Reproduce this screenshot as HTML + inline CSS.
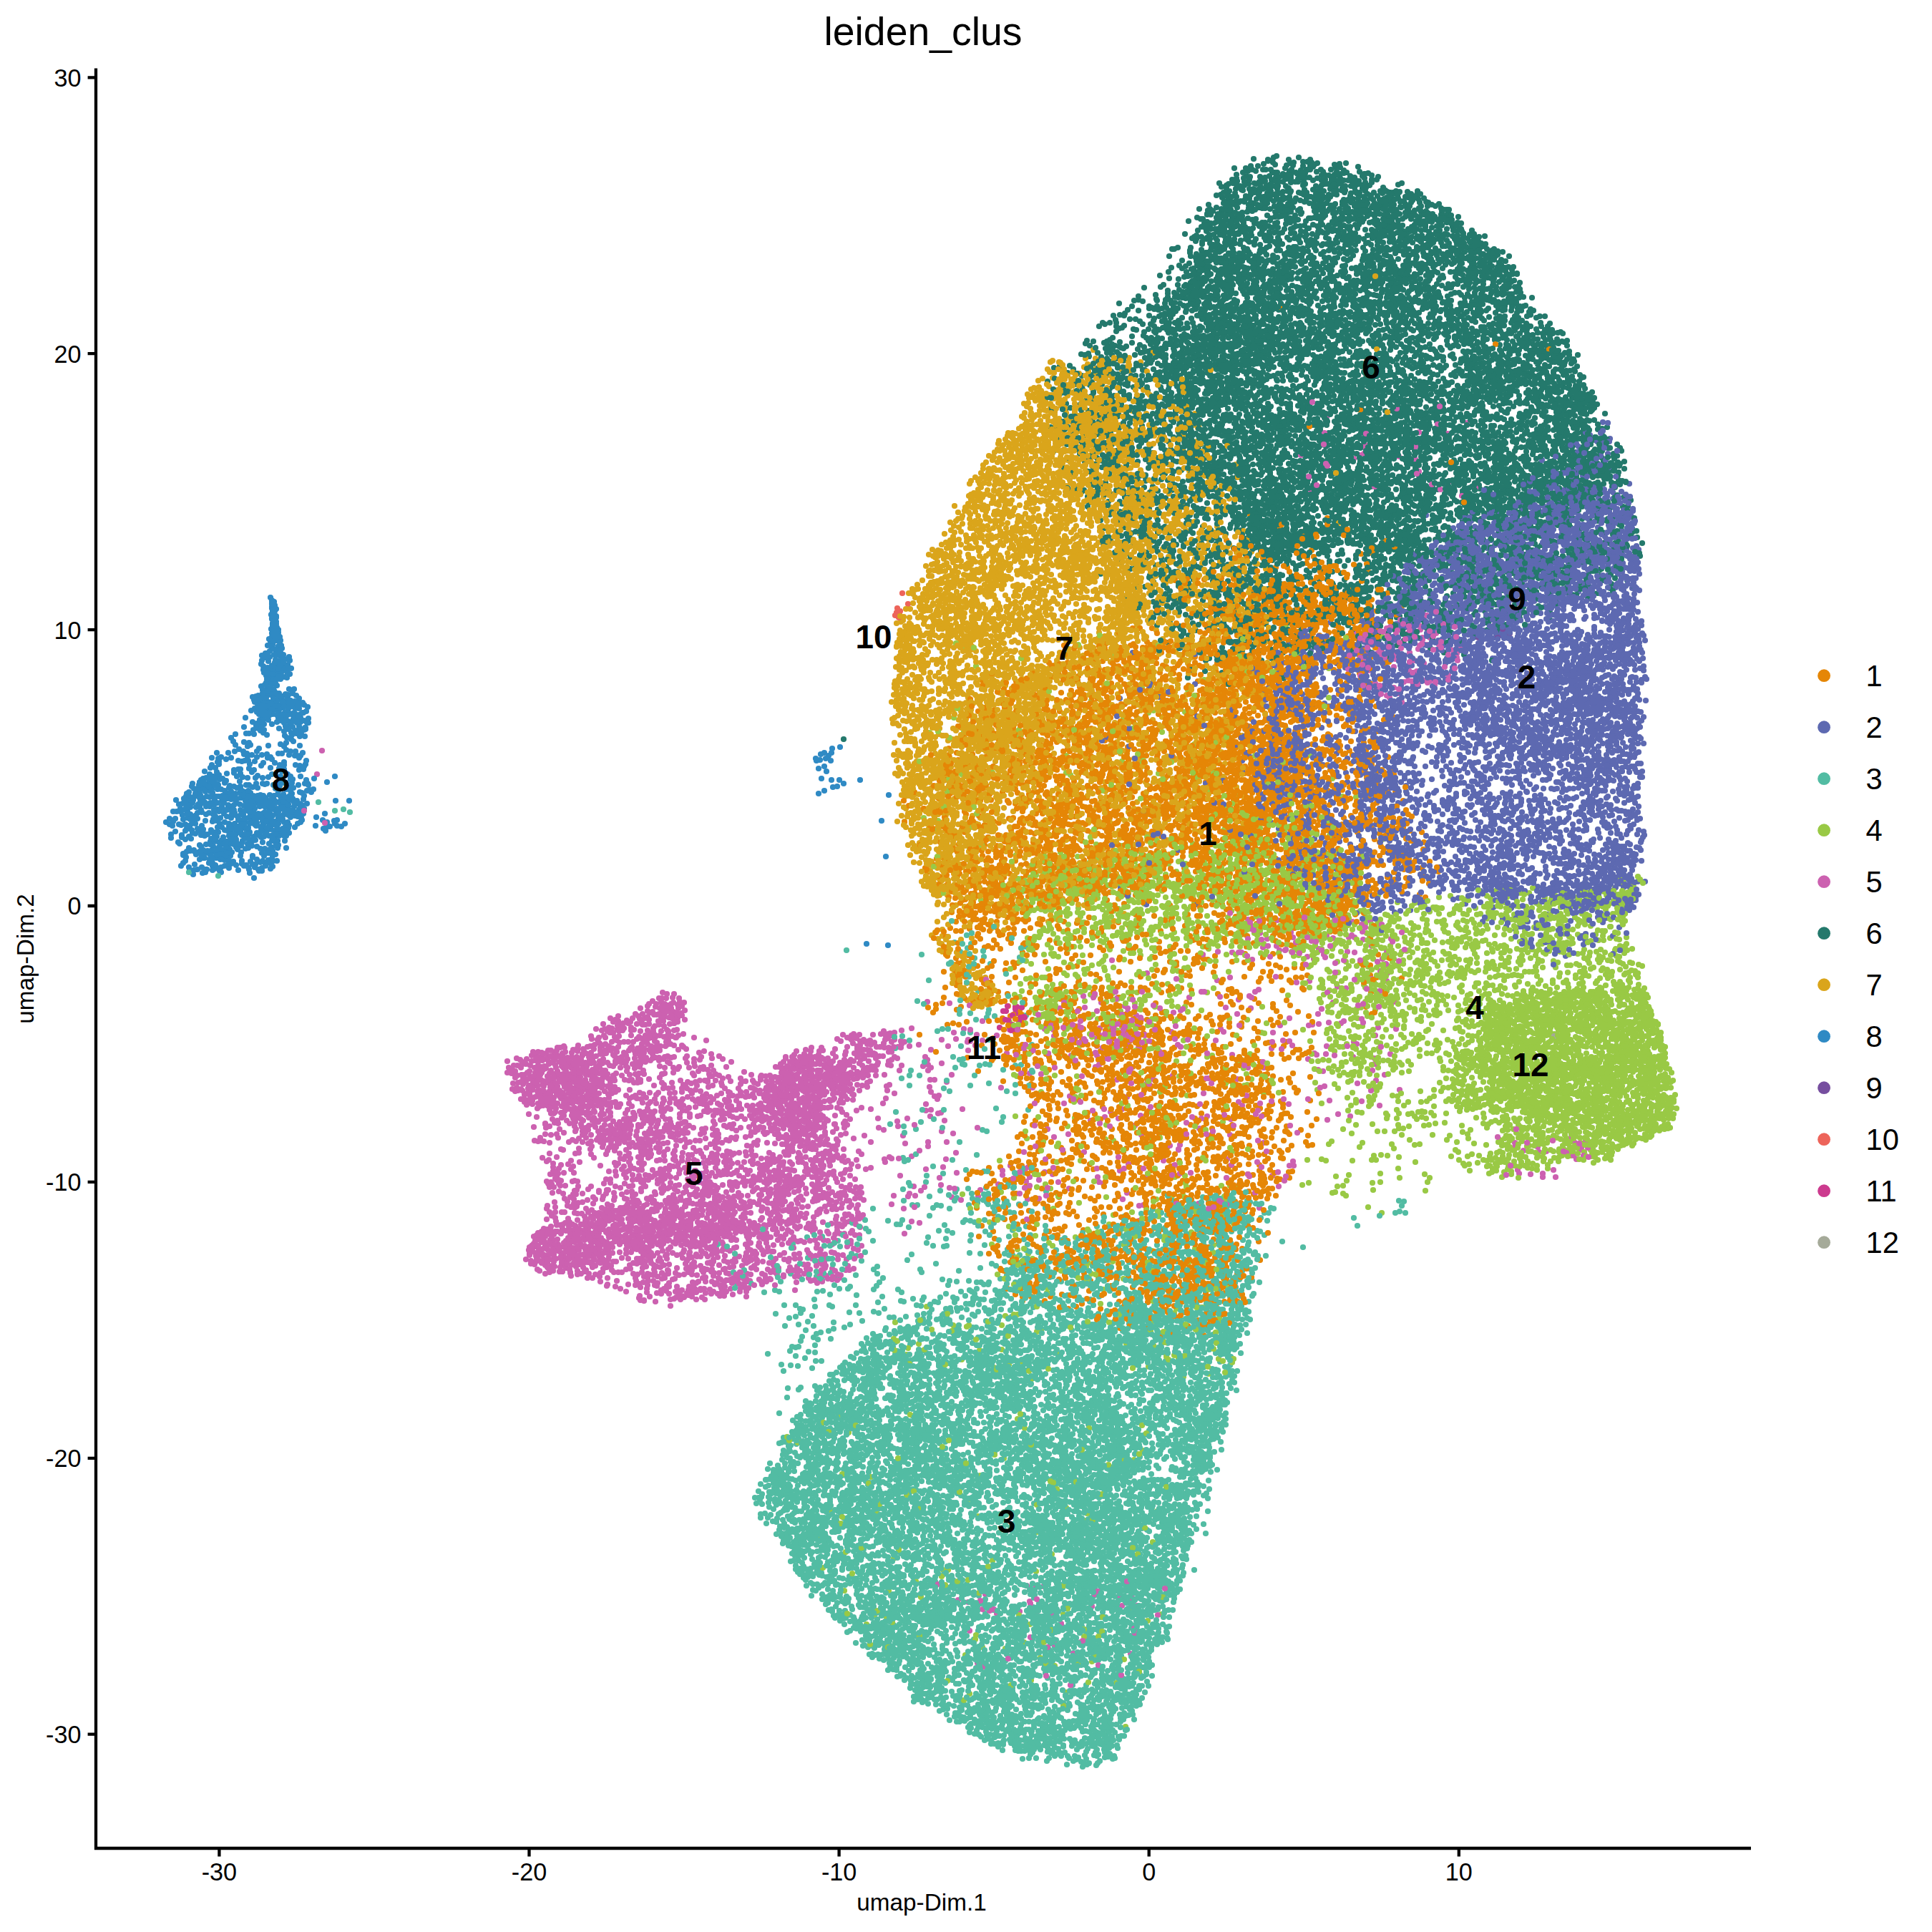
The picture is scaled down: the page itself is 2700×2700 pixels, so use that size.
<!DOCTYPE html>
<html><head><meta charset="utf-8"><title>leiden_clus</title>
<style>html,body{margin:0;padding:0;background:#fff}svg{display:block}text{font-family:"Liberation Sans",sans-serif;fill:#000}.t{font-size:34.2px}.a{font-size:33.3px}.l{font-size:45.8px;font-weight:bold;text-anchor:middle}.g{font-size:41.7px}</style></head><body>
<svg width="2700" height="2700" viewBox="0 0 2700 2700">
<rect width="2700" height="2700" fill="#fff"/>
<g fill="none" stroke-width="8.2" stroke-linecap="round">
<path stroke="#2F8AC4" d="m378 835zm2 9zm0 0zm0 6zm1 1zm0 4zm0-1zm0 1zm1-14zm0 5zm0 1zm0 0zm0 8zm1-14zm0 14zm3-4zm0 12zm-1 12zm-1-15zm-2 0zm0-2zm0 2zm0 7zm-1 6zm0 3zm-1-18zm0 7zm-1 14zm1 6zm0 5zm1 11zm1-17zm3 5zm4-1zm0-4zm3 28zm0 5zm-12-12zm-3 5zm-6 3zm-5 3zm-1 12zm3 3zm5 7zm3 1zm3 3zm2-6zm4 9zm0-16zm11 6zm5 4zm1-10zm3 13zm2-8zm4 29zm-3 2zm-4-2zm-7-17zm-14 19zm-5-17zm-4 14zm-5 4zm-2-2zm-2-5zm-10 19zm3-5zm3-1zm1 16zm3-10zm1 3zm5-3zm2 5zm1 5zm1-7zm5 6zm1-7zm1 4zm3-14zm4 16zm1-17zm3 8zm1 7zm1 5zm4-6zm0-11zm1 7zm1 7zm4 2zm1-9zm0 2zm5 7zm6-7zm1-5zm2 8zm9 26zm-5-14zm-4 7zm-3 7zm-2 0zm-2-9zm-10 7zm-4-7zm-2-4zm-4 10zm-2-4zm-1-11zm-3 17zm-4-17zm-8 1zm-8 10zm-5-9zm-6-4zm-3 19zm-24 17zm12-10zm28-4zm37 19zm7-10zm1 4zm3-1zm1-9zm1 14zm2-7zm6-3zm735 33zm-739 0zm-26-9zm-5-3zm-30 6zm-3 4zm-7 5zm-7-2zm-4-16zm-22 15zm-16 0zm-2 21zm15-12zm11 15zm6-13zm3 12zm2-11zm4-1zm4-6zm1 6zm21 3zm10-8zm12 16zm1-5zm2 4zm4-8zm16 4zm2-13zm3 3zm1 11zm1-14zm7 12zm1-5zm726-3zm25 35zm-9 4zm-15-21zm-698 15zm-31 2zm-6-10zm-11 4zm-3-4zm-39 2zm0 8zm-9 0zm-1-8zm-9 10zm-17-12zm-14-4zm-3 13zm-8-11zm-1 14zm-3-12zm-7 5zm-2-8zm-1 11zm-11-3zm-2 3zm-19 20zm4-6zm1 13zm1-6zm4 4zm2-5zm7 2zm0-14zm1 10zm4 4zm5-15zm1 3zm3 11zm1-8zm3 2zm3 10zm10 2zm1-8zm8 0zm1-11zm17 14zm12 1zm4-16zm1 18zm1 0zm2 0zm14-3zm4 4zm8-7zm5-2zm4 3zm16-4zm1 7zm15 1zm5-12zm4-1zm21 33zm-30 0zm-6-6zm-3-8zm-3 17zm-9-16zm0 3zm-3-1zm-5 14zm-1-18zm-1 5zm-2-5zm-4 8zm-1 7zm-6-13zm-2 14zm-1-7zm-6-3zm-3-2zm-9-4zm-5 20zm0-9zm-3-3zm-4 13zm-5 0zm-6-11zm-1-8zm-5-2zm-7 5zm-4 1zm-2 13zm-4-4zm0-15zm-2 8zm-1-3zm-2 16zm-4-12zm-5 1zm-1 6zm-16-3zm-6 1zm-2 3zm-8-11zm-4 15zm0-9zm-15 0zm-5 0zm-5 10zm8 18zm0-18zm16 14zm4-3zm3 5zm4-13zm1 4zm3-7zm19 16zm2-12zm4 15zm2-16zm1 9zm1 7zm19-10zm9 2zm6 2zm10-6zm0-1zm7 2zm2-7zm1 19zm4 0zm5-12zm0 6zm8-11zm8 14zm1-13zm0 15zm6 1zm13 0zm37-10zm10-8zm10 9zm10-9zm-71 22zm-11 13zm-1 4zm0-10zm-3-7zm0 9zm-5 7zm-4-16zm-6 18zm-6 0zm-3-19zm-2 16zm-9-4zm-21-12zm-2 5zm-2 4zm-1-8zm-2 5zm-1 14zm-1-19zm-3 8zm-11 1zm0 7zm-2 2zm-1-17zm-5 14zm-4-7zm0 4zm-13 3zm-17 2zm-25-19zm17 29zm4 3zm12 10zm7-7zm2-7zm7-2zm5 9zm8 8zm7-8zm5-10zm1 11zm5-4zm1 5zm2-7zm2-5zm2 13zm12 3zm21-6zm7-9zm1 11zm2-7zm6 6zm10-8zm-4 17zm-3 3zm-22-2zm-7 8zm-2-8zm-47 2zm-17 6zm-13 2zm-5-6zm-1-4zm-11-2z"/>
<path stroke="#CC61B0" d="m1855 581zm168 25zm-123 30zm5-11zm1 9zm2-12zm75 37zm-3-2zm-2-15zm-23-4zm-63 3zm132 33zm-192 11zm149 179zm-86 21zm13 1zm77-6zm9 21zm4-10zm9-6zm4 16zm25 0zm0 12zm-52-11zm-34 19zm-1-6zm-17 2zm-3-12zm-1 5zm-3 3zm-14 0zm-5 8zm4 4zm3 12zm35-5zm18 10zm3-5zm6 3zm5-2zm10-11zm34 17zm-19 13zm-7-5zm-3 2zm-5-3zm-22 0zm-20 10zm-24 2zm-180 322zm0 6zm171-4zm29 25zm-39 1zm-12-3zm-8 0zm-22 1zm-9-3zm-19 4zm-2 3zm-26-5zm-8-9zm-10 2zm-18 9zm-10-8zm-39 27zm28 10zm34-19zm12 6zm11-6zm20 15zm9 3zm14-6zm43-3zm24-9zm15 18zm7 20zm-336 0zm-49-18zm147 28zm58 13zm71-12zm51 10zm57-10zm11 29zm-86 1zm-109-15zm-23 11zm-52-11zm-117 8zm-23 7zm-243-1zm-358 3zm-12-16zm-1 8zm-1 5zm-8 7zm-4-8zm-7 7zm-45 19zm28-8zm10 0zm22 10zm4-4zm1-9zm1-2zm2 7zm1 2zm3-12zm2 4zm14-4zm9 3zm416 15zm108-18zm43 12zm9-8zm43 2zm3 12zm9-8zm52-4zm73-7zm35 1zm54 14zm40-6zm36 10zm44 20zm-48-17zm-31 1zm-54 2zm-83 5zm-69 4zm-46 9zm-3-17zm-12 8zm-19-8zm-9 4zm-2 12zm-9-13zm-1 9zm-3 5zm-26-17zm-2 14zm-32 0zm-1-9zm-61 0zm-64-1zm-100 9zm-6-2zm-40 1zm-11 1zm-2 4zm-10-5zm-208 4zm-15-5zm-9-6zm-18 10zm-6-2zm-1-15zm-6 2zm-3 16zm-3-6zm-2 7zm-5-19zm-12-1zm-8 5zm-15-5zm-4 7zm-4 11zm-2-6zm-6-7zm-7 11zm-1-16zm-2 9zm-96 30zm18 2zm3-4zm9 4zm11 0zm13-1zm2-4zm6 2zm14-6zm5 8zm12-13zm9 14zm2-4zm4-4zm2-8zm7 14zm10 1zm0-15zm13 0zm3 17zm2-21zm6 13zm4-11zm0 11zm4-11zm1 5zm7 14zm4-10zm2 6zm5-7zm7 0zm2-2zm2-6zm19 7zm6 5zm175-2zm16 4zm34-5zm6-10zm8 9zm14 5zm4-13zm0 14zm5 4zm1-15zm24 10zm9-4zm9-7zm37 11zm52-14zm3 2zm17-1zm34 18zm126-10zm22-1zm19-2zm16-5zm1 10zm30 6zm156-5zm60 7zm59-13zm47 14zm-22 6zm-30-2zm-49 18zm-2-21zm-12 6zm-62 12zm-22 0zm-10-8zm-12-10zm-176 5zm-13-4zm-2 16zm-34-16zm-2 3zm-179 8zm-15 6zm-4-4zm-1-7zm-55 7zm-15 0zm-9 6zm-5-2zm-9-11zm-16 7zm-5 1zm-10 4zm-3 1zm-1-17zm-7 11zm-5-2zm-4 2zm-1-8zm-3-2zm-3 5zm-9 4zm-7 4zm-1-8zm-6 9zm-1-12zm-6 14zm-3-6zm-2-7zm-2 10zm0-5zm-5 6zm-5-15zm-9 14zm-5 0zm-62-7zm-12-4zm-21 15zm-19-15zm-41-3zm0 15zm-2-12zm-6 2zm-9-3zm-3 3zm-10-4zm-4-1zm-1 14zm-17 1zm0-12zm-2 10zm-4-5zm-1-3zm-1-5zm-1 1zm-1 6zm0 8zm-5-13zm-5 11zm-5-1zm-10-3zm-4 6zm-14-7zm0-3zm-9 8zm-1 4zm0-19zm-3 20zm-5-18zm-7 16zm-1-4zm-1-5zm-4 3zm-2-5zm-3 11zm-1-16zm-9-3zm-3 7zm-4 4zm-4 2zm-1-11zm-5 4zm-3 2zm-1 9zm-1-14zm-4 7zm-2-8zm-2 6zm-5-7zm-8 12zm-12 2zm-12 3zm6 22zm3-8zm0-2zm3-1zm12 8zm3-3zm3-4zm6 4zm1-9zm3-2zm4 5zm2-3zm1 17zm7-3zm0-9zm4 6zm1-14zm1 20zm1-4zm0-12zm19 2zm1 11zm6-4zm7-6zm1 4zm5-2zm6-6zm2 3zm4 0zm3-3zm11 1zm5 7zm4-11zm7 16zm20-3zm6 1zm1-8zm6 11zm39-12zm30 15zm6-4zm9-9zm2 9zm2 5zm11-7zm4 0zm0 2zm2-11zm17 12zm1 4zm1-10zm40-5zm9 13zm5-12zm6 1zm1 7zm12-6zm8 9zm1-7zm3-6zm1 4zm7 12zm1-19zm0 6zm8 4zm5-10zm3 10zm0 4zm4-9zm0 11zm2-8zm2 10zm0-15zm1-3zm5 17zm1-11zm8-3zm1 14zm4 2zm5-5zm8 3zm0-15zm3-2zm1 19zm10 0zm0-6zm1-4zm2-7zm2 13zm2-7zm3 0zm0 3zm0-8zm3 14zm1-12zm4 5zm5-1zm0-9zm11 1zm7 12zm27 5zm57-7zm23 3zm7-10zm109-2zm122 9zm42 5zm8-6zm3 2zm75-3zm40 1zm120-11zm86 5zm21 21zm-105-5zm-276 15zm-80-1zm-257 3zm-26-16zm-19 11zm-17 1zm-11-9zm-1 7zm0 8zm-1-15zm-11 17zm-8-1zm-3-4zm-3 2zm-2-5zm-4-11zm-10 1zm-2 17zm-14-2zm0-6zm-7-12zm-1 19zm-5-5zm-2-3zm0-6zm-1 13zm-1-10zm-3 5zm-3-1zm-1-12zm-3 21zm0-19zm-7 16zm-2-13zm-2 11zm-6-10zm-8 10zm-23-2zm-2 6zm-9-11zm-2-1zm-36 12zm-6-2zm0 3zm-4-16zm-18 13zm-11-1zm-3-15zm-46 7zm-6 4zm-13 0zm-15-5zm-1-7zm-5-1zm-15 19zm-2-9zm-6 9zm-5-3zm-6-3zm0-8zm0 14zm-2-3zm-5-1zm-1 3zm-3 1zm-1-10zm-1-5zm-2 11zm-2-7zm0-5zm-4 6zm-8 8zm-7 0zm-2-7zm-7-7zm-7 4zm-5 8zm-3-15zm-9 0zm0 13zm0-6zm-3 8zm-3-15zm-1 5zm0-2zm-4 7zm-7 2zm-9-6zm-4 1zm18 15zm1 17zm12-8zm14-4zm11 9zm3-12zm15 0zm11 9zm3-11zm2 12zm6 3zm13-9zm1 6zm1 2zm19-12zm3 5zm0 8zm26-13zm6 13zm2 3zm7-5zm2 5zm2-17zm3 13zm5 7zm18-14zm2 13zm10-19zm23 11zm5 9zm23-18zm1 4zm21 11zm0-6zm5 4zm10 5zm9-19zm0 3zm3 5zm0 10zm21-8zm5-2zm1 4zm3-7zm5 14zm8-6zm0-7zm3 13zm6-14zm4 10zm0-9zm1 1zm7 3zm0-8zm4 11zm1-4zm11 3zm1 3zm0 1zm7-16zm1 5zm4-1zm1-5zm2 17zm1-8zm0 4zm1-7zm4-4zm1 8zm11 9zm2-12zm15 11zm50-9zm17-8zm60 10zm6 8zm1-9zm44-1zm199 11zm8-7zm16-4zm26 9zm93 1zm44-20zm5 5zm460 37zm-341-17zm-135-1zm-44 13zm-90-4zm-62-7zm-208 15zm-88-5zm-44-4zm-27-6zm-4 16zm-1-12zm-6 6zm-7-11zm-6 10zm-4-5zm-8 10zm0-3zm-2 6zm-1-9zm-2-3zm-4 6zm-2 1zm-1-8zm-10-6zm-14 0zm-8 12zm-9-11zm-9 14zm-3-3zm-6 6zm-20-19zm-7 14zm-16-12zm-7 16zm-1-10zm-2-4zm-16 11zm-18-5zm-2 10zm-9-13zm-4 6zm-11-8zm-2 14zm-5-18zm-1 12zm-2 5zm-8-10zm-9 11zm-5-16zm-13 6zm0 3zm-10-2zm-1 6zm-1-11zm-1-3zm-2-2zm-5 1zm-2 13zm-5 0zm-3-5zm-7 5zm-6 3zm-4-8zm-2 7zm-2-3zm-5 5zm-4-16zm0 10zm-2-13zm-16 19zm-6-19zm-4 6zm-1 6zm-7-4zm-4-4zm-24 8zm-5 2zm-1-6zm-7 20zm50 5zm4 10zm5-19zm5 4zm3 8zm4-3zm17 4zm1-5zm7 10zm1-13zm5 12zm4-2zm2-6zm1-8zm9 9zm6 3zm12 1zm1-8zm2 5zm9 3zm3-4zm1-3zm1 8zm4-6zm5-6zm3 8zm6-8zm7 8zm15-11zm12 11zm9 7zm9-10zm21 5zm1 5zm1-15zm8 8zm10-3zm9-2zm14-3zm27-4zm24 14zm18-4zm6 0zm0-7zm1 14zm4-1zm7 1zm0-14zm3 17zm0-5zm1-14zm3 11zm3-9zm3 4zm3 8zm7-1zm6 1zm6 2zm6-2zm5-14zm7-2zm11 7zm24 5zm45-9zm211 2zm122-3zm54 14zm70-14zm47 11zm351 6zm79-14zm5 8zm9 7zm6-10zm-8 13zm-5 13zm-42-11zm-32-1zm-322 15zm-92-3zm-68-13zm0-1zm-21 16zm-111-12zm-241 6zm-28 3zm-10 1zm-39 1zm-16 3zm-2-18zm-2 16zm-13-1zm-6 0zm-32-4zm-5 7zm-5-13zm-20-1zm-1 14zm-7-1zm-8-9zm-2 9zm0-4zm-5 4zm-1-4zm-16-4zm-5-1zm-2 9zm-18 2zm-5-13zm-6-2zm0 11zm-4-12zm-6 6zm-6-9zm-1 16zm-2-5zm-6-5zm-12 5zm-9 6zm-7-9zm-6 10zm-18-16zm-2 12zm-8-14zm-4 16zm-8-12zm-11 3zm-1-6zm0 9zm-9 10zm-4-16zm-3 15zm-1-8zm-26-5zm-2 14zm-5-18zm-12 5zm-17 5zm-26-6zm-10 15zm-10-21zm-16 6zm-1 9zm-3 2zm5 18zm4-4zm5 12zm6-21zm4 11zm51-10zm22 14zm11-13zm3 16zm4-10zm2-7zm9 19zm4-1zm7 2zm1-7zm9 3zm1-10zm3 7zm6-3zm2-5zm1 10zm3 1zm0-8zm2 10zm0-5zm5 0zm3 3zm8 1zm26-10zm7 9zm17-6zm12 3zm5-6zm3-7zm1 12zm4-10zm28 5zm9 13zm5-9zm10-9zm4 15zm0-2zm12-9zm1-5zm5-2zm3 16zm18 1zm14-4zm8-7zm2-3zm3 4zm6 4zm11 0zm6 3zm23-8zm0 9zm130-12zm94-2zm25 2zm2 14zm21-7zm11 3zm94-5zm6-3zm32 11zm37-15zm138 14zm343-8zm2 5zm16 1zm17-1zm15-5zm-384 23zm-212 9zm-33-13zm-48 7zm-60-10zm-39 4zm-14 16zm-66-15zm-28 8zm-84-5zm-2 6zm-13-9zm-6 4zm-14 11zm-10-11zm-7 7zm-5-5zm0-5zm-6 12zm0-5zm-14-3zm-7-11zm-7 3zm-5 2zm-5 7zm-13 3zm-12-3zm-5-7zm-4-3zm-4 18zm-6-10zm-6 5zm-2-14zm-5 20zm-1-20zm-3 6zm-11 1zm-27 2zm-2 4zm-2-7zm-9 14zm-8-6zm-5-13zm-3 10zm-2 4zm-3-11zm-25 2zm-28 12zm-20-4zm0-4zm0-9zm-17 6zm-6-4zm-6 6zm-9 7zm-14-13zm-7 12zm0-2zm-11-6zm-4 4zm-8 6zm-7-17zm-4 13zm-2 5zm-17-19zm-3 4zm-7 5zm-2 8zm-2-15zm-1 6zm-5-7zm0 38zm11-9zm1 7zm17-2zm5 2zm8-1zm2-5zm19 10zm5-15zm11-4zm10 17zm5-12zm15-2zm3 15zm2-3zm9-10zm13 8zm11 5zm7-7zm12 6zm5-15zm4 1zm3 7zm10-5zm6 4zm5 0zm0-4zm6 15zm4-1zm1-8zm5-4zm0 11zm1-3zm15 1zm4-11zm1 5zm11 2zm2-4zm13-8zm3 13zm4-12zm3 14zm4 2zm8-5zm14-7zm4 11zm6-13zm3-3zm7 15zm1 3zm2-9zm4-7zm4 10zm1 8zm4-1zm5-5zm3-3zm3 7zm4 0zm0-13zm2 5zm1-8zm5 13zm1-10zm14 2zm2-4zm15 11zm2 7zm11-8zm17-7zm14 11zm2-5zm64 5zm6-17zm61 1zm37-1zm69 4zm162 8zm77-2zm85 6zm-168 18zm-386-8zm-5 5zm-2-3zm-12 7zm-5-8zm0 9zm-20 2zm-20-16zm-9 19zm-8-11zm-14-2zm-3 8zm-5-3zm-10 2zm-3 3zm-1-5zm-2-8zm-6 15zm-6-1zm-2-16zm-5 17zm-21-5zm-8-10zm-1 17zm-8-2zm-6-8zm-4 7zm-2-3zm-3 2zm0 5zm-2-8zm-2 4zm-7-10zm-1 14zm-1-17zm-1 14zm-3-8zm-8-8zm-9 13zm0-11zm-4 15zm-1-15zm-3-3zm-5 8zm-3 10zm0 2zm-7-3zm-4 0zm-1-17zm-6 4zm-1 14zm-2-14zm-3 16zm-2-8zm-6-8zm-1 11zm-8 2zm-1-4zm-9 2zm-3 3zm-1-9zm-3-6zm-2 4zm-1 9zm-10-6zm-2 2zm-1-1zm-9 4zm0-8zm-6 13zm-2-21zm-8 11zm-9 8zm-2-18zm-4 6zm0 5zm-5-10zm-4 10zm-4 5zm-1-16zm-8 5zm0 4zm-3-4zm-4 11zm-4-5zm-5-10zm-1 15zm-5-15zm-3 17zm-4-2zm-5 3zm-1-11zm-9-9zm-2 18zm-12-13zm-25 29zm5 4zm3-4zm3 8zm1-10zm21-5zm0 11zm7-15zm5 17zm0-14zm3 10zm1-12zm4 11zm4 7zm6-2zm1-3zm6-2zm1-6zm11 1zm0 6zm4-9zm1 11zm0 3zm1-18zm1 20zm2-14zm1 12zm2-5zm8 6zm17-3zm2-5zm1-9zm4-1zm2-2zm0 10zm4-5zm2-2zm1 0zm3 6zm6-1zm5 10zm10-4zm6-3zm2 1zm2 7zm5-19zm2 3zm2 8zm2 8zm1-13zm4 5zm2-1zm12-1zm4 9zm11-7zm0 8zm5-16zm6 9zm3-4zm4 13zm7-9zm1 5zm1-2zm1-6zm2 9zm1-12zm2 4zm4-3zm6-2zm10 0zm6-3zm9 5zm4-7zm10 1zm0 4zm1 3zm3-5zm1 4zm11-5zm0 4zm3 15zm3-13zm7-1zm0 14zm15-15zm16-2zm8 13zm5 2zm4-1zm8-18zm12 1zm0 16zm12 0zm5-12zm9 9zm2-5zm13-1zm15 2zm69-2zm-60 17zm-33 13zm-8-15zm-10 14zm-6-7zm-7 9zm-5 4zm-5-8zm-2-4zm-10 12zm-8-6zm-3-12zm-14-2zm-3 15zm-12-5zm-6 0zm-7-2zm-5-6zm-5 8zm-3 3zm-3-5zm-6 4zm-10 5zm-22-11zm-1-7zm-13 13zm-2 2zm-2-7zm-5-2zm-7 5zm-2 7zm-12 1zm-3-16zm-2 18zm-6-12zm-4-7zm-6 14zm-9-11zm-3 3zm-4 9zm-11-16zm-6 16zm-2-14zm-11 7zm-11-10zm-5 8zm-3-4zm0-4zm-3 21zm-3-13zm-19-3zm-5 13zm-5-9zm-6 8zm-2 2zm-1-8zm-5-5zm0 4zm-2 4zm-6-10zm-4 9zm-3-10zm-1 13zm-5-16zm-6 16zm-1-6zm-3 8zm-3-2zm-1-4zm-2 6zm0-16zm-3 3zm-1 3zm-2 13zm0 0zm-5-16zm-2 6zm-8-1zm0-5zm-2-2zm-2-2zm-5 15zm0-8zm-5 11zm-6-6zm-1-4zm-4 8zm-1-13zm0 9zm-4-3zm0-5zm-4 9zm0-9zm-5 17zm12 7zm1-3zm11-1zm3 5zm6 10zm14-1zm3-9zm1 9zm5-5zm11-7zm1-5zm2 10zm2 6zm3-9zm2 13zm2-15zm3 12zm5-13zm5 3zm1-4zm0 8zm4-2zm11 4zm2-7zm3 5zm9-8zm4 0zm3 15zm16-10zm11 13zm6-3zm5-15zm1 7zm11 4zm1 4zm9-15zm9 12zm1 5zm1-13zm9 12zm16-17zm2 16zm19-3zm3-2zm4 1zm5-10zm1 13zm1-10zm2-7zm14 14zm12-11zm11 15zm10 2zm2-17zm4-2zm0 11zm8-7zm7 15zm16-12zm0 7zm0-7zm5 13zm2-9zm8-12zm8 11zm7 5zm3 4zm0-10zm9-3zm5 12zm1-12zm23-3zm11 9zm22-4zm-10 13zm-2 4zm-10 2zm-8-5zm-5 0zm-17 7zm-20 2zm-37-5zm-12 4zm-3-3zm-13 2zm-4 1zm-1-4zm-12 1zm-23 12zm-2-4zm-2-10zm-18-1zm-7 16zm-8 0zm-3-9zm-6 11zm-30-6zm-3-11zm0-4zm-4 5zm-19 3zm-2 11zm-4-17zm-5 15zm-6-9zm-11 5zm-18 3zm-11-3zm-11-11zm-10 2zm66 25zm6 7zm0-1zm4-11zm4 6zm8 7zm8-11zm11 0zm2 17zm5-10zm2-10zm1 8zm11 0zm4-6zm7 5zm6-6zm0 10zm8-3zm4 3zm30-11zm9 4zm10-4zm9 0zm405 412zm10 0zm164-14zm-58 28zm-125 7zm-62-10zm-24 11zm40 16zm32-3zm23 2zm22 3zm98-13zm21 0zm30 2zm-264 33zm164 9z"/>
<path stroke="#99C945" d="m1797 875zm-242 41zm-209-11zm18 26zm419 7zm-85 25zm-15-13zm-23 14zm-64-3zm-78-3zm256 31zm82 4zm-77 13zm-123-11zm-44-2zm-7 3zm-35 8zm-271 20zm48-1zm81 1zm196-1zm162 5zm11-10zm17 31zm-145-9zm-179 16zm78 8zm24 1zm72-5zm168-4zm30 32zm-25 10zm-218-17zm-123 2zm-6-3zm-75 13zm290 22zm64 3zm12 1zm95-6zm19 1zm3-3zm-142 32zm-42-17zm-25 8zm-398 9zm20 4zm16 8zm30 1zm354 3zm1-12zm7 17zm19-10zm23 3zm41-2zm16 4zm15 20zm-4-10zm-27 5zm-4 6zm-5-2zm-21 2zm-1 6zm-24-10zm-24-5zm-13 14zm-43-6zm-99 3zm-36-2zm-177 6zm-23-20zm88 29zm102 11zm16-17zm2 20zm13-9zm21 5zm12-1zm16-2zm17-3zm5-4zm9 12zm14-3zm10 3zm26-4zm15 1zm31-2zm7-11zm9 15zm2-11zm7-2zm2 6zm5 9zm2-10zm11 11zm6-15zm27 7zm1-4zm11-3zm6 13zm21-3zm2-3zm19-8zm6 9zm402 23zm-402-4zm-3 5zm-9-4zm-19 3zm-10 0zm-3-5zm-9 6zm-5-15zm-12 18zm0-11zm-6 1zm-4-8zm-7 14zm-5-2zm-10 7zm-21-5zm-18 0zm0-7zm-2-5zm-1-3zm-9 2zm-21 3zm-15 9zm-4 0zm0 6zm-14-2zm-2 2zm-1-4zm-8 0zm-11-8zm-15 4zm-16-6zm-4 4zm-7 0zm0-10zm-11 10zm-1 5zm0-14zm-6 2zm-2 16zm-6-10zm-14 6zm-13-6zm-1 5zm-1-1zm-7-3zm-12-4zm-6 15zm-25-2zm-17-15zm-17 5zm-3 4zm-2-4zm-61 4zm49 24zm44-13zm7 11zm1-8zm15 0zm7 11zm14 2zm13-13zm7-4zm0 6zm9-4zm20 8zm10 0zm13-3zm2-7zm7 5zm46 14zm2-3zm0-6zm6-1zm3-2zm4 10zm10 2zm7-14zm5 9zm3 1zm11-4zm4-6zm4 8zm13-8zm4 4zm8 0zm9 4zm16-5zm12 12zm13-9zm6-8zm9-4zm18 2zm1 6zm1 6zm11 0zm42-5zm18 0zm25 10zm101 1zm63-7zm12 5zm8-9zm11 5zm4 2zm12 0zm37 4zm14-3zm22-2zm17 6zm14-7zm4 5zm5 0zm15 2zm5-1zm9-15zm1 11zm3-9zm0 6zm-14 22zm-6-10zm-8 2zm-6 4zm-21-6zm-4 13zm-7-15zm-9 3zm0 8zm-2-6zm-2-6zm-5 12zm-1-5zm-16 1zm-1 6zm-4-13zm-9 1zm-1 8zm-2 6zm0-9zm-6-6zm-8 10zm-4-3zm-6 7zm-7 5zm-11-7zm-4-1zm-11 0zm-2-12zm-3 7zm-18 13zm-2-19zm-4 8zm-17 6zm-26-3zm-3 4zm-22-16zm-8 14zm-50-7zm-40 13zm-12-1zm-10-14zm-21 15zm-11-14zm-7 6zm-2 4zm-12-13zm-4 14zm-4-1zm-33 5zm-10-4zm-17 4zm-3-3zm-1-16zm-6 15zm-12-2zm-8-5zm-3 10zm0-18zm-1 11zm-4 8zm-11-2zm-10-18zm-32 6zm-1-6zm-9 7zm-23-7zm-15 10zm-28-8zm-4 6zm-2-8zm-3 16zm-9-10zm-7-2zm-1-4zm-19 10zm-2 8zm-9-7zm-13-11zm-10 14zm-5-10zm-12 10zm-8-15zm-1 8zm-9 13zm-9-11zm-7 4zm-4 5zm-3-9zm-3 5zm-7-13zm-1 15zm-2-13zm-2 11zm-32-2zm-48-9zm102 26zm1-1zm17-3zm4-3zm51 12zm1-6zm3 12zm1-6zm12-11zm5 19zm16 0zm12-20zm33 17zm1-18zm0 6zm2 8zm15-6zm9-2zm10 8zm15 0zm4 4zm8-4zm1 5zm5-2zm13-3zm4-8zm27-6zm21 5zm34 16zm9-19zm0 6zm1 3zm10-9zm7 12zm5-9zm20 15zm12-7zm8-6zm14-4zm0 14zm23-6zm1 4zm1-9zm8 10zm8-1zm1 6zm1-8zm2-4zm36-8zm7 13zm10 6zm6-12zm2-7zm4 15zm22-1zm4 2zm15 0zm3 3zm11 0zm11-6zm4-12zm14 6zm9-3zm0 2zm18 2zm0-9zm1 5zm6 4zm4-7zm13 11zm15 7zm7 1zm2-16zm2 9zm2-12zm2 11zm7-5zm6-1zm1-1zm5 10zm3-15zm3 20zm4-2zm13-13zm4 3zm0 9zm2-4zm1-3zm6 1zm1 4zm0-10zm8 12zm24-11zm7-6zm13 11zm6 31zm0-9zm-23 1zm-9-8zm-2-2zm-5 13zm-4-8zm-25 0zm-10 13zm-4-19zm-11 11zm-10 6zm-1-4zm-3-3zm-5-6zm-4 4zm-24 9zm-2-4zm-3-5zm-26-2zm-23-8zm-3 16zm-4-13zm-18 11zm-27 5zm-10-19zm-21 3zm-1 17zm-2 0zm-6-5zm-12-15zm-2 15zm-5 5zm-4-2zm-1-6zm-11 2zm-20 2zm-2-10zm-5 1zm-2-4zm-9 7zm-4-4zm-9 14zm-5-5zm-19 3zm-2 3zm-27-1zm0-9zm-3 4zm-2-10zm-2-4zm-3 11zm-8-12zm-8 18zm-2-11zm-3 3zm-38 6zm-5-14zm-17 7zm-17-1zm-8-3zm-25 8zm-7-7zm-28 3zm-31-4zm-1 9zm-3-5zm-26-7zm-3 6zm-1-6zm-18 3zm-34 5zm-13-1zm-4 8zm-12-8zm-11-4zm-7 12zm-2-14zm-3 1zm-6 6zm-5 8zm-6-14zm-10 13zm-22-9zm-2 4zm-16 1zm5 10zm28 12zm32-10zm12 12zm58 6zm9-9zm14 3zm16 2zm4-8zm21-6zm23-1zm23 1zm8 3zm13-4zm19 0zm41 10zm46 4zm6-7zm12-7zm11 11zm1-11zm16 8zm8-4zm12 4zm42 6zm3-14zm5-2zm6 4zm5 1zm5 13zm8 2zm6-18zm5 8zm11 8zm4-7zm20-3zm6 13zm3-10zm14-1zm7 11zm4-3zm5-1zm0-12zm3-3zm29 1zm21 7zm12 2zm4-1zm3-8zm5 6zm10-3zm11 1zm4 4zm6-4zm5 8zm4 6zm7-10zm3 2zm9-9zm7-1zm38 16zm0-12zm8 4zm9-1zm2 11zm7-3zm18-12zm1 10zm4 1zm1-15zm3 4zm3 6zm1-10zm10 4zm14 24zm-10 7zm-9 2zm-29-17zm-7 11zm-17 1zm-2-8zm-2-4zm-7 15zm0 3zm-4-2zm-5-11zm-23 13zm-6-8zm-3-9zm-15 9zm-9 5zm-16 1zm-10 5zm-5-1zm-12-19zm-1 8zm-1-3zm-5 1zm-16-1zm0 5zm-15 3zm-2-10zm-3 13zm-14 2zm-3-3zm-2-5zm-12-8zm0 15zm-21-10zm-4-6zm-15 12zm-3-13zm-5 13zm-1-14zm-24 14zm-10-5zm-1-7zm-2 9zm-4-3zm-8 13zm-5-15zm-15 3zm-8 9zm-19-10zm-4-6zm0 10zm-12-10zm-14 11zm-18-10zm-8 6zm-112 7zm-35-10zm-36 9zm-6-4zm-30 2zm-68-13zm-2 2zm-25 11zm-12 7zm-7-14zm-9 12zm0-15zm-53 23zm14 0zm23 15zm32 2zm13-1zm32-20zm2 16zm5 2zm50-15zm27 8zm19-5zm45 11zm125-7zm23 6zm4-9zm10-4zm0 17zm30-8zm1 5zm7-9zm2-4zm9 1zm1 11zm3-9zm9 1zm3 4zm6 1zm4-5zm9 8zm3-5zm6 9zm4-15zm0 5zm23-1zm6-1zm4-8zm11 16zm3-13zm11 0zm29-2zm25 20zm8-4zm2-7zm3 3zm2-11zm7 18zm5-1zm9-2zm14-4zm1 2zm5-7zm6 13zm6-10zm5 9zm7 1zm23-15zm6 10zm13-10zm11 15zm7-10zm6 5zm7-16zm13 19zm5-2zm18-5zm8 4zm14-7zm0-7zm20 15zm5 13zm-3 8zm-1-6zm-1 4zm-5 7zm0-11zm-4 11zm-14-10zm-1-6zm-9 4zm-2 11zm-11-2zm-6-11zm-2 13zm0-7zm-5-11zm-12 2zm0-4zm-4 0zm-2 16zm-2-3zm-2-6zm0 14zm-3-4zm-1-9zm-1-8zm-1 13zm-1 4zm-7-2zm-7 2zm0-10zm-1 6zm-3 3zm0-8zm-3 13zm-1-5zm0-7zm-3 9zm0-9zm0 2zm-4-7zm-3 14zm-6-8zm-1 5zm-3 2zm-2-15zm-1 10zm0-11zm-7 11zm-2-7zm-5-1zm-2 13zm-1 4zm-2-6zm-4-5zm0 9zm-2-18zm-5 18zm-4-14zm-1 6zm0 1zm-1-12zm-3 5zm-8 11zm0-4zm-8 6zm-3-13zm-6 11zm-2-13zm-18 15zm0-15zm-1 7zm-4-7zm-25 2zm-8-5zm-5 19zm-15-13zm-2 12zm-11-5zm-2 6zm-5-19zm-6 14zm-8 5zm-1-19zm-23 12zm-13-7zm-6 7zm-6 3zm-2-6zm-6-3zm-1 8zm-7-1zm-13-4zm-3 5zm-8-7zm-3 5zm-4-1zm-12 10zm0-10zm-2-11zm-1 10zm-4-9zm-3 4zm-21-1zm-50 1zm-113-4zm-44 2zm-6 10zm-6 1zm-24-9zm-7 2zm-5 11zm-13-18zm-5 1zm-15 9zm-7-8zm-9 12zm-16-9zm-6-1zm-8 9zm-15-9zm-5 17zm-3-13zm-1 5zm-2 5zm-14-17zm-1 11zm-11-12zm-1 16zm-13 3zm-1-5zm-18 4zm-6-11zm-7-3zm29 26zm6 6zm4-4zm12 6zm4 4zm1-19zm7 17zm8-12zm33 8zm5-4zm7 6zm30-5zm2-6zm64 6zm16 5zm97 1zm145-1zm9-1zm12-8zm2 5zm11-9zm9 18zm12-20zm12 10zm7 2zm1 5zm2-9zm5-9zm7 6zm4 11zm5 2zm6-15zm12 0zm3 0zm5 4zm12-4zm12 14zm6-14zm28 17zm2-15zm4 9zm1-14zm8 20zm7 0zm5-10zm0-8zm8 14zm2-4zm2 7zm2-19zm10 6zm2-4zm7 0zm1 8zm1 4zm1 6zm3-7zm12-6zm3-4zm4 14zm3-6zm4-10zm2 12zm4-1zm0-9zm10 10zm1-7zm4 6zm9 2zm2-15zm0 12zm1 6zm0-10zm9 4zm1-1zm3-11zm1 9zm12 6zm3-11zm2-3zm3 5zm2 14zm12-12zm1 5zm0-9zm6 13zm3-11zm13 15zm4-8zm2-5zm1 3zm6-1zm11 4zm1-12zm4 7zm7 8zm5-5zm1 6zm6 2zm6 18zm-3-14zm-1 19zm-6-7zm-5-14zm-1 11zm-3-8zm-1 15zm-4-18zm-2 5zm-4 1zm-3 2zm-1 11zm-1-9zm-7-8zm-2 10zm0 2zm-1-6zm-8 7zm0 2zm-3-14zm0 16zm-3-10zm-19 11zm-2-20zm-20 16zm0-7zm-1-5zm-1-1zm-3 12zm-2-10zm-10 0zm-4 3zm0-6zm-4 7zm-8-4zm-6 2zm-1 14zm-2-11zm-2-4zm-1-3zm-3 12zm-1-13zm-4 4zm-2 10zm-4 1zm-1-4zm-2-13zm-18 12zm-12-7zm-5 3zm-2 12zm-5-19zm0 20zm-3-3zm-4-9zm-1-5zm-3 11zm-3-10zm-3-5zm-1 11zm-4-2zm-2-3zm-1 9zm-5-12zm-4-1zm-6-1zm-3 7zm-1 13zm-6-19zm-8 16zm-1-15zm-5 14zm-18-10zm-17 3zm-16-9zm-55 2zm-9 6zm-5 10zm-13-2zm-10 0zm-15 1zm-16 3zm-11-3zm-3-6zm-9-3zm-34 0zm-51-9zm-3 14zm-4-1zm-159-10zm-33 17zm-3-15zm-7 5zm-35 9zm-3-4zm-87 1zm-3-16zm-9 32zm58 10zm27-11zm40-9zm6 12zm14-5zm41 6zm44-11zm13 5zm164-4zm2 18zm32-4zm14 4zm3-14zm9 5zm13-3zm8-9zm33 14zm6 2zm25-13zm18 17zm13-18zm5 4zm9 14zm22-20zm12 21zm2-19zm12 8zm2 2zm8 9zm6-15zm3 3zm4-4zm2 5zm8-5zm0 11zm5-15zm3 7zm7 7zm1-5zm1 0zm2 10zm2-5zm1-14zm3 13zm3-8zm7 7zm2-3zm2-10zm4 8zm3-8zm3 4zm1 12zm2 3zm3-8zm6 0zm1-6zm5 7zm0 8zm2-7zm4-8zm0-4zm3 11zm4 3zm3-15zm4 3zm6 16zm0-18zm22 10zm8 0zm5 6zm12-16zm1 10zm4-6zm6-5zm6 9zm1 5zm3 1zm3-4zm1-4zm3-2zm2 10zm1 6zm10-9zm4 6zm5-8zm3-8zm1 13zm7-5zm0 7zm18-2zm2-6zm10 33zm-6-3zm-2-10zm-3 8zm-2-3zm-7 6zm-7-15zm-2 1zm-1 12zm-7 1zm-2-10zm-4 3zm-4-9zm0 12zm-1-6zm-1 10zm-2-4zm-5 5zm-5-14zm-2 7zm0-4zm-3 8zm-4-5zm-4 8zm-1-16zm-2 8zm-4-7zm-1 18zm-2-9zm-1-11zm-3 3zm-1-1zm-2 15zm-14-5zm-11-8zm-3 4zm-6 5zm-2 7zm-13-11zm-1 3zm-2-8zm-3 9zm-4-12zm-4 16zm-4-12zm-3 6zm0 2zm-6 6zm-9-13zm-11 6zm-5 0zm-2-3zm-3 1zm-5 7zm-1 1zm-1-17zm-4 15zm-3-9zm-4 7zm-1-4zm-3 8zm0-15zm-1-4zm-6 18zm-1-9zm-5-7zm-2 16zm-8 0zm-9-11zm-1-5zm-6 11zm-4-9zm0 7zm-3-10zm-7 4zm-2 5zm-4-4zm-3 8zm-16 0zm-24-9zm-44 4zm-18 9zm-2-9zm0 3zm-4 2zm-4-6zm-14 10zm0-14zm-45 6zm-17 6zm-7 3zm-20 1zm-107-10zm-36-9zm-50 8zm-21 5zm-11 4zm-112-18zm-1 4zm-82 24zm4 2zm53-1zm90-1zm40 4zm44-2zm91 13zm3-16zm1 15zm101-19zm34 2zm22-1zm24 5zm16-2zm77-5zm13 12zm2 6zm7 0zm5 2zm1-12zm1 6zm11-4zm3 8zm9-9zm14-1zm12 6zm3 0zm0-5zm3 11zm1-20zm1 17zm1-6zm6-7zm14-4zm2 11zm11-7zm2 5zm2-3zm6 3zm1-9zm4 3zm3 18zm1 0zm2-10zm0-11zm3 7zm0 5zm4 8zm2-4zm3-5zm0-7zm1 16zm4-7zm6-11zm1 3zm2 7zm1 7zm1-15zm5 3zm8-7zm2 5zm0 7zm0-6zm10 13zm4-11zm11 8zm0-13zm4 15zm5-12zm4 11zm2-9zm1-5zm0 16zm0-7zm5-6zm3-3zm5 17zm1-11zm1 6zm3-13zm2 13zm2-12zm4 7zm1-5zm0 11zm8-16zm8 19zm5-11zm3 6zm5 4zm2-12zm3 11zm1-14zm4 13zm4-14zm7 8zm8 0zm4 0zm5-7zm2 11zm1 27zm-10-17zm-1 13zm-7 0zm-4-10zm-5 1zm-1 3zm-1 1zm0 6zm-6-4zm-2-10zm-5 9zm-8 6zm-1-12zm-11 15zm0-18zm-10-2zm-3 14zm-3-12zm-4 1zm-6 4zm-4 0zm-3 13zm-2-18zm-11-1zm0 16zm-1-8zm-2-5zm-1 11zm-10-11zm-2 14zm-3-2zm-12-5zm-4-1zm-3-3zm-3-7zm0 20zm-3 1zm-2-10zm-2-11zm-4 7zm-3 12zm-2-7zm-1 4zm-13-11zm-1 13zm-3-2zm-4-15zm-1 13zm-5-10zm-1-3zm-2 9zm-3-2zm-15-1zm-5-5zm-1 13zm-3-12zm-2 2zm-1 4zm-4 5zm-2-13zm-3 12zm-2-3zm-5 11zm0-14zm-6 2zm-3-1zm-1 5zm-4 1zm-11 3zm-3-12zm-5 1zm-2 11zm-4-6zm-15-5zm-1 3zm-10 10zm-3 2zm-4-3zm-8-16zm-3 5zm-10 7zm-79-13zm-1 5zm-3-4zm-7 19zm-1-6zm-147-5zm-35-6zm-89 16zm-187-12zm429 26zm11-11zm18 5zm3-3zm39 13zm13 1zm23-3zm13-8zm41-3zm5 3zm3-4zm33 6zm5-1zm1 7zm8 7zm1-9zm4 7zm1-9zm1-6zm8-4zm17 15zm3-12zm3 16zm1-10zm0 11zm4-12zm1 6zm9-13zm1 18zm5 0zm3-11zm1 8zm12 2zm12 1zm1-12zm0 13zm2-8zm2-3zm4-7zm2 9zm3-3zm3-6zm4 7zm1-4zm2 16zm1-13zm5-8zm1 19zm3-5zm7-6zm1 7zm2 6zm2-11zm0 8zm3-4zm7-7zm13-5zm3 3zm1 9zm2 7zm2-9zm3-2zm4 10zm2-20zm1 17zm18 3zm3-6zm6-12zm6 11zm1-5zm13-5zm0 14zm2-17zm2 3zm3 2zm1 13zm1-9zm7-1zm2-8zm-7 23zm-1 8zm0 6zm0-6zm-5 1zm-12-9zm-4 10zm-1 9zm-1-5zm-2-12zm-1 15zm-7-14zm-1 11zm-12 6zm-7-16zm-2 11zm-7-14zm-2 19zm-1-3zm0-18zm-8 11zm-1-6zm-3 13zm0-8zm-6 3zm-1 3zm-2-13zm-2 10zm-5-9zm0 3zm0 7zm-4-1zm-5 8zm-7-8zm-4 8zm-2-13zm-2-3zm0-4zm-6 0zm-1 19zm-10-4zm-11-4zm-1-3zm-3 9zm0-1zm-5 3zm-7-19zm-18 3zm-1 11zm-2-7zm-4 4zm-9-10zm-2 14zm-9-3zm-1-12zm-5 20zm-12-19zm-7 2zm-22 10zm-4-14zm-11 0zm-19 20zm-1-9zm-24-4zm-13 1zm-9 2zm-28 2zm-15-2zm-59 0zm-18 6zm-168-10zm-88 14zm-37-6zm-38-4zm-44-10zm-67 29zm110 1zm11 2zm51-4zm297 7zm41 2zm3 6zm29-5zm7-1zm38-6zm29-8zm9 13zm34-2zm2-3zm3 8zm6-14zm2 12zm18-13zm2 9zm1-7zm4 1zm2 13zm6-10zm6 4zm6-7zm12 1zm7-3zm16 8zm2-4zm1 7zm4-2zm7 5zm8-4zm14-1zm3 9zm5-15zm10 13zm8-11zm4 7zm11-15zm0 2zm0 7zm6 2zm9-4zm1-1zm1 11zm9-11zm5 1zm5 2zm8-6zm-57 34zm-4-3zm-3-12zm-11 5zm-4 6zm-2 8zm-2-14zm-2-4zm-9 3zm-18 2zm-1 3zm-2-7zm-6-1zm-8-1zm0 11zm-7 1zm-5 5zm-10 0zm-17-14zm-4 0zm-1 14zm-7-7zm-25 8zm-3-13zm-10 7zm-8-2zm-4 6zm-5-1zm-16-8zm-4 14zm-19-20zm-56 17zm-61-3zm-64 1zm-26-1zm-105-12zm-80 36zm412-9zm28-7zm20 9zm6-7zm4 6zm5-8zm7 1zm39 3zm-234 19zm-10 11zm-1-10zm-37 18zm-52-18zm-100 6zm-10-2zm-66 13zm-15 1zm-19-7zm-208-12zm-12 14zm254 22zm2-15zm56-1zm2 5zm11 33zm-51-2zm-117-10zm-6 13zm-140 3zm-27-6zm120 21zm19-8zm43-1zm98 7zm2-5zm60 36zm-55-13zm-60 3zm-139-7zm-28 18zm-6-7zm-15-6zm-36-7zm132 31zm3-5zm34-2zm60 10zm46-9zm52 34zm-3-11zm-74 12zm-46-12zm-20 0zm-28 15zm-78-2zm207 19zm33 27zm0-4zm-60-13zm-3 6zm-219 2zm-22 15zm49 9zm6-2zm154-11zm48 7zm21 1zm-104 22zm-174 8zm-31 1zm-85-9zm-17 15zm122 18zm21-4zm18-4zm51-10zm126 17zm36-16zm6 4zm42 22zm-35 4zm-212 3zm-52-10zm-217 60zm249 6zm10 13zm-246 6zm217 36zm166 2zm16 0zm12-13zm-40 22zm-65 12zm-122 1zm-153 2zm273 43zm-136-12zm-193 16zm206 8zm150 6zm100-13zm-168 29zm-306 7zm327 24zm-22 24zm-130-2zm-69-16zm31 32zm-38 13zm-62 0zm42 34zm17 3zm185-3zm62-1zm95-9zm23 18zm19-9zm-184 14zm-228 0zm162 32zm32 2zm26-9zm98 18zm-3 9zm-52 6zm-125-15zm92 35zm119 4zm-70 13zm-32 8zm-103-6zm218 46z"/>
<path stroke="#52BCA3" d="m489 1135zm-9-4zm-12 2zm-204 86zm1093 100zm-23-2zm-46 17zm54-4zm10-5zm10 14zm13-2zm58-14zm-49 24zm-39 13zm-47 10zm56-5zm13 20zm-76 18zm-9-4zm97 23zm3-11zm8 9zm-34 23zm-39-5zm-66 27zm20-11zm72 8zm99-2zm-23 29zm-17 6zm-54-7zm-77 29zm2-21zm146 32zm-130 23zm148 0zm-37 17zm-21 13zm-6-2zm-93-1zm-16 5zm-20-12zm97 25zm-77 27zm-2-5zm33 25zm137-4zm260 32zm-230-6zm-54-7zm-27 10zm-3-8zm-25 1zm-16 1zm-2 4zm-41-14zm-32 10zm13 22zm7 0zm17-12zm35 6zm25-3zm7 6zm11-8zm2 7zm2 3zm10-3zm3 5zm10-5zm5 4zm15-1zm37 5zm150 2zm25-1zm3-11zm29 4zm13-9zm4 20zm4-15zm9 13zm3-12zm8 10zm6-3zm21 5zm11-11zm16 2zm13 6zm183-3zm-62 28zm-124-18zm-11 7zm-20 8zm-19-12zm-8 12zm-8-15zm-4 11zm-2-12zm-6 17zm-5 2zm-4-19zm-6 15zm-4-12zm-20 14zm-9-4zm-4 1zm-8-14zm-4 4zm-11 15zm-15-8zm-14 4zm-20-9zm-9 13zm-12 2zm-17-1zm-72-1zm-27 1zm-17-19zm-6-1zm-22 15zm-33-3zm-7-1zm-3 3zm-26 4zm-21-13zm-38 6zm-70 4zm-63 20zm21-1zm22 6zm49 0zm102-3zm2-11zm33 6zm20-5zm38-2zm16 13zm9-6zm43 7zm5-3zm19 1zm7-1zm60-5zm3 9zm1-10zm7 12zm10-16zm14 1zm1 5zm38-4zm4 15zm1 0zm1-19zm5 19zm6 0zm17-2zm0-8zm4 3zm26-14zm7 17zm2-12zm12 1zm4 11zm0-17zm8 20zm12-16zm10 6zm-15 27zm-14-2zm-1-5zm-22-7zm-3 1zm-4 0zm-24 12zm-1-11zm-5 11zm-3 4zm-1-4zm-3 1zm-14-4zm-6 6zm-3-13zm-9 5zm-4-9zm0 17zm-2-8zm-8-1zm-17 13zm-4-9zm-3 5zm-6 4zm-3-3zm-5-16zm-24 3zm-14-4zm-19 10zm-5-11zm-11 1zm-63 11zm-26 4zm-10 0zm-7-8zm-53 5zm-32-10zm-19 0zm-30 12zm-76-14zm-1 16zm-7-3zm-16-10zm-45 16zm-21-19zm-22 30zm32-3zm23-2zm4 14zm6 1zm53-17zm82 12zm100-8zm33 9zm16-15zm1 6zm10 2zm0 8zm14-5zm4 1zm3-9zm12 5zm0-4zm4 2zm6 0zm5 12zm0-13zm4 8zm5-8zm2 15zm11-19zm2 1zm14-2zm3 8zm7-6zm7-1zm12 18zm7-14zm5 14zm5-15zm8 6zm24 11zm9-10zm14-11zm7 19zm1-6zm4-10zm10-3zm3 18zm14 3zm13-12zm14-7zm4 16zm1-8zm2-4zm18 6zm1-10zm1 7zm7 0zm3 7zm1-4zm3-10zm8 12zm2 16zm-7 0zm0 5zm-11-7zm-5 11zm-1-6zm-22-10zm-6 4zm-12 12zm-27-8zm-10 12zm-19-1zm-12-3zm-1-17zm-1 9zm-7 3zm-2-8zm-4 12zm-4 5zm-34-2zm-20-19zm-10 5zm-6 12zm-19-5zm-4 1zm-23-4zm-12-7zm0 18zm-3-3zm-2-4zm-7 2zm-1-13zm-1 16zm-4-2zm-3-12zm-2 13zm-3-17zm-9 2zm-6 4zm-1 10zm-22-4zm-4 9zm-5-16zm-71 3zm-2 6zm-8-8zm-62 14zm-82-1zm-4-15zm-3 10zm-17-7zm-8-5zm-58 19zm-33-9zm88 22zm4-11zm8-1zm10 5zm103 10zm13-4zm15-2zm59 9zm8-17zm2 13zm4-4zm6 2zm32 5zm3-12zm31-4zm3-1zm7 15zm6-10zm2 12zm1-10zm4 13zm12-16zm1 12zm20-10zm14 7zm2-4zm15 6zm1-3zm12-4zm15-8zm7 6zm20 14zm1-16zm0 10zm0-1zm6 1zm1-5zm7 4zm2 7zm17-20zm1 21zm3-17zm18 0zm0 7zm5-3zm11 7zm6-9zm10-3zm6 14zm12-10zm8 12zm3-14zm9 2zm12 11zm3-10zm2 10zm6-14zm8 17zm10-6zm7-11zm-7 25zm-5 3zm-10 2zm0 4zm-1 1zm-7 1zm-1-14zm-5 14zm-7-14zm-4 0zm-3-1zm-6 13zm-9 0zm0-10zm-11-1zm-3 3zm-15-8zm-3 8zm-6 9zm-11 3zm-9-4zm-4 3zm-6-7zm-3 0zm-9-6zm-2 15zm-3-16zm-2 4zm-1 2zm-9-10zm-5 4zm-5 10zm-5-4zm-10-5zm-20 13zm-1-7zm-4 4zm-5-6zm-4 3zm-6 1zm-14-2zm-4 1zm-2 3zm0-8zm-19 8zm-7 2zm-7-15zm-4 8zm0-11zm-5 0zm-8 19zm-20-19zm-3 4zm0 0zm-2 4zm-4-4zm-17 12zm-12-2zm-2 5zm-5-19zm-4 8zm-35-4zm-14-2zm-8 5zm-2 12zm-18-1zm-7-14zm-3 11zm-8-5zm-1 7zm-7 3zm-1-8zm-16 2zm-45-7zm-20 2zm-14-1zm-24-8zm-28 13zm-16-4zm-1-6zm-6 11zm-9 2zm-19-6zm13 17zm19-2zm49-3zm0 9zm55 7zm6 4zm12-12zm20 5zm19-5zm5 9zm2-15zm15 0zm5 14zm10 2zm9-18zm9 15zm2-7zm3 5zm2 2zm8 1zm7 0zm3-4zm2-5zm8 14zm5-12zm0 11zm16-2zm6 2zm0-19zm4 14zm5 0zm3-4zm8 2zm3-1zm13-12zm1 8zm4 3zm3 4zm1 5zm1-20zm5 18zm6-16zm19 18zm9-7zm7-4zm12 2zm8-2zm0-4zm6 9zm5 1zm1-10zm5 15zm0-15zm7-2zm1 16zm3-1zm2-5zm36 1zm12-10zm4 13zm10 2zm4-14zm6-1zm8 0zm1 7zm10 7zm2-17zm3 19zm1-1zm5 0zm8-9zm5-10zm2 20zm3-10zm18 4zm2 7zm0-4zm0-9zm5-1zm4 0zm17-1zm3 6zm5 9zm3-18zm0 11zm1 7zm1-12zm8-7zm0 14zm6-2zm3 4zm2 25zm-1-13zm-5 5zm-4-8zm-5-3zm-1 14zm-2 4zm-1-17zm-1 10zm0 0zm-3-9zm-4 0zm-3 4zm-1 11zm-4 2zm-7-15zm-10 0zm-1 5zm-3 2zm-4 3zm-2-4zm-3-9zm0 17zm-3-20zm-6 19zm-3-9zm-7-7zm-4 0zm-3 11zm-2-11zm-9 4zm-1 9zm-4 4zm-2-17zm-6 10zm-4 2zm0-12zm-4 17zm-6-3zm-1 4zm-3-18zm-2 4zm-2-4zm-1 6zm-2-4zm0 7zm-4-6zm-1 9zm-3-8zm-2 10zm-1-6zm-1-5zm-6-5zm-4-1zm-7 14zm-5-11zm-3 13zm-8-3zm-4-2zm-1 4zm-4 6zm0-19zm-6 11zm-3-9zm-2 10zm-1-13zm-24 19zm-5-4zm0-9zm-1-6zm-3 11zm-5-11zm-2 4zm-13-5zm-13 12zm-1 7zm-6-13zm-4 15zm-4-10zm-15 6zm-5-17zm-1 21zm-1-3zm-2-9zm-1-6zm-6 7zm-11-10zm-10 15zm-9-14zm-8 3zm-5 1zm-10 15zm-7-1zm-5-16zm-5 4zm-1 5zm-3-4zm-3 7zm-2-8zm-4-7zm-6 1zm-20 3zm-12 17zm-6-21zm-1 18zm-4-2zm-8-10zm-7-4zm-8 15zm-7 1zm-16-13zm-2 4zm-4 3zm-3 1zm-5-8zm0-4zm-4 1zm-3 13zm-6-15zm-4 12zm-3 6zm0-10zm-7 13zm-58-1zm-9-1zm-18-6zm-8 5zm11 21zm10-11zm15 4zm8 0zm39 5zm1 4zm1-15zm4 13zm10-10zm11 13zm11-19zm3 9zm3 3zm6-7zm2 4zm12-9zm1 6zm6 12zm4-10zm4 12zm5-20zm2 8zm3 8zm5-13zm1 3zm3 14zm11-3zm14-10zm1 1zm1 5zm9-3zm1-7zm7 1zm0 9zm2 4zm21-13zm13 6zm0-3zm15 5zm5-6zm1 8zm12 2zm5 4zm0-4zm4-13zm2 5zm0 9zm13-8zm6-2zm8-4zm2 9zm0 3zm1 3zm7-7zm2 4zm2-8zm6-6zm5-1zm1 7zm12 3zm30 6zm2-7zm7-10zm14 0zm13 12zm1 6zm2-14zm3 17zm8-20zm5 5zm5 10zm1 5zm1-8zm6 0zm6 0zm2-4zm9 2zm2 5zm8-10zm9 13zm3-2zm1-14zm4 2zm6 10zm20-3zm5-2zm4-7zm3 4zm0 5zm10 9zm1-9zm2-10zm3 7zm6 11zm10-11zm8 12zm18-3zm4-13zm4-1zm5 27zm0 9zm-8-12zm-4 4zm-11-9zm-1 3zm-6 16zm-16-16zm-7 16zm-2-18zm-6 16zm-9-12zm-1 14zm-4-15zm-2 11zm-10-8zm-10-7zm-8 5zm-3 3zm-2-7zm-3 13zm-4-9zm-2 6zm-13-11zm-1 8zm-4 7zm-15-4zm-3-9zm-4 8zm-17-7zm-1 9zm-4-7zm-7 14zm-5-6zm0-12zm-4 8zm-4 11zm-2-19zm-2 9zm-6-5zm-19-2zm-5 16zm-18-19zm-8 19zm-4-3zm-20 4zm-6-11zm-1 5zm-2-9zm-4 10zm-2-10zm-8 14zm0-12zm-6 1zm-19-4zm-4 0zm-2 4zm-9-3zm-2 8zm-4-11zm-14 7zm-8-5zm-7 12zm-7-10zm-10 7zm0-5zm-4-8zm-1 15zm-8-10zm-4 13zm-3-14zm-6 16zm-1-17zm-5 17zm-9-15zm-4 10zm-2-6zm-11 11zm-1-12zm-3-6zm-3-2zm-1 8zm-4-4zm-2 11zm-5-1zm-4-6zm-1 3zm-8-1zm-5 9zm-10-6zm-3-14zm-3 7zm-3-6zm0 11zm-2 6zm-2 2zm-6-18zm-3-2zm0 15zm0 1zm-4 5zm-3-6zm-1-7zm-4 4zm-2-10zm-22 19zm-3-5zm-43 12zm26 1zm4-4zm7 7zm2 3zm2-4zm5 7zm3-13zm1 7zm5 6zm8-7zm8 8zm5-11zm6 13zm9-12zm3-7zm0 9zm0 0zm2 3zm9-1zm16 7zm4-4zm4 0zm0 7zm1 0zm4-18zm18 16zm1-7zm4-8zm0 10zm8 4zm1-11zm3 13zm1-18zm1 10zm7 6zm19-4zm5 5zm5-9zm3 2zm6-11zm1 11zm12-8zm4 9zm6-3zm12-9zm3 8zm2 7zm6-16zm5 7zm11-3zm2 6zm5-6zm9 4zm5-4zm1 4zm2-4zm1 15zm6-15zm5 10zm4 2zm3 2zm7 2zm23-6zm5-1zm13 3zm0-6zm5 10zm5-10zm7-10zm3 8zm5 7zm6-8zm5-3zm5 17zm2-13zm3 2zm6-8zm0 12zm8 4zm3-11zm12 9zm16-5zm4-4zm1 7zm2-9zm4 9zm2-10zm5 5zm2 3zm0-12zm16 21zm5-17zm0 17zm8-2zm2-14zm5 11zm3-3zm4-10zm8 7zm4 11zm3-14zm3-4zm9 1zm13 3zm0 8zm6-4zm3-10zm2 8zm9 8zm5 4zm8 0zm2-10zm6-7zm-7 35zm-11-8zm-1-5zm-6 13zm-9-12zm-15 12zm0-12zm-2 8zm-5-2zm-2 7zm-1-13zm-1 5zm-5 10zm-3-5zm-3-10zm0 4zm-14 1zm-9 0zm-4 5zm-6-1zm-5-10zm-6 7zm-2 5zm-9-2zm-7 7zm-2-4zm-4-2zm0-10zm-11-1zm-6 3zm-7-7zm-7 1zm-1 4zm-1 7zm-5-9zm-1 6zm-16-7zm-5 16zm-2-4zm-3-12zm-3 17zm-3-14zm-14 15zm-1-15zm-3 2zm-4-4zm-3-2zm-4 13zm-2-3zm-2 3zm-4 1zm-1-8zm-7-4zm-2 18zm-33-2zm0-18zm-12 9zm0 4zm-4-4zm-1-4zm-1-6zm-2 6zm-4 1zm-22-7zm-6 3zm-16 3zm-5 11zm-3-15zm0 19zm-14-3zm-1-4zm-20 5zm-4-13zm-17 1zm-1 14zm-13 0zm-1-15zm-7 15zm-9-6zm-7-4zm-4 4zm-1-15zm-4 2zm-5 18zm-5-5zm-11 5zm-5-12zm-12 1zm-2 12zm0 0zm-5-11zm-8-6zm-4 12zm-1-8zm-3 5zm0-12zm-4 14zm-1-10zm-6 5zm-1 10zm-7-9zm-1 5zm0-10zm-5 7zm-4-9zm0 10zm-9-12zm-7 4zm-4 3zm-1-9zm-6 19zm-1-9zm-3 9zm0-3zm-4-2zm-1-6zm-18 35zm7-21zm1 14zm4-10zm1 13zm6-3zm12 1zm8 6zm0-5zm1-10zm2-5zm1 18zm12-11zm3 11zm3-12zm1-5zm1 14zm4 2zm2-14zm0 12zm1-3zm7-9zm4 2zm1 10zm2-15zm5 4zm2 13zm3-18zm4 15zm2 1zm7 3zm3-14zm1 7zm11 6zm0-6zm16-6zm5-3zm1 15zm4-5zm3 5zm0-8zm1-5zm5 6zm2-8zm2 13zm2 5zm7-16zm2 4zm1 7zm4-2zm3 4zm6-3zm8 6zm2-18zm4 8zm1-7zm4 16zm7-16zm2 15zm1-10zm11 7zm2-6zm9-5zm1 10zm21-6zm11 8zm5-17zm1 9zm2-3zm3-5zm5 9zm7-6zm2 13zm8-1zm0-16zm10 18zm6-14zm4 3zm11 8zm1-5zm2 3zm1-5zm6 12zm2-17zm6 3zm3 7zm4 1zm0 6zm2-7zm6-7zm0 12zm12-4zm1 7zm5-2zm0-17zm7 6zm6-8zm7 2zm3 4zm6 5zm7-2zm1 7zm4-2zm3-9zm2 9zm6-10zm0 4zm13-5zm11 0zm1 5zm14 2zm4 6zm0-14zm1 19zm16-12zm2 10zm2-3zm2-7zm3 7zm9-12zm5 8zm15 6zm11-5zm1 5zm8-13zm10 16zm2-13zm0 6zm4 6zm12-13zm3 11zm2-14zm3 15zm1-6zm2 8zm5-11zm3 11zm-13 10zm-6 12zm-4-20zm-6 11zm-14-7zm-3-5zm-2 19zm-4-14zm-4-3zm-4 16zm-5-2zm-5 1zm-2-13zm-6 4zm0 9zm-6-15zm0 19zm-5-19zm-1 3zm0 12zm-3-17zm-15 14zm-9 3zm-7 1zm-3 3zm-2-21zm-3 7zm-8-6zm-3 14zm-7-11zm0 12zm-4-6zm-2-7zm-3 0zm-2 14zm-1-5zm-9-12zm-23 14zm-4 6zm0-5zm-1-11zm-9 7zm-3 9zm-16-14zm-3 13zm-9-11zm-9 9zm0-7zm-3 5zm-2 6zm-10-2zm0-17zm-3 5zm-7 3zm-3 5zm0 6zm-2-20zm-3 4zm-3 10zm-11-4zm-3-3zm-6-6zm-9 13zm-1-5zm-4 2zm-5-2zm-3 3zm-5 2zm-22-11zm-1 10zm-5-4zm-5 4zm-2-11zm-1 13zm-4-16zm-2 3zm-1 15zm-2 0zm-3-10zm-4-2zm-5 7zm0-11zm-18 12zm-1-7zm-1 13zm-4-18zm-6 19zm-1-21zm-4 1zm-5 17zm-3-2zm-3-5zm-10-11zm-1 16zm-3-8zm-18-5zm-2 13zm-1-15zm-2 11zm-1 5zm-2-14zm-8 2zm-1 10zm-6-13zm-4 18zm-1-4zm-1-11zm-6 2zm-1 12zm-10 2zm-17-9zm-2-4zm-1 4zm-3 2zm-2 4zm-11-3zm-12-9zm-10 10zm-2-8zm-6 7zm-3-4zm-4-7zm-3 17zm-8-18zm0 13zm-5-13zm-10 10zm-6 1zm-3 1zm6 10zm19 8zm1 10zm3-8zm12-9zm0 14zm10 1zm1-13zm10-3zm3 17zm3-14zm2 11zm4-10zm28 7zm3 6zm3-17zm4-3zm2 0zm1 8zm8 0zm7-6zm5 4zm19 4zm1-10zm11 6zm9 13zm9-6zm6-13zm3 10zm10 4zm14-10zm0 10zm1-7zm10 0zm4-7zm3 16zm6-15zm2 10zm8 5zm8 1zm9-4zm0 5zm14-8zm5-9zm4 18zm4-3zm6-11zm4-4zm5 15zm2-9zm3-7zm4 21zm3-13zm10 2zm4-9zm4 15zm5-6zm3-9zm2 2zm3 0zm0 12zm1-13zm1 16zm1-8zm3 6zm3-9zm7 12zm17-16zm9 13zm10 3zm17 1zm1-13zm15 9zm4 0zm2 5zm18-13zm2-4zm4-4zm2 5zm1 14zm4-11zm5 0zm3-2zm2 11zm4-14zm0 13zm9-16zm2 17zm0 3zm4-8zm13-8zm24 8zm6-8zm9 2zm1-4zm6 0zm4 10zm3 9zm0-17zm3 2zm6 0zm5 14zm4-1zm4-4zm2-7zm14-3zm4 25zm-7-7zm-15 10zm-3-3zm-3 0zm-2 12zm-10-7zm-45-11zm-11 3zm-7-1zm-13 8zm-5-11zm-1 16zm-7-3zm-2-10zm-4 7zm-3-4zm-1 9zm-3-9zm-1 12zm-8-3zm-3-10zm-13 9zm-3-9zm-6 13zm0 1zm-11-16zm-2 16zm-1-3zm-1-14zm-7 0zm-2 15zm-1-5zm-9 4zm-2 3zm-6-18zm-4 4zm-2 3zm-3 8zm-4-10zm-2 3zm-7 4zm-3-8zm-1 12zm-1-11zm0-7zm-9 9zm-5 12zm-2-18zm-12-2zm-2 11zm-3-5zm-6 14zm-5-15zm-3 9zm-1 4zm-1-10zm-7 12zm-7-12zm-11 8zm-6 3zm-4-1zm-13-14zm-1 12zm-1-17zm-4 10zm-10-6zm-5 15zm-5-10zm-4-2zm-4-5zm-4 9zm-3 4zm-6 3zm-2-12zm-1-6zm-5 3zm-4 7zm-16-8zm-3 5zm-2-4zm-1 13zm-6 4zm-1-8zm-2-3zm-6 4zm-5 6zm-6-16zm-7 1zm0 12zm-13 0zm-4 5zm-3-18zm-10 3zm-3 12zm-7-5zm0 4zm-4-17zm0 18zm-5 3zm-12-10zm0 7zm-7-2zm-6-9zm-3 2zm-8 4zm-2-13zm-2 5zm-3 2zm-2 7zm-6 5zm-6-13zm-3 5zm-1 4zm-1-13zm-3 10zm-1-11zm-8 13zm-20-3zm0-3zm-5-3zm-2 10zm-3-4zm-5-9zm-5 13zm-2 5zm-4 1zm-5 1zm3 8zm3 12zm4-15zm1 6zm11 6zm2 4zm4-11zm7 6zm6-15zm11 15zm5 1zm15-10zm26-7zm4 6zm2-3zm7 18zm2-6zm6 1zm1-13zm2 16zm2-7zm4 4zm1-12zm5 7zm10-7zm9 14zm5-3zm3 4zm6 0zm5-11zm1-8zm4 16zm4-16zm3 13zm4-6zm7 2zm0-5zm3 8zm2-6zm5 7zm3-12zm1 13zm6 2zm2-14zm10 19zm1-4zm1-4zm3 6zm4-9zm1-9zm15 7zm11-2zm3-2zm13 13zm9-2zm9 4zm3-1zm20 1zm3 1zm4-4zm2-4zm3-10zm0 14zm13-1zm1-8zm5-6zm5 1zm2 5zm2 14zm4-21zm16 2zm1 13zm6-14zm1 11zm0 7zm7-6zm12-11zm4 15zm3 4zm3-12zm29 12zm16-20zm6 6zm5 9zm1-8zm3 2zm14-3zm0 6zm7-12zm1 7zm4 13zm0-19zm0 0zm9 13zm2-13zm7 5zm14 6zm7-13zm9 15zm1-15zm6 5zm0 9zm13-3zm3 3zm3-3zm9-6zm11 11zm0 5zm4-6zm2-4zm2-4zm6 2zm4 10zm-14 17zm-2-4zm-11-10zm-3 12zm-2-11zm-6 20zm-16 0zm-3-10zm-1 1zm-8 6zm-1-8zm-3-9zm-5 13zm-1 3zm-1 4zm-4-11zm-4 0zm-5 3zm-3 8zm-1-18zm-12 18zm-2-13zm-15 9zm0-4zm-3-2zm-11 3zm-5-3zm-2-10zm-6 2zm-4 14zm-2-16zm-4 2zm-4 4zm-5-2zm-1 14zm-1-5zm-1-4zm-2-7zm-1 12zm-2-6zm-2 3zm-1-11zm-17 6zm-4 10zm-2-9zm-4 3zm0-5zm-23 5zm-7-4zm-4 4zm-6-7zm-3-2zm-2 14zm-2-13zm-23 5zm-1 12zm-6-10zm-10 3zm-10-5zm-3-6zm-4 15zm-5 0zm-4-7zm-4 2zm-8 3zm-6-2zm-5-13zm-7 10zm-4 0zm-6 2zm-2-9zm-6 14zm0-17zm-6 15zm-1 5zm-1-10zm-2-7zm-2 10zm-14-8zm-1 11zm-3-3zm-10 4zm-10 1zm-2-6zm-6-2zm-1 7zm-1-12zm-10 12zm-3-4zm-3-12zm-2 13zm-8-9zm-4 4zm-6 8zm-15 2zm0-6zm0-7zm0-4zm-4 6zm-3 11zm-8-13zm-3 6zm-7-2zm0-2zm-9 8zm-6 4zm-6-6zm-1-14zm-2 17zm-3-4zm-14-2zm-2 5zm-3-5zm0 10zm-4-13zm-5-1zm-1-7zm-2 11zm0-1zm-10-1zm-6-3zm-7-3zm-1 17zm-9-9zm-5-5zm-1 7zm-2-8zm-18 7zm4 13zm2 14zm14-2zm1-5zm8 2zm7-5zm6 7zm3-2zm1 4zm4-16zm2 12zm3 4zm9-7zm2-5zm4 7zm5 2zm3 1zm1-4zm7 2zm1-3zm2 12zm7-5zm2-12zm1 15zm3-1zm8-15zm5 7zm6 4zm0 7zm5-5zm0 4zm1-19zm0 11zm13 3zm1-7zm4 1zm3-8zm6 5zm15 0zm2 14zm6-16zm10 5zm5 0zm8-8zm4 3zm4 4zm1 13zm2-21zm5 16zm9 4zm1-8zm14-11zm3 20zm2-10zm5-9zm2 19zm5-12zm1-5zm18 1zm1 10zm5 0zm35-12zm4 12zm2-9zm13 5zm18-7zm5 17zm8-4zm0-12zm4 9zm0-10zm4 11zm0 1zm1-9zm4 0zm1 11zm3 3zm2-10zm4-1zm1 4zm15-12zm0 14zm8-4zm1 9zm4-20zm4 15zm12-1zm2-3zm0 9zm6-19zm0 9zm2 6zm4 3zm4-2zm10 2zm1-2zm9-14zm5 12zm5-16zm5 12zm3 5zm0-8zm10 2zm13-1zm5 1zm1 5zm1-15zm5 16zm15-6zm9-4zm6-5zm3 14zm3-6zm5 7zm1 4zm5-2zm4-15zm1 8zm4 9zm7-19zm2 19zm16-14zm-7 36zm0-12zm-3 9zm-6-12zm-1 10zm-4-13zm-7 13zm-4 4zm-2-19zm-7 8zm-13 8zm-12-11zm-9 14zm0-6zm-6 0zm0-8zm-2 4zm-5 8zm-12 2zm-8-20zm-3 2zm-2 10zm-5-2zm-1 10zm-6-6zm-5-1zm-3-1zm-1-8zm-2 4zm-10 13zm-9-15zm-1 14zm-3-10zm-3-7zm-2 13zm-1 5zm-1-13zm-2 12zm-1-17zm-4 6zm-1 12zm-3-17zm-1 6zm-4 7zm-3-16zm-10 13zm-1-13zm-7 4zm-3 13zm-1-4zm-6-12zm-3 15zm-1-7zm-2 5zm-9-6zm0 12zm-1-17zm-4 1zm-11 15zm-2-4zm-3-12zm-8 2zm-3-6zm-7 15zm-6-14zm-6 17zm-5-6zm-11-1zm-2 4zm-28 2zm-22-16zm-2 20zm-7-6zm-5-13zm-8 17zm-3-7zm-8-5zm-26 14zm-7-6zm-3 3zm-5 2zm-1-9zm-2 6zm-10-11zm-5-5zm-4 20zm0-18zm-4 10zm-6-7zm-2 6zm-4 0zm-1 4zm-6 1zm-3-8zm-4-1zm-6 9zm-9-1zm0-4zm-26 4zm-4-3zm-5 5zm-4 2zm-2-10zm-7-7zm-2 17zm-5-12zm-1 6zm-2-13zm-2 20zm-4-2zm-1-18zm-3 14zm-1-10zm-1 7zm-11-4zm-1-4zm-1 9zm-1-13zm-1 15zm-5 8zm7-1zm5 5zm4 7zm1-4zm0 10zm2-13zm1 4zm2-4zm1 13zm3-7zm2-8zm2 18zm1-9zm5-2zm3 6zm2-3zm12-2zm5-8zm1 8zm0 9zm1-20zm13 14zm6 7zm2-13zm4 9zm7-14zm11 6zm4 3zm2-4zm1-2zm3 3zm1 7zm15 2zm20-15zm6-2zm10 14zm5-1zm3 7zm7-1zm6-5zm3 0zm0 4zm2-16zm2 10zm12-8zm12 15zm11-7zm3-10zm15 4zm1-6zm0 12zm7-6zm0-6zm11 3zm3 1zm5 6zm7-8zm2 3zm0 11zm14-10zm6-7zm22 10zm2 9zm3-5zm14 1zm5-2zm6-7zm7 11zm3-13zm1 5zm8-1zm0 5zm1-10zm13 7zm9 9zm3-9zm10 3zm5 8zm3-11zm1 7zm0-14zm0-2zm1 20zm1-16zm3 2zm4-6zm3 1zm3 6zm3 7zm0-15zm5 13zm3-8zm5 16zm3-14zm3-5zm2 18zm6-5zm3-6zm8 1zm3 2zm4-9zm10-2zm2 8zm6 7zm8 2zm2-11zm3-2zm13-5zm3 13zm10 2zm7-1zm4-1zm8 6zm8-11zm1-4zm-17 20zm-3-2zm-2 5zm-7-2zm0 7zm-3 8zm-1-4zm-1-14zm-1 21zm-1-5zm-2-8zm-2 9zm-7-17zm-10 9zm-2 9zm-2-18zm-9 5zm-3 12zm-9 0zm-2-13zm-14 6zm-3-4zm-7 5zm-2 6zm-4-12zm-4 0zm-2-2zm-11 14zm-9-15zm0 16zm-2-9zm-3-5zm-4 13zm-4-2zm-4-12zm-3 4zm-8 7zm-6 7zm-12-11zm-4-4zm0 12zm-8-18zm-5 16zm-3-13zm-1 6zm-6-1zm-4 3zm-3 7zm-3-9zm-2 8zm-2-16zm-14 13zm-11-11zm-3 13zm-1 4zm-8-18zm-8 9zm-5 5zm-6 2zm-1-18zm-4 13zm-8-7zm-5 10zm-3-7zm-3-8zm-13 3zm-2-3zm-23 9zm-4-5zm-2 9zm-7-3zm-3-11zm-14 1zm-5 0zm-7 8zm-8-1zm-11 10zm-11 0zm-2-9zm-24 6zm0 5zm-12-3zm-2-15zm-13 8zm-4 4zm-6-10zm-3 12zm-7-12zm-3 16zm-1-15zm-4-2zm-2 9zm-3-7zm-11 1zm-3 4zm-5-2zm-15 3zm-2 6zm-5-14zm-4 12zm0-5zm-7-6zm18 19zm3 7zm1 8zm9-13zm9-2zm4 1zm0 14zm1-1zm7 6zm2-18zm4-1zm3-2zm4 14zm26 3zm1-11zm5-6zm9 8zm5 11zm3-7zm4 8zm10-18zm0 12zm4-3zm2 7zm5-2zm0-10zm4-3zm4 9zm17 8zm18-7zm1 6zm4-6zm9 3zm6 0zm16 5zm3-13zm0-4zm4-2zm1 12zm20-13zm4 16zm4-1zm5-1zm5-11zm3-2zm10 1zm0 5zm2 9zm10 4zm1-15zm4 12zm3-5zm7 8zm6-21zm1 0zm3 7zm4 4zm4-9zm5-2zm8 19zm7-16zm8 2zm9 5zm5-8zm5 18zm1-11zm4-1zm2 6zm1-10zm7 6zm2-10zm5 7zm1 8zm2-11zm1 12zm4-10zm2 4zm3-4zm2 13zm2-6zm1-8zm0 0zm3 15zm2-13zm4 1zm6 8zm1 4zm9-18zm0 17zm0-11zm6 12zm1-1zm5-1zm6-1zm2-13zm4 17zm4-14zm3-2zm3 11zm11-15zm1 17zm1-8zm5 3zm6-10zm5 9zm1-10zm1 18zm3-7zm12-5zm1-6zm7-1zm1 12zm7 7zm2-7zm1 6zm8 2zm7-19zm-13 24zm-5 3zm-6-2zm-2 2zm-3 9zm-3-1zm-6-2zm-20-5zm-9 6zm-1 1zm-2-10zm-3 8zm0-11zm-9-2zm-3 13zm-1-12zm-4 14zm-12-6zm0 7zm0-11zm-2 3zm-6 10zm-7 2zm-8-11zm-11 9zm-3 3zm0-21zm-8 11zm-4-1zm-4-7zm-3 16zm-2-10zm-4 11zm-7-8zm0-9zm-4 10zm-3 2zm-2-12zm-8 11zm0-3zm-1-6zm-2 1zm0-6zm-8 4zm-8-3zm0 6zm-15 13zm-10-20zm-21 21zm-11-2zm-7-13zm0 15zm-5-8zm-9-5zm-10 7zm-3 2zm-3-12zm-10 16zm-16-11zm-1-8zm-2 16zm-7 2zm-3-17zm-4 1zm-6 8zm-8 1zm-1-9zm0 12zm-23-8zm-5 5zm-12-9zm-6 2zm0 9zm-9 3zm-7-8zm-3 3zm-4-4zm-6-4zm-10 12zm-5-9zm-4 13zm-14-9zm-4 0zm-1 7zm-7-14zm-9 2zm-5 0zm-7 6zm5 15zm4-1zm1 2zm10 0zm2 10zm4 1zm12-13zm2 11zm12-1zm1-13zm1 9zm6-4zm8-1zm1 0zm3 4zm1 9zm6-5zm2-9zm4-5zm6 3zm2 6zm5-6zm4 10zm3-7zm4 15zm3-10zm3 9zm2-14zm11 4zm1-5zm9 9zm5 5zm2-3zm5 3zm4-15zm1 8zm1-4zm1-3zm4 11zm5 5zm1-6zm1-2zm1-11zm2 9zm4-4zm14 13zm2-15zm2 10zm1-7zm9 0zm3 4zm2-8zm1 2zm4-5zm1 13zm0 3zm6-1zm7-1zm6-13zm2 4zm4 15zm5 0zm22-13zm3-5zm0 1zm13 3zm2 7zm4-8zm3-4zm0 19zm1-14zm4 12zm7-17zm4 15zm3-5zm0 7zm23-16zm6 17zm2-20zm12 4zm4 0zm6 0zm5 4zm13-4zm4-2zm0 14zm6-13zm8 15zm6-1zm3-3zm2-4zm7 9zm0-10zm7-1zm4-7zm4 5zm3 15zm5-7zm3 5zm1-19zm0 8zm7 1zm5 6zm9-10zm15 1zm-3 30zm0-6zm-5-4zm-12 4zm-2-4zm-3 6zm-9 7zm-6-3zm-1 7zm-11-12zm-6 5zm-2 6zm-3-7zm-7 2zm-1-5zm-1-7zm-2 18zm-13-15zm-3 9zm-4-12zm-3 11zm-8-3zm-6 0zm-10-4zm-7 4zm-1-4zm-4 14zm-5-10zm-2-6zm-3 15zm-4-12zm-7 6zm-5-3zm-3-11zm-1 18zm-2-11zm-1-4zm-4 4zm-4-7zm-5 18zm-4-10zm-17-8zm-2 20zm0-4zm-2-13zm-5-2zm-3 14zm-5 6zm-3-10zm-7 9zm-4-5zm-3 6zm-3-17zm-3 5zm-7 4zm-4-8zm-4 5zm-1 9zm-10-6zm-13-10zm-32 17zm-7-3zm-17-1zm-3 3zm-6 1zm-11-11zm-3-3zm-18-2zm-10 12zm-1-9zm-9-7zm-3 3zm-3 5zm-3 5zm-4 4zm-1-7zm-2-5zm0-1zm-3 17zm-2-14zm-7 0zm-8-7zm-2 5zm-15 10zm21 11zm8 10zm0-13zm9 14zm2-9zm2-4zm9 7zm2 4zm1-4zm2-5zm2 17zm1-10zm6 5zm2-8zm4-8zm4 4zm1 16zm1-12zm1-7zm1 17zm8-18zm5 13zm7 7zm7-6zm7 3zm0-11zm8 4zm1 7zm16 2zm16 2zm15-1zm2-14zm5 2zm1-5zm6 15zm1-5zm14-13zm6 19zm1-5zm5-8zm2 4zm3-1zm6 12zm3-7zm1 5zm0-8zm6 6zm9-1zm2-5zm4 3zm6-5zm16-8zm0 19zm3-10zm1 3zm10 4zm2-8zm8-5zm1 14zm5-5zm5-9zm6 15zm1-15zm3 2zm16 6zm7-3zm4 12zm1-17zm2 17zm1-4zm4-6zm15 6zm10-11zm6-3zm16 11zm10-10zm5 3zm8 3zm4-9zm15-1zm4 0zm-15 39zm-18-1zm0-15zm-5 5zm-24 12zm-4-5zm-15-5zm-9 13zm-4-11zm-12-8zm-2 15zm-13-4zm-4-13zm-3 20zm-5-5zm-8 6zm-1-9zm0-11zm-4 8zm-6 11zm-2-9zm-1-3zm-5 4zm-4-6zm0-3zm-1 15zm-6-4zm0-6zm-10 9zm-2-14zm-29 4zm-1 10zm-7-6zm-5-2zm-1 7zm-2-10zm-5-2zm-5 3zm-7 13zm-3-5zm-1-1zm-3-7zm-1 6zm-1-11zm-7 19zm-12-16zm-4 11zm-8-1zm-9-3zm-2-6zm-2-4zm-6 9zm-8-2zm-3-8zm-4 5zm-4 14zm-12-18zm-1 17zm-12-19zm-6 16zm-18 4zm-10-6zm-2-6zm-12 0zm-10-2zm29 17zm5 1zm10 7zm1 7zm6-13zm4 7zm4 3zm6-1zm5-6zm6 12zm2-11zm4 7zm7-9zm3 13zm2-5zm7-12zm6 11zm5 4zm3-5zm6-2zm0 12zm7-20zm7 14zm4-6zm4-6zm12 5zm4 11zm9-9zm1 1zm1 2zm6-13zm2 3zm4-3zm2 9zm3 7zm3-4zm2-3zm5-5zm3 6zm5-10zm2 15zm4-4zm3-7zm5 14zm6-12zm5 3zm12-3zm3 7zm17-1zm4-10zm3 5zm1 9zm7-4zm8-11zm2 12zm4-7zm1 4zm21 7zm7 2zm2 0zm5-9zm2-7zm5 18zm2-7zm1-5zm5 2zm2-4zm1 7zm12-8zm1 7zm8-1zm10 1zm15-3zm-10 23zm-8-9zm-4 5zm-5 5zm-4 8zm-13-5zm-6 2zm-5 0zm-6-2zm-1 5zm-5-8zm-2 3zm-1 2zm-3-3zm-3 4zm-23-1zm-4-3zm-8-13zm-14 7zm-11 2zm-5 5zm-8 1zm-4-3zm-3 7zm-4-13zm-8-6zm0 10zm-7 6zm-2-15zm-1 11zm-3 5zm-10-2zm-3-3zm-1 5zm-22 1zm-3-9zm-6-6zm-12 5zm-4 10zm-1-3zm-3-3zm-10-10zm-12 11zm-29-14zm-3 21zm-9-3zm-11-14zm-2 17zm-2-3zm-4-4zm-3-6zm34 29zm3-9zm8 6zm2-6zm18 8zm8 3zm0-10zm3-7zm5 17zm2-6zm1 4zm6 4zm6-1zm5-2zm7 1zm1-13zm3 11zm16-2zm1 3zm6 4zm17-19zm1 7zm3 13zm2-13zm3 13zm2-4zm9-5zm2-5zm3 3zm14-10zm9 0zm15 5zm1 3zm15-2zm1 10zm0-5zm6 0zm2 6zm4-7zm4-5zm8 4zm8 7zm3-14zm7 18zm3-4zm3-4zm8-9zm4 15zm3-14zm0 5zm3 12zm2-8zm0-12zm4 19zm5-12zm4-7zm1 5zm-8 21zm-12 15zm0-20zm-7 3zm-6 9zm-8-8zm-1 12zm-3-3zm-1 5zm-5 2zm-1-16zm-14 8zm-10 0zm-8-11zm-8 16zm-1-10zm-4 4zm-2-3zm-3 3zm-3 9zm-1-12zm-7 7zm-5-15zm-2 20zm-1-11zm-2 3zm-3 3zm-6-4zm-4 5zm-5-5zm-1 10zm-1-16zm-21 15zm-5-19zm-5-1zm-2 19zm-2-18zm-1 10zm0 1zm-4-6zm-1 12zm-3 3zm-1-15zm-3-1zm-5 1zm-3 11zm-11-7zm-3-9zm0 5zm-1 4zm-6 6zm-1-16zm-6 9zm-9 8zm-1-15zm-5 2zm-12-4zm-2 8zm-10-2zm53 26zm5 2zm0 5zm5 0zm12 1zm1-13zm0 7zm7-12zm3 16zm3-14zm2 18zm0-16zm5-1zm9 9zm0 8zm3-3zm4-7zm3 11zm1-2zm3-5zm3-8zm10-1zm3 4zm6 0zm10-7zm2 3zm1 7zm4-8zm28-4zm9 10zm2 0zm2 10zm2-3zm2 4zm3-6zm2-4zm2 1zm1-10zm6 6zm1 10zm0-14zm8 10zm8 5zm2-12zm1 4zm3-5zm-5 17zm-5 11zm-2 4zm-18 3zm-2-9zm-2 2zm-2-5zm-11-5zm-16 15zm-12-5zm-13-3zm-5 3zm-6-8zm-2 11zm-23-8zm-5-7zm-6 5zm-5 0zm95 17z"/>
<path stroke="#ED645A" d="m1269 844z"/>
<path stroke="#24796C" d="m1744 239zm4-7zm7 7zm17-16zm6 1zm18 11zm2-4zm4 8zm1-11zm2 9zm3-10zm13-1zm10 11zm4-4zm5 7zm1-12zm8 12zm19 0zm32 0zm59 16zm-42-1zm-3 4zm-2-17zm-4 19zm-4 2zm0-17zm-5 7zm-15-1zm-4 8zm-2-8zm-2 11zm-2-6zm-1-8zm0-6zm-6 17zm-6-11zm-9 8zm-5 2zm0-14zm-2 18zm-10-11zm-5-4zm-5 0zm-1-6zm-2 8zm-1 9zm-4-11zm-1-3zm-2 9zm-1-11zm-9 1zm0 11zm0-6zm-4 14zm-2-13zm-1 0zm-2-3zm-8 7zm-1 6zm-12-14zm-3 17zm-7-9zm-2 7zm-17-4zm-12 3zm-11-9zm-5 6zm-3 6zm-14 10zm8 3zm7-2zm2 5zm1-12zm9-3zm14 10zm5-10zm0 13zm2-5zm4 12zm0-20zm13 0zm2 20zm3-2zm6-15zm3 5zm6-8zm0 14zm3 7zm5-17zm9 7zm1 6zm14-1zm5-8zm1 10zm13 3zm5-18zm12 9zm3 3zm3-4zm21-9zm4 13zm4-9zm12 12zm6-1zm4-2zm1-8zm5 6zm5 7zm4-10zm4-7zm9 9zm1-8zm3 5zm0-2zm1-2zm2 7zm1 6zm10-14zm1 13zm7 4zm0-10zm4 1zm3-1zm1 8zm8-11zm4 11zm6-6zm3 5zm36 25zm-4-7zm-1 7zm-4-6zm-1 2zm-4-8zm-1-4zm-8-3zm-13 7zm-7 1zm-3 10zm-13-9zm-4-7zm-2 13zm0-6zm-6-7zm-18 4zm0 7zm-2 3zm-5-17zm-5 3zm-2-4zm0 6zm-13 2zm-3 4zm-6-1zm-2 6zm-1-6zm-3 3zm-1 3zm-1-10zm-1 13zm-19 1zm0-4zm-4-11zm-5 5zm-3-7zm0 7zm-1 1zm-5-6zm-7 5zm-2 7zm-1-8zm-5-9zm-1 6zm-1 12zm-5-16zm-22 5zm0 13zm-6-2zm-3-19zm-2 19zm-1-15zm-1 17zm-1-10zm-6-2zm0-6zm-5 6zm-4-6zm-3 7zm0 7zm-1-15zm-5 17zm-8-17zm-4 3zm-5-1zm-2-4zm-7 9zm0 12zm-5-21zm-17 18zm-2-18zm-5 0zm-8 18zm-13-14zm-7 4zm-4-8zm-2 13zm-6 7zm-8-2zm-12 5zm22 3zm24 11zm12-10zm3 9zm4 6zm3-14zm2 13zm2-4zm3-15zm5 12zm4 0zm8-8zm7 4zm3 10zm1-15zm2 4zm7 1zm1 12zm7-3zm1-13zm1 12zm0-8zm12 4zm2-7zm12-4zm14 6zm4 4zm27-1zm6 2zm2 3zm5-1zm0-13zm4 1zm2-1zm0 20zm0-10zm13 2zm1-4zm7 9zm17 3zm7-2zm6-12zm0-4zm1-3zm6 11zm3-11zm2 21zm0-12zm2 6zm4-11zm3-3zm3 18zm13-4zm24-9zm2 15zm5-8zm0-4zm5-8zm11 7zm3-6zm1 4zm0 8zm17-11zm1 6zm1 5zm5 1zm7 0zm2 6zm0-3zm40 24zm-7-2zm-3-4zm-5 1zm-6 1zm-4 2zm-1-12zm-17 11zm-3 2zm-3-12zm-8 10zm-8-3zm-9 7zm-5-4zm-1-12zm-2 0zm0 4zm-1-3zm-3-1zm-2 4zm-1 7zm-1-12zm-3 12zm-1-13zm-10-3zm-1 15zm-20 6zm-5-14zm-17 9zm-7 0zm-5 3zm-2-18zm-5 18zm-1-16zm-6 6zm-4 12zm-3-5zm-10 4zm-1-8zm-14-6zm-3 12zm-10-13zm-3 14zm-4-9zm-1 4zm-5-3zm-5 0zm-18 1zm-10 5zm-15 4zm-20-19zm-2 9zm-10 3zm-2-10zm-3 2zm-7 12zm-1 2zm0-8zm-8-4zm-9-2zm-11 5zm-8-7zm-8-2zm0 9zm0-3zm-6 10zm-12-15zm-3 9zm-4 8zm-6-16zm-17-3zm-3 2zm-3 17zm-15 21zm9 1zm7-14zm9 12zm2 2zm2-7zm6 4zm2-16zm1 12zm4 0zm1-8zm6 6zm2-11zm10 15zm4 3zm0-8zm4-8zm2 10zm2 5zm6-5zm4-4zm5-1zm1-3zm3 4zm5-8zm4 14zm5-8zm2 6zm0 7zm4-17zm6 11zm1-13zm0 20zm2-4zm10-2zm11 1zm4 6zm0-3zm7-18zm8 13zm1 8zm2-15zm0-3zm4 2zm3 12zm22 3zm5-17zm4-3zm8 19zm7-10zm11 11zm4-1zm0-18zm3 11zm26-2zm2 6zm1 1zm2-1zm1 4zm3-17zm1 13zm7-5zm2-3zm9 9zm1-3zm5 1zm0 5zm4-6zm3-12zm4 8zm13-6zm3 16zm3-4zm6-11zm10 14zm5-11zm3 7zm6 6zm3-3zm4-8zm4 3zm6 5zm3-17zm13 2zm3 4zm8-7zm7 12zm5 2zm1 3zm3-17zm5 9zm5-6zm1 12zm0 6zm7-18zm4 5zm3 3zm2-5zm3-2zm2 11zm3 3zm10 3zm7 0zm5 9zm-4 10zm-4 2zm-8-15zm-3 8zm-2 4zm-4-11zm-4 4zm-1-6zm-2 11zm-4-8zm-2-4zm-3 11zm-16 3zm-1-7zm-3 5zm-1-11zm-2 4zm-1 7zm-4-11zm-2 17zm-3-5zm-5-12zm-1 4zm-3-6zm0 15zm-2-11zm-2 0zm-6 0zm-31 13zm-3-8zm-8 5zm-7 3zm-1-10zm0 5zm-4 7zm0-8zm-6-3zm-4-6zm0 6zm-3 1zm-7-7zm-2-2zm-2 16zm-5-18zm-4 16zm-2-8zm-9 7zm-3-3zm-8 3zm-16 5zm-6-11zm-7-8zm-1 19zm-6-5zm-3-8zm-2 5zm-16-8zm0 15zm-12-11zm-1 13zm-1-18zm-9 7zm-4-6zm-9-3zm-19 6zm-1 9zm-1-4zm-5 5zm-8-12zm-10 5zm-1-3zm-4 0zm-29 3zm-3-9zm-2 3zm-1 3zm-1-7zm-5 21zm0-12zm-6 7zm-3-15zm-3 14zm-4-1zm-14 3zm-3-5zm-9 7zm-11-17zm0 12zm-2 5zm-9-7zm0 5zm-5 2zm-2 2zm-9-8zm-3-12zm-5 15zm-13-1zm-1-9zm-34 22zm27-4zm6 17zm10 0zm4-17zm2 7zm6 7zm3 5zm5-13zm2 3zm3-9zm10 6zm0-4zm2 13zm1-16zm1 18zm11-2zm2-9zm7 8zm0 5zm13-3zm6-3zm1-4zm0-3zm2-6zm19 4zm1 14zm2-11zm8-8zm2 20zm1-13zm0-4zm2 4zm7-3zm1 13zm1-9zm5-8zm1 19zm2-8zm4-2zm0-2zm8 6zm2-7zm1-7zm3 19zm1 1zm4-10zm7 2zm10-6zm1 5zm2 8zm2-5zm1-8zm4 9zm1-12zm3 0zm5 16zm14-16zm2 14zm4-16zm1 5zm2 3zm14-8zm2 5zm10 7zm3 1zm0 4zm5 2zm3-14zm1-4zm17 2zm19 9zm8 2zm1-12zm5 18zm3-9zm3-9zm5 5zm5 1zm0 11zm12-12zm5 12zm0-14zm4 9zm4-8zm6 10zm0-13zm5 14zm0-3zm4-7zm7 11zm5 1zm8-13zm12 6zm18 2zm9-9zm1 7zm2-4zm5 11zm14-1zm5-17zm4 8zm1 6zm8 0zm9-1zm4 0zm4-10zm2 7zm22 8zm-12 12zm-5 0zm-3 3zm-9 3zm-7-11zm-2 5zm0 5zm-1-12zm-4 3zm-3 3zm-1-5zm-14 9zm-2-12zm-8 17zm-1-3zm-2-5zm0 9zm-2-15zm-1 2zm-1-5zm-1 19zm-5-16zm-7 5zm-3-5zm-5 7zm-4 10zm-2-6zm-8 0zm0-13zm-1 7zm-3 8zm-1-14zm-9 12zm-7 1zm-1-3zm-1-9zm-1-1zm-1 12zm-9-3zm-5-1zm-6-9zm0 17zm-9-4zm-2-14zm-5 12zm-5-2zm-1 7zm-9 0zm-2-15zm-1 10zm-3-13zm0 5zm-4 0zm-11 2zm-3-4zm-2 4zm-5-3zm-17 1zm-7 10zm-3 6zm-3-11zm-11-7zm-3 13zm-1-14zm-2 7zm-9 2zm-1-4zm-2 3zm-16 5zm-4-6zm-10 8zm-4-3zm-2-11zm-8 7zm0 8zm-6-17zm-1 4zm-4 13zm-1-6zm-3 5zm0-15zm-2-2zm-1 6zm-2 5zm-3 10zm-1-11zm-4 0zm-3 5zm-9 0zm-1-3zm-1 9zm-1-14zm-3 6zm-6-6zm-5 10zm-2-9zm-11 9zm-7-12zm-5 6zm-9 2zm-2-12zm-1 16zm-9-8zm-5-8zm-5 4zm-3 14zm-6 1zm-5-8zm-1-11zm0 6zm-7 13zm-9-17zm-1 6zm-3 2zm-2-8zm-4 1zm-6 11zm-1 3zm-3-9zm-11 4zm-5 3zm-1-10zm-5 15zm-4-15zm-4 7zm-8-13zm-34 10zm-18-4zm-28 32zm8-3zm21-13zm6 1zm13 19zm29-4zm4 4zm3-18zm5 16zm9-7zm2-7zm6 7zm5 5zm20-5zm6-10zm7 17zm5-16zm5 2zm5 10zm2 5zm1-5zm1-10zm2 7zm1 7zm3-4zm0 7zm1-15zm5-4zm1 10zm1 1zm8-12zm5 16zm7-14zm2 5zm3-4zm1-1zm6 14zm1 4zm6-6zm3-9zm2 5zm18-3zm1-6zm11 1zm10 2zm13 7zm2 1zm3-11zm0 17zm4-5zm2-13zm15 1zm8 10zm2-7zm2 10zm7-10zm5 15zm1-11zm3 1zm4 7zm14 4zm3-21zm2 3zm3 11zm3 5zm1-12zm2 8zm4-5zm1-7zm1-1zm3-2zm2 19zm3-19zm2 5zm3 15zm1-12zm6 6zm17-13zm11 19zm14-12zm1-5zm3 9zm6-11zm9 13zm2 0zm11-2zm6-9zm1 16zm9-7zm5 2zm4-1zm1-13zm3 6zm2 9zm1-10zm22 9zm2-10zm8 0zm5-3zm6 4zm3 12zm11-3zm2 7zm0-9zm6 2zm5-6zm2-2zm0 7zm3-5zm9 3zm2-4zm0 2zm3-7zm5 2zm6 13zm5-5zm1-10zm5 14zm0-16zm8 20zm12-18zm4 18zm3-8zm18 14zm-3-2zm-11 2zm0-2zm-3 18zm0-7zm-5-10zm-2 10zm-16-1zm-2-6zm-5 8zm-10 0zm-8-6zm-5 7zm-6 6zm-12-1zm-6-18zm-1 11zm-5-7zm-11 9zm0-3zm-8-6zm-5 5zm-1 0zm-5-1zm-1 8zm-7-7zm0 8zm-11-4zm0 4zm-2-11zm-2 13zm-7-12zm-1 11zm-3-14zm-2-2zm-8-1zm-5 2zm-1 7zm-5-7zm-1 14zm-2-11zm-12 0zm-1 5zm-2-3zm0 10zm-11-3zm-12 2zm-5-5zm-5-10zm-2 5zm-3-8zm0 14zm-1 3zm-1-9zm-12 4zm-2 8zm0-21zm-14 14zm-1-13zm-8 14zm-4 4zm-2-4zm-1-11zm-4-1zm-1 3zm-3 0zm-6 1zm0 8zm0-5zm-1 5zm-9-8zm-4 0zm-7 1zm-4-4zm-2 12zm-3-15zm-2 9zm-6 8zm-1-7zm-5 7zm-5-15zm-4 3zm-3 15zm-2-7zm-16 0zm-2 6zm-1-18zm-5 16zm-8 1zm-5-12zm-2 13zm-7-12zm-1-7zm-3 20zm-1-4zm-4-4zm-7 8zm-2-11zm-3-8zm0 4zm-1 14zm-3-13zm-5 11zm-1-16zm-2 6zm-4-8zm-2 5zm-4-3zm-2 12zm-2-6zm0 8zm-3-9zm-7-3zm-1 4zm-4 2zm-8 2zm-3-9zm-4 2zm-5 15zm-1-14zm-3 11zm-5 3zm-4-2zm-7-18zm-2 1zm-2 6zm-2-7zm-8 9zm-2 9zm-2-11zm-4-2zm-4 10zm0-7zm-1 12zm-11-2zm-2-18zm-1 11zm-3-8zm-5 18zm-10-5zm-2 3zm-2-6zm-15-11zm-1 5zm-5 13zm-28-4zm-18-1zm-19 0zm-9-1zm2 18zm1 4zm23-11zm2 14zm1-17zm3 6zm1-6zm9 8zm7 8zm0-1zm2 5zm0-17zm16 9zm8-3zm5-8zm1 15zm8-10zm4-3zm3 2zm0 10zm6-2zm7 8zm1-9zm22 5zm0-3zm1-7zm1 9zm12 2zm3-6zm1-10zm0 0zm4 12zm10 0zm3 4zm1 1zm4-11zm1-5zm1 12zm5-6zm13 3zm3-11zm3 13zm3-12zm2 17zm1 0zm1-18zm1 20zm3-7zm2-4zm9 1zm1 3zm7-6zm4 12zm3-9zm7-4zm2-1zm1 8zm1-5zm5 3zm3-1zm6 9zm10-17zm1 16zm5-19zm3 16zm6-3zm1-6zm4 2zm5-5zm5 13zm16-15zm2 18zm1-4zm2-1zm1 5zm5-6zm4 1zm1 4zm2-9zm1 10zm1-20zm2 16zm3-16zm5 1zm3 4zm18 15zm5-20zm19 7zm22 3zm0 7zm2 4zm4-6zm1 6zm4-3zm1-18zm18 1zm2 7zm6-6zm3 4zm4 8zm17 0zm5-10zm7 3zm24 4zm2 6zm10 1zm3-1zm3-7zm6 9zm1-11zm3 7zm8 2zm1-8zm9-8zm0 10zm2 4zm20-7zm6-5zm4 15zm1-8zm6 9zm3 2zm1-15zm4 15zm18-10zm1 7zm0-13zm3-4zm3 7zm7 5zm2-4zm4 5zm8 4zm0-13zm5 1zm3 4zm7 2zm3-3zm17 19zm-3 7zm-12 5zm0-6zm-2-12zm-1 4zm-1 14zm-2-6zm-3-2zm-6 0zm-15-6zm-7 5zm-1-9zm-2 10zm-4 10zm-4-3zm-14-5zm-6 7zm-5 2zm-1-4zm-2 0zm-15-4zm-4-10zm-4 16zm-11-10zm-10-8zm-1 7zm0 9zm-4-7zm-6-2zm0 10zm-3-3zm-2 4zm-3-15zm-16 0zm-22 1zm-3 2zm-6 10zm-7-10zm-6 0zm-4 0zm-7 0zm-9-1zm-18-2zm-10 3zm0 11zm-4 1zm0 0zm-6-11zm-2-2zm-4 6zm-2 8zm-2-15zm-9 10zm-10-9zm-5 12zm-2-13zm0 12zm-9 1zm-4-13zm-3-3zm-12 3zm-2-5zm-7 14zm-7 5zm0-9zm-2 4zm-1-12zm-7 6zm0 9zm-5-5zm-3-10zm-7 4zm-4-1zm-4 13zm-6-15zm-1 8zm-3-4zm-2 3zm-4 7zm-10-14zm-1 17zm-1-4zm-20-13zm-8 0zm-10 14zm-3-6zm-11-6zm-4-1zm-7-3zm-1 9zm-5 9zm-8-19zm-2 14zm-4-1zm-6-6zm-4-4zm-1 17zm-4 0zm-2-1zm-4-17zm-2 6zm-5 11zm-6-11zm-4-4zm-2 8zm-4-7zm-4 0zm-1 14zm-1-11zm-7 1zm-5-6zm-5 5zm-1-7zm0 13zm-3-4zm-3-5zm-4 4zm-2 3zm-5-7zm-2 9zm-6 4zm-7-17zm-11 10zm-1 8zm-9 0zm-30-17zm-4 11zm-4 4zm-3-8zm-20 9zm-2 2zm-12-1zm-12-9zm-8 5zm-11-9zm-8 2zm-9 19zm22 8zm3 3zm23-5zm11-1zm3-4zm2 13zm8-9zm4-1zm1 10zm9 2zm1-6zm4-3zm9 2zm1-6zm1 11zm1-17zm8-1zm19 11zm10 6zm16-15zm14 8zm3 10zm8-21zm0 12zm3 5zm1 4zm9-18zm1 7zm5 7zm6-3zm7-12zm4 1zm6 8zm12-2zm5-8zm2 20zm1-10zm1-4zm2 14zm4 0zm1-17zm2 16zm6-20zm3 11zm0 8zm1-9zm19-3zm1 13zm4-10zm0-4zm3 2zm5 4zm0-12zm3 2zm7 12zm15-1zm1-9zm8 0zm5 12zm5 2zm1-15zm2 16zm1-8zm4-8zm9 8zm4-2zm15-4zm1-5zm13 4zm2 13zm2 3zm1-6zm6-13zm1 15zm1-7zm3-8zm1 12zm3 0zm9-2zm0 5zm4 5zm4-17zm1 11zm0-8zm1 5zm0 7zm12-16zm3-1zm6 6zm5 6zm0-12zm9 8zm3 7zm1 0zm1 3zm13-14zm18-1zm2 16zm3-6zm1 3zm2-11zm7 11zm8 0zm4-12zm8 0zm5 3zm7-4zm8 14zm2-8zm0-5zm6 1zm3-1zm3 12zm6 2zm5-1zm1-4zm3 5zm0-9zm3 8zm5-19zm1 6zm7 2zm10 4zm4-11zm7 0zm5 1zm2 3zm4 14zm6-13zm4 10zm4-15zm0 12zm1-13zm3 3zm1 9zm6-1zm1-6zm3-3zm1 6zm2-6zm9 15zm1-11zm3 14zm1-11zm4 7zm6-16zm3 17zm0-12zm7 9zm11-6zm6 13zm0-10zm4 8zm3-6zm6-12zm0 13zm4 3zm12-12zm3-5zm15 20zm7 17zm-5 1zm-5-6zm-2 9zm-8-1zm-8-2zm-7-10zm0-1zm-8 4zm-3 12zm-4-12zm-7 0zm-3 2zm-3-4zm-5 11zm-9-3zm-4 4zm-2-15zm-3-3zm-6 5zm0 13zm-3-16zm-7 10zm-19-11zm-1 11zm-5 0zm0-2zm-1-10zm-3 13zm-4-13zm-12 1zm-3 6zm0 4zm-4-8zm-10 11zm-5-8zm-8-6zm-4 18zm-1-10zm-4-2zm-3 14zm-8-17zm-11 0zm-2-3zm-10 0zm-7 19zm-10-13zm-1-3zm-14 12zm-3-11zm-3 5zm-4-10zm-6 19zm-8-7zm-6-2zm-10 3zm-12 8zm-5-10zm-2-9zm-2 11zm-6 4zm-4-3zm-1-13zm-4 2zm-7 14zm-6-12zm0 1zm-9 0zm0 4zm-4 10zm0-10zm-3 9zm-1-16zm-7 7zm-10-5zm0-1zm-6 7zm-3-3zm-10 12zm-4-15zm-5 11zm-11-2zm-11-12zm-4 16zm-6-14zm-6 10zm0-6zm-6 3zm-4-7zm-9 10zm-4-11zm-1 4zm-10 12zm-2-6zm-1-6zm-2 8zm-4 3zm-4-18zm-1 13zm-10-7zm-9 4zm-20-4zm-2 3zm0 12zm-3-19zm-4 8zm-6 0zm-2 5zm-3-15zm-8 12zm-1-4zm-8-5zm-1 5zm-3 7zm-3-13zm-4 9zm-2 7zm-3-3zm-13-2zm-2-4zm-4-5zm-5 3zm-11 8zm0-9zm-5 9zm-9 1zm-1-5zm-5-8zm-1 8zm-1 7zm-16-12zm-10 13zm-11-16zm-4 5zm-13-3zm-1 11zm-22-6zm-7 5zm-14 5zm-15-19zm22 37zm15 0zm18 1zm4 1zm34-10zm3 3zm2 8zm3-6zm27 3zm2-10zm9-1zm17 10zm6-15zm12 3zm3 11zm12-3zm7 5zm6 5zm4-2zm4-12zm0 9zm5-2zm2 3zm0-13zm5-2zm5 19zm0-8zm3 3zm7 0zm2-9zm5 5zm5 0zm13-2zm8-8zm0 17zm6-14zm2 14zm2-10zm4-4zm0 10zm8-14zm1 12zm14-3zm1 7zm0-8zm9-3zm1 4zm0 10zm5-6zm0-9zm2 5zm7 3zm5-10zm4 2zm2-5zm4 20zm2-7zm4-11zm3-2zm0 17zm4-4zm1-8zm1 13zm1-17zm10 14zm11 2zm4-6zm6-4zm0 4zm3-5zm1 14zm2-16zm1 8zm2 5zm4 0zm15-5zm1 0zm0-11zm2 2zm1 14zm6-12zm4-4zm0 14zm9 4zm1-13zm9-4zm1 8zm2 6zm2-5zm1 3zm7-4zm0-5zm1 8zm4-4zm4 10zm0-14zm5-2zm3-1zm1 13zm1-10zm3-3zm5 10zm0-3zm4 0zm0-7zm5 18zm8-15zm0 7zm2 1zm2 6zm8-7zm4-2zm4-7zm5 0zm4 10zm3-12zm6 2zm18 7zm11-2zm1-4zm9 12zm2 4zm4-6zm6-1zm3-3zm5 2zm2-5zm20 12zm11 0zm1-13zm7 1zm2-4zm2 15zm1-8zm3-8zm2-2zm20 17zm2-6zm4 1zm6 7zm5-5zm5-1zm3-9zm7 0zm0 5zm4 12zm10-3zm1-5zm1-8zm5-2zm1 14zm8-14zm20 3zm-1 33zm-1-1zm-3 5zm-5-15zm-4 11zm-3 4zm-12-6zm-3-5zm-9 2zm-1 2zm-12-7zm-3 6zm-3 3zm-1-9zm-5-1zm-2-4zm-4 5zm-7 10zm-1-14zm-4 15zm-1-10zm-5 3zm-1 1zm-4 3zm-1-4zm-3 7zm-3-18zm-12 21zm-17-20zm-7 1zm-15 14zm-6-15zm-4 14zm-2 5zm-2-5zm-2-5zm-5 11zm-3-20zm-5 16zm-4-8zm-3 3zm-7 3zm-3-5zm-4 9zm-2-11zm-18 11zm-8-8zm-2-7zm-3 10zm-1-4zm-1 8zm-7-17zm-2 5zm-2 11zm-1-6zm-18 7zm-5-12zm-1 6zm-5 3zm-7 4zm-6-12zm-4-6zm-3 17zm-17 3zm-4-5zm-2-8zm0 13zm-3-20zm-4 1zm-12-2zm0 11zm-6-6zm-4-3zm-1 5zm-1 13zm-5 1zm-6-6zm-1-6zm-7-8zm-6 7zm-2 10zm-14 0zm-2-18zm-7 1zm-6 17zm-4-6zm-4-3zm-1-3zm-5-5zm-4 6zm-1 14zm-4-14zm-5 0zm-3-2zm-4 13zm-3 3zm-2-20zm0 18zm-1-17zm-4 4zm0 5zm-4-6zm0 12zm-12-16zm-1 11zm-6 3zm-4 4zm-9-6zm-3-9zm-5-3zm-4 9zm-4-5zm-9-5zm-1 4zm-10 15zm-14-6zm-4-1zm-1-5zm-5 5zm-3 3zm-6-9zm-9 9zm-4-3zm-6 8zm-1-13zm-7 9zm-6-6zm-26 3zm0-4zm-24 12zm-1-4zm-24-14zm-4 18zm-2-1zm-6-16zm-31 9zm-3-2zm-14 3zm-5 4zm-8-2zm-23 4zm-3-17zm-5 34zm26-7zm9-8zm2 18zm5-10zm3-2zm25-3zm4 0zm8 2zm0 13zm6-4zm5 0zm4-5zm10 7zm3 0zm23 5zm6-4zm18 3zm7-8zm4 3zm15-13zm5 18zm3-7zm0-9zm5 10zm2-7zm4 14zm1-9zm8-11zm1 10zm1 5zm10-3zm1-11zm2 15zm14-16zm9 16zm7-15zm1 6zm1 7zm7-6zm1 6zm1-15zm2 19zm1-4zm2-15zm1 0zm5 10zm7-4zm7 13zm7-11zm4 5zm4 5zm4-7zm2-5zm4 0zm10 12zm6-18zm4 4zm2 16zm4-17zm0 9zm5 1zm3-1zm1 3zm1-6zm5 9zm2-13zm1 12zm11-17zm9 8zm3-2zm13 12zm0-6zm2-9zm5 13zm1-8zm6 11zm5-17zm2 15zm0-7zm6 8zm1-14zm0 5zm9-8zm3 14zm2 4zm3-5zm1-11zm7 7zm2 5zm3 1zm2 4zm3-6zm3 4zm1-8zm1 11zm6-17zm1-2zm3 14zm2-12zm4 13zm1-5zm8-9zm4 3zm3 12zm7-9zm1 5zm3 2zm6-15zm17 4zm4 1zm10-2zm4-3zm1 13zm6-6zm25 5zm1-6zm12-6zm6 5zm2-5zm6 17zm0-6zm0-9zm4 8zm4-7zm1 17zm2-7zm1-1zm6 8zm6-18zm1 9zm9 8zm5-10zm17-6zm5-4zm2 15zm6-2zm2-12zm2 5zm2 7zm4 6zm11-5zm4 0zm3-10zm0 16zm2-17zm11-2zm1 15zm1 3zm7-13zm3 10zm4 5zm10-9zm2 8zm3-2zm8-6zm8 5zm13-7zm16 4zm-3 21zm-4 0zm-3 6zm-2-8zm-3 8zm-3-5zm-1 7zm-6-14zm-2-5zm-1 17zm0 1zm-1-5zm-3 5zm0-1zm-4-12zm-3-4zm0 11zm-4 5zm-1-17zm-2 13zm-11-13zm-4 19zm-2-20zm-4 4zm-1 7zm-1-2zm-11-5zm-2 13zm-4-16zm-6 7zm-3-3zm-7 7zm-2-13zm-3 20zm-4-2zm-3-8zm-5-7zm-11 8zm0-7zm-2 4zm-1 6zm-1-1zm-9 3zm0 4zm-2-8zm-2-2zm-9 8zm-1-17zm-5 16zm-1 3zm-1-14zm-4 13zm-1-15zm-1 7zm-7-3zm0 12zm-2-4zm-11 4zm-6-6zm-1-4zm-12 10zm-4-11zm-5 2zm-4 8zm-9-10zm-1 7zm-2-11zm-5 12zm-6-14zm-1 9zm-16-1zm-9 5zm-2-12zm-1 7zm-1-9zm-5-2zm-8 16zm-9-15zm-5 4zm-2 16zm-2-18zm-16-2zm-2 16zm-3 3zm-16-4zm-2-10zm-5 2zm-2 13zm-16-5zm-1 4zm-11 1zm-2-14zm0 8zm-2-5zm-8-8zm-4 16zm-7-12zm-2 3zm-2-7zm-10 15zm-10-8zm-6-3zm-2-6zm-6 16zm-1-16zm-2 11zm-7 4zm-4 0zm-3-2zm-6-12zm-1 9zm-9-6zm-1 14zm-11-18zm-1 16zm-6-5zm-1 6zm-1 2zm-19 1zm-18-7zm-1-11zm-4 12zm-9-14zm-1 16zm-9-8zm-3-7zm-1 17zm-10 1zm-5-13zm-6-4zm0 14zm-4-7zm-4 6zm-9-15zm-11 2zm-6 17zm-4-1zm-2-11zm-8 12zm0-18zm-20 1zm-9 10zm-2-4zm-16-1zm-43 1zm-7 7zm0-9zm-20 15zm-4-14zm12 33zm37-12zm2 1zm26-2zm6 16zm2-9zm10 8zm13-18zm4 0zm4 9zm11 7zm12 3zm6-10zm10-7zm3 13zm6-4zm8-12zm5 0zm8 12zm4-10zm20 12zm3-8zm4 0zm10-4zm0 15zm2-10zm1 3zm5 4zm3 1zm9-12zm9 5zm1-1zm3-5zm8 7zm10 11zm0-4zm7 0zm1 3zm2-17zm9 9zm5-6zm1 15zm4-16zm4 15zm2-10zm6-5zm1 13zm2-4zm1-4zm6-2zm4 11zm2-14zm10 0zm1 10zm2-13zm3 15zm8-5zm2 5zm3-13zm4 10zm5 3zm0-5zm1 1zm7 7zm5-8zm3-6zm10 3zm2 5zm0-12zm4 8zm3-3zm1-3zm1 7zm15-6zm6-1zm0 9zm4-3zm5-4zm12 6zm12 7zm2-5zm2-9zm5 12zm5-17zm9 21zm14-10zm2-7zm2-3zm4 18zm6-8zm8-11zm1 18zm0-6zm30-10zm1 7zm4-2zm1-5zm12 9zm12-3zm1 6zm1-10zm14 2zm9 4zm8 3zm1-4zm6 2zm4 5zm1-3zm3 5zm2-5zm4 7zm1-8zm0 4zm2 5zm1-6zm3-3zm2-11zm1 4zm11 3zm1 7zm1-13zm1 10zm5 2zm10-7zm11-2zm2 13zm5 3zm16-19zm10 0zm5 14zm0-15zm9 6zm11-3zm1-4zm0 11zm2 6zm9 18zm-4 0zm-37-3zm-22 5zm-2-2zm0-8zm-1 3zm-1-4zm0-4zm-18 2zm-1 5zm-2 3zm-5 3zm-1 7zm-3-2zm-7-11zm0 1zm-6 9zm-1-9zm-9-3zm-5-1zm-2 10zm-3-3zm-4 10zm-5-16zm-2 4zm-2-8zm-3 8zm-10-4zm-1 16zm-2-3zm-1-16zm-2 13zm0-14zm-5 0zm-2 6zm-4-5zm-3 4zm-6 14zm-2-5zm-5-2zm-4-6zm-3 1zm0-7zm-3 13zm-18 7zm-1-7zm-1-6zm-1-8zm-1 18zm-5-18zm0 20zm-4 0zm-16-12zm-18-6zm-7-2zm-9 13zm-4 5zm-6-9zm-5 6zm-7-3zm-1-5zm-5 2zm-5-5zm-1 5zm-2 3zm-6-10zm-6 11zm-9-9zm-5-2zm-12 8zm-14 0zm-2-7zm-3 15zm-6 1zm-2-17zm-4 16zm-2-15zm-4-2zm-2 2zm-5 8zm-2-7zm-4 6zm-4 6zm-11-8zm-2 12zm-2-4zm-11 2zm-3-17zm-23 17zm-6-15zm0 14zm-4-4zm-10-1zm-1 4zm-6-12zm-2 4zm-4 12zm-4-2zm-2-10zm-4 8zm-2-15zm-7 3zm-5 15zm-3-10zm-1 5zm-6-2zm-2 8zm-1-8zm-10 4zm-3-4zm-4-1zm-1 9zm-2-13zm-2-5zm-14-1zm-4 14zm-3-12zm-5 8zm-5-9zm0 10zm-3-4zm0 13zm-39-14zm-10-4zm-9 11zm-6-3zm-25 1zm-26 1zm-2-5zm-6-8zm-12 8zm-3 11zm-27 1zm-2-8zm-8-7zm-7-5zm-2 5zm60 33zm5-3zm6 1zm4-3zm23 10zm5-21zm0 7zm0 12zm8-6zm4-5zm40 11zm1-17zm4 14zm5-13zm4 14zm8-10zm4 13zm18-18zm6 5zm1 5zm14-7zm3 4zm1-3zm0 13zm10 1zm2-4zm15-6zm18-3zm1 7zm4-10zm1 13zm6-6zm6 10zm4-18zm17 18zm0-18zm5 7zm1 9zm8-14zm2 4zm5-2zm2 13zm2-11zm16 3zm2-4zm15 12zm1-17zm1 7zm1 4zm4-4zm0-6zm3 7zm1-8zm8 6zm1 7zm1 2zm1-17zm6 15zm10-1zm0-12zm5 1zm4 5zm5-3zm2-6zm8 10zm1 0zm0-5zm4 15zm1-6zm3 6zm2-14zm3 13zm0-17zm2 13zm14 0zm0-3zm1-12zm3 5zm3 14zm14-8zm4 4zm7-12zm3 5zm10 11zm8-18zm1 14zm9 6zm0-20zm3-1zm9 9zm2 1zm9-8zm1 14zm6 3zm11-6zm1-7zm2-4zm12 3zm0-2zm11 7zm0-6zm4 11zm9 3zm9-12zm21-5zm11 20zm3-5zm2-9zm1 4zm9-2zm16 0zm7 4zm5 8zm2-21zm4 12zm3-7zm14 16zm19-8zm3-4zm17-3zm18-2zm2 11zm11 25zm0-12zm-5 14zm-10-5zm-16-8zm-29-7zm-7 20zm-19-9zm-1-11zm-35 17zm0-13zm-15 9zm-5-4zm-4 10zm-11-1zm-5-3zm-1-11zm-1 13zm0-12zm-9-1zm-28 10zm-1-8zm-4 3zm-1 4zm-17 5zm-13-17zm-1 19zm-9 0zm-10-9zm-5-2zm-8 9zm-5-14zm0 8zm-4-11zm-13 0zm-2 14zm-3 2zm-2-15zm-16 18zm0-11zm-3-7zm-3 3zm-5 2zm-12 3zm-4-4zm-1 5zm-3 6zm-6-8zm-10-6zm-6 11zm-2 5zm-4 1zm-4-4zm-2-14zm-5 12zm-4 4zm-8 1zm-4-7zm0 7zm-14-19zm-1 4zm-5 6zm-5 3zm-5 3zm-2 3zm-5-3zm-5-2zm-6 2zm0-5zm-4 4zm-3 6zm-1-3zm-6-17zm-2 2zm-1 1zm-2 16zm-13 0zm-2-8zm-7 8zm-4 0zm-1-17zm-3 6zm0 7zm-4-9zm-1 7zm-3-6zm-3 3zm-6-1zm-3-1zm-2-7zm-3 11zm-3 2zm-3-10zm-3 8zm-10-12zm-1 7zm-4 7zm-6-1zm-8-7zm-7 13zm-9-20zm-12 15zm0 5zm-29-17zm0 13zm-3-15zm-10 20zm-2-4zm-8-10zm-6 12zm-9-7zm-3 3zm-4-7zm-11 1zm-3-2zm-6 11zm-4-7zm-10-10zm-3 18zm-9-8zm-1-2zm-27 3zm-6-11zm4 33zm25-11zm3 19zm6-18zm7 12zm19-13zm10 7zm3 12zm9-17zm5 18zm25-7zm9 5zm12-2zm4-6zm6-9zm15 10zm4-5zm20 11zm13-2zm0 4zm6-16zm7 6zm3-10zm2 17zm3-5zm1-6zm3-1zm4 10zm1-7zm5 2zm1 11zm7-5zm4-7zm4-1zm3-3zm6 10zm4-12zm1 18zm1-11zm4 11zm1-21zm8 1zm1 11zm3-12zm2 12zm6-12zm0 4zm2 9zm8-3zm6 1zm6-5zm4 0zm11-6zm9 10zm1 11zm9-10zm4-1zm3 2zm12-7zm7 6zm2-9zm2 3zm3 7zm3-5zm6 13zm6-3zm3-1zm2 3zm3-6zm0-8zm8 15zm4-19zm7-1zm1 7zm3-6zm10 10zm2-11zm10 15zm5-1zm16-8zm4 15zm2-14zm15 3zm3-2zm13 6zm3-6zm6-1zm19 14zm24-14zm8 4zm5-5zm9-4zm14 11zm11 8zm2-16zm1 7zm2-12zm2 17zm68 1zm7-4zm6-3zm13-1zm6 1zm3 2zm5-2zm14-1zm2 8zm-34 13zm-9-7zm-5 18zm-25-17zm-15 6zm-14 4zm-18 1zm-1-8zm-3-6zm-2 17zm-5-9zm-11-3zm-2 6zm-10 6zm-6-13zm-3 3zm-11 14zm-4-15zm-7 3zm-7-5zm-17 11zm-25 4zm-2-16zm-3 0zm-9 14zm-8 1zm-2-10zm-3 3zm-1 4zm-9-9zm-5-6zm-1 21zm-2-18zm-4 2zm-5 9zm-3-3zm-7-7zm0 15zm-16 2zm-2-13zm-3-3zm-1 9zm-1-8zm-10 15zm-5-2zm-2-8zm-8 6zm-7-17zm-8 15zm0-11zm-17 7zm-11 2zm-15 2zm-11 3zm0-4zm-3-7zm-36-7zm-7 2zm-1 19zm-4-4zm-6-4zm-6-11zm-1 5zm-4-6zm-1 13zm-4-8zm-12 1zm-2 9zm-1-13zm-1 4zm-2 7zm-5-14zm-7 11zm-10-4zm-14-6zm-10 9zm-28 5zm0-13zm-5 5zm-4 6zm-8-6zm-25 3zm-17-10zm-19 20zm-13-10zm0-8zm0 19zm-5-6zm-3-6zm-27 7zm-29 16zm71 7zm3 4zm8-10zm4 5zm6-16zm17 13zm21 5zm27 2zm7 0zm11-13zm12 10zm7-1zm16-9zm2 12zm2-12zm3 13zm9-7zm6-1zm2-11zm3 10zm10 2zm4-2zm3 1zm9 6zm4 2zm4-2zm4 1zm11-5zm6-5zm7-4zm42 13zm18-18zm3 12zm0-7zm5 8zm2-7zm3 15zm9-2zm4-13zm1 10zm5 2zm4-1zm2-9zm17 12zm10-4zm5 1zm7-7zm9 1zm6-3zm8 11zm6-14zm12 15zm1-18zm25 13zm0-4zm3 2zm30-10zm15 0zm1 9zm10 1zm13-7zm1 3zm12-1zm4-7zm7 13zm4 2zm2-9zm6-2zm8 13zm7-13zm6 16zm15-21zm1 19zm14-14zm2 2zm24-1zm9-1zm8 13zm9 6zm-2 6zm-17 7zm-7-1zm-29 3zm-7-3zm0-7zm-6-6zm-6 0zm-13 10zm-1 7zm-18 2zm-19-19zm-1 7zm-12-4zm-5-3zm-9 10zm-13 3zm-1-12zm-6-2zm-6 10zm-8-4zm-15-3zm-4 17zm-2-4zm-1-8zm-11-5zm-3-3zm-2 4zm-6 15zm-4-11zm-20 4zm0 4zm-32-11zm-24 5zm-7-8zm-2 18zm-8-14zm-9 1zm-1 4zm-17-9zm0 5zm-5-2zm-5-2zm-19 16zm-6-16zm-7 9zm-8 6zm-14-4zm-10-7zm-7 4zm-4-2zm-3 11zm-2-13zm-2 9zm-4-5zm-12-3zm0-6zm-6-1zm-1 5zm0 13zm-2-15zm-6 4zm-3 1zm-2 2zm-9 6zm0-12zm-28 15zm-3-12zm-2 4zm-7 1zm-6 8zm-8-11zm0-10zm-1 4zm-6 15zm-38-11zm-11 4zm0-10zm-15 18zm-1-8zm0 8zm-4-12zm-21-3zm-38 15zm15 19zm6-4zm19-8zm3 7zm4 1zm25-13zm3 14zm4-7zm30-4zm15 15zm4-16zm2 18zm25-7zm3 4zm17 4zm8-17zm24 16zm8-17zm1 6zm3-7zm20 0zm2 18zm32 1zm5-9zm3 9zm1-18zm4 12zm6-9zm3 7zm16-13zm14 10zm12-9zm4 19zm30-12zm6 7zm2-15zm14 19zm15-4zm3 6zm9-6zm18 0zm7-6zm3-5zm34 8zm30-9zm7 6zm12 9zm26-6zm21-1zm16 9zm1 11zm-43-9zm-5 3zm-22-2zm-7 13zm-10-1zm-5-1zm-14 7zm-4-3zm-41-6zm-6-8zm-9 17zm-6-3zm-6-12zm-13-4zm-2 12zm-9 1zm-2 6zm-6 1zm-1-17zm-4 2zm-9 1zm-26 13zm-2-6zm-16-4zm-7-5zm-8 3zm-7-4zm-45 15zm-31-6zm-15-6zm-17 8zm-13 5zm-6-18zm-8 1zm0 10zm-6 2zm0 7zm-1-17zm-4 9zm-17 6zm-4-7zm-18 5zm-3-14zm-2 16zm-20-6zm-3-8zm-14 16zm-15-9zm-3 28zm22-13zm7 3zm10-7zm8 17zm13 2zm25-19zm3 2zm6 14zm3-12zm7 14zm35-4zm11 2zm13-12zm10 4zm7 6zm3-12zm4 3zm13 3zm3 4zm12 5zm5-2zm20-13zm45 2zm1 3zm31-8zm53 12zm24-9zm1 10zm19 22zm-47-9zm-59 12zm-116-12zm-31 6zm-10 3zm-6 5zm-18-10zm-10 4zm-48-3zm-1 5zm-10 4zm18 20zm117-16zm3 3zm-34 21zm-134-1z"/>
<path stroke="#DAA51B" d="m1517 501zm14 0zm5 4zm20-1zm22-4zm16 6zm-16 4zm0 4zm-4-1zm-6 4zm-28 8zm-2 0zm-6-10zm0 6zm-12-12zm-5 4zm-7 9zm-9-2zm-7 5zm-5 2zm-2-17zm-6 6zm-15 0zm-19 26zm7-1zm14-1zm5-12zm7 17zm4-12zm8 5zm4 4zm0 6zm6-14zm0-2zm2 15zm8 2zm16-7zm11 5zm121 21zm-47 1zm-48-12zm-1 5zm-12 6zm-3-10zm-10 3zm-1 2zm-3-4zm-2 2zm-2-5zm-13 8zm-3-3zm-21-8zm-12-1zm0 5zm-4-4zm-3 4zm-5 13zm-7-5zm-2-11zm-1 9zm0-5zm-1 8zm0-16zm-12 6zm-1-5zm-4 20zm-5-3zm-4-4zm-3 18zm12-1zm2 6zm6-7zm4 0zm1-6zm1 14zm9-14zm11 2zm6 9zm9 6zm7-3zm6-14zm7 18zm1-4zm2-10zm3 13zm6-6zm1 7zm3-9zm6-5zm7 5zm2 2zm3-3zm1 9zm10-8zm1 9zm27-18zm5 13zm15-9zm26 15zm8-10zm14-8zm20 3zm4 20zm-6-4zm-14 0zm0 14zm-3-3zm-5-3zm-19 9zm-6 2zm-8-4zm-2-5zm-6-1zm-7 5zm-6-3zm-12 0zm-3 6zm-1-1zm-5 0zm-4-3zm-2-13zm-16 17zm-1-7zm-7-8zm-7 7zm-1-5zm-4 12zm-4 2zm-1-15zm-19-2zm-5 14zm-4 1zm-3-3zm-7 7zm-3-15zm-8-5zm-5 18zm-9-1zm-1-3zm-1-3zm-2 8zm-3-12zm-7 3zm-4-10zm-6 0zm-2 17zm0-7zm-2-4zm-4 6zm-1-10zm-12 17zm-7-8zm-1 4zm-3 5zm-23 23zm23-1zm5-11zm3 7zm8-16zm5 20zm1-5zm8-2zm1-5zm1 2zm8-8zm1 4zm7 8zm7-2zm5-6zm0-4zm1 13zm3-3zm4-2zm6-3zm1-4zm3-2zm14 10zm0 4zm10-6zm3 7zm2-2zm5-14zm6 0zm2 20zm6-11zm1 3zm2 4zm14-2zm2-14zm1 5zm6 15zm2-17zm2 18zm3-14zm1-7zm4 20zm2-8zm6-4zm4 1zm9 6zm22 6zm19-7zm23 1zm18-14zm8 14zm47 18zm-53-10zm-7 15zm-5 4zm-29-9zm-12 9zm-9-15zm-6-1zm-12 15zm-5-7zm-9 4zm-5 1zm-12 0zm-3-9zm-2 8zm-1 5zm-5-14zm-2 10zm-17-8zm-9-4zm-6-1zm-1 8zm-4 2zm-18 6zm-15-10zm-12-2zm-3-7zm-1 13zm-2 5zm-8-7zm0-4zm-5 6zm-2-14zm-1 20zm-5-17zm-4 13zm-2-4zm-5 8zm-2-14zm-9 12zm-3-18zm-2 17zm-3-3zm-6 1zm-16 1zm-7 4zm-4-12zm-4 9zm0-5zm-5 26zm1-7zm1-8zm9 5zm1-5zm10 11zm24-12zm13 15zm15-11zm3 9zm4 5zm7-14zm6 8zm4 5zm8 1zm6-4zm2 1zm5-10zm1-3zm1 17zm5-8zm5 8zm1-13zm7 4zm0 8zm6-9zm10 3zm2-11zm6-1zm3 13zm3-6zm13 12zm1-13zm2 5zm3-5zm3 6zm2-4zm0 3zm12-8zm1 2zm1 6zm4-8zm1 2zm3-1zm11-3zm11 10zm12 3zm7 5zm21-10zm2-9zm18 18zm14-15zm4 2zm14 16zm32-14zm-12 30zm-10-6zm-29-4zm-34 0zm-11 3zm-24-6zm-15 1zm-4 12zm-1 5zm-11-20zm-1 17zm-28-13zm-4 17zm-4-8zm-15-5zm-1 12zm-7-3zm-4 2zm-5-19zm-4 10zm-5 6zm-4 1zm-4-11zm-4-1zm0 5zm-12-10zm-4 11zm-11-11zm-6 17zm0-9zm-11 13zm-11-19zm-7 5zm-6-3zm-16 3zm-6 6zm-2-10zm-2 5zm-7 4zm-8-9zm-13 11zm-10 2zm-3-5zm-10 31zm1-3zm3-7zm5-6zm6 1zm8-1zm6 4zm4 9zm15-2zm2-5zm2-8zm2 13zm2-3zm1 9zm6-8zm1-4zm15 8zm2-15zm19 17zm3-12zm3 0zm2 10zm10-2zm3-13zm6 19zm0-1zm1-14zm9 10zm7-14zm3-2zm4 13zm2-4zm18 5zm5 1zm6-1zm3-10zm0 4zm2 4zm2-11zm4 0zm2 4zm5-1zm8 1zm10 16zm6-1zm4-11zm11-4zm0 13zm3-4zm7 0zm3-13zm1 10zm8-11zm2 11zm8 2zm1 6zm13-17zm4 12zm8 7zm11-20zm62 2zm157 24zm-123 5zm-10 6zm-37-6zm-4 8zm-14 1zm-14-16zm-15 7zm-4-3zm-22 11zm-14-5zm-8-2zm-3 3zm-10 6zm-14 0zm-9-15zm-2-3zm-9 19zm-1-6zm-5-5zm-6-8zm-10 9zm-12-2zm0-5zm-11 16zm-4-4zm-13 2zm-1-16zm-6 11zm-8-8zm-11 6zm-7 5zm-2-15zm-4 5zm-1 4zm-2 3zm-2 4zm-2-15zm-6 19zm-1-5zm-9-7zm-2 8zm-2-13zm-4 15zm-2-17zm-4 14zm-1-6zm-5 2zm-1 9zm-12-1zm-2-14zm-2 10zm-1-14zm-1 9zm-22 3zm-16-10zm-2 8zm-22 6zm-1-9zm-4 6zm-18 28zm5-8zm7 5zm3-4zm2-7zm3 3zm20-6zm4 1zm7 1zm10-2zm8-3zm0 7zm5-8zm1 21zm1-4zm19-14zm0 5zm5 10zm5-14zm15 12zm1-8zm6 12zm10-15zm12 2zm4 14zm3-8zm5-10zm0-3zm2 8zm8 13zm6-1zm2-16zm1 14zm4-9zm11 12zm10-6zm11 2zm8-7zm26-8zm1 12zm2 7zm3-6zm1-5zm4 4zm3 6zm8-11zm5 2zm7-4zm4-3zm9 6zm21 11zm2-3zm4-14zm24 7zm6-5zm6 15zm4-16zm9 11zm12 4zm2-5zm20-2zm27-8zm9 34zm-5-16zm-10 2zm-2 14zm-2-17zm-4 15zm-12-12zm-14 15zm-3-18zm-19 2zm-3 15zm-2-14zm-12 0zm-3 15zm-10-14zm-34 15zm-21-13zm-2 5zm-20 4zm-1-11zm-4 4zm-4 1zm-4-1zm-7 10zm-12-5zm-2 5zm-2-5zm-8 4zm-5-6zm-4 8zm-9-11zm-5 0zm-5-4zm-5 0zm-2-3zm-16 12zm-1-4zm0-4zm-16 13zm-5 3zm-2-9zm-8 7zm-2-5zm-2 7zm-7-20zm-6-1zm0 20zm-3-13zm-2 9zm-20 4zm-1-4zm-6-3zm-6 0zm-5-8zm-1 4zm-1 6zm-9-8zm-4 12zm-4-3zm-2-16zm-8 11zm-6-2zm-4 10zm-7 2zm-3-13zm-3 5zm-5 3zm-7-8zm-6 3zm-5-7zm-4 11zm-2-13zm-4 5zm-4 20zm5 16zm3-16zm4-2zm4 3zm5 0zm5-5zm4 10zm1-5zm2 9zm3-15zm1 14zm0 7zm19-9zm15-10zm5-1zm4 18zm6-13zm3 5zm3-7zm3 14zm9-5zm36 1zm3-8zm1-3zm6 17zm5-17zm8 15zm1-14zm21-4zm5 3zm1 4zm4 12zm3-5zm4 5zm4-8zm4-1zm0-7zm4 4zm3 11zm2-11zm7 13zm29-4zm3-13zm0 16zm2-11zm3 5zm5 3zm3-7zm7 10zm0 2zm4-3zm4 2zm2-11zm2 6zm2-9zm1 11zm6-15zm6 0zm10 11zm10-8zm3 9zm11-2zm5 0zm1 1zm7-1zm18 8zm14-13zm38-1zm1 7zm19 2zm27-12zm-23 27zm-10 12zm-3-16zm-4 13zm-1-17zm-44 20zm-2-3zm-2-13zm-10 2zm-1 5zm-2 6zm-1-12zm-2 13zm-3-4zm-6-9zm-4 9zm-22-13zm-3 17zm-7-8zm-13 5zm-16-13zm-6 3zm0 14zm-13-11zm-4-1zm-6-1zm0-5zm0 11zm-1 1zm-14 1zm-2-14zm-4 12zm-1-5zm-5 8zm-15-3zm-5 9zm-5-16zm-12-2zm-7 10zm0-9zm-9 14zm-9-11zm-10 5zm-2 6zm-6-16zm-1 18zm-8-7zm-1 6zm-6-5zm-4-2zm-5-8zm-4 6zm-4-2zm-2 5zm-2 6zm-32 0zm-5 1zm-21-1zm-1-9zm-4 6zm-6-15zm-6 4zm-7 16zm-1-18zm-1 16zm0-13zm-2 1zm-3 10zm-6-9zm-6-7zm-2 9zm-3-8zm-3 6zm-1 10zm-7-9zm-2 12zm-8-5zm-24 21zm6 0zm4-8zm10-7zm4 14zm1 4zm3-7zm15 7zm14 2zm0-19zm2 14zm6-3zm1-9zm5 12zm3-4zm0-9zm0 4zm2 10zm4-3zm3-11zm2 5zm7 11zm0-14zm1 9zm7-6zm11 8zm14-13zm4 16zm18-10zm26-8zm7 20zm15 0zm5-13zm8-3zm4 4zm10-3zm5 1zm1 15zm4-21zm5 19zm1-11zm4-8zm4 19zm3-10zm11-7zm7 14zm24-12zm6 14zm0-4zm4 2zm2-7zm3-5zm3-3zm2 19zm1-18zm3 13zm4 5zm14-9zm32-1zm14-8zm26 16zm24-7zm1-8zm30 4zm9-6zm5 18zm14 1zm8-10zm10 4zm-9 27zm-24-17zm-19 0zm-5 5zm-15 8zm-20-4zm-10 7zm-11-9zm-12-7zm-9 4zm-5 6zm-3 9zm-4-12zm-2 3zm-3-6zm-14-2zm-1 9zm-2-4zm-11 2zm-1 8zm-3-4zm-2-4zm-6-5zm-12 13zm-1-10zm-5-7zm-2 4zm-6 8zm-8-11zm0 7zm-3-4zm-6 9zm-24-14zm-10 12zm-15-8zm-7 9zm-3-4zm-7-5zm-8 7zm-8 8zm-13-11zm0 7zm-11-15zm-22 5zm-3 15zm-4-17zm-4 10zm-2 3zm-6-3zm-6-7zm-3 14zm-1-13zm-2 9zm-1-12zm-1 4zm-9-3zm-3-2zm-19 9zm-1-4zm0-8zm-3 3zm-7 2zm-6 10zm-8-12zm-7 11zm-2 6zm-3-21zm-6 17zm0 2zm-2-15zm-9 5zm-1 5zm-8-9zm-18 12zm-3-8zm-8 31zm3-12zm1 12zm0-17zm6 10zm0-6zm2-4zm7 11zm11-12zm6 17zm1 1zm4-13zm4 7zm3-5zm8 14zm2-10zm16 7zm0-15zm1 6zm4-8zm0 6zm3-3zm6 11zm8 3zm6 1zm4-5zm1-13zm1 4zm2 4zm7 7zm2-9zm2-6zm2 18zm8-10zm5-7zm0 17zm12-10zm1 10zm8-19zm3 17zm1-14zm8-3zm9 13zm4-3zm2 2zm7 7zm0-16zm5 8zm10-10zm4 13zm7 1zm28-13zm5 9zm10-2zm1 7zm15-2zm5-2zm9-3zm4 5zm10 4zm3-12zm3 6zm3-4zm3 2zm0 7zm7-17zm3 10zm19-2zm24 12zm2-7zm5-6zm8 1zm2-4zm3 16zm1-11zm0-3zm10 9zm27-4zm15 8zm2-10zm3 7zm32-10zm13 4zm22 8zm-28 22zm-8 1zm-9-4zm-28-4zm-11-7zm-19 13zm-13-2zm-9-6zm-2-8zm-8 13zm-38 0zm-3 6zm-31-12zm-10 6zm-4-5zm-8 2zm-7 4zm-6 2zm-2-17zm-1 9zm-5-7zm-9 13zm-9-4zm-8 5zm-12 0zm-3 5zm-7-9zm-5 4zm-10-1zm-18-4zm-1-4zm-3 2zm0 6zm-2 5zm-26-15zm-4 13zm-6-18zm-4 13zm-9-3zm-4 6zm-1-10zm0 5zm-13-3zm-1 9zm-7-3zm-3-4zm-1-8zm-1 4zm-5 2zm-8 3zm-5-8zm-16 6zm-2 11zm-2-17zm-10 17zm-10-15zm-3 15zm-1-7zm-12-4zm-1-4zm-1 8zm-4-11zm-2 2zm-5-2zm-3 19zm-4 13zm7-11zm4 1zm7 17zm1-12zm2 2zm9-9zm3 1zm1 9zm0 0zm5-4zm1-3zm12 1zm2-4zm1 1zm20 19zm8-20zm0 3zm3 14zm3-2zm12-3zm13-10zm4 2zm3 12zm3 2zm10 0zm4-16zm0 18zm2-12zm6-3zm1 12zm3-12zm3-5zm3 11zm9-8zm20 3zm0 6zm21-1zm1 6zm0-5zm3-3zm3 12zm4-15zm3-3zm3 16zm17-8zm6-9zm5 9zm12-8zm0 16zm7-6zm5 6zm7 0zm3-2zm15-3zm15 4zm39 2zm49-17zm38 5zm1 3zm22-2zm22-8zm1 9zm13 10zm14-18zm-26 29zm-17 2zm-7-9zm-12 5zm-4 12zm-1-15zm-9 10zm-49-3zm0 5zm-2-12zm-4 2zm-3-2zm0 11zm-25 6zm-15-12zm-6-8zm-12 9zm-5 1zm-23-10zm-2 13zm-4 0zm-5-14zm-2 20zm-20-4zm-15-10zm-10-4zm-27-1zm-2 15zm-2 3zm-1-15zm-18-2zm-16 6zm-1 5zm-21-1zm-3-5zm-13-2zm-6 6zm-4 1zm0-12zm-9 4zm-7-3zm-5 0zm-1 13zm-3-13zm-8 8zm-3 12zm-3-10zm-6-9zm-2 19zm-3-15zm-4-2zm-5 16zm-7-17zm-14 1zm-1-3zm-11 2zm-5-3zm-10 9zm-2 5zm-1 7zm-1-18zm-4 6zm0-2zm-3 10zm-2-10zm-4 0zm-9 28zm7-3zm2-7zm3 14zm3-16zm2 7zm1 5zm13-12zm1-1zm4 1zm6 17zm4-17zm8 10zm4-2zm23 5zm23 0zm2-10zm1 3zm1 10zm12-7zm0 3zm5 6zm0-14zm7-1zm1 9zm1 4zm2-10zm15-7zm4 2zm1 7zm6 6zm5-6zm7 11zm8-19zm5 19zm1-13zm10 14zm8-7zm3-3zm10-6zm10 15zm4-4zm31-2zm52-12zm21 4zm7 2zm13-7zm18-1zm5 10zm2 8zm6-4zm4 3zm3 4zm15-10zm2-8zm19 15zm13-5zm17 0zm10 7zm15-10zm11-5zm23 15zm17-9zm-72 26zm-21-4zm-3-8zm-6 14zm-5 0zm-11-3zm0-8zm-15-5zm-20-1zm-6 12zm-1-11zm-12 15zm-2-16zm-10 14zm-7 1zm-3-2zm-15-2zm-9-4zm-19-7zm-5 18zm-14-15zm-18 18zm-5-8zm-12 7zm-3-6zm-1 6zm-6-6zm-6 6zm-2-11zm-4-2zm-8-2zm-4 14zm-1-4zm0-6zm-4-6zm-5 10zm-9-11zm-2 15zm-12-5zm-1 5zm-3-9zm-1 6zm-6 3zm-3-17zm-2 18zm-3-4zm-3-4zm-2 7zm-5 2zm-5-10zm-6-4zm-2 9zm-6 1zm0 5zm-10-3zm-17-2zm-4-4zm0 8zm-6-3zm-8-14zm-18 19zm-1-10zm-2 4zm-11 3zm-8-7zm-4-2zm-3-5zm-2-2zm-1 10zm-5-10zm-3-2zm-7 5zm0 13zm-3-15zm-8-1zm-3 19zm-5 0zm19 19zm15-12zm9 9zm9 6zm3-20zm10 5zm4 10zm14 5zm11-2zm1-14zm1-4zm6 12zm0-9zm4 3zm1-6zm2 18zm1 1zm3-3zm4 0zm7 1zm10-3zm4-7zm9-6zm4 13zm5-6zm9-5zm1 11zm4-15zm0 14zm9 1zm4-5zm0-10zm2 3zm4 5zm16 0zm8 5zm2-13zm5 12zm4 1zm1 3zm4-5zm1 4zm6-8zm7 9zm6-13zm20 11zm19-2zm17-4zm6 3zm6 8zm3-15zm23 16zm3-18zm6 19zm5 0zm22-19zm10 9zm23-1zm1-9zm6 11zm4 0zm3-6zm4 7zm16-5zm9 11zm18 0zm15-3zm21 5zm-50 18zm-6-11zm-2 11zm-2-6zm-8 4zm-24-2zm-4-1zm-16-6zm-21 5zm-22 3zm-10-8zm-15-6zm-11 19zm-5-16zm-5 13zm-20 4zm-16-12zm-7 11zm-3-1zm-37 1zm-4-8zm-12-3zm-14-7zm-5 10zm-10-7zm-3 10zm-4-14zm-4 9zm-2 11zm-9-8zm-10 5zm0-7zm-6 5zm-1 5zm-2-4zm-5 1zm-4-1zm-3-9zm-2 6zm-5-10zm-8 1zm-3-1zm-3 6zm-4 11zm-5-13zm-4-2zm-2-4zm-2 7zm-1-4zm-11-3zm-18 3zm0 15zm-2-7zm-13-2zm-3 7zm-5 4zm0-8zm-1 4zm-11 1zm-3 1zm-5 1zm-8 19zm25 2zm0-11zm3 7zm6-4zm3 3zm5-6zm2-6zm4 12zm3-8zm3 12zm1 3zm3-21zm0 14zm1-3zm3 6zm1-10zm6 9zm2-14zm1 10zm9-4zm9 6zm0-5zm8-1zm15-1zm4 0zm1 10zm1-7zm10 11zm0-20zm8 2zm5 15zm0 1zm3-9zm0-10zm3 16zm0-12zm8 2zm4-4zm3 4zm6 9zm17-15zm5 4zm6 6zm18 3zm3 6zm14-15zm29-2zm0 5zm7 1zm2 11zm3-16zm9 2zm18 9zm8-3zm6 9zm13-5zm2-11zm8 17zm7-11zm27 3zm1 8zm3-20zm3 6zm8-1zm4-2zm7 1zm4 12zm11 3zm7-1zm3-3zm11-14zm23 9zm15-7zm-36 23zm-3-1zm-1 12zm-34 5zm-4-9zm-10-2zm-10-1zm-9 8zm-41-4zm-10 2zm-14-2zm-11 2zm-19-1zm-31-14zm-6 17zm-52-17zm-17 20zm-4-20zm-5 14zm-15 7zm0-16zm-9 12zm-11-11zm-1-6zm-3 13zm-1-11zm-2 15zm-3-10zm-3 12zm-1-9zm-3 7zm-4-7zm0-6zm-5 12zm-10 5zm-2-18zm-2 17zm-4-15zm0 12zm-1-6zm-3-8zm-14 0zm-1 6zm-5-5zm-17 16zm-2-16zm-1 13zm-2 1zm-10-13zm-13-2zm-7 3zm11 26zm3-8zm6 12zm4-4zm14-7zm4 5zm0-5zm3 3zm1 5zm1-10zm1 18zm10-2zm4-4zm1-3zm16 6zm7-8zm4-3zm2 9zm10-6zm6 7zm2-13zm5 17zm7-10zm6-6zm10 7zm4 10zm11-16zm19 11zm18-14zm7 13zm15-4zm4-5zm3 11zm6 5zm0-15zm8 2zm16-2zm9-5zm32 5zm1 8zm19-11zm2 15zm5-10zm18-7zm14 15zm38 2zm14-13zm7 14zm5-9zm2-3zm27-7zm31 0zm11 14zm-8 16zm-2-8zm-7 10zm-19 7zm-48-2zm-3-11zm-31 1zm-5-2zm-9 10zm-3 3zm-10-4zm-6 0zm-3-4zm-8 5zm-75-6zm-21 8zm-9 4zm-2-7zm-4 5zm-4-11zm-8 4zm-3 0zm-35 2zm-13-5zm-13 2zm-7 12zm-5-13zm-3 10zm-5 3zm-9-20zm-2 17zm-6-16zm-10 3zm-11 5zm-1 7zm-6-13zm-1 10zm-2 3zm-8-13zm-3 12zm-5-7zm-3-8zm-1 10zm-15-1zm-1-9zm-4 4zm-3 7zm-11 7zm-2-11zm-12 18zm10 0zm10 0zm0-2zm3 19zm15-18zm6 15zm2-15zm2 17zm8-1zm8-14zm3 12zm2-10zm9-2zm32 2zm3 1zm3 13zm11-4zm2-11zm2 12zm1-10zm4 4zm1 2zm65-3zm7 7zm2-4zm1-9zm59 14zm27-11zm12 9zm4-17zm30 14zm1-10zm16 6zm10 3zm3-7zm5-5zm25 20zm38-14zm41-1zm-72 36zm-28-9zm-5 1zm-1-4zm-16-2zm-12 3zm-2 12zm-8-21zm-17 3zm-8-3zm-3 5zm-5 7zm-5-2zm-13 10zm-46-3zm-11-3zm-15-2zm-2 7zm-6-13zm-16 10zm0 4zm-6-2zm-5-2zm-7-12zm-9 16zm-1-18zm-20 0zm-3 5zm-7 14zm-4-5zm-10-11zm-3 1zm-2 15zm-3-7zm-1-10zm0 8zm-1-11zm-11 10zm-4 5zm-1-6zm-16 4zm-6-13zm-2 8zm-1 4zm-4 6zm-4-1zm-6-13zm-9 6zm-5-3zm-6-1zm-4 5zm-5 7zm-6-17zm-925 10zm923 17zm22 7zm6 7zm2-5zm16-5zm1-6zm6 10zm13 5zm4 0zm12-18zm5 3zm47-3zm8 19zm34-8zm16 2zm4-12zm9 16zm14 2zm31-18zm2 1zm28 7zm4-11zm11 13zm4-5zm28 1zm15-4zm12-4zm-66 32zm-20 3zm-6 4zm-18-15zm-6 12zm-5 1zm-10-15zm-2 6zm-6 4zm-1 5zm-15-7zm-1 4zm-6 7zm-16-20zm-11 0zm-36 11zm-8 5zm-24-12zm-4 9zm-2-12zm-5-1zm-5 1zm-8 1zm-7 13zm-5-4zm0 7zm-11-2zm-2-3zm-9 4zm-7 3zm-2 9zm0 5zm3 6zm4-4zm4 5zm1-18zm2 14zm5-9zm4 6zm9-8zm3 17zm48-6zm4 4zm3-6zm8-8zm1 8zm6 0zm27-5zm4 2zm4-10zm9 16zm6-2zm11 0zm12 1zm14-14zm6 6zm0-6zm3 20zm38-21zm22 24zm-78 0zm-8 9zm-10 2zm-11 0zm-29-9zm-11-4zm-5 20zm-25-11zm-6-1zm-18-7zm-2 12zm-12 0zm-12-2zm-25-4zm-1 3zm35 21zm11 4zm97-5zm28-4zm-96 18zm-58 20zm-10-10zm0-9zm-4 19zm-2-6zm6 18zm3-4zm8 1zm9 4zm8 6zm21 23zm-5 2zm-1-9zm-3-6zm-3-3zm-8 11zm-8 8zm-5-15zm1 17zm1 7zm6-6zm10 8zm6 8zm6-1zm1-14zm5-3zm8 2zm1 19zm0-9zm31 30zm-22-4zm-2-13zm-4 7zm-1 8zm0-5zm-5-7zm-3-3zm-4 11zm-6-5zm-10 3z"/>
<path stroke="#E58606" d="m1788 429zm302 52zm-189 92zm-154 146zm108 5zm-34 19zm-32-5zm-40-1zm-43 7zm8 11zm119 14zm103-13zm-34 18zm-10 15zm-28 2zm-28-13zm-9 2zm-1 7zm-61-7zm-123 31zm56-2zm26 0zm8-15zm67-1zm18 13zm18 6zm10-13zm1-3zm57 16zm10-12zm26 29zm-49 5zm-2-9zm-5 1zm-23-5zm-21 10zm-6-3zm-3-3zm0 9zm-28-17zm-7 13zm-19-14zm-2 18zm-6-6zm-17-1zm-61 8zm-36-2zm12 24zm21-1zm18-5zm9-6zm15 9zm1-7zm37-7zm2 4zm15 12zm1-4zm4 2zm3-9zm1 4zm3-8zm25 15zm5-18zm2 19zm0-9zm3 7zm16-11zm1 7zm19 6zm5-17zm7 17zm1-1zm7 0zm1-10zm23-3zm0 8zm2-2zm4-11zm20 8zm22 1zm-38 24zm-4-7zm-4 1zm-7 4zm-3-2zm-1 9zm-11-5zm-3-11zm-13 19zm-14-19zm-5 2zm-11 8zm0-4zm-4-4zm-3 3zm-9 7zm0-4zm-7 6zm-5-5zm-9 10zm-1-16zm-1 11zm-2-10zm-7 6zm-4-2zm-2 10zm0-14zm-25 1zm-1 5zm-6-1zm-6-1zm-1 6zm-6-13zm-12 5zm-9 12zm-132 0zm-10 0zm-19 6zm20 16zm19-3zm108-3zm5-4zm2 4zm7 6zm20-14zm1 1zm11-4zm3 7zm2 8zm1-14zm2 17zm6-18zm18 0zm0 15zm12-1zm5 1zm7-8zm6-1zm2-5zm8 5zm2 7zm8-3zm3 6zm2-11zm1 5zm7-13zm2 13zm11-10zm2 7zm5-3zm2 8zm3 6zm6-3zm6-2zm1-7zm9 6zm4 19zm-2-8zm-2 9zm-4-2zm-5-8zm-1 10zm-7 5zm-6-14zm-18 13zm-11-4zm-4-5zm-3 10zm-14-2zm-13-14zm-6 18zm-15-16zm-13 11zm-5-12zm-1 13zm-12-7zm-43 8zm-26-7zm-3-2zm-7 6zm-49-7zm-10 3zm-21-7zm-1 6zm-4-6zm-12 10zm-15 5zm-4-15zm-100 21zm4 4zm9 11zm2-13zm6 17zm0-13zm3-1zm2-5zm65 4zm9 10zm13-10zm12 12zm16-5zm9-10zm34-3zm12 7zm8-5zm31 1zm4 17zm9 1zm0-21zm0 5zm0 4zm8 4zm4-9zm8 13zm11 1zm3-18zm5 2zm6 6zm0 5zm6 5zm4-4zm9-9zm11 7zm10-1zm4 1zm1-5zm7 4zm2 10zm3-13zm10 4zm3-12zm7 7zm22-6zm25 8zm1 9zm16-1zm3-15zm-21 28zm-47-8zm-8 19zm-10-13zm-11-6zm0 3zm-5 9zm-1 9zm-3-12zm-2 5zm-2 7zm-2-10zm-3 1zm-5 2zm-5-10zm-4 6zm-5-8zm-9 13zm-5 3zm-4-3zm0-5zm-1-9zm-4 7zm-1 3zm-1 3zm-9-5zm-2 5zm-9-10zm-1 9zm-3 7zm-6-10zm-5 4zm-7 2zm-1 4zm-1-14zm-12 6zm-27 0zm-3 3zm-22 1zm-11-15zm-4 15zm-15 0zm-6-10zm-3 13zm0-15zm-26 6zm-19 4zm-9 2zm-3-12zm-11 8zm-5-9zm-15 11zm-3 7zm-8-19zm-28-2zm-50 6zm-17 11zm-9 4zm-20-15zm1 37zm34-19zm5 1zm1 7zm37-3zm7 11zm41-15zm10-3zm0 8zm5-5zm1 5zm18 0zm13-2zm25 10zm6-14zm1 5zm1-3zm2-2zm10-2zm12 14zm4-7zm0 10zm5-14zm11 10zm3-11zm4 9zm3-9zm39 2zm9-1zm7-1zm4 17zm18-18zm33 1zm11 17zm4 1zm18-5zm11 0zm19-13zm0 12zm1-4zm5 2zm3-2zm1-9zm4 8zm17 11zm5-2zm28-16zm1 15zm29-5zm46 22zm-43-5zm-9 8zm-5 4zm-22-9zm-1-10zm-34 11zm-5 0zm-1 1zm-2 1zm-5-9zm-6 13zm-10 2zm-4-18zm-3 1zm-10 14zm-4-9zm-19 13zm0-18zm-4 18zm-2-10zm-9 5zm-11-7zm-10 5zm-4-1zm-2-6zm-1 9zm-8-7zm-27-7zm-3 12zm-1-8zm-2 0zm-5 16zm-6-15zm-1 15zm-7-18zm-1-3zm-10 17zm-5-10zm-6 2zm-11-2zm-26 8zm-2 6zm-36 0zm-6-18zm0 4zm-6-5zm-2 4zm-7 9zm-4-13zm-30 1zm-9 3zm-1-2zm-1 11zm-15 4zm-23-18zm-28 14zm-12-11zm-42 8zm0-9zm-11 1zm-14-1zm13 26zm8 8zm36 1zm9 1zm1-6zm37 1zm26 4zm15-9zm10-1zm17 0zm12-6zm15 21zm2-7zm17 5zm1-8zm20 1zm23 0zm2-4zm15-5zm14 12zm5-10zm5-5zm2 7zm5 13zm8-12zm16-6zm6 12zm10-13zm12 8zm16-2zm3 12zm6-12zm4 2zm2-6zm4 3zm12 5zm1 8zm7-12zm1-3zm11 13zm1 4zm1-10zm8 2zm0 8zm3-11zm3 9zm15-7zm1-4zm2 8zm34 2zm6-4zm3 2zm22-16zm33 7zm11 3zm0-2zm0 24zm-6-3zm-4-5zm-6 13zm-19 6zm-2-19zm-8 17zm-3 1zm-6-18zm-8 9zm-2 4zm-2 2zm-3-16zm-4-1zm-1 17zm-29-6zm-10 8zm-7-12zm-7 6zm-3-6zm-1 3zm-1 4zm-5-1zm-1 4zm-3-1zm-3 1zm-1-15zm-1 12zm-5-2zm-7 8zm-11-8zm-5 3zm-8-14zm-4 19zm-1-4zm-1-15zm-1 8zm-12-7zm-4-2zm0 18zm-2-12zm-2-6zm-18 20zm-14-11zm-15 4zm-3-5zm-6-7zm-2 18zm-5-15zm-8 11zm-10-4zm-5-9zm-1 0zm-1 8zm-1 6zm-9-1zm-4-15zm-6 3zm-3 9zm-4-4zm-4-5zm-2 15zm-19-8zm0 4zm-1 5zm-16-8zm-2-6zm-3 15zm-8-8zm-2-11zm-3 9zm-20 6zm-19-10zm-25-3zm-13 11zm-2-7zm-8 13zm-2-6zm-3 3zm-17 3zm-20-18zm-16-2zm-19 11zm-51 10zm13 7zm9 11zm5-4zm11 1zm48 7zm4-3zm24-15zm7 7zm3-8zm9 3zm4 16zm10-16zm1 5zm7 3zm3-4zm1-7zm16 4zm8-4zm15 4zm1-5zm16 14zm7-14zm4 18zm25-14zm20-5zm20 2zm22-1zm5 17zm27-16zm3 9zm4-10zm5 5zm4 0zm11 5zm3-1zm2 10zm6-4zm5-14zm9 18zm7-1zm3-5zm4-11zm12 5zm1 13zm0-10zm1 9zm1-9zm12 4zm1-2zm4-12zm3 0zm5 20zm4-21zm3 2zm2 10zm10-6zm1 6zm8-6zm6 10zm0-15zm4 17zm2-14zm17 8zm11 0zm5-12zm9 20zm15-5zm14-4zm7 10zm4-11zm11-6zm7 2zm2-3zm21-1zm4 19zm4 5zm-14-3zm-9-1zm-15 15zm-10-13zm-24 14zm-8-9zm-11 8zm-1-6zm-8 2zm-7 10zm-4-14zm-11-4zm-15 14zm-8 2zm-1-19zm-2 10zm-3-5zm-1 11zm-5-11zm-1-5zm-9 10zm-4 3zm-20-5zm-4-2zm-4 4zm-4-7zm-6 0zm-4 9zm-8 1zm-7 2zm0 6zm0-21zm-4 18zm-4-8zm-16 3zm-11 2zm-5-8zm-8 5zm-1-10zm-1 5zm-3 1zm-6 11zm-3 2zm-2-15zm-1-6zm-7 2zm-3 6zm-13-2zm0 12zm-5-4zm-1 4zm-4-5zm-15 8zm-31-11zm-1 4zm-3-4zm-10 4zm-10-12zm-1 3zm-3 9zm-7-10zm-1 3zm-2-4zm-1 12zm-6-15zm-10 6zm-10-5zm-20 12zm-6-1zm-4 7zm-4-6zm-2-6zm-9 1zm-7 12zm-2-14zm-2-5zm-2 13zm-8 1zm-4-1zm-36-3zm-16-2zm-9-9zm-9 6zm-7-5zm-9 13zm-21-1zm-12-8zm-17 15zm-27 9zm88 12zm19-1zm16-11zm7 12zm14-11zm7 10zm2 3zm25-1zm5-10zm10 6zm22-9zm3-3zm2 1zm9-4zm4 9zm19 9zm4-17zm17 1zm0 11zm47-5zm15 7zm1-14zm2 10zm7-9zm6 13zm0-10zm6 3zm1-8zm15 2zm2 3zm4 4zm4-6zm3 8zm10-11zm5 16zm28 4zm1-16zm3-2zm6 1zm21 16zm4-6zm1-9zm5 10zm2-7zm9 1zm1-5zm2 10zm2-14zm7 0zm1 8zm3 2zm1-6zm4 7zm2-5zm4 15zm11 0zm2-3zm1-10zm8 0zm22 11zm23-17zm3 3zm9-1zm3 13zm5 1zm7-4zm56-8zm25 13zm-37 3zm0 11zm-6-4zm-16-5zm-8 1zm-6 15zm-10 3zm-3-6zm-25-15zm-3 11zm-2-4zm-2 12zm-2-5zm-1-11zm0-2zm-8 11zm-7-12zm-4 5zm-6 1zm-12 7zm-2 7zm0-14zm-12 8zm-7-12zm-2 8zm-3 5zm-3-5zm-4-3zm-1 11zm-2-14zm-2 11zm-14 0zm-3 5zm-17 0zm-3-15zm-5 14zm-3-11zm-6 7zm-6-4zm0-5zm0-5zm-5-1zm0 14zm-12 7zm-2-13zm-8-2zm-1 6zm-1 8zm0-15zm-4 3zm-1 7zm-5 5zm-9-2zm-2-10zm-13-3zm0-1zm-13 15zm-6-14zm-3 5zm-11 6zm-12 5zm-23-14zm-15 2zm-3 9zm-2-6zm-6 3zm-4-11zm-3-2zm0 19zm-6-14zm-4 13zm-6-9zm-5 8zm-10-14zm-4-5zm-7 19zm-5-18zm-1 19zm0-12zm-4-7zm-6 0zm-1 15zm-2-9zm-7 9zm-2-10zm-5-4zm-12 13zm-1-14zm-5 9zm-16-10zm-6 21zm-10-20zm-33 12zm-66 7zm-8-10zm-21-2zm30 14zm4 19zm23 0zm18-8zm10-2zm13-5zm7 2zm17 10zm9-5zm1 9zm3-19zm1 17zm3-3zm13-6zm25-9zm4 12zm2 7zm3-16zm2 16zm10-12zm8 2zm2 8zm2 0zm0-9zm4 9zm19-14zm6-3zm2 12zm2 9zm9-16zm4-2zm3 18zm1-5zm11-11zm12 10zm29-9zm10 12zm8 0zm18-8zm9 3zm29-6zm2 8zm0 1zm3-3zm7-11zm1 14zm18-9zm4 2zm1 11zm2-19zm9 15zm2 5zm2-4zm9-3zm7 1zm3-5zm1-8zm7 8zm12 9zm0-19zm4 17zm9-11zm4-4zm8 7zm3-2zm8 8zm9-3zm2 8zm4-19zm8 3zm6 7zm4-7zm2 10zm21 5zm7-7zm5 8zm4-4zm10-10zm17-1zm15 8zm11 8zm59-2zm3 14zm-43 9zm-13 0zm-4-3zm-9-10zm-40 1zm-7-6zm-10 11zm-3 4zm-17-6zm-11 10zm-6-3zm-1-1zm-1-9zm-15-6zm-2 10zm-5-12zm-19 15zm-3-2zm-4 5zm-12-5zm-5-12zm-3 8zm-3-4zm0 13zm-13-17zm-2 17zm-8 3zm-9-15zm-1-4zm-1 15zm-2-4zm-17-4zm-9-8zm-3 2zm-8 0zm-17 5zm-6-8zm-2 13zm-2-3zm-4 11zm-3-11zm-9-8zm-13 13zm-2-12zm-9 11zm-4-9zm-1 11zm-1-8zm-14-1zm-4 1zm-6 13zm-3-9zm-2-11zm-7 14zm-7-15zm-17 18zm-1-8zm-9 5zm0 4zm-5 0zm-8 0zm0-9zm-6 6zm-18-10zm-30 6zm-7-2zm-11 7zm-21-12zm-18 7zm-10-2zm-11 6zm-12-12zm-5 11zm-44-11zm-18 7zm-7 32zm2-9zm11 1zm37-5zm5 7zm4 1zm7-8zm8 3zm11-1zm0-9zm12 12zm8-11zm0 5zm22 12zm9-15zm16-1zm15 4zm3 9zm20 3zm1-12zm3-6zm8-1zm17 8zm23-5zm1 17zm3-3zm7-11zm21 10zm6-4zm3-11zm8 6zm18 13zm9-5zm2 6zm1-9zm0 7zm16-15zm18 16zm5-7zm8-8zm5 6zm1-9zm5 1zm0 3zm2-6zm2 12zm11-6zm1 7zm3-7zm5 6zm0 7zm3-16zm6 2zm5-3zm5 1zm6 14zm15-5zm8 4zm6-2zm19-2zm3 6zm12-13zm12 11zm15-8zm10 2zm5 8zm1-6zm14 3zm5 1zm2 2zm2-10zm3 11zm7-10zm10 3zm29 8zm5-13zm0 9zm8 5zm2-13zm5-5zm17 7zm0 5zm19-3zm29 4zm12 14zm-20 6zm-3-11zm-38 16zm-31 1zm-8-19zm-4-1zm-7 7zm-7 9zm-1-6zm-9-3zm-4-3zm-6 5zm-1-8zm-7 14zm-10 1zm-6-13zm-6-3zm-2 13zm-13 0zm-1-7zm-19-5zm-12 18zm-2 0zm-5-14zm-14 1zm-8 2zm-4 8zm-1 5zm-12-11zm-5-1zm-10 10zm-4-10zm-7-5zm-7 15zm-8-9zm-1 7zm-9-8zm-9 3zm-3 6zm-23 3zm-8-18zm-15 6zm-10 7zm-4-12zm-15 6zm-5-1zm-4 6zm-1-2zm-5 5zm-2-18zm-2 21zm-10-7zm-4 4zm-2-4zm-2-10zm-7 1zm-3-3zm-8 18zm-17-1zm-13-18zm-7 16zm-8-2zm-1-6zm-4-6zm-6 0zm0 0zm-27 0zm-6 9zm-2-11zm-11 20zm-6 0zm-14-8zm-3 8zm-3-3zm-20-9zm-5 7zm-11-1zm-42-7zm-9-4zm-9 0zm-19 11zm-17-6zm42 18zm20 15zm9-15zm2 14zm4-1zm7-2zm2-13zm8 13zm10-16zm2 9zm6-3zm12 3zm18-4zm7 6zm3-3zm3 11zm3-12zm17 6zm18 0zm6 0zm8 4zm12 2zm5-6zm7-9zm9 8zm9 6zm39-16zm6 4zm33-1zm6-3zm24-1zm5 11zm21-10zm4 11zm3-9zm6 9zm10-7zm10-3zm18 7zm1 0zm12-8zm6 1zm14 3zm1 6zm4-1zm11 3zm1-14zm5 8zm4 10zm2-6zm0-1zm0-1zm1-7zm7-2zm1 20zm0-11zm8 1zm12-9zm17 4zm3-5zm8 20zm1-2zm1-10zm7-7zm1 7zm5-1zm2 0zm5 1zm0 12zm2-10zm1 4zm4 3zm1 0zm1-9zm9 5zm4 4zm2-4zm20 0zm9-11zm23 0zm22-1zm24 20zm-83 3zm-14 5zm-13-5zm-5-1zm-3 15zm-6-1zm-5 4zm-3-17zm-7 4zm-9 8zm0-9zm-2 9zm-2-2zm-1-7zm-9 0zm-1-4zm-4-2zm-1 9zm-2 9zm-1-5zm-13-7zm-4-6zm-8 12zm-5 6zm-23-5zm-4 0zm-39-9zm-35-2zm-143 2zm-67-3zm-4 1zm-3 8zm-15-4zm-5 3zm-13 4zm-10-1zm-1 9zm-5-19zm-34 18zm-16-5zm-6-3zm-8-5zm-6 5zm-5-9zm-8 16zm-6-18zm-7 42zm27-18zm16 18zm5-13zm44-8zm10 9zm3-9zm4 9zm20 0zm30 3zm25 7zm10-13zm18 15zm47-5zm0-14zm5 9zm21-7zm15 6zm10-4zm65-3zm6-1zm8 14zm3-5zm7-6zm22 13zm7-1zm18-11zm0 11zm20-3zm8-2zm8 3zm4-12zm12 17zm7-10zm5 2zm13 2zm4 1zm10 6zm6-18zm47 39zm-3-6zm-43-11zm-27 7zm-43 2zm-3 4zm-47 4zm-9-10zm-7-8zm-24 17zm-1-5zm-30 0zm-14 2zm-4-6zm-4-3zm-37-4zm-2 15zm-31-6zm-12 2zm-7 3zm-37-7zm-23 2zm-9 1zm-9-11zm-15 18zm-10-4zm-24 4zm-3-6zm-8 6zm-15-20zm-4 20zm-12-12zm-6-4zm-6 12zm-6-13zm-9-2zm-8 9zm-4 9zm-19-16zm-4 17zm-20-16zm3 32zm1-5zm16-3zm14 9zm23-11zm5-2zm6 3zm11 1zm84 0zm21 9zm62 3zm12-13zm10-2zm27 15zm21-9zm15 0zm10 0zm38 7zm42-3zm39 0zm25-12zm122 13zm-11 29zm-14-17zm-81 7zm-11-1zm-11 3zm-15-6zm-7 9zm-29-5zm-8-8zm-17-1zm-24 6zm-2 9zm-16-6zm-23 10zm-13-14zm0-4zm-9-1zm-7 11zm-11 1zm-169 7zm-19-7zm-7-10zm-6-1zm-10 1zm-40 4zm-21 3zm-9 8zm1 7zm1-3zm47 20zm34-19zm45 0zm3-2zm9 19zm5-1zm27-13zm7 9zm15 2zm9 4zm23-5zm10-2zm52-1zm9 9zm18-4zm58-12zm12 13zm41-15zm28-2zm2 19zm10-14zm122-4zm9 18zm26-17zm-43 20zm-7 20zm-150-5zm-26-8zm-11-6zm-2 12zm-97-13zm-42 6zm-39 10zm-39-7zm-2 6zm0-13zm-69 8zm0 6zm-24-14zm-13-3zm-26 8zm-9 6zm-12-5zm-31 7zm-20 6zm7 7zm78 12zm19-4zm11-3zm10-4zm3-2zm3 4zm23 11zm2-21zm9 0zm1 21zm5-8zm1 6zm5-13zm22 14zm1-17zm17 13zm7-7zm18 6zm9-6zm8-7zm16 8zm2 1zm30-3zm20-1zm2 9zm23-4zm26 0zm11 2zm19 0zm2 3zm28-17zm3 14zm179-5zm4-2zm-124 30zm-62-15zm-30 2zm-4 10zm-24-4zm-2 6zm-1 7zm-20-9zm-13 2zm-16 5zm-5-10zm-1 12zm-1-16zm-2 10zm-6-4zm-12 3zm-12 1zm-7-5zm-9 5zm-3-13zm-5 12zm-12-5zm-19-9zm-1 7zm-4 1zm-2-7zm-1 3zm-13 6zm-14 7zm-19-11zm-37 8zm-7-2zm-4-10zm-10 11zm-11 7zm-3 0zm-17 1zm-48-19zm-8-2zm-8 2zm-39 14zm105 13zm13-3zm2 0zm8 6zm16-2zm15 2zm18 11zm0-21zm14 19zm8-1zm17 1zm1-18zm1 4zm9-3zm1 6zm9 8zm7-9zm9 10zm14 2zm4 2zm3-3zm9 2zm6-17zm1 12zm7-15zm9 7zm6 6zm17-6zm9-3zm1-3zm46 14zm5-6zm0 2zm21-2zm7 11zm54-4zm12-10zm4-1zm4 16zm3-12zm11 12zm3-11zm13 9zm22-1zm-14 9zm-20 1zm-34 4zm-5-5zm-6 7zm-4-11zm-13 14zm-1-12zm-21 18zm-2-3zm-3-12zm-4 1zm-7-2zm-46 11zm-14 2zm-1-15zm-5 5zm-3 9zm-3-11zm-7-4zm-9-1zm-1 10zm-2 9zm-13-3zm-3-6zm-1-10zm-13 15zm-7-10zm-17 14zm-20 1zm-27-4zm-15-15zm-22 1zm-11 9zm-8-6zm-19-3zm-25-1zm-15 3zm38 27zm5-6zm29 14zm6-7zm17-9zm8 19zm24-21zm6 6zm16-6zm2 2zm2 14zm6-9zm1 6zm2-12zm4-1zm1 7zm9 3zm5-10zm2 3zm1 18zm19-13zm2 12zm10-8zm2-3zm4-7zm5-2zm14 15zm1-3zm0 5zm3-17zm2 10zm6 6zm16-13zm4 4zm9 1zm8-5zm2 8zm4 10zm3-19zm16 3zm3 6zm5 1zm4-7zm7 9zm13-2zm15 8zm11-17zm11 2zm1 9zm3 5zm4-11zm22 3zm30-2zm-17 19zm-5-4zm-31 12zm-11-9zm-6 2zm-7 10zm-5-5zm-4 4zm-2 4zm-11-12zm-14 1zm-14-9zm-9 4zm-34 1zm-11-2zm-8-1zm-14 5zm-13-7zm-2 10zm-4-10zm-1 17zm-1-13zm-3 17zm-5-15zm-9 12zm-7-14zm-11 13zm-6-9zm-6 5zm-1 5zm-11-13zm-19 15zm-5-10zm-7-9zm-13 5zm-22 6zm-10 1zm-8 5zm-12-3zm-19 27zm24-7zm9-8zm53 15zm1-5zm20-14zm14 18zm10-12zm10 2zm0 9zm6-3zm6 0zm2-4zm14 7zm1-3zm3-3zm10-7zm3 11zm18-12zm1-3zm18 18zm6-16zm11 3zm6 10zm16-4zm2 7zm1-13zm5-4zm0 6zm7 4zm0-10zm14 18zm0-16zm2 7zm0 4zm1-9zm1 14zm5 0zm10-4zm2-10zm10-1zm16 12zm3-12zm21 11zm9 5zm-6 13zm-11-8zm-13-3zm-8 15zm-5 3zm-1-17zm-8 5zm-4 4zm-8 7zm-18-8zm-4 3zm-2 5zm-17-17zm-3 4zm-10 3zm-1-5zm-21 7zm-15 8zm-1-16zm-7 9zm0-5zm-7 11zm-7 4zm-5-6zm-2-12zm-5 16zm-5-8zm-2-9zm-11 0zm-3 14zm-14-2zm-5-12zm-10 13zm-17-11zm-10-2zm-2 19zm-7-6zm-5 3zm-9-11zm-11 5zm-4 5zm-23-16zm-15 9zm-15-6zm-4 6zm10 12zm8 6zm37 4zm16 4zm12-12zm7 6zm25 12zm7-1zm5-11zm4 13zm29-14zm5-6zm2 11zm1-8zm1 14zm1-10zm10 13zm8-1zm11-15zm3 1zm5 4zm16 1zm3 3zm4 7zm4-7zm2-12zm9 7zm2 4zm15-1zm20 4zm0-12zm9-4zm1 14zm1 4zm32-13zm57 7zm-32 23zm-2-8zm-15-1zm-4 9zm-13-5zm-9-5zm-9 5zm-12-1zm-2 8zm-3 2zm-9-12zm-15 12zm-4-6zm-1 6zm-10-7zm-2-4zm-6 10zm-3-2zm-32-7zm-20 4zm-3-2zm-3-8zm-14 19zm-4-8zm-6 3zm-4-14zm-4 17zm-51-4zm-6-5zm-20-5zm-3 1zm-7 16zm-2-9zm-3 7zm-6-14zm-14 12zm-15 2zm-18-12zm-15-4zm-1 13zm-72 26zm35-8zm42-11zm8 11zm12-4zm56 12zm15-14zm33 11zm2-7zm16 3zm11 8zm21 0zm6-4zm19-7zm2 10zm3-16zm14 11zm24 6zm19-3zm12-13zm9 0zm8-3zm8 3zm6-5zm12 13zm20-1zm2 3zm9-8zm1 11zm5-7zm4 8zm4 1zm12-10zm1 8zm4-9zm-28 24zm-10-8zm-16 7zm0 9zm-14 2zm-4-18zm-2 2zm-29 11zm-2-5zm-1 10zm-3-8zm-32-4zm-12 6zm0-15zm-7 13zm-18-9zm-1 14zm-13-17zm-4-1zm-7 19zm-5-2zm-7-17zm-94 19zm-41-8zm-22-3zm0 13zm-14-3zm-21-12zm-5 13zm-1-7zm-31 19zm3 7zm40 0zm33 4zm5-16zm7 3zm8 3zm6 4zm1 4zm13-6zm2-11zm50 5zm9 9zm24-15zm2 17zm15-6zm21-1zm1-4zm10 8zm14-7zm8-3zm18 5zm15 8zm6-17zm19 19zm2-9zm0 9zm6-1zm5-6zm7 7zm2-19zm25 14zm5 1zm16 18zm-34 7zm-14-11zm-10 9zm-2-7zm-4 0zm-27 0zm-2 7zm-2-9zm-4 6zm-16 8zm-8-5zm-24-3zm-12-4zm-17 12zm-1-10zm-16-4zm-8-4zm-3 14zm-34-6zm-28-8zm-25 7zm-8-3zm-11-5zm-11 19zm-9-8zm-12-6zm-4 2zm-26-7zm-16 17zm16 8zm36 13zm17-2zm22-2zm11-12zm18 16zm22-15zm3 17zm5 0zm1-9zm6-3zm1 8zm18-8zm1 9zm5-13zm34 4zm2-5zm10 0zm39 17zm1-20zm6 4zm31 1zm5 0zm13 1zm1 10zm26-14zm50 5zm-49 31zm-2-12zm-2 13zm-8-10zm-26 3zm-1 5zm-5-5zm-3-3zm-32-2zm-1-4zm-1 11zm-13 4zm-16-5zm-32-2zm-3-8zm-6 17zm-5-8zm-8-2zm-5 2zm-2 9zm-8-13zm-1-4zm0 16zm-3 0zm-7-9zm-1 10zm-3-15zm-15 16zm-5-17zm-13 16zm-23 1zm-4 0zm-55-17zm-4 2zm-16 7zm-6-6zm10 29zm56-3zm6 5zm15-10zm26 7zm14 7zm32-18zm17 11zm20-8zm7 8zm7-1zm1-5zm16 11zm3 1zm10 2zm4-15zm5 7zm16-1zm3-4zm3-4zm3-3zm1 11zm7-1zm4-5zm6 2zm2 12zm6-7zm4 1zm15-11zm3 19zm2-15zm1-4zm17-1zm19 24zm-15 0zm-13 12zm-5-5zm-4-3zm-7 12zm-8-4zm-11-15zm-5 3zm-1 13zm-8-6zm-2 10zm-8-9zm-8 8zm-4-18zm-10 1zm-2 18zm-8-4zm-6 5zm-5-1zm-23-9zm-1-8zm-34 3zm-8 9zm-6-9zm-13-6zm-10 8zm-10-4zm-13 12zm-12-12zm-1-4zm-38 8zm-2 4zm-5 5zm-17 3zm-7 7zm10 9zm31 0zm36-8zm68 9zm10-2zm22-11zm8 8zm36 2zm6-11zm1 6zm15 2zm6 5zm5-6zm10 3zm2-8zm1 11zm3 0zm4 0zm18 1zm8-2zm12-11zm9 14zm-28 16zm-14 9zm-22 1zm-1-1zm-25-7zm-5 3zm-19-11zm-50 14zm-23-11zm-18 7zm-31-14zm-11 3zm111 28zm35 5z"/>
<path stroke="#CC3A8E" d="m1421 1407zm-2 0zm-9 20zm9-11zm9-8zm-6 31zm-1 0zm-24-3z"/>
<path stroke="#764E9F" d="m2089 873z"/>
<path stroke="#5D69B1" d="m2240 590zm10 23zm-28-5zm-19 12zm2 12zm27-15zm5 20zm2-18zm8 15zm-3 9zm-17 12zm-12-11zm-43 21zm25 5zm6-9zm3 11zm6-7zm65 11zm-23 21zm-12-13zm-2 4zm-35 5zm0 7zm-12-8zm-1-9zm-8 2zm-30 7zm-26 10zm-135 18zm49 3zm5 1zm49-5zm31-8zm3 14zm3-5zm17-11zm15-4zm9 18zm2-6zm1-13zm5 17zm5-13zm4 15zm14-16zm9 15zm11-8zm2 0zm4-4zm8 4zm1-3zm9 4zm7-11zm13 9zm0 11zm4-2zm2-4zm4 2zm2 3zm1-9zm-1 24zm-4 5zm-1-8zm-3-5zm-4-1zm-3 13zm-18-8zm-6-7zm-17 16zm-4-12zm-14 12zm-8-4zm-2 3zm-6-2zm-1-10zm-7 15zm0-14zm-12 2zm-7 0zm-1 5zm-15 5zm-15-3zm-2 7zm-2-19zm-15 2zm-12 9zm-4-8zm-5 6zm-3-11zm-4 11zm-1 6zm-1-7zm-23 0zm-5-8zm-16 13zm-9-3zm-30 29zm4-5zm9 3zm1 3zm8-10zm2 6zm4-1zm11-8zm4 12zm3-9zm2 6zm3 5zm3-7zm10 3zm1-11zm1 15zm10-9zm1 6zm6-11zm5 7zm21-5zm2-6zm6 18zm16-17zm2 9zm4-2zm27-11zm6 20zm1-4zm2-15zm2 8zm7 3zm3-5zm5-2zm6 7zm2-5zm2 8zm0 4zm1-11zm0-5zm4 2zm7 7zm1-12zm2 10zm9 1zm1-11zm1 17zm2 3zm2-7zm9 4zm12 3zm7-15zm3 12zm8 4zm0-20zm1 19zm14-5zm3 5zm-6 9zm-1 9zm-5-5zm-1-8zm-3 4zm-8-6zm-2 5zm-6-2zm-1 13zm-3-3zm-1-11zm-5 2zm-11 12zm0-14zm-4 5zm-7 7zm-2-6zm-9-9zm-2 2zm-6 2zm-1 13zm-7 1zm-7 1zm-15-7zm-3-5zm-1 10zm-4-17zm-8 14zm-1 3zm-3-12zm-5 14zm-7 1zm-8-6zm-3-5zm-8-7zm-1 13zm-2-4zm-22-7zm-7 7zm-15-1zm-23-4zm-3 13zm0 2zm-1-16zm-23 5zm-1-9zm-1 13zm-3-3zm-3-9zm-14 1zm-17 13zm-1-6zm0 22zm8-7zm16 2zm6 10zm6-9zm5-5zm2 17zm9-18zm5 18zm7-13zm4 1zm5 11zm4-11zm3-4zm3 11zm14-4zm12 11zm1-13zm5-2zm4 14zm4 0zm18-11zm1 10zm2-8zm15-1zm1-7zm1-1zm11 18zm1-18zm0 6zm3 13zm7-17zm3 16zm9-9zm0 2zm13-4zm15 3zm3 3zm5-4zm13 9zm0-15zm14 8zm0-12zm5 4zm3-2zm5 4zm18 0zm5-4zm7 1zm1 7zm-10 20zm-8 8zm-5-11zm-7-4zm-6 20zm-7-4zm-6 3zm-16-13zm-3 11zm-1-12zm-3 11zm0 2zm-7-18zm-1 3zm-5 9zm-11 8zm-3 0zm-13-5zm-37 5zm-8-17zm-8 8zm-3-4zm-5 12zm-2-13zm-2 13zm-1-10zm0-1zm-7-1zm-2 4zm-5-4zm-2-5zm-5 12zm-10-13zm-2 4zm-9 0zm-4 14zm0-8zm-1 1zm-6-13zm-5 15zm-1 5zm-10-17zm-2 8zm-1-10zm-18 1zm-4 0zm-7 2zm-5 7zm-34 7zm-3 2zm-11-3zm-2-4zm-40 26zm9-11zm10 10zm10-5zm9-2zm6 9zm7 1zm5-17zm2 16zm1-11zm4 4zm7 3zm7-6zm5-7zm2 20zm7-14zm6 11zm9-8zm6 6zm7 4zm3-6zm6 2zm12-10zm4 1zm4-4zm9-2zm9 12zm2-3zm11 0zm0 8zm1-14zm3 12zm3-3zm1-13zm14 5zm5 13zm3-16zm11 14zm1-15zm1 7zm5-4zm4 11zm5 6zm6-9zm1-8zm8 1zm9 2zm8-5zm4 1zm37 11zm4-8zm5 2zm7 6zm9-1zm5 5zm13-11zm4-3zm0-2zm1 7zm4 3zm0 4zm4-6zm1-6zm0 37zm-4 2zm-2-17zm-1 5zm0 5zm-1-1zm-1 6zm-8-8zm-5-2zm-2 7zm-12-10zm-8 4zm-11 8zm-33-17zm-1 8zm-5-6zm-4-1zm-1 14zm-1 2zm-2-10zm-10 2zm-6-7zm-17 17zm-3-7zm-3-11zm0 11zm-8-13zm-2 20zm-13-8zm-2 9zm-6-6zm-5-15zm-5 0zm-4 5zm-2 16zm-2-11zm-3 4zm-4-11zm-3-1zm-4 4zm-1-4zm-13 6zm-10 0zm-5-2zm-22 11zm0-8zm-9 1zm-10 4zm-2-6zm0 11zm-17-11zm0-7zm-20 13zm-10 1zm-7-1zm-2 0zm-18-7zm-3 4zm-17-8zm-6 14zm-48-5zm-57 29zm17-6zm12-13zm12 9zm8 12zm15 0zm40-4zm4 2zm3 1zm1-7zm13 1zm12 4zm1-7zm36-10zm23 5zm3-3zm28 13zm1-1zm4 1zm2-12zm15 3zm2 9zm4-10zm8-5zm4 17zm1-11zm2-6zm1 12zm5-3zm3-3zm4 5zm1 8zm10-12zm9-2zm5 6zm1 4zm7-2zm10 0zm12-5zm0-8zm9 20zm6-13zm3 5zm3-3zm6-4zm7 5zm6-11zm12 18zm3-3zm4-9zm1-2zm4-4zm12 13zm11 7zm13-11zm4 9zm0-9zm4-9zm5 19zm3-9zm4 9zm2-15zm2 14zm2-8zm1-9zm7 4zm0 15zm1-9zm8 7zm1-15zm10 2zm2 3zm2 7zm-4 17zm-2-4zm-4 0zm-4 4zm-2-7zm-2 6zm-3 11zm-10-18zm-1 5zm-4 10zm-1-7zm-3 4zm-2-11zm-3 2zm-5 5zm-4 7zm-14-7zm-12 3zm-3-9zm-1 15zm-1-6zm-12-3zm-4-8zm-8 14zm-5 4zm-13-4zm-11 1zm-13 2zm-12 0zm-2-11zm-4 7zm-6-14zm-2 7zm-2 3zm-2 3zm0-14zm-3 5zm-5 9zm0-4zm-4-1zm0 8zm-8-1zm-1 0zm-2-4zm-6 6zm-3 0zm-10-3zm-3-4zm-9 10zm-14-19zm-2 7zm-14 5zm-2-4zm-3 10zm-7-2zm-2 3zm-10-1zm-2-14zm-4 11zm-3 3zm-6-10zm-1 3zm-29-13zm-7 15zm-11-14zm-1 6zm-1 9zm-1-4zm-8 1zm-1 8zm-27-6zm-3-11zm-15 16zm-7-17zm-13 7zm-6-6zm-21 13zm-4-3zm-2 3zm-5-9zm-14 4zm-13 2zm-222-4zm211 32zm0-18zm7 7zm0 4zm18-10zm2 12zm10-5zm15 6zm3-7zm19-6zm12 6zm11 12zm16-18zm1 14zm2 4zm7-19zm2 17zm0-5zm1-3zm7 10zm4 0zm9-10zm7 8zm11-8zm3-10zm1 16zm9 2zm17-19zm3 9zm8-3zm0 8zm17 6zm13-6zm1-5zm2-3zm9 2zm4-2zm0 9zm4 1zm4-13zm1 8zm1-3zm2 2zm4 10zm5-7zm3-10zm2-3zm5 16zm0-15zm4 10zm0 5zm8 1zm3-6zm3-8zm5 12zm5-15zm2 21zm3-20zm6 0zm4-1zm5 21zm13-14zm5 11zm16-16zm9 5zm1 11zm9 2zm10-6zm1 4zm1-11zm3 9zm3-2zm2-9zm4 16zm4-8zm8 8zm3-5zm2 0zm4-2zm5 2zm3-4zm1-12zm2 7zm8-2zm3 15zm4-1zm8 2zm8-6zm27-15zm1 10zm5 3zm2 9zm-13 1zm-7 0zm0 17zm-9 1zm-2-9zm-7-3zm0 3zm-14 5zm-8-14zm-4 15zm-4-3zm-7-7zm-5 12zm0-3zm-1 6zm-1-21zm-2 3zm-11 12zm-5-4zm-1 9zm-5-2zm-12-2zm-2-9zm-1 13zm-1-4zm-2-7zm-1-8zm-3 4zm-2-3zm-3 9zm-9 1zm-4-2zm0 7zm-6-6zm-2 6zm-8 0zm-4-10zm-10 2zm-2-1zm-9-3zm-10 7zm0-5zm-6 12zm-5-15zm-9 3zm-8 8zm-4 0zm-1 4zm-3-16zm-5 14zm-1-5zm-1-7zm-15 6zm-10 8zm-1-6zm-7-6zm-6-3zm-8 3zm-8-5zm-2 11zm-7 7zm-8-14zm-1-4zm-4 11zm-4 5zm-3-8zm-1 5zm-38 3zm0-13zm-1-4zm-3 17zm-19-11zm-22 0zm-9 12zm0-6zm-10 6zm-2-1zm-1-11zm-3 3zm-14 5zm-25-11zm-2 7zm-11-10zm-8 14zm0 5zm-8-20zm-12 16zm-3 4zm-11-4zm-207 14zm55-2zm146-5zm27 3zm8 3zm3 3zm1 3zm4 3zm15-1zm4 2zm0-6zm14-7zm9 11zm6 4zm7-12zm16 8zm2 2zm2-9zm5 1zm1 8zm11 0zm14 1zm11-14zm12 11zm25 5zm2-3zm5-6zm3-11zm3 17zm5-4zm18-12zm11 4zm5 15zm1-7zm20 7zm2 1zm0-20zm6-1zm6 7zm9 11zm1-5zm7-11zm1 9zm1-5zm13 0zm0-4zm13-1zm6 9zm2 6zm2-9zm2 12zm6-11zm1-6zm6-2zm5 5zm10 14zm0-15zm5 9zm4-13zm2 4zm2 3zm5 10zm5-11zm11 5zm6 10zm1-5zm9-9zm16-7zm0 9zm1 4zm7-8zm0 16zm3-5zm2-4zm2 3zm2 4zm2-9zm1 4zm1-8zm5 10zm1-8zm1-5zm1 18zm2-5zm2-11zm3 11zm1-8zm6 1zm4 1zm2-9zm1 11zm1 7zm5 2zm0-14zm4-6zm6 2zm0 13zm5 0zm1 5zm3-19zm12 4zm3 4zm6 24zm-7 9zm-1-17zm-8 0zm0 8zm-2 2zm-1 6zm-2-15zm-5 4zm0 3zm-5-10zm-2 10zm-9-8zm-2 2zm-4 4zm-1-10zm-1 13zm-1 6zm-8-18zm-2 7zm-5 2zm-2-5zm-3 16zm-3-14zm-5 1zm-9-1zm-4 2zm-5-1zm-7 12zm0-12zm-11 2zm-7 10zm-6-3zm-3 2zm-1-8zm-9 10zm-3-12zm-8-8zm-6 13zm-4 1zm-7 6zm-19-18zm-2 12zm-12-8zm-7 3zm-2 5zm-2-14zm-6 16zm-7 0zm-3-9zm-4 6zm-5-13zm-1 4zm-3 3zm0 4zm-7 8zm-6-9zm-2-8zm-8 13zm-11-5zm0 7zm-8-14zm-9 15zm-13-7zm-13-10zm-10 16zm-1-10zm-8 2zm-6 8zm-2-18zm-7 9zm-4 7zm-4-4zm-4-9zm-7 18zm-4-13zm-15 5zm-6-7zm-1 10zm-4-9zm-4-7zm-7 16zm-3-13zm-13 14zm-31-7zm-5-2zm-2-4zm-3-2zm-8 10zm-14-5zm-3-3zm-16 16zm-61-10zm-3-8zm-161 9zm-14 29zm195-16zm6 11zm2-3zm34-6zm44-3zm19 4zm47 5zm10-5zm15 1zm1 8zm3 6zm10-9zm12 6zm6-10zm2-6zm3 11zm17 4zm1-6zm27-2zm5 0zm9-5zm1 6zm6 7zm4-9zm4-4zm2 11zm20 1zm5 0zm11-10zm2 13zm5-9zm3 3zm5 4zm5-11zm0 9zm10 0zm8 0zm5 7zm4-9zm3-9zm10 16zm4-7zm0-5zm3-3zm2 4zm0 12zm7-4zm10-9zm7 3zm3 11zm4-21zm1 18zm21-5zm13 2zm5-1zm8 4zm3-9zm9-2zm5-7zm0 20zm17-17zm4 15zm9-14zm3 14zm1-6zm4-5zm5-6zm0 5zm6 4zm3-1zm7-5zm5 23zm-7 12zm-7-5zm-4-11zm-12 15zm-15-14zm-5 1zm-7 2zm-15-3zm-1 5zm-2-7zm-3 5zm0 6zm-2 5zm-2-9zm-5 14zm-2-15zm-1 11zm-3-12zm-13 7zm0 0zm-2 9zm-9-14zm-3 1zm-2 7zm-1-2zm-4-1zm-1-4zm-1 0zm-4-7zm-13 6zm-4 4zm-7 9zm-23-11zm-1-8zm-1 0zm0 12zm-3 8zm-1-3zm-1-13zm0 5zm-3 1zm-6-9zm-1 16zm-4-15zm-9 12zm-6-9zm-5 3zm-3-3zm-11 6zm-8-4zm-2 9zm-6-14zm-6 18zm-8-14zm-10 5zm-3-2zm-5 4zm-18-5zm-4 8zm-17-5zm-10-1zm-4-3zm-3 13zm-1-13zm-1 9zm-5-13zm-11 8zm-6-12zm-2 11zm-10 5zm-9-6zm-8 5zm-2-4zm-4-11zm-2 17zm-43-12zm-52-1zm-13 10zm-12-6zm-13-4zm-28 25zm10-6zm20 5zm31 14zm10-19zm14 5zm14-3zm6-2zm8 12zm31-5zm22 12zm19 0zm15-12zm0 6zm10-6zm2-5zm3-3zm24 2zm2 13zm24-6zm6 6zm10-8zm0-7zm5 0zm19 8zm1-6zm12 7zm5 10zm2 2zm17-5zm18 5zm4-17zm11 0zm8 7zm7-1zm1-10zm19 4zm2 17zm9-21zm0 19zm1-10zm2 6zm4-1zm17 0zm11-2zm5 3zm1 3zm5-14zm1 4zm1 9zm4-11zm7 14zm3 1zm2-5zm1-7zm4 4zm3-9zm0 10zm4-2zm1 9zm2-4zm7-8zm10 3zm14 5zm2-9zm3 7zm3-7zm3-5zm2 12zm-40 23zm-4-7zm-3 9zm-1-15zm-4 10zm-11-7zm-3-3zm-1 9zm-5-4zm0 11zm-4-16zm-14 1zm-5 6zm-2 8zm-3-16zm-2 13zm-13-5zm-1-7zm-3 9zm-1-11zm-10 1zm-7 4zm-5 12zm-25 1zm-6-18zm-16 7zm-3-6zm-5 8zm-5 6zm-4-4zm-4-2zm-3-7zm-2 15zm-1-12zm-12 15zm-1-19zm-5 14zm-10 2zm-4-4zm-1-11zm-30 8zm-18-8zm-3 10zm-5-11zm-33 7zm-15 11zm-4-14zm-3 11zm0-8zm-3 5zm-4 5zm-30-4zm-2-13zm-10 5zm-3-6zm-12 17zm-17-3zm-9 3zm-11-16zm-10 9zm-3 6zm-14-5zm-4-11zm-6 18zm-4-1zm-23-13zm6 35zm4-8zm17-9zm11 16zm1 4zm11-4zm12-6zm27 5zm9-8zm12 1zm27-7zm6 4zm10-1zm1 6zm3-9zm4 16zm4-15zm2 12zm10-3zm4 2zm7-2zm3 6zm24 0zm2-17zm32 7zm12 10zm7 2zm3-20zm3 20zm2-3zm4-4zm15-5zm5 8zm4-11zm4 5zm1 3zm18-3zm23 0zm7 9zm6-6zm4 0zm4 8zm7-15zm4 13zm7-16zm5 15zm5-1zm3-15zm11 0zm5 19zm3-19zm4 13zm5-13zm4 12zm10-12zm33 19zm7-16zm15 1zm9 2zm7 4zm3-8zm2 5zm4 8zm1-5zm2-10zm3 13zm-5 22zm-1 5zm-3-7zm-13 8zm-4-12zm-6 8zm-4 1zm-4-16zm-5 18zm-1-15zm-5 4zm-1 8zm-4 1zm-7-11zm-9 1zm-4 4zm-3 1zm-4 3zm-10 5zm-3-14zm-10 2zm-2-8zm-10 7zm-1 6zm-7-3zm-4-5zm-1 14zm-9-11zm-4 7zm-14-3zm-2-10zm-4 2zm-2 3zm-5-2zm-2-4zm-1 13zm-3-1zm-7 2zm-19-8zm-5-4zm-2 12zm-3-6zm-15 7zm0-14zm-19 6zm-3 6zm-1-7zm-2-6zm-1 13zm-8-6zm-18 3zm-1-8zm-12-1zm-1 11zm-8-11zm-22 12zm0-14zm-7-1zm-6 5zm-1 8zm-12-1zm-2-4zm-5 0zm-15 5zm-7 3zm-2-4zm-27 0zm-20 5zm-2-6zm-26-3zm-3 8zm-16 3zm-10-17zm-9 13zm-13-14zm-20 6zm4 17zm13 2zm12 10zm42-14zm30 10zm4-6zm22 13zm3-7zm14 5zm5-15zm2 3zm2 9zm2 0zm2-4zm22-3zm2 15zm7-6zm14 6zm11-17zm12 11zm9-13zm18 16zm16 4zm1-9zm8-10zm1 18zm4-7zm32 5zm7 0zm34-14zm11 2zm4 13zm7-15zm1 15zm5-17zm8 0zm6 3zm2 6zm11 2zm21-11zm8 17zm2-4zm8-11zm10 12zm5-14zm21 3zm3 8zm12-2zm2 5zm15 1zm13 5zm-1 18zm-17-1zm-3 0zm-6 3zm-3-11zm-3 5zm-1 4zm-3-6zm-25-1zm-11 10zm-9-2zm-2-8zm-3 2zm-6 0zm-1-12zm-8 20zm-14-2zm-7-2zm-5-9zm-9 1zm-8 7zm-6-8zm-12-7zm-3-1zm-4 16zm-6-14zm-2 13zm-4-4zm-2 6zm-18-8zm-2 7zm-5-9zm-18-2zm-6 12zm-7 1zm-11-4zm-7 1zm-7-5zm-1-6zm-10 13zm-8-11zm-9 15zm0-6zm-18-3zm-1-12zm0 16zm-4 3zm-4 1zm-2-6zm-3-13zm-2 0zm-6 11zm-5-9zm-3 2zm-2 13zm-3-9zm-1-8zm-21 2zm-13 11zm-9 5zm-6 1zm-5-6zm-20-12zm-14 13zm-1-3zm-31-1zm-8 9zm-5-14zm-9-6zm-152 22zm140 14zm11-3zm19-1zm1 8zm4-4zm6-12zm21 6zm5-1zm18-2zm19 10zm49-11zm2 10zm4-12zm0 3zm0 4zm9 0zm5 6zm2-9zm4-1zm8 1zm5 7zm8-7zm30-4zm21 13zm11-15zm10 10zm9-3zm2-2zm15 6zm13-10zm8 20zm0-12zm5 10zm0-1zm0-17zm38 2zm7 1zm4 2zm5-1zm6 13zm2-15zm1 7zm4 9zm2-7zm2 7zm4-9zm2 9zm2-10zm5 6zm12 6zm3-14zm3 14zm15-1zm10-4zm1-5zm3 9zm6-7zm7 4zm3-4zm1 5zm3-4zm2 7zm2-17zm3 3zm1 11zm4-7zm3 7zm3-10zm13-8zm1 15zm-14 7zm-10 6zm-5-2zm-6 12zm-5-4zm-12 7zm0-7zm-6-8zm-1 11zm-6 1zm-4-5zm-1 8zm-5-10zm-3 9zm-10-11zm-9 8zm-5 5zm-3-5zm-17-1zm-11 3zm-26-12zm-8 7zm-13-12zm-2 17zm-2-12zm-4 11zm-15 4zm-1-17zm-14 15zm-1 3zm-1-15zm0-4zm-1 16zm-2 0zm-4-8zm-2-10zm-12 11zm-3-8zm-15 4zm-16 13zm-5-14zm-2-4zm-8 6zm-2 6zm-5 5zm-35-18zm-8 17zm0-6zm-12 3zm-12 3zm-17-5zm-30-1zm-2 5zm-10 3zm-4-16zm-1 14zm-45-14zm-3 2zm-252 25zm281-8zm20 3zm1 10zm9-13zm22 15zm10-9zm9 13zm11-20zm3 13zm12-5zm5-1zm0 14zm80-20zm18 0zm7 3zm2 15zm9-10zm4 4zm15-12zm3 17zm7-1zm2-15zm10 0zm4 2zm2 10zm19-1zm18-6zm8 12zm4-2zm5-1zm5-2zm1-8zm6-1zm4 6zm0 3zm3-3zm3-7zm6 12zm1-1zm12 4zm13-3zm4-5zm7-7zm3 15zm1-5zm1-7zm10-7zm5 4zm4 12zm2 2zm7-15zm5 5zm9 0zm0-8zm6 1zm0 17zm6 0zm9-18zm-19 34zm-3 6zm-4-11zm-2 13zm-7-13zm-4 4zm-4-2zm-8-8zm-1 0zm-3 8zm-9-1zm-8 2zm-7 1zm-5-6zm-4 5zm-9-3zm0 7zm-8 4zm-10-18zm-9 20zm-1-17zm-3 5zm-21-8zm-4 6zm-6 1zm-22-6zm-6 14zm-25-1zm-27-2zm-12-3zm-57-2zm-13-7zm-7 18zm-8-6zm-3-7zm-3 14zm-8 2zm-4-6zm-24-4zm-5-3zm-243 2zm223 12zm26 8zm13 13zm165-13zm19-1zm0 1zm5 11zm6 1zm12-15zm10 12zm10-15zm29 16zm46-18zm2 3zm1 10zm23 7zm-9 12zm-24 5zm-14-8zm0 9zm-1-1zm-4-5zm-71 5zm-22-14zm-187 1zm210 23zm47 13zm25-16z"/>
<path stroke="#24796C" d="m1741 235zm9 2zm2-15zm6 10zm7 5zm15-17zm1 21zm4 0zm16-18zm5 18zm1-10zm4 10zm4-21zm3 18zm8 0zm0-1zm1-11zm4 6zm2-5zm4 3zm23 7zm5-7zm1 4zm6-5zm1 5zm8-6zm17 5zm35 29zm-16-17zm-10-2zm-2 16zm-5-2zm-4 1zm-2-7zm-2 7zm-3-5zm-1 7zm-18-8zm-1-8zm0 12zm-4-5zm0-7zm-2 17zm-2-9zm0-5zm-4-2zm-1 12zm-9-5zm-6-3zm-2 11zm-15-3zm-2-3zm-1-10zm-24 16zm-4-6zm0-11zm-5 4zm-5 1zm-6 3zm-2 12zm-7-15zm-5 1zm-2-2zm-5 10zm-9-10zm-5-1zm-17 6zm-2 4zm-16 5zm-3-5zm2 16zm5 9zm10 1zm5-12zm5 13zm3-2zm3-15zm3 13zm8 4zm5-14zm3 9zm2-13zm1 7zm5 8zm5-6zm2-4zm3-4zm1 12zm5 3zm4-5zm9 3zm0-4zm4 2zm2-10zm1 18zm15-16zm8-4zm17 10zm4-7zm3 16zm1-11zm0 5zm1-11zm1 0zm4 17zm3-12zm2-8zm9 2zm0 6zm7-6zm1 16zm2-3zm10 4zm3-5zm3-11zm2 3zm4 3zm0-4zm6 6zm5 9zm5-11zm3 6zm13-9zm2 8zm1 0zm6 4zm6-13zm1 1zm1 9zm4-6zm1 4zm13-9zm1 4zm6 8zm8-2zm43 29zm-1-9zm-2-5zm-4 12zm0-12zm-4 7zm-9 3zm-3-4zm-12 1zm-4-12zm-3 3zm-8 6zm-7-4zm-1 8zm0-2zm-7 7zm-8-6zm-2 3zm-2-4zm0-13zm-1 18zm-1-16zm-2 0zm-2 16zm-5-6zm-2 9zm-1-7zm-4-14zm-7 11zm-6-7zm-8-3zm-5 0zm-14 9zm-5 2zm-1-7zm-3 15zm-5-20zm-3 19zm-8-1zm-13-3zm-3-11zm-20 15zm-10-8zm-1 2zm-1-7zm-13 4zm-6 11zm-2-16zm-4 7zm-5 5zm0-11zm-3 9zm-16-10zm-23 0zm-9 11zm-7-12zm-7 14zm-1-4zm-1-7zm-2-1zm-1-2zm-2 6zm-3-3zm-5 3zm-3 11zm-4-3zm-9-12zm-4 8zm-9 6zm-2-14zm-2 30zm12 1zm1-13zm3 18zm1-11zm5 11zm2-8zm2-10zm2 10zm8 5zm0 4zm1-8zm2-6zm4 10zm2-16zm0 7zm2 10zm0-7zm1-4zm0 11zm1-17zm5 17zm5-9zm5-5zm2 13zm0-8zm1 12zm7-5zm1 5zm2-10zm7-6zm6 9zm3-3zm7 5zm1-16zm10 3zm7 14zm26-2zm6 1zm1-15zm1 19zm8-1zm8-3zm4-13zm0 12zm2-9zm1 11zm14-5zm2-6zm5 10zm1-11zm12 4zm3 11zm8-14zm5 0zm5-4zm13 11zm4-9zm1 11zm2 5zm3-15zm2 4zm9-3zm6 7zm4-7zm6 0zm3 7zm10 4zm4-2zm2-6zm4 7zm0-10zm2-5zm1 11zm3-10zm3 12zm11 2zm4-6zm0 10zm0-18zm6 14zm6 4zm2-20zm7 12zm6-8zm7 3zm2-4zm3 8zm2 1zm15 2zm3 5zm28 21zm-13-18zm-5 10zm-3-9zm-1 6zm-2 6zm-1-9zm-3 6zm0 11zm-1-14zm-1 9zm-2-6zm-3 7zm-2-14zm-2 12zm-3-5zm-2 1zm-4 1zm-4-1zm-3-7zm-1 13zm-1-17zm-4 16zm-2-6zm-3-4zm-6-3zm-5 1zm-9 0zm-2 7zm-1 1zm-3-12zm-7 13zm-2-13zm-1 8zm-1 9zm-1-11zm-3 14zm-1-3zm-6-8zm-1-8zm-2 5zm-2 12zm-2-16zm0 17zm-4-5zm-3-13zm-4 13zm-8-5zm0 8zm-6-15zm-10-2zm-3 7zm-4 6zm0-6zm-9 5zm-7-2zm-3-6zm-8 3zm-10 3zm0 8zm-4-6zm-13 5zm-2-16zm0 8zm-5 2zm-7 9zm0-16zm-4-2zm-6 11zm-7-3zm-1 10zm-10-7zm0-3zm-1 4zm0 7zm-4-20zm-9 4zm-2-3zm-3 19zm-2-6zm-3 2zm-3-12zm-3-3zm-10 18zm-1-14zm-14 1zm-9 12zm-24-15zm-2 17zm-5-15zm-12 2zm-9 5zm-1-4zm-5 11zm-5-8zm-1 6zm-6-3zm-4-5zm-4-8zm-7 6zm0 3zm-1-10zm-7 3zm-8 12zm-18 0zm6 18zm11-11zm8 7zm7-2zm2 7zm0-12zm3 4zm8 16zm2-14zm13 8zm10 4zm5-14zm3-4zm1 20zm1-14zm2 13zm2-6zm6-1zm1 8zm15-10zm7 5zm0-7zm4 1zm7-6zm9 1zm7 16zm10-16zm2 15zm1-19zm6 15zm1 4zm13-13zm10 1zm7 0zm2 8zm11 0zm4-3zm9-1zm25-2zm1-10zm3 5zm11 14zm3-10zm1-4zm7 1zm2 9zm5-7zm7-8zm2 18zm4 0zm2-14zm3 1zm6 5zm5 10zm13-16zm2 16zm4-10zm1 6zm5-13zm1-3zm2 15zm3-8zm3 10zm6 2zm3-1zm2-13zm3 7zm3-2zm0-10zm2 14zm6-9zm8-2zm5 3zm6-1zm1-5zm4 15zm6-4zm2 9zm0-6zm3-11zm6 6zm8 8zm6-8zm5 7zm1-14zm13 13zm1-7zm3-6zm3-1zm11-1zm14 31zm-1-6zm-4 12zm-3-6zm-2 10zm-17 1zm-3-5zm-5-8zm-4 5zm-2 6zm-2-6zm-2-6zm-3 13zm-3-14zm-6 3zm-2-8zm-1 21zm-1-13zm-3 8zm-6-6zm-28-9zm-7 6zm-4-2zm-4 6zm-4-1zm-3-8zm-7 1zm-4-2zm-14 15zm-10-12zm-3 5zm0 8zm-11-2zm-5-13zm-3 7zm-5 11zm-1-11zm-2-9zm-5 5zm-5 5zm-6 2zm-2 1zm0-3zm-6 4zm-5-9zm-3 13zm-1-14zm-1-4zm-10 13zm-5-7zm-6 0zm-14 8zm-1-5zm-3-8zm-3-1zm-10 13zm-6-3zm-4-6zm-2 10zm-9-11zm-5 2zm-3 2zm-1 8zm-12-14zm-2 7zm-3 6zm-4-4zm-2 7zm-1 1zm-13-8zm-1 8zm-2-13zm-4 3zm-3-4zm0-4zm-1 12zm-5-6zm-3-4zm-1 7zm-4-6zm0 15zm-1-8zm-5 5zm-5-2zm-2-7zm-4 7zm-4 1zm-8-12zm-3 6zm-1 3zm-1-10zm-3 17zm-8-16zm-1 8zm-4-6zm-2 12zm-1-13zm-11 2zm-3-4zm-5 18zm-3-18zm-1 14zm-5-9zm-7 5zm-73 29zm54-2zm7 4zm3-16zm2-2zm2 10zm1 2zm1-10zm1 17zm7-9zm0 9zm2-6zm11 0zm8-11zm6 15zm2-9zm4 0zm0 9zm1-16zm2-2zm4 4zm2 3zm3 13zm4-2zm9-5zm7-7zm0-5zm6 0zm3-2zm2 13zm5-7zm2-5zm2 12zm4 4zm5 3zm4-18zm3 4zm0-3zm13 13zm0-16zm2 7zm4 10zm19 1zm4-13zm2 10zm6-5zm9-2zm4-1zm4 7zm2-3zm1 10zm13-10zm8 4zm1 5zm2-3zm1-7zm2 10zm1-16zm14-1zm12 12zm1-7zm10 13zm2-19zm1 7zm22-8zm1 7zm14 8zm0-12zm4 17zm1-20zm7-1zm10 14zm2 6zm0-9zm15-10zm8 8zm2 12zm2-16zm0 4zm6 10zm2-13zm4-5zm2 11zm1 4zm17-10zm14 10zm10-13zm10-3zm8 15zm1 6zm1-10zm0-5zm12 8zm11 0zm4-7zm0 5zm10-7zm4 15zm3 1zm6-17zm1 16zm1-12zm1 5zm14 23zm-19 5zm-1-12zm-7-1zm-18 8zm-3-5zm-1 10zm-8-17zm-10 5zm-1-3zm-11 4zm-4 0zm-10 13zm0-12zm-5-3zm-16 12zm-3-9zm-2 5zm-7 3zm-6-7zm-5-9zm-2 9zm-1 11zm-8-19zm-2 3zm-1 9zm-5-9zm-4-2zm-7 8zm-16-9zm-1 4zm-8 13zm-2-8zm-3 5zm-3 4zm-1-1zm-10-9zm0 11zm-9-12zm0 11zm-4-16zm-3 6zm-2-8zm-1 4zm-9-5zm-6 11zm-3-8zm-7-3zm-2 18zm-1-11zm-9 10zm-2 2zm-6-17zm-5 18zm-5-21zm-6 3zm-3 15zm-16-18zm-4 17zm-4-16zm-6 14zm-3-3zm-1 8zm-4-18zm-19-2zm-5 13zm-2-6zm-1-7zm-1 3zm-6 14zm-1-11zm-4 11zm-2-4zm0-10zm-1 16zm-3-17zm-10 17zm-1-10zm-1-3zm-4-1zm-2 14zm-2-4zm-11-1zm-2-11zm-1 4zm-6-1zm-10 5zm0 4zm-4-6zm-2 11zm-7-3zm-14-7zm-1 5zm-1-8zm-5 12zm-7-5zm-5-7zm-6 2zm-11-3zm-10 15zm-3-19zm-8 18zm-11-10zm0-8zm-11 11zm0-3zm-9-7zm-6-2zm0 15zm-15-1zm-35 18zm15-10zm4 10zm4 8zm29-10zm12 11zm15 1zm3-21zm1 9zm4-2zm3 14zm11 0zm4-3zm3 2zm1-8zm5 7zm5-1zm17-2zm1-14zm8 9zm1-4zm2 9zm1-16zm0 11zm1 9zm1-9zm3 2zm0 4zm14 1zm3-11zm3-5zm1 14zm3-13zm0 7zm10 9zm1-6zm1-5zm3-4zm4 11zm3 2zm1-4zm4-5zm4 13zm0-15zm4-4zm7 12zm1-4zm7-6zm1 17zm2-5zm2 3zm5-3zm1-10zm0 5zm3 8zm0-12zm2 3zm6-4zm5 10zm1-7zm5 12zm1-20zm2 17zm12-7zm5 7zm9 1zm1-10zm1-7zm4 17zm8-17zm0 15zm6-17zm3 10zm2-9zm3 2zm4-2zm0 16zm1-3zm3-10zm7 2zm8 8zm3-2zm15-5zm1 8zm3-11zm2 8zm7-1zm1 1zm4-10zm6 2zm2 2zm7 15zm2-20zm3 11zm1 7zm9-3zm0-15zm0 8zm6 6zm3-4zm1-10zm0 6zm5 14zm1-9zm9-4zm6-7zm4 5zm2 4zm3 9zm2-3zm16-7zm5 9zm7-2zm2 3zm9-1zm7-11zm1 13zm4-18zm5 5zm3 14zm8-2zm0-11zm11-7zm6 7zm1 12zm6-6zm10-9zm5-3zm0 15zm7-15zm13 15zm3-8zm1 8zm3-9zm0 6zm4-6zm1 13zm6-1zm13-16zm6 7zm1 5zm9 0zm6 5zm21 22zm-7-6zm-6-12zm-1 9zm-19 8zm-8-8zm0 7zm-7 0zm-4-12zm-3 10zm-1 3zm0-16zm-1 6zm-3 0zm-6-6zm-1 9zm-2-4zm-4 11zm-5-16zm-5 0zm-1 9zm-2-6zm-4 3zm0-5zm-3-4zm-17 2zm-7 5zm-1 10zm-7-2zm-1 3zm-1-18zm-5 2zm-3 3zm-4-2zm-4-1zm-3-3zm-1 14zm-1-4zm-5-2zm-4 3zm-9-9zm-2 12zm-30-11zm-5 10zm-1-13zm-15 11zm-7-6zm-10 2zm-5 3zm-3 9zm-2-7zm-8-5zm-9 0zm-3 12zm-1-15zm-4 13zm-1-10zm-24 11zm-5-3zm-2 4zm-2-9zm-4-7zm-2 17zm-3-18zm-1 7zm-24 6zm-3-1zm-5-12zm-1 5zm-5 7zm-4 4zm-3-17zm-1 16zm-3-11zm-2-3zm-7-2zm-7 1zm0 16zm-3-10zm0-2zm-5-1zm-7-1zm-6-2zm-3 16zm-3 1zm0-10zm-5 4zm-2 3zm-1-13zm-4 3zm-5 4zm-1-9zm-7 0zm-6 15zm-1-6zm-1-2zm-4 3zm-1 10zm-4-12zm-1 9zm-5-18zm-2 17zm-2-17zm0 20zm-1-8zm-4 1zm-11-11zm-3 4zm-3 3zm-1 11zm-7-10zm-2 5zm-7-8zm-3 1zm-9 4zm-2 8zm-3-10zm-2 1zm-5-3zm-24 13zm-3-10zm-2-8zm-4 16zm-6-1zm-11-8zm-3-7zm-5 12zm-8-5zm-20 7zm-22-16zm-2 20zm-3-11zm-12 7zm-20 4zm-6-3zm-1 16zm19 9zm4-6zm8-6zm2 11zm5-8zm1-7zm6 12zm3-6zm3-9zm5 11zm2-13zm30 19zm10-9zm4-6zm2 5zm3-6zm1 4zm1 8zm4 2zm10-3zm1-11zm1 3zm1 14zm5-6zm3 7zm12-11zm4-6zm0 4zm6-5zm2 4zm0 13zm3-15zm1 11zm2-15zm11 2zm1 9zm6-8zm1 9zm3-10zm2 4zm4 14zm1-15zm1-4zm0 16zm1-18zm12 12zm2 8zm10-8zm1 7zm7-6zm0 7zm1-15zm0 8zm0 4zm1 1zm10-3zm3 1zm2 4zm1-8zm0-10zm6 14zm3-15zm1 19zm2-1zm2-14zm3-4zm10 15zm6 0zm2-8zm5-2zm11-6zm2 17zm1-8zm1-9zm0 21zm5-16zm6 6zm1-3zm7 4zm5-11zm7 2zm10 4zm4 12zm2-6zm8-4zm0-2zm2 11zm3-11zm2 11zm3-15zm5 5zm8 4zm19 6zm7-18zm4 11zm2 8zm8-16zm2 7zm15-9zm1 17zm2-3zm3-6zm7 6zm5 6zm2-2zm8-10zm5-4zm1 8zm2-1zm5 1zm6 3zm3 2zm7-2zm5-14zm2 3zm2 10zm0 5zm10-18zm11-2zm11 20zm7 1zm7-16zm7 2zm4-7zm4 4zm7 15zm1-6zm9 2zm11 0zm3-12zm1 4zm6-5zm6 9zm1 8zm9-6zm4 5zm2-12zm9-1zm3 2zm1 5zm3 6zm3-5zm3 3zm1-8zm2-7zm2 18zm0-11zm4 2zm2-8zm3 7zm19-2zm4 11zm2 0zm1 3zm5-9zm3 28zm-8-8zm-17 3zm0-7zm-12 9zm-2-15zm-7 18zm-3-6zm-4 3zm-6-12zm-2-3zm-5 11zm-5 5zm-3-13zm-1 12zm-4-14zm0 4zm-9 11zm-4 1zm-4-4zm-5-7zm-3 9zm-2-14zm-6 16zm-1-9zm-7 8zm-3-1zm-4-15zm0 6zm-2 8zm-5-13zm-1 6zm-5 14zm-2-7zm-2 6zm-2-17zm-12 6zm-1 10zm-5 0zm-3-3zm-2-6zm-18-5zm-3 3zm-4 4zm-5 6zm-17-2zm-8-14zm-8-1zm-2 8zm-2 10zm-7-15zm-5-3zm-6 8zm-6 9zm-1 0zm-4-5zm-5-9zm-1 15zm-4-1zm-2-15zm-14 15zm0-9zm-6 11zm-2-10zm-1-8zm-2 12zm-3-12zm-6 0zm-3 18zm-3-5zm-3-11zm-9 11zm-5-11zm0 11zm-5-3zm-3 0zm-3 2zm-2-3zm-4-3zm-3 6zm-3-9zm-5-1zm-5-2zm-13 7zm-8 3zm-15 9zm-3-16zm-4-1zm-2 8zm-2-5zm-8 9zm-6-9zm-4-4zm-1 17zm-2-10zm-2 8zm-6-4zm0-7zm-3 12zm-4-4zm-1-13zm-3-2zm0 13zm-2-10zm-5-1zm-2 4zm-1 7zm-2 4zm-1-15zm-17 10zm-3-11zm-14 20zm-2-11zm-1-8zm-2 16zm-2-8zm-3-2zm-6 8zm0-14zm-4 13zm-2-6zm-4-5zm-4-2zm0 11zm-1 4zm-5-13zm-7 17zm-2-20zm-7 13zm-1-8zm-5 13zm-5-11zm-3 12zm-12-17zm-8 17zm-19-17zm-2 8zm-6-6zm-6 0zm0-3zm-19 5zm0 14zm-7-4zm-1-13zm-5-2zm-9 3zm-6 9zm-1-4zm-3 3zm-2 7zm0-12zm-5 4zm-2-10zm-4 5zm-19 9zm-33 22zm16 5zm4-2zm21-3zm15 5zm8-18zm11 16zm23 0zm6-8zm8 2zm9-9zm9-1zm5-1zm15 11zm2-11zm2 3zm4 0zm9-5zm3 8zm4-7zm6 17zm3-13zm2 14zm11 1zm2-19zm4 16zm8-10zm4 11zm1-12zm4 7zm4-10zm2 14zm1 3zm2-14zm16 6zm1 4zm2-15zm2 12zm13-9zm2 13zm6-6zm5-9zm13 18zm3-10zm3 7zm4-15zm1 16zm4 3zm2-5zm11 2zm3-3zm33-1zm4-10zm3 13zm6-7zm6-9zm7 12zm1-5zm8 1zm8-4zm6-1zm4 17zm2-13zm6 7zm2-10zm0 9zm9 3zm1-12zm7 7zm2 7zm5 2zm4-2zm7-9zm3 8zm2-12zm4 4zm19-10zm1 12zm1-5zm4-3zm3 9zm3-5zm1 9zm3-2zm1-8zm6 11zm4-16zm0 8zm6-1zm1 0zm0-4zm4 9zm2 3zm4-10zm4 8zm4 1zm4-4zm8 5zm3-16zm34 4zm1 6zm7 6zm8 2zm1-10zm2-4zm2 14zm3-14zm0 12zm4 4zm4-15zm8 7zm3-2zm3-8zm4 11zm8-10zm1 15zm6-1zm1-10zm3 11zm9-12zm2-4zm1 6zm13-6zm1 5zm5 12zm2-11zm12 6zm0-1zm3 4zm5-6zm1 8zm2-5zm3-11zm20 0zm2 11zm1-4zm1 8zm3-3zm7-6zm2 5zm13 13zm0 14zm-5-15zm-1 11zm-2-15zm-5 20zm0-12zm-4 0zm-2-4zm-5 5zm-4-4zm-3 8zm-1 3zm-3-5zm-4 5zm-4-3zm-7-3zm-2 6zm-9-6zm-1-8zm-3-1zm-10-1zm-3 9zm-14-9zm-13 8zm-8 9zm-15-10zm-13 10zm-4-12zm-11-1zm-5-1zm-5 7zm0-4zm-2-3zm-6 7zm-3-7zm-5 13zm-2-13zm-1 10zm0-6zm-2 3zm-3 9zm-8 0zm-4-9zm-9 10zm0-7zm-1-13zm-1 9zm-7-4zm-2 8zm-2-3zm-11 8zm-20-7zm-5-2zm-5-1zm-1 7zm-5-9zm-1 13zm-5-17zm-4 0zm-2 4zm-10-4zm-3 7zm-1-5zm-3-1zm-6 11zm-8-3zm0-10zm-13-2zm-4 10zm-5-9zm-2 11zm-4 7zm-1-3zm-3-14zm-11 10zm-1 3zm-5 6zm-3-10zm-4 9zm-3-7zm-1-7zm-7 11zm-2-14zm0 11zm-3 5zm-1-16zm0 11zm-11-7zm-4 11zm-6 3zm-3-10zm-3 6zm-4-11zm-7 8zm-6 0zm-6-11zm-9 1zm-6 14zm-4-13zm-19 0zm-9 1zm-4 0zm-4 6zm-1 9zm-3-3zm0-4zm-3-1zm-4 2zm-9-8zm-4 8zm-1-5zm-3 2zm-1 4zm-3-3zm-1-12zm-1 15zm-5 3zm-9-1zm-9-3zm-7-3zm0-8zm-4 11zm-2 5zm-1-20zm-3 11zm-11-9zm-2 7zm-1 8zm-1-4zm-4-2zm-6-6zm-7 4zm-6 6zm-5 5zm-3-20zm-3 9zm-5 1zm-10 11zm-6-3zm-4-11zm-8 12zm-2-12zm-7-5zm-4 13zm-42-7zm-35 6zm-20 7zm16 18zm3-16zm11 18zm21-17zm6 15zm1 2zm7-11zm9 5zm13-7zm5 4zm1-3zm7 12zm5-18zm3 0zm8 3zm2 6zm3-10zm1 7zm0 6zm11-4zm14 2zm0 8zm1-15zm14 3zm4 0zm7-4zm0 6zm1-7zm5 16zm8 2zm3-19zm3 5zm8 14zm4-19zm2 1zm4 6zm0-5zm5-1zm9 5zm10 13zm5-12zm4 2zm18-3zm4 10zm8-3zm4 2zm5-10zm2 10zm2-6zm9-10zm4 14zm0-9zm2 5zm6 9zm2-4zm2-5zm2 6zm1 4zm3-20zm9 16zm3 4zm3-7zm0-13zm9 18zm4-7zm4 5zm20-16zm5 19zm3-11zm1-4zm4 2zm2 11zm4-10zm1-3zm12 11zm9 6zm5-8zm0-6zm7 9zm0 4zm5-6zm3-6zm5-1zm4 6zm15 0zm20-11zm7 1zm6 7zm5 8zm3-7zm6-6zm9 15zm3-9zm4 2zm2 5zm9-15zm6 2zm3 12zm2-4zm7 1zm12-7zm6 4zm7 0zm15 10zm4-4zm2-16zm9 7zm0-8zm2 4zm1 3zm2-3zm3 6zm2 4zm11 0zm5-13zm0 11zm4 2zm1-10zm3 1zm2-5zm8 21zm8-11zm3 6zm3-4zm15 0zm0-9zm4 0zm8 1zm1 6zm7 5zm7-1zm2-3zm1-7zm1 12zm4-7zm2-5zm6 4zm2 6zm5 4zm1-12zm2 0zm1-4zm2 7zm10 7zm1-10zm5 1zm1 8zm3 1zm25 9zm0 17zm-7-11zm-3 10zm-1-14zm-14 12zm-1-10zm-1-3zm-3-2zm0 19zm-3-3zm0-2zm-5-16zm-4 19zm-1-19zm-2 18zm-1-4zm-1-10zm-1 17zm-10-5zm0-16zm-9 11zm-4 4zm-20-8zm0 11zm-7-12zm0 12zm-5-5zm-10-11zm-2 10zm-4 4zm-3-13zm-13 6zm-5 0zm0 6zm-3-3zm-5 4zm-1-13zm-12 12zm-5 6zm-2-11zm-3-8zm-3 12zm-1-6zm-1-1zm-7 14zm-7 0zm-3-5zm-2-6zm-5-6zm0 16zm0-11zm-6-7zm-6 18zm-2-12zm-6-8zm-1 15zm-7-2zm-7 6zm0-17zm-21 10zm-2 6zm-6 1zm-7-7zm-10 7zm-2-13zm-7 0zm-1 8zm-2-12zm-1 8zm-7 1zm-1-6zm-1-4zm-3 2zm-8 13zm-16-8zm-1 11zm-5-16zm-1 17zm-1-4zm0-9zm-1-6zm-2 18zm-4 0zm-6-2zm-10-8zm-10 11zm-6-8zm-2-8zm-3 17zm-7-10zm0 5zm-11-4zm-4-11zm-2 7zm-4 4zm-1-12zm-12 20zm0-18zm-4 14zm-3-14zm-1 3zm-13 9zm-5-14zm-2 15zm-2-4zm-7 10zm-5-20zm0 2zm-1 8zm-2 10zm-2-16zm-1 10zm-3-14zm-2 6zm-6-7zm-1 13zm-4-13zm-3 10zm-3 11zm-5-3zm-8-2zm-6-14zm-3 5zm-1 5zm-6 5zm-2-8zm-1 10zm-4-1zm0-10zm-2 5zm-5-5zm-3-6zm-2 5zm-4-5zm-19 11zm-15 1zm-3-3zm0-8zm0 13zm-3-1zm-1-13zm0 4zm-6 14zm-2-15zm-4-5zm-1 10zm0-4zm-7 11zm-5-15zm-7 2zm-21 2zm0 5zm-26 4zm-1 6zm-1-14zm-16-3zm-11 6zm-6 5zm-8-1zm-29-12zm-3 5zm-6 2zm-7-6zm-25 0zm23 24zm12 2zm1 5zm9-8zm16-3zm1 4zm4 4zm2-4zm12 3zm29 13zm12-1zm3-12zm12 7zm1-3zm3-5zm15 3zm2-3zm3 6zm5-12zm13 17zm0-15zm3 6zm0 6zm6-7zm1 9zm10-9zm1-7zm5 17zm5-1zm1 4zm8-13zm4 4zm6-3zm4-7zm5 5zm11 12zm2-12zm0-5zm14 8zm0 11zm10-12zm4 4zm7 4zm3-1zm9-16zm4 19zm1-7zm3-12zm1 20zm2-13zm4 8zm12 2zm3-12zm5-2zm5 5zm6 4zm6-6zm3-2zm6-3zm2 3zm3 6zm5-5zm3 2zm0 7zm4-5zm3-3zm5 9zm3 5zm5-6zm3 6zm3-10zm1 9zm2-18zm2 20zm0-14zm3 7zm4 4zm2-5zm10-8zm6 4zm2-1zm15 2zm5 7zm2-13zm6 0zm6 0zm3-4zm6 21zm3-4zm8-7zm3 10zm3-19zm9 19zm5-20zm4 8zm2 12zm0-19zm4 4zm3 10zm1-4zm4-5zm5 10zm1-7zm1-6zm5-3zm13 13zm8 3zm5-4zm1-10zm0 18zm4-2zm3-7zm1 5zm1-4zm9-12zm1 20zm0-20zm8 19zm5-17zm8 8zm7 0zm1 11zm15-14zm1 10zm2 3zm1-17zm1 4zm3 7zm10 4zm10-15zm13 6zm1 6zm4-15zm5 19zm4-7zm13-5zm2 6zm2 5zm3-18zm4 19zm1-13zm1-5zm1 8zm8-9zm3 13zm6-5zm4-8zm3 9zm0 6zm3 5zm8 1zm5-20zm2 14zm8-10zm2 12zm2 3zm0-5zm4 6zm4-16zm20 13zm5-13zm0 16zm4-11zm0 22zm-3-2zm-14-7zm-6 16zm-2-4zm-5 4zm-1-7zm-12 2zm-2-5zm-3 9zm-1 3zm-2-16zm0 9zm-3 6zm-2-9zm-5 2zm-3 9zm-4-4zm-1-15zm0 20zm-3 0zm-1-8zm-2 5zm-3-8zm-5-3zm-5 9zm-5 1zm-3-2zm-17 4zm0-4zm-11 3zm0-6zm-3 2zm-11 5zm-1-16zm-8-1zm0 7zm-5 7zm-3-11zm-1 16zm-6-20zm-12 12zm-3-11zm-8 16zm-2-4zm-14 6zm-5-6zm-9 3zm-3-3zm-2-3zm-5 6zm-8-4zm-16-4zm-1-4zm-3 7zm-20 4zm-2-16zm-10 19zm-12-4zm-1-5zm-5 8zm-4-3zm-5-3zm-1 5zm-3-14zm-4 13zm-3-9zm-9 6zm-4-9zm-3 3zm-14-4zm-4 0zm-4 8zm-2-4zm0 8zm-13-14zm-11 6zm-4 6zm-2-7zm-12 1zm-6 14zm-6-16zm-4 14zm-5-7zm-2-4zm-1 8zm-3-7zm-1 7zm-3-4zm-2-3zm-15-2zm-4-1zm-10 14zm-8-10zm-2-9zm-2 7zm-7-3zm-5 2zm-4 6zm-2-13zm-1 6zm-4 10zm-3-5zm-10-9zm-4-1zm-1 13zm-7-4zm-5-3zm-20-7zm-7 9zm-1-2zm-1 4zm-3 4zm-5-11zm-2 10zm-1 3zm-2-4zm-4-2zm-15-5zm-6-2zm-4 1zm-3 1zm-18 15zm-10-18zm-1 6zm-5 0zm-1-5zm-5 9zm-17-9zm-24 3zm-3 5zm-30-12zm0 11zm-14 0zm-8-9zm-35 14zm13 6zm24 15zm45-12zm4 2zm3 12zm5-9zm8 2zm1-8zm1 11zm9-7zm1-2zm13 5zm9 1zm16 6zm10 3zm16-19zm3 7zm3 13zm2-20zm4 1zm5 20zm2-4zm3-16zm2 5zm8 13zm2-11zm16 1zm3 6zm6 4zm4-19zm12 13zm7-6zm4-1zm1 5zm14 8zm1-7zm3 4zm4-6zm1 9zm0-19zm6 16zm9-9zm3 5zm1-9zm1 8zm1 3zm2-8zm8 15zm1-13zm1-7zm6 2zm1 0zm2 12zm4-4zm0 6zm6-2zm12-9zm19 14zm8-10zm5 6zm2-6zm5 10zm5-18zm6 8zm8 7zm3-12zm14-4zm2 19zm2-15zm11 14zm2-14zm4 3zm2 9zm2-7zm5 6zm11-6zm5-5zm3 2zm1 11zm5-12zm5-2zm4 8zm4-1zm1 8zm9-11zm1 11zm4-11zm1 3zm1-8zm4 0zm4 3zm10 10zm3-3zm12 3zm3-15zm4 5zm7 10zm1-11zm2-2zm3 8zm5 9zm2-14zm0-3zm2 12zm6 3zm11-13zm1 9zm3-4zm2 2zm5-10zm2 12zm18-6zm0 8zm1-15zm7 12zm0-6zm9 7zm0-8zm5-2zm5 1zm2 14zm7-10zm0-4zm4-1zm4-1zm8 13zm13-15zm1 5zm14 6zm0 2zm4 5zm1-6zm10-3zm1 4zm0-1zm5 6zm6-7zm5 3zm1-12zm1 18zm2-4zm4-1zm3 3zm14-10zm4-4zm7 11zm10-4zm5 1zm0 1zm7 25zm-4-1zm-18-4zm-15 6zm-16-8zm-7-8zm0 6zm-4 6zm0 7zm-14-15zm-3 1zm0 13zm-6-3zm-8 4zm-5-21zm-3 0zm-1 14zm-1-7zm-1 9zm-2-2zm-9-12zm-4 15zm-1 1zm-1-11zm-1 6zm-3 5zm-11-10zm-9 11zm-5-8zm0 6zm-5-4zm-1-10zm-3 5zm-9-5zm-1 5zm-5 7zm-4-7zm-1 8zm-3-4zm-8 6zm-5-14zm-1-2zm-4 17zm-5 2zm-4-20zm-5 14zm-4-4zm-10 4zm-5-7zm0-4zm-11 0zm-1-4zm-1 8zm-1 4zm0-2zm-2-5zm-7 10zm-2-7zm-2 13zm-1-8zm-12 2zm-1-10zm0 1zm-3 7zm-2-12zm-2 4zm-3 5zm-5 9zm-3-3zm-5-4zm0-5zm-7-2zm-1-2zm-5 0zm-4 11zm-3-14zm-23 8zm-6 2zm-4-1zm-3-6zm-13 7zm-10-5zm-2 6zm-2-8zm-1 10zm-5 4zm-7-2zm-5-7zm-18 1zm-2 6zm-6-14zm-2 2zm-4-1zm-29 6zm-5 6zm-7-3zm-3 9zm-4-3zm-3 0zm0 4zm-5-13zm-5 10zm-2-17zm-8 17zm-2-15zm-2 18zm-6-6zm-9-11zm-11-3zm0 6zm-12 4zm-20-11zm-12 7zm-4 5zm-4-10zm-9 0zm-9 8zm-10 5zm-26-3zm-17 4zm-3 3zm-2-4zm0-11zm-3 11zm-22 3zm-6-1zm-8-6zm-9-7zm-25 0zm-1 5zm-29-6zm50 30zm3-11zm6 16zm21 3zm3-13zm34 0zm3-5zm6 12zm8-7zm7-1zm14 3zm3-2zm2 7zm2-5zm2 5zm6-5zm13 6zm2 7zm5-21zm7 15zm9-10zm1 8zm9 1zm8-8zm7 15zm2-21zm2 18zm0-6zm4-6zm3 8zm3 1zm4-5zm1-9zm10 0zm4 12zm2-12zm5 19zm0-16zm3 2zm5 6zm1 4zm3-6zm1-5zm0 6zm5 4zm1-10zm14 11zm3-9zm1 13zm16-13zm14-6zm3 10zm2-8zm7-1zm3 16zm13-10zm1-8zm28 18zm1 3zm4-2zm9-7zm15-1zm2 4zm2-5zm5 2zm0-7zm3-2zm2 6zm2 11zm10-8zm3-6zm5 6zm4 2zm0-11zm11-3zm1 18zm2-15zm0 9zm11 4zm1-9zm4-5zm3 6zm2 4zm0 7zm1-10zm1-4zm2 9zm11 5zm0-5zm13 4zm4-6zm4-1zm5-8zm1 7zm3 7zm2-14zm1 11zm11-5zm6 5zm4 5zm4 0zm8-12zm6 0zm0 4zm2-1zm0 11zm7-15zm5-4zm1 14zm1-3zm6 3zm1-4zm1-9zm6 11zm9 6zm17-4zm7-2zm3 2zm1-7zm23-2zm7 10zm4-16zm1 20zm10-17zm23-1zm2 15zm18 1zm21-16zm12 35zm-24-9zm-30-5zm-14 19zm-9-9zm-17-5zm0-4zm-16 5zm-24-5zm-4 2zm-2-4zm-8 11zm-17-8zm-1 11zm-1 4zm-2-17zm-2 18zm-13-20zm-6 5zm-25 11zm0-4zm-8 4zm-16-15zm-4 11zm-13-11zm-25 14zm-5-1zm-5-8zm-7 4zm-6 2zm-5 5zm-1-15zm-7-1zm-4-1zm-2 14zm-6 4zm-1-1zm-5-16zm-14 18zm-3-5zm-5-11zm-2 15zm-1 3zm-3-14zm-10-4zm-11 5zm-8-4zm-1 4zm-1-8zm-4 0zm-7 6zm-4 2zm-3 7zm0-12zm-3 17zm-4-4zm-1-7zm-15-8zm-17 20zm-1-11zm-9-1zm-5-3zm-2 11zm-2-10zm-6 6zm0-6zm-12 9zm-7-13zm-4 4zm-5 13zm-3-2zm-11-13zm-4 9zm-4 4zm-1-13zm-4 2zm-1 11zm-3-9zm-15-4zm0 16zm-5-5zm-2-15zm0 7zm-5-5zm-15 10zm-6 2zm-22-5zm-8-7zm-3 6zm-3 10zm-2-9zm-13 9zm-15-9zm-9 0zm-10-9zm0 18zm-14-16zm-5 18zm0-7zm-1-6zm-5 9zm-6 0zm-8-17zm-5 20zm-11-3zm-2-13zm-14 31zm2-11zm3 6zm27-4zm16-2zm17 16zm0-11zm4 9zm2-4zm2-3zm19 10zm9-18zm6 15zm1-11zm11 7zm4-4zm17 10zm13-18zm29 19zm6-12zm1 5zm10-12zm4 5zm5 2zm5-5zm6-1zm3 19zm4-20zm3 20zm1 1zm1-3zm4-12zm1 10zm4 0zm4 3zm0-4zm2-7zm1 4zm8 8zm1-20zm1 17zm1-12zm3 1zm3-2zm0 17zm0-20zm1 8zm7-4zm4-1zm2 4zm5-1zm1 2zm2-5zm1 10zm10 1zm7-2zm1 6zm3-3zm2-9zm0-3zm6 10zm0-7zm7 4zm13-5zm13-4zm9-1zm7 14zm7 0zm3 2zm7-2zm2-12zm0 8zm10-3zm1 11zm2-19zm7 8zm3 10zm2-3zm3 5zm5-18zm0 8zm2 5zm1-10zm2 8zm0-13zm6 6zm4 6zm1-2zm9 8zm4 1zm17-18zm9 19zm0-14zm3-6zm5 20zm5-15zm18-2zm4 0zm7-2zm12 5zm1 11zm9-11zm0 14zm16-17zm1 5zm4 13zm2-5zm11-1zm20 5zm3-15zm13-4zm1 13zm28-11zm7 18zm13-15zm6 12zm7-13zm3-2zm1 3zm6 13zm11-6zm2 8zm19-20zm5 8zm11 4zm1 2zm5-14zm9 2zm7 8zm-3 18zm-1-4zm-25 1zm-27 3zm-14-6zm-15-1zm-5 12zm-12-8zm-14 7zm-4-8zm-7 5zm-2 10zm-5-8zm-7 0zm-35-2zm-5 9zm-6-4zm-18 3zm-5-16zm-19 7zm-4 0zm-3 9zm-9 0zm-15-5zm-1 5zm-12-8zm-8 13zm-11-5zm-3-14zm-17 3zm-7 4zm-6-1zm-4 12zm-9-7zm-4-13zm-3 8zm-5 3zm-14 1zm-1-5zm-7-5zm-5 17zm-9-15zm-9 16zm-5-14zm-19-2zm-33 11zm-5-2zm-11-7zm-5-3zm-2 15zm-4-13zm0 1zm0 14zm-14-14zm-3-5zm-1 17zm-13-15zm-3 1zm-1 6zm-3 3zm-11 7zm-4 0zm-17-16zm-5 1zm-25 14zm-7 1zm-5-18zm-4 19zm-2-17zm-6 3zm-23 11zm-29-18zm-1 10zm-1-5zm-14 11zm-1-6zm-5-9zm-32 23zm20 13zm27-11zm2 10zm2-6zm5 0zm17 1zm2 5zm3-6zm9-8zm5 2zm10 13zm3-8zm10 9zm8-11zm9 0zm4-4zm5 10zm2-5zm4 2zm1 11zm11-4zm3-12zm6 0zm12 17zm4-10zm1 8zm5-17zm5 15zm6 2zm18-5zm6-9zm15 1zm5 11zm12-15zm8 4zm45 3zm8 8zm11-16zm2 9zm4-7zm8-1zm15 6zm2 12zm4-11zm3 7zm8 5zm10-1zm2-14zm4 16zm14-8zm21 5zm8-18zm10 9zm16 2zm4-2zm3 4zm0 7zm3 1zm2-20zm16 5zm6 1zm6 8zm5 4zm15-12zm3-5zm10 12zm6 3zm17-14zm5 10zm3 3zm19 2zm3-9zm6-7zm14 11zm0-12zm3 17zm0-3zm22 3zm0-5zm5-7zm16-3zm2 16zm11-8zm23 8zm9 8zm-64-3zm-10 7zm-2-8zm-2 8zm-21-9zm-4 11zm-7-9zm-1 5zm-6 8zm-19-2zm-3-3zm-3 2zm-3-2zm-8 5zm-6-2zm-20-11zm-9 18zm-4-17zm-17 13zm-2 1zm-11-5zm-11-1zm-12-6zm-7 10zm-53-6zm-1-6zm-6 8zm-3-8zm-1 12zm-5 4zm-16-6zm-13 3zm-4-14zm-4 12zm-12 6zm-2-10zm-2-4zm-6 2zm-8 3zm-10 8zm-2-11zm-3 4zm0-8zm-6 15zm-1-16zm0 17zm-6-7zm-4-2zm-1-10zm-1 17zm-17-6zm-45-3zm-21 10zm-10-1zm-12-4zm-7 3zm-1-16zm-14 11zm-16-4zm-4 3zm-1 5zm-10 2zm-2-5zm-10 0zm-38 0zm-24 3zm-29-10zm-12 0zm-17 14zm22 10zm39-6zm8-1zm1-1zm11 3zm1 8zm22 9zm6-2zm8-8zm9 1zm8 10zm6-2zm15 2zm8-16zm14 0zm6 7zm12-7zm14-2zm1 5zm15 3zm11-9zm2 15zm50-14zm0 0zm6 16zm28-11zm11-3zm5 14zm6-7zm11 1zm5-3zm7-2zm22-8zm2 9zm3-7zm10 10zm14-6zm9 3zm4-5zm15 13zm8 3zm5-7zm5-4zm17-1zm12-3zm6-2zm4 15zm1-11zm8 10zm33-8zm2 10zm11-17zm44 0zm0 7zm45-8zm-95 27zm-8 0zm-1-6zm-6 2zm-11 13zm-7-9zm-8 2zm-6-3zm-17-4zm-37 19zm0-7zm-3-11zm-2 4zm0-5zm-5 15zm-16 4zm-3 0zm-26-10zm-1-9zm-1 16zm0-15zm-16 14zm-5-2zm-19 1zm-5 6zm-11-14zm-19-7zm-1 10zm-12 2zm-5-6zm-3 9zm-1-5zm-1 5zm-18-11zm-12-2zm0 10zm-19 9zm-9-9zm-30-6zm-20 3zm-12 0zm-20-3zm-4-4zm-19 11zm-5-10zm-2 7zm-1 4zm-5 7zm-11-18zm-1 3zm-40 11zm-23-1zm100 6zm2 18zm8-17zm11 6zm5 6zm5 7zm5-8zm6-5zm6 4zm1 5zm1-9zm26 13zm7-20zm15 17zm2-8zm6-2zm34 10zm19-12zm30 7zm16 0zm18-7zm20 1zm10 7zm7-6zm3-4zm32-1zm16 2zm34 6zm34-9zm-11 42zm-67-11zm-65-10zm-116 2zm-23 4zm-15-5zm-17 6zm-4-1zm-14 1zm-1 14zm-13-15zm-14 1zm-3 4zm-25-8zm-23 18zm-35-18zm-2 1zm36 32zm109 7z"/>
<path stroke="#A5AA99" d="m2172 1448z"/>
<path stroke="#E58606" d="m2165 488zm-335 108zm25 137zm-16 14zm-48-14zm29 20zm58-5zm39 18zm32-2zm-31 9zm-8 15zm-43 3zm-20-5zm-10 2zm-25-15zm-37 10zm-33-3zm-59 30zm74-4zm26-13zm29 10zm29 5zm5-3zm6-5zm30 7zm1 22zm-15-7zm-2-1zm-14 1zm-16 13zm-2-3zm-2-18zm-9 17zm-3-15zm-4 16zm-9-7zm-3 6zm-10-10zm0 5zm-2 6zm-18-2zm-9-3zm-8 6zm-9 1zm-10-3zm-13-13zm-5-1zm-10 6zm-50 12zm32 14zm0 7zm7-5zm13 0zm5-13zm6 17zm20-8zm16-10zm1 13zm2 7zm3-9zm4-3zm3-7zm4 3zm4 11zm4-15zm20 16zm9-3zm5-13zm14 14zm6-4zm3 2zm12 2zm1-9zm14 0zm7 3zm2 8zm2-6zm1 5zm7-14zm7 14zm3 2zm17-8zm10 8zm27 5zm-8 10zm-50-11zm-22 19zm-5-3zm-5-9zm-8 9zm-1-5zm-3 1zm-4-11zm-3-1zm-2 19zm-12-6zm-2 2zm-1-8zm-3 12zm-5-12zm-3 9zm-7-16zm0 5zm-1 4zm-6-7zm-18 9zm-1-9zm-16-1zm-7 14zm0-12zm-14 12zm-4 6zm-2-3zm-29-15zm-12 7zm-87 10zm-65 22zm63 1zm20-4zm8-1zm11 5zm15-1zm2-19zm1 18zm12-16zm0 17zm3-6zm4-9zm2 11zm7-6zm3 4zm14 4zm1-7zm1-10zm17 7zm7-5zm11 5zm1-5zm3 4zm7 14zm5-20zm1 12zm19-3zm4-4zm1 8zm12 0zm3-8zm0-4zm8 19zm1-18zm2 17zm3-3zm3-6zm1-2zm4 5zm4 0zm28-10zm8 13zm5-2zm23-3zm6-9zm8-3zm5 0zm6 3zm8-2zm-2 38zm-9 0zm-8-10zm-17 11zm-36-17zm-4 8zm-4-9zm-14 18zm-2-5zm-23 3zm-6-10zm-2 11zm-3-9zm-5 10zm-1-4zm-6-14zm-1 3zm-12 2zm-5 5zm0-3zm-7 6zm-5-4zm-3 7zm-12 5zm-2-8zm-9-11zm-2 8zm-3 0zm0 10zm-8-8zm-18-11zm-5 11zm-4-3zm-2-9zm-7 4zm-9 12zm-4-10zm-10 3zm-4 4zm0-13zm-13 8zm-23 9zm-2-12zm-1-5zm-3 3zm-7 12zm-16-6zm-19-1zm-1 9zm-3-5zm-20-8zm-8 10zm-11 0zm-38-14zm-42 39zm62 4zm4-17zm30-4zm4 21zm18-14zm5 4zm3 4zm6-13zm0 8zm18-3zm0 5zm9-2zm17 6zm4-10zm15 11zm1-7zm5-4zm2-3zm0 16zm18-11zm12 11zm22-3zm5-12zm2-3zm1 0zm0 5zm11 0zm6 10zm4-3zm1-3zm9 2zm2-7zm5 1zm7 11zm1-9zm0 5zm1 8zm1-5zm9-4zm10-3zm2-3zm1 14zm5-20zm0 4zm2 5zm2-5zm11-2zm8 1zm1 11zm1-6zm5-8zm15 16zm0-9zm11-3zm55 5zm10 5zm10-4zm27-9zm-24 31zm-15-7zm-27 15zm-36-8zm-3 9zm-8-19zm-25 18zm0-12zm-4 3zm-12-7zm-4 13zm-1-14zm-1 2zm-2 11zm-5-11zm-4-2zm-4 0zm-1 8zm-6-4zm-4 16zm-4-3zm-12-9zm-3-6zm-3-3zm-6 20zm0-13zm-7 9zm-8-11zm-7 13zm-10-16zm-9 18zm-5-3zm-4 2zm-3-13zm-26-3zm-19 1zm-8 2zm-2 12zm-2 2zm0-10zm-6-2zm-7 11zm-15-4zm-22 5zm-1-16zm-13 5zm-8 10zm-10-2zm-2-5zm-5-11zm-16 17zm-6-13zm-69 10zm-4-6zm-27-1zm-33 4zm-31 29zm14-10zm40 2zm5 4zm3 6zm9-6zm49 2zm21-17zm14 11zm7 8zm6-1zm1-15zm5 14zm11-16zm15 0zm2 13zm0 3zm4-1zm1-5zm14-4zm22 12zm2-5zm9 5zm14-9zm15-4zm24 6zm13-10zm9 14zm1-6zm2 2zm8 3zm2 2zm2 1zm0-6zm2-3zm7-6zm5 11zm2 1zm0-3zm1 7zm1-11zm6 9zm4-6zm12 9zm1-12zm1 5zm4 5zm9-5zm5 7zm2-19zm3 10zm1-3zm2-8zm2 12zm1-8zm3 12zm3-5zm3-3zm3-5zm8 2zm19 9zm11 7zm5-15zm1 15zm15-19zm8 2zm7 10zm5 3zm8 3zm7-3zm8 2zm14-6zm4 0zm34 6zm11 19zm-43-8zm-3-4zm-2 4zm-12-7zm-16 5zm-8 5zm-23 6zm-5 2zm-2-8zm-3-9zm-7 12zm-3 3zm-4-8zm-13 3zm-3 3zm-5-14zm-6 2zm-1 16zm-6-6zm-1 4zm-13 4zm-3-17zm-11 11zm-1-14zm-19 17zm0-8zm-4 6zm-1-8zm-1-4zm-8 14zm-3-3zm-11-15zm-1 21zm-4-16zm-2 5zm-14-9zm-7 6zm-6 3zm-19-6zm-7 16zm-6-17zm-8 5zm-18 3zm-14-2zm-3 10zm-4-1zm0-10zm-1-7zm-4 15zm-9 2zm-14-5zm-6 7zm-2-11zm-9 3zm-1-10zm-8 7zm-6 2zm-34 4zm-7 4zm-13-4zm-14 4zm-42-7zm-20-10zm-17 11zm-34 12zm8 16zm42-6zm7-1zm40 3zm5-5zm6 8zm17-2zm7 5zm0-12zm17-5zm6 3zm1 6zm4-7zm4 9zm3-12zm6 2zm3 11zm6 2zm2-7zm6 0zm4 8zm11-4zm4-9zm3-1zm0 8zm9 3zm18-7zm0 4zm8-3zm2 8zm13-2zm5-9zm2 11zm3-5zm3 2zm20-9zm4 14zm10-19zm2 15zm2-16zm1 21zm4-3zm6-11zm8-3zm8 16zm1-17zm8 16zm6-18zm3 11zm0-2zm8-7zm2 17zm2-5zm1-11zm4 10zm4 5zm3-17zm4 0zm10 0zm6 0zm6 16zm4 1zm3-6zm1-10zm3 6zm6 8zm1-8zm13 12zm3-19zm7 18zm3 1zm5-19zm5 11zm2 7zm31-13zm2-4zm2 18zm4-20zm16 0zm28 4zm17 6zm18 22zm0-8zm-15 1zm-20 11zm-14-1zm-1-3zm-2-6zm-15 9zm-6-1zm-29 5zm-2-15zm-3 3zm-7 5zm-12 3zm-13-4zm-7 7zm-1 1zm-10-10zm-4 2zm-8 0zm-2 0zm-4-7zm-4 3zm-15 5zm-2 6zm-1 4zm-11-19zm0 16zm-3 1zm-4 2zm0-19zm-10 12zm-7 0zm-4-11zm-5 1zm-5 5zm-2 9zm-15-11zm-3 4zm-4 2zm-22-11zm-24 5zm-3 3zm-10 6zm-7-3zm-33-13zm-4 20zm-2-10zm-11-2zm-1 5zm-9 2zm-7 4zm-23-3zm-27-11zm-6-3zm-4 18zm-1-5zm-4-12zm-26 18zm-6-12zm-17 4zm-13-2zm-9-1zm-3-9zm-8 6zm-12 13zm-14-20zm-8 18zm-11-6zm-25 9zm21 14zm86-1zm4 2zm2-4zm11-4zm16 8zm14-1zm5 6zm1-11zm1-8zm0 12zm5-12zm11 11zm22-1zm1-10zm5 1zm3 14zm32 6zm1-20zm2 18zm1-18zm1 6zm1 8zm3-9zm25-4zm2 6zm1 12zm10-4zm5-12zm10 13zm18-9zm0 11zm27 1zm4-7zm1 8zm8-20zm5 10zm10-3zm1 5zm5 3zm12-13zm3 16zm7-8zm4-8zm3 17zm2-17zm5 15zm7-5zm7-9zm8 11zm7 3zm1-14zm4 15zm3-11zm7-5zm10 15zm3-16zm0 7zm6 6zm9-14zm3 12zm1 7zm7-12zm11 13zm2-8zm0-7zm4 14zm4-5zm2-8zm1-4zm7 15zm15-3zm21-7zm3-2zm7 4zm36-7zm3 9zm8 4zm6 4zm-6 15zm-3 7zm-12-17zm-3-3zm-24 8zm-5 11zm-16 1zm-10-12zm-26 13zm-5-8zm-4-7zm0 4zm-4 0zm-2-7zm-1 0zm-4 5zm-11 1zm-5 9zm-2-12zm-3-5zm-6 2zm-4-1zm-1 8zm-1-9zm-2 3zm-4-3zm-3 15zm-2 4zm-3-19zm-5 13zm-1-12zm-5 17zm-7 0zm-10-15zm-3-4zm-3 18zm0-15zm-5 6zm-5-7zm-2 19zm-7 0zm-12-1zm0-8zm-2 4zm-6-1zm-1-11zm-5-4zm-13 14zm-7-6zm-3 8zm-18 5zm-36-21zm-8 7zm-1 2zm-11 10zm-1 1zm-1-17zm-7 1zm-15 8zm-26-3zm0-4zm-3 16zm-4-17zm-33 14zm-8-11zm-4 0zm-22-6zm-10 11zm-4-4zm-9 7zm-4 4zm-2-18zm-4 16zm-5-14zm-9 14zm-5-12zm-20 0zm-52 0zm-8-5zm-2 5zm-14 32zm17-6zm9 5zm15-8zm14 2zm3-8zm1 18zm49-15zm30 16zm30-9zm40 5zm2-14zm3 1zm2 18zm13 0zm5-20zm13 7zm0 10zm1-16zm8 6zm9-2zm11 1zm12 9zm3-3zm7 3zm11 0zm3 4zm2-3zm15-15zm4-1zm3 5zm14 4zm6 0zm8 0zm12 8zm4-12zm4 1zm5 9zm4-2zm13-2zm8 7zm14-17zm17 19zm4-19zm22 14zm5-15zm8 18zm2-16zm6 1zm0 10zm8 4zm1-14zm2-1zm2 3zm4-4zm3 11zm6-2zm5-5zm0 1zm4 2zm7-4zm6 0zm18 10zm8-10zm7 14zm4-2zm7-9zm14 8zm5-3zm26-8zm11 3zm2 20zm-5 16zm-31-10zm-14 5zm-4-9zm-19-7zm-18 18zm-9-3zm-11-1zm-5-7zm-2 11zm-12-6zm-2-2zm-2 9zm-39-1zm-9-17zm0 20zm-2-9zm-5 6zm-3-3zm-4-5zm-1 6zm-1-9zm-7 4zm-3-5zm-7 15zm-3-21zm-16 4zm-8 14zm0-1zm-3-2zm-4 4zm-3-9zm-4-6zm-3-4zm0 2zm-5 2zm-2 15zm0-4zm-9-15zm-5 7zm-5 10zm-29-11zm-5-2zm-3 7zm0-10zm-1 5zm-3 10zm-4-4zm-20 3zm-4-12zm-4 14zm-3-8zm-2 11zm-7-1zm-3-3zm-7-16zm-4 1zm-1 16zm-7-2zm-9 6zm-4-4zm-1-6zm-17 7zm-6-1zm-6-11zm-8 11zm-3-4zm-9-1zm-4-1zm-4 2zm-5-1zm-3-9zm-2 7zm0 11zm-21-15zm-4-1zm-6 10zm-22-9zm-10 15zm-6-21zm-42 18zm-18-2zm-2-4zm-78-8zm34 32zm14-3zm4 3zm10 7zm28-17zm50-4zm20 7zm10 12zm3-19zm3 21zm1-16zm11 15zm3-4zm13-10zm8 9zm2-11zm0-1zm1 8zm3-10zm5 7zm14-3zm0 16zm2-3zm4-12zm7 11zm10-12zm20-5zm11 6zm7 12zm2-7zm2 10zm10-1zm1-4zm2-10zm2-3zm7 14zm5 3zm17-20zm19 10zm1 6zm17 1zm1-8zm15 2zm6 7zm1-18zm16 9zm8-7zm2 10zm3 6zm5-13zm16-4zm4 3zm0 10zm2 5zm8-2zm4 0zm4 4zm1-7zm3-2zm11 8zm4-13zm2 8zm1-8zm2 5zm18-4zm2 11zm3-10zm1-8zm13 18zm5-16zm6 12zm3 3zm30-10zm9 9zm14-5zm0-4zm2 7zm3 3zm16 1zm1-19zm6 4zm35 12zm12-11zm6 2zm4 5zm9 5zm2 14zm-7-3zm-20-6zm-17 11zm-45-11zm-13 20zm-8-10zm-1-4zm-36-3zm-1-3zm-1 15zm-8-1zm-5-14zm-18 8zm-7 12zm-11-14zm-1-4zm-12 19zm0-19zm-13 1zm-7 8zm-7 8zm0-10zm-3-6zm-3 8zm0-7zm0 7zm-14-6zm-17-1zm-4 10zm-4 1zm-5 4zm0-5zm-8 4zm-3-11zm-3 10zm-5 2zm-8-1zm0-17zm-1 5zm-6-1zm-7 0zm-1-3zm-2 6zm-3 7zm-10-8zm-31 6zm-2 6zm-6-18zm-8 14zm-2-6zm-3 2zm-18 3zm-6-10zm-11-2zm-28 7zm-6 10zm-2-3zm-10-10zm-3 12zm-5-11zm-4 8zm-13-13zm-15 7zm-10 2zm-2 10zm-15-5zm-1-15zm-4 5zm-6 2zm-13-2zm-1 13zm-38 0zm-8 1zm-19-20zm-4 20zm-47-5zm29 26zm4 2zm38-6zm15-14zm6 14zm7 0zm7-10zm8 10zm19 0zm8 6zm8-21zm11 18zm3-13zm2-4zm9 16zm7-9zm5 5zm6-2zm6 9zm7-15zm3 13zm19 0zm2-4zm8-4zm2 6zm5-14zm14 10zm2 6zm1-8zm16 0zm0 8zm12-10zm1-7zm19 8zm12 6zm1-11zm0 12zm9-15zm3 16zm2 3zm11-5zm20-13zm13 19zm0-5zm4-15zm8 8zm2 7zm11 4zm4-7zm22 4zm3-17zm19 16zm0 1zm26-11zm9-1zm2 6zm0-7zm3 14zm13 1zm4-1zm2-16zm2 15zm2-11zm14-4zm5 16zm8-4zm7-8zm1-1zm10 4zm5-6zm0 17zm10-14zm11 13zm6 0zm22-12zm17 5zm24-12zm8 19zm4-18zm4 5zm5 6zm45 12zm-33 4zm-10 11zm-3-12zm-14 4zm-46-6zm-1 14zm-4 1zm-1-15zm-3 2zm0 9zm-7-12zm-16 2zm-12 12zm-3 5zm-6-4zm-6-7zm-14 0zm-8-7zm-4 8zm-8-3zm-2-6zm-2 19zm-4-17zm-5 15zm0-2zm-7 4zm0-1zm-14 1zm-7-9zm-5 0zm-7-3zm-10 6zm-11-7zm-8 7zm-8-4zm-4 2zm-4-5zm-8-1zm-8 4zm-9-6zm-6 0zm-9 3zm-23 4zm-4 0zm-8-8zm-13-1zm-10-2zm-1 3zm-18 11zm-13-9zm-5-5zm-17 0zm-1 13zm-4 0zm-10 0zm-9-12zm-6 10zm-5-7zm-1 13zm-9-6zm-6 1zm-5 8zm-19 0zm-7-6zm-4 0zm-4-6zm-1 12zm-9-4zm-15-15zm0 17zm-2-13zm-31 5zm-14-2zm-9-3zm-2-4zm-1 10zm-3-5zm-2-5zm-4 10zm-20 7zm-15-8zm-24-9zm-5 24zm13-2zm5 12zm8-4zm12 2zm4-11zm2 5zm1 11zm1-16zm4 15zm2-7zm3 11zm1-19zm4 11zm4-12zm9 0zm6 7zm3 2zm1-4zm18 15zm3-13zm4 9zm4 0zm13 5zm2-7zm13 6zm5-20zm7 18zm1-8zm11 6zm7-7zm21-3zm4 11zm3-9zm0-6zm10 8zm6-3zm5 3zm11 5zm2-7zm6 7zm20 3zm6-13zm9 0zm1 14zm11-7zm6-12zm14 10zm2-10zm24 7zm4-3zm26 1zm5 2zm19 0zm1-4zm7 3zm3 9zm12-7zm29 8zm4-8zm3 6zm2-7zm5-5zm10 16zm10-5zm3 8zm1-18zm15 10zm6 1zm4-1zm2 3zm6 2zm20-9zm2-4zm3 3zm18-6zm0 11zm20 7zm1-20zm8 3zm1 6zm4-9zm25 11zm12-1zm4 6zm45 2zm-89 16zm-5-1zm-5 0zm-2-4zm-9-1zm-5-6zm-4 4zm-1 3zm-2 5zm-15-2zm-12 1zm-8 8zm-14-1zm-4-16zm-6 11zm-15-8zm-25 14zm-6-17zm-8 1zm0 18zm-5-17zm-15 1zm-10-4zm-1 7zm0 8zm-4 1zm-12-11zm-8 4zm-17 4zm-9-11zm-33 8zm-64-2zm-14 2zm-4 9zm-61-15zm-12 11zm-2-9zm-42 3zm-10-1zm-18 8zm-5-10zm-13 6zm-6 6zm-8-10zm-12 4zm-7-11zm-9 19zm-17-10zm-1 10zm6 13zm4-7zm7-2zm4-2zm9 8zm1-5zm2-4zm2 9zm1 11zm4-3zm7-17zm15 20zm1-8zm2-8zm13 2zm1 15zm7-7zm1-8zm16 6zm130 1zm27 5zm47-8zm40-6zm20-4zm11 10zm14 5zm5 2zm11-15zm3 15zm9-9zm12-7zm3 12zm1-4zm8 0zm16-8zm10 5zm9 15zm1-21zm1 6zm8 1zm2 11zm3-5zm6-13zm6 16zm3 0zm1-11zm7 5zm2-9zm1 5zm7-6zm1 18zm2 3zm14-17zm4 10zm3-1zm13-11zm12-2zm-40 26zm-31 2zm-5-4zm-2 1zm-7 0zm-6 4zm0 13zm-22-9zm-10 6zm-4-7zm-92 5zm-11 5zm-6-5zm-68-7zm-33 7zm-30-11zm-59-4zm-49 3zm-14 4zm-6 1zm-2 6zm-12-5zm-27 5zm-15-14zm-19 3zm-14 8zm2 27zm12 3zm22-1zm35-18zm36 11zm19-7zm42-3zm1 11zm6-9zm1 17zm39-16zm27 17zm29-2zm29-7zm47 8zm5-5zm8 5zm6 1zm120-19zm134 17zm-27 10zm-9-6zm-1 6zm-78 14zm-38-11zm-24 6zm-15-10zm-76-3zm-6 2zm-42 12zm-62-1zm-32 4zm-8-1zm-19-11zm-24 5zm-5-1zm-15-10zm-44 8zm-12 4zm-19-6zm-6 3zm-7-10zm-24 14zm-10-11zm-5 10zm-15 2zm2 22zm16-3zm12-12zm22 17zm1-13zm3 5zm35-1zm57-4zm37 10zm3-6zm48 1zm26 6zm13 0zm6 1zm13-17zm23 15zm3 3zm24-18zm44 9zm52-1zm15-8zm31 9zm6-7zm11 17zm92-17zm-116 32zm-65-7zm-5-5zm-14 6zm-12-3zm-87 13zm-50 4zm-1-12zm-4 12zm-13-17zm-7 0zm-52 5zm-6 2zm-13-5zm-30-4zm-19 8zm-5 3zm-16 2zm-11-3zm-3 2zm-2 4zm-9-7zm-2 7zm-28-15zm-1 19zm-24-13zm18 17zm14 17zm50 0zm15-10zm11 8zm16-1zm23-3zm4-10zm6 14zm26-2zm0-9zm8 6zm31-11zm5-1zm38 15zm19 1zm17 3zm8-14zm8 7zm1 2zm17 0zm39 4zm25 2zm58-4zm3-17zm57 35zm-26 0zm-52-1zm-5-5zm-18-2zm-12 11zm-28-14zm-27 10zm-6 6zm0-8zm0-8zm-2 4zm-11 8zm-4 4zm-5 1zm-5 2zm-21-17zm0 14zm-17-11zm-4-1zm-8 13zm-8 2zm-4-13zm-6 5zm-11 8zm-14-19zm-5 18zm-2-10zm-5 1zm-16-3zm-12 1zm0 6zm-6-12zm-1 17zm-6-18zm-1 6zm-12 8zm-14-14zm-14 14zm-28 1zm-44-1zm24 7zm7 2zm0 10zm1 0zm6-12zm2 3zm3 14zm0-8zm3 9zm4-6zm7 6zm5-18zm3 17zm22-8zm12 0zm3-8zm6-1zm1 3zm3 8zm4-5zm1 8zm3-3zm1-6zm10 14zm7-1zm6-11zm5 13zm8-12zm9 11zm8-7zm14-3zm2 10zm2-19zm3 15zm4-5zm4-8zm7-2zm14 6zm10-3zm6 15zm4-14zm1 16zm5 0zm1-2zm8 1zm3-6zm3-2zm8 8zm15-5zm11-1zm8-7zm1-7zm13 13zm10 6zm2-8zm23-11zm7 16zm12-12zm47 0zm13 11zm5 0zm17-3zm-32 14zm-29 15zm-10-2zm-4 0zm-14-5zm-3-4zm-13 7zm-6-10zm0 15zm-11-15zm-12 12zm0-9zm-2 5zm-4-2zm-25-8zm-9 13zm-4 0zm-26-14zm-4 19zm-11-16zm-6 15zm-13-12zm-12 9zm-3-13zm-2-3zm0 12zm-5 7zm-10-18zm-3 8zm-5 5zm-15-10zm-5 2zm-10 0zm-6 0zm-8-4zm-20 2zm-37 3zm-22 13zm-21-17zm-25 4zm-19 15zm74 18zm1-8zm13 8zm0-7zm11 9zm19-5zm9-4zm1 9zm10-2zm14-16zm7 5zm7 7zm22 4zm12-7zm5 0zm3 3zm5-4zm4-7zm4 11zm4-2zm7-12zm13 5zm3 9zm2-13zm5 19zm3-16zm3-3zm23-2zm1 5zm6 7zm2 8zm4-9zm8 6zm3-1zm7-3zm12-5zm0-4zm2 8zm12-10zm2 3zm6 10zm1-15zm6 17zm9 4zm24-16zm11 1zm23 37zm-17-12zm-7 6zm-10-5zm-1-7zm-14-1zm-2 18zm0-15zm-5-3zm-11 5zm-2-2zm-4 15zm-2-6zm-3-13zm-6 10zm-1 9zm-2-16zm-4 4zm-10-5zm-20 9zm-12-11zm-4 8zm-2 3zm-8-4zm-1 3zm-9-11zm-1 9zm-9 5zm-20-14zm-1 18zm-3-15zm-1 16zm-7-5zm-24-13zm-4 17zm-2 1zm-17-2zm-1-7zm-4-7zm-22 10zm0 4zm-10 2zm-29-11zm-7 12zm-5-16zm-6 12zm-3-5zm-5 4zm-3-4zm30 20zm11 3zm2 7zm15 0zm4 2zm19-4zm11-10zm12 3zm5 7zm20-6zm12-11zm21 20zm2 0zm1-5zm4-3zm4-11zm3 18zm1-9zm6 9zm3-12zm0-7zm1 19zm11 0zm3-10zm6-4zm5 8zm6-9zm17 2zm27 4zm4 0zm15-1zm5 8zm16-5zm15 6zm5-6zm5 1zm17-10zm34 11zm13 10zm-44 17zm-6-18zm-12 19zm-25-20zm-5 0zm-12 13zm-11-12zm-9-1zm-3 14zm-2-14zm-2 12zm-7-3zm-20 5zm-4 4zm-8-17zm-17-1zm-8 21zm-3-2zm-13-8zm-5-2zm-10-7zm-2 3zm-7-2zm-6 13zm-10-8zm0 13zm-9-12zm-13 1zm-13 6zm-17 0zm-9-13zm-4 5zm-6 2zm-2 5zm-8 2zm-1-4zm-2-12zm-1 18zm-20-4zm-8-10zm-9-2zm-13 6zm-32 18zm10-2zm11 2zm14-1zm12 8zm14 8zm23-4zm6-14zm2 3zm18 7zm9-7zm2-5zm7 13zm3 6zm23-6zm11 1zm15-14zm0 13zm18-12zm3 15zm9-11zm21-4zm5 5zm30 15zm1-17zm5 2zm0-5zm1 18zm4-13zm7 1zm24-7zm9 1zm22 13zm2-11zm14 3zm25-5zm26 2zm-28 20zm-12 1zm-20 15zm-1-10zm-17 3zm-4 2zm-1 9zm-9-15zm-24 1zm-7 7zm-36-13zm-10 0zm0 12zm-11 3zm-14 0zm-1-11zm-5 4zm-2-4zm-14 3zm-3 12zm-1-4zm-2-5zm0 2zm-12 0zm-5 6zm-9-8zm-3 3zm-5-3zm-2-7zm-8 14zm-11-13zm-9 0zm-12 6zm-7 10zm-12-12zm-6-9zm-6 0zm-9 15zm-24-5zm-19 5zm-27 2zm-7 2zm-48 13zm17-6zm16-1zm7 18zm10-16zm25-5zm18 12zm17 0zm3-4zm0-3zm7 1zm2 15zm41-15zm18 3zm4 4zm6 0zm6 6zm1-17zm6 15zm12-6zm4 4zm12 2zm9-14zm2 5zm13 7zm6 2zm7-3zm2 5zm0-17zm4 8zm26 9zm8-3zm2 2zm8-4zm4-4zm11 5zm16-7zm5 2zm1 11zm4-4zm26-3zm9-14zm2 15zm16-15zm5 43zm-18-6zm-3 2zm-11-11zm-6 9zm-2-13zm-1 3zm-6 13zm-3-18zm-9 6zm-9 9zm-28-1zm-6-4zm-37-1zm-21-9zm-8 7zm-7 10zm-10-12zm-3 7zm-11 1zm-2 6zm-8-6zm-12 5zm-17-17zm-2 7zm-17 1zm-12-9zm-6 10zm-10 2zm-22 5zm-7-15zm0 18zm-31-9zm-21-7zm-27 16zm-1-8zm1 13zm6 15zm7-15zm23 10zm21-3zm23-5zm11 5zm12 5zm2-6zm29-6zm26 12zm1 0zm7-9zm44 9zm18-3zm1 7zm10 0zm0-11zm10 12zm3-14zm4-6zm9 19zm0-14zm8-1zm13 17zm2-7zm18 1zm1-4zm1 5zm1-13zm25 12zm6-2zm8 8zm5-9zm5 12zm-6 17zm-16-17zm-6 3zm-5 16zm-5-10zm-17-8zm-6 10zm-8 7zm-3-1zm-3-7zm-18-9zm-4 9zm-3-12zm-10 10zm-1 6zm-2-7zm-3-6zm-58 4zm-4 5zm-3 5zm-25 4zm-2-18zm-11 13zm-43 4zm-17-17zm-21 6zm-11 4zm-17 4zm-7-5zm-10-11zm-1 9zm-14 0zm-22 24zm45 9zm7-5zm25-15zm15 9zm18 0zm6-6zm2 15zm31-6zm4 0zm5 3zm51-13zm17 14zm1-1zm3-8zm9-4zm12 3zm6-5zm15 1zm3 6zm3 12zm21-7zm2-5zm19-7zm15 19zm1-2zm5-8zm23 2zm19-13zm8 19zm-31 4zm-18 19zm-12-1zm-15-14zm-1 15zm-12-19zm-25 20zm-7-7zm-37-7zm-12 12zm-14-6zm-19 7zm0-1zm-21-6zm-17 6zm0-17zm-6-1zm-12 11zm-3-2zm-6-5zm-34 4zm-8-5zm-28 0zm-6 16zm-1-9zm-20-8zm5 34zm31-8zm28 1zm18 6zm24-14zm11 3zm1 7zm28 4zm9-5zm38-9zm7 7zm2 4zm13 3zm1-12zm8 16zm6-18zm2 4zm1 0zm10 5zm1-8zm12 4zm3 12zm16-7zm13 1zm5-11zm0 19zm7-1zm2-5zm13 2zm5-4zm3-11zm12 20zm4-2zm9-5zm19-12zm-36 36zm-11-11zm-4 0zm-1 13zm-4-5zm-11-1zm-6 1zm-4 0zm-5-12zm-3 2zm-4 12zm0-11zm-10 16zm-3-16zm-1 18zm-1-15zm-9 3zm-6-5zm-28 2zm-20 14zm-6-18zm-2 6zm-29 11zm-58-6zm-19-7zm-41 5zm-6 4zm-25 4zm21 11zm12 0zm27 0zm16-3zm17 2zm42-3zm20-1zm9 12zm40-11zm17 5zm4 10zm4-12zm4 14zm27-8zm10 0zm12-5zm10 10zm11-15zm1 1zm14 8zm-29 19zm-6 9zm-5-9zm-22 2zm-5-6zm-27 3zm-2-4zm-53-1zm-6 13zm-13-11zm-8 6zm-17 7zm127 9zm22 13zm36-17z"/>
<path stroke="#2F8AC4" d="m380 848zm0-9zm1 1zm0 6zm0 3zm1 4zm1-2zm1-5zm2 15zm0 8zm0 3zm0 7zm-1-4zm-1-15zm-1 5zm0 3zm0 7zm0 1zm-1 2zm-1-7zm-1-7zm-1-5zm-1 37zm6-16zm2 2zm0 10zm0 0zm0 0zm1-5zm0 8zm1-9zm3 12zm1-3zm13 28zm-4-2zm-7-15zm-1-4zm-2 5zm-2-4zm-2 13zm-1-6zm-1 12zm-2-7zm-6 3zm-3-16zm-1 11zm-7 10zm3 17zm3 4zm2-11zm1 3zm5-6zm4-4zm1 8zm0 6zm3 1zm1-17zm4 16zm2-10zm6 0zm-14 28zm-2-3zm-2-6zm-1 14zm-2-11zm-1 14zm-3-11zm-23 19zm3 7zm4 3zm10 5zm2-19zm6 1zm7-3zm2 12zm2-7zm5 0zm3 13zm5-10zm2 7zm1-4zm2 7zm3-2zm2-4zm2-8zm3 10zm6 0zm2 3zm5 3zm1 22zm0-6zm-11-6zm0 11zm-2-19zm-3 13zm-2-13zm0 8zm-8-1zm-2-7zm-4 5zm-4 9zm-5-2zm-1-6zm-2 3zm-6-1zm-13 8zm-5 0zm-1-8zm-3-3zm0 16zm-16-8zm-20 28zm31-11zm1 6zm6-8zm3 3zm2-7zm2 10zm1-4zm4 7zm17-9zm7 4zm4 9zm2-16zm4 18zm18-13zm1-3zm1 0zm747 27zm-755-2zm-13 8zm-6-2zm-6 5zm-21 1zm-23-13zm-4 2zm-12 4zm-5-6zm-1 9zm-34 23zm2-4zm0-10zm8 6zm1-5zm1 4zm42 10zm17-4zm9-11zm4 14zm2-12zm32-5zm12 19zm1-4zm715-11zm1 3zm3 11zm2-12zm6 9zm50 19zm-29 0zm-11 0zm-14-2zm-680-3zm-37 12zm-1-2zm-13 2zm-9-3zm-11 0zm-5-1zm0-8zm-12-3zm-7 13zm-29 2zm-8-16zm0 18zm-15-1zm-5-7zm-9-2zm-9-4zm-1 12zm-10 0zm-27 21zm11-16zm4 5zm1-5zm3 6zm0 1zm0-4zm1 14zm4-19zm2 21zm1-16zm9-2zm1 10zm12-10zm6 10zm1-5zm2 8zm5-10zm6 3zm3 7zm3-8zm5-2zm1 6zm2 4zm1-9zm3 1zm3 0zm3 11zm1-7zm6 0zm0-11zm4 10zm12 10zm1-10zm0 8zm5-4zm7-10zm2 15zm2-2zm3-8zm4 10zm0-17zm11 18zm4-2zm7-11zm3 4zm10-5zm3-4zm706 6zm8-4zm90 6zm-800 31zm-17-12zm-3-4zm-1 17zm0-6zm-1-9zm-1-5zm-3 18zm-2-6zm-2-11zm-2 11zm-4 7zm-9-4zm-8 5zm-7-12zm-1 9zm-5-15zm-4 18zm-5-6zm-2 4zm-3 1zm-6-12zm-1 7zm0-12zm-5 15zm-9-14zm-9 15zm-3-2zm-2-7zm0-7zm-2 7zm-2 11zm-22-2zm0-7zm-3-12zm-6 14zm-4-9zm0 11zm-7-6zm-2-5zm-10-5zm-3 16zm-2-13zm-2 12zm-2-8zm-1-6zm-3 9zm-1 7zm-3-5zm0-4zm-2-6zm-13 28zm4 2zm9-2zm3 1zm3-8zm3 16zm0-9zm6 6zm4 6zm4 1zm3-7zm2 3zm6 3zm3-17zm8 16zm3-18zm3 19zm6-13zm7-2zm0 11zm4 1zm2-10zm2 14zm5 0zm4-1zm2-18zm3 0zm1 4zm5-2zm2 11zm5 4zm4-15zm11 7zm1 5zm2-12zm2 14zm4-1zm3-10zm3 8zm6-8zm4 8zm3-14zm3 0zm0 13zm2-9zm2 10zm0-4zm4 2zm1-4zm8 3zm4-5zm4-2zm32 9zm5-9zm11 2zm3 3zm6 1zm5-4zm750-4zm-834 28zm-8-7zm-7 6zm-6 13zm-1-8zm-9-2zm-2-7zm-8 4zm-5 8zm-3-9zm-2 12zm-1-14zm-2-1zm-2 2zm-3 3zm-1 3zm0-11zm-1 15zm-5 5zm-2-3zm0-11zm-8 6zm-2 8zm-1-6zm-7-11zm-2 10zm0-6zm-1 13zm-9-11zm-5-4zm-7 8zm-2-12zm-5-1zm-2 14zm-15-12zm-10-2zm2 26zm0 13zm8-17zm2 0zm18 10zm2 0zm6 7zm2-12zm0 1zm2 7zm1-4zm0 8zm1-15zm4 8zm1-9zm5 7zm4 2zm2-10zm9 18zm14-16zm1 12zm15 5zm0-12zm4 12zm7-3zm7 2zm7-2zm1 3zm2-19zm6 14zm851-6zm-872 16zm-4 4zm-1-2zm-6 12zm-22-11zm-13-3zm-6-3zm-7 7zm-10-7zm-10 9zm-5-7zm959 109z"/>
<path stroke="#DAA51B" d="m1528 489zm29 11zm54-7zm313-5zm-232 29zm-89 2zm-24-1zm-2-12zm-24 20zm-8-6zm-4-11zm-4 1zm-16 9zm-33 3zm-3-1zm-1 3zm-4-18zm-7 15zm-5-15zm-1 14zm-26 24zm8 4zm8-19zm6 8zm15-6zm4 16zm0-6zm14-5zm1-6zm2 19zm2-20zm11 4zm4 14zm1-11zm3-6zm9 8zm10-6zm5 1zm1-5zm2 14zm3-8zm5-5zm7 13zm27-4zm9 7zm6 4zm14-11zm36 10zm-15 20zm-3 1zm-29-17zm-33 17zm-3-10zm-4 0zm-6 7zm0-13zm-5 18zm-1-2zm-2-5zm-7 6zm-2-8zm-1-5zm-12 0zm-5 14zm-15-6zm-4 5zm-5 0zm-14 0zm0-12zm-5 9zm-4-4zm-3 8zm-6-19zm-2 12zm-1-12zm-6 9zm-7-1zm-1-3zm-1-4zm-5 7zm-11-9zm-5 33zm4 5zm6-12zm4 6zm14-11zm1 1zm4 9zm1 6zm12 3zm13-14zm1 7zm2 5zm9-12zm5 4zm1 4zm7-2zm3 10zm1-3zm10-12zm1 5zm4 10zm6-16zm8-2zm2 17zm0-20zm3 2zm5 11zm1 4zm0 4zm1-19zm5-1zm5 0zm22 6zm4 7zm49-14zm0 13zm30 11zm-24 1zm-5 3zm-6 14zm-11 1zm-7-5zm-6-5zm-2-6zm-8-5zm-6 11zm-9 4zm-3-9zm-2 3zm-3 9zm-19-7zm-1 8zm-2-3zm-1-15zm-2 5zm-1 10zm-3-1zm0-13zm-3 4zm-2-3zm-6 2zm0-3zm-1 15zm-2-17zm0 10zm-1 8zm-9-17zm-6 6zm-4 8zm-8 6zm0-18zm0 7zm0 7zm-12-12zm0 10zm-4-8zm-9 7zm-1-6zm-2 9zm0-13zm-9 9zm-5-7zm-2 3zm-5-8zm0 7zm-6-4zm-12 12zm-1-8zm-5-5zm-11 16zm-9-7zm-4-1zm-1 6zm-24 21zm4-4zm1-8zm1-4zm8 14zm3-12zm8 2zm3 6zm2-4zm1-1zm2 13zm6-16zm0 9zm4-9zm0 12zm6-14zm10 14zm3-14zm3 6zm2 12zm3-16zm10 13zm1 2zm4-17zm9 4zm4 11zm9-9zm3-3zm1 11zm9-5zm7 9zm5-15zm12-2zm3 13zm5-4zm8-9zm0 7zm2 2zm13 0zm6 11zm1-4zm3-1zm6-12zm14 12zm3 4zm8-15zm7 12zm6-17zm13 18zm2-3zm2-9zm4 12zm33-10zm14 12zm2-13zm26 0zm-36 19zm-24 12zm-4-8zm-19 12zm-7-2zm-7-9zm-3 10zm-29-7zm-4-9zm-16 12zm-11-12zm-1 11zm-8 4zm-13-5zm-7 0zm-1-5zm-3-1zm-5 12zm-9-14zm-1 6zm-3-9zm-1 16zm-11-13zm-1 10zm-4-10zm-5-4zm-1 20zm0-8zm0-6zm-11-7zm-15 20zm-1-16zm0 14zm-5-10zm-15-4zm-7 10zm-3 2zm-2-8zm-6 2zm-10-5zm-4 2zm-5-5zm-8-1zm-7 16zm-19 12zm4 5zm4 9zm7-12zm3-7zm2 7zm14 7zm1-5zm4 2zm1 7zm2-4zm0-9zm6-1zm9 5zm14-1zm8 9zm6-1zm2-6zm2-11zm5 12zm8-11zm5 12zm1 4zm1-16zm0 5zm4 10zm5 1zm0-9zm2-9zm2 14zm9-10zm9-1zm8 12zm2-10zm4 10zm4-4zm5-6zm0-1zm9 15zm1-15zm26-4zm2 18zm8-9zm14 4zm24 0zm8-13zm8 7zm40-2zm27 7zm0-3zm3 6zm11 4zm11 4zm-15 20zm-6-1zm-25-3zm-2-4zm-13 1zm-3-5zm-8 4zm-5-13zm-6 18zm-10 1zm-10-18zm-7 10zm-12-4zm-3 4zm-1-6zm-8 2zm-2 6zm-5-7zm-3 12zm-16-10zm-1 3zm-3 5zm-4-6zm-3-3zm-5 14zm-1-20zm-12 4zm-3 10zm-3-3zm-13-3zm-6-1zm-6-5zm0 7zm-2 3zm-14 5zm-15-1zm-1-17zm-5 18zm-11-1zm-7-1zm-5-8zm-2-3zm-1 16zm-16-17zm-3 4zm-8 0zm-1 10zm-1-18zm-3 14zm0 4zm-14-15zm0 1zm-3 17zm-10-12zm-6-1zm-3-6zm-1 7zm-4 2zm-3 7zm-2-9zm-18 25zm0 9zm10-16zm4-5zm9 1zm1 4zm4 12zm4-13zm9 0zm0 3zm23 8zm2-13zm7-2zm21 14zm6-14zm2 8zm34 0zm4-6zm11 4zm1 10zm4-9zm2 13zm3-10zm0 9zm10-7zm2-10zm11 18zm9-1zm0-4zm4-2zm13-2zm6-3zm4-5zm9 11zm8 7zm3-16zm5 6zm4-7zm2 8zm1-11zm3 8zm16 6zm16 3zm13-16zm7 13zm0-15zm2 10zm6 6zm11-4zm23-1zm5 1zm7-4zm13 1zm-30 21zm-7 11zm-19-11zm0 7zm-11-12zm-2 4zm-7 9zm-4-5zm-3 3zm-10 3zm-13 1zm-11-15zm-13 3zm-5 3zm-2-2zm-16 0zm-1-5zm-10 15zm-9-8zm-3 7zm-3-14zm-14 3zm-7-5zm-11 0zm-1 14zm-11-14zm-6 7zm-1 2zm-1 4zm-3 5zm-9-1zm-9 2zm-7-18zm-4-1zm-5 10zm-3-8zm-2 15zm-1-7zm-16-10zm-1 4zm-5 12zm-5 2zm-4-13zm-2 7zm-15-11zm-11 8zm-11 5zm-6-12zm-7 4zm-13 11zm-3-6zm-4-9zm-8 2zm-8 16zm2 12zm12-3zm9 6zm7-13zm5 15zm4 3zm9-15zm14 11zm4-9zm8 10zm4-6zm4 5zm10-7zm4 8zm2 5zm1-18zm5 10zm1 4zm2-11zm10 10zm4-7zm0 10zm9-8zm1 9zm5 0zm0-13zm12 2zm1-4zm3 15zm1-6zm6-9zm0 5zm5 0zm1 7zm2-10zm1-5zm2 10zm11 5zm3-14zm4 15zm3-9zm2 1zm11 10zm3 1zm11-18zm5 17zm5-11zm3 7zm5-4zm6-3zm11 9zm6-1zm12-4zm0 6zm12-6zm22 7zm7-15zm44 10zm5 0zm1 4zm6-4zm1-8zm17 7zm6-11zm3 15zm43 11zm-1 12zm-21-6zm-4-1zm-4-9zm-2 13zm-21-1zm-25-4zm-10 1zm-9-7zm-5 8zm-8 9zm-9-6zm-6-7zm-20 1zm-7 9zm-1-10zm-7-8zm-5 17zm-7-1zm-9-3zm-8 2zm-2-11zm-5 1zm-1 7zm-2-1zm-3-5zm-5 8zm-1-12zm-8 14zm-4-12zm-3 11zm-13-8zm-4-6zm-1 11zm0 8zm0-15zm-2 10zm-2-1zm-1-12zm-10 17zm-1-19zm-1 16zm-7 0zm0-14zm-5 16zm-5 0zm0-14zm-9 1zm-6 12zm0-9zm-2 5zm-14-9zm-3 7zm-9-5zm-14-2zm-4 2zm-4 8zm-6 4zm-12 2zm-3-14zm-15-2zm-8 7zm-5-4zm-6 8zm-10 2zm0-12zm-10 9zm-2-12zm-8 3zm-3 6zm-9-7zm-3 3zm-3-7zm-8 9zm-5 10zm-4 16zm0-7zm14 1zm19 14zm4-15zm8-6zm4 11zm3 1zm0-9zm3 14zm1-16zm7 16zm4 1zm3 2zm0-12zm8 3zm2 3zm5 2zm1-6zm6 5zm5-6zm0-8zm5 18zm1-4zm1-13zm4 16zm3-4zm12-8zm1 5zm7-10zm4 12zm0-9zm3 6zm3-8zm12 1zm3 12zm6-10zm1 14zm2-10zm5 11zm11-20zm8 8zm2 3zm3 5zm7-15zm1 10zm14 8zm7-9zm1 6zm3 0zm4-6zm1 11zm2-7zm1-7zm6 0zm7 9zm1-15zm2 10zm6-9zm9 16zm0-12zm13 8zm6-2zm9-12zm22 4zm12 15zm3-13zm18 2zm4 10zm16-15zm16 1zm27 6zm7 1zm40 15zm-20-3zm-12 11zm-26-5zm-3-6zm-3 3zm-3 13zm-15-4zm-1 6zm-17-12zm-5 9zm-7 2zm-4 1zm-31-10zm-3-1zm-9 10zm-6-11zm-2 12zm-3-5zm-4-5zm-4-4zm0 7zm0 5zm-7-13zm-4 13zm-1-4zm0-11zm-14 19zm-1-16zm-7 3zm-12 11zm-2-9zm-10-9zm-2 20zm-3-12zm-1-9zm-2 3zm-10 18zm-3-4zm-19-13zm-5 9zm-1-12zm-9 5zm-9 5zm-3 4zm-8-8zm-8 2zm-1 10zm-17-15zm-1 10zm-14 4zm-2-15zm-14 15zm0-16zm-1 7zm-1-9zm-2 13zm-3-6zm-9 6zm-2-3zm-8 11zm-17-7zm-3-13zm-16 5zm-7 10zm-3-16zm-2 19zm-12-16zm-2-3zm-2 19zm-2-8zm-5 6zm-9-8zm-1-6zm-3 7zm-3 6zm-1-7zm-5 6zm15 11zm14 9zm1 4zm3-7zm1-3zm4 14zm2-5zm0 4zm1-9zm2-4zm1-4zm4 10zm9-2zm1 7zm1-18zm3 15zm3 3zm8 0zm3-13zm4 8zm3-6zm1 0zm13 5zm2 7zm2-7zm13 8zm3-3zm2-3zm4-5zm4 3zm1 4zm8-4zm2 3zm1-13zm1 10zm9-7zm0 10zm1-4zm7-5zm0 13zm4-18zm4 11zm0 6zm4-4zm4-3zm8-4zm1 11zm1-16zm4 11zm4-4zm0-5zm9 0zm2-4zm42 15zm6-1zm16 1zm10 4zm2-7zm8-12zm0 16zm3 4zm4-13zm0 3zm5-9zm5 4zm3-1zm2 7zm3-4zm4 6zm2-5zm2 13zm1-20zm6 0zm2 16zm1-14zm2 4zm3 5zm5 8zm9-18zm2 4zm4 10zm1-9zm8 12zm27-15zm8 10zm6-4zm3-1zm1 6zm14-13zm12 4zm15 12zm3-6zm8-12zm24 0zm39 28zm-20 13zm-3-9zm-21 2zm-16-10zm-7 12zm0 3zm-9-13zm-20 16zm-5-14zm-3 7zm-16-10zm-14 12zm-23 0zm-7-14zm-30 1zm-8 2zm-11 6zm-9-3zm-1 7zm-4 2zm-7-3zm-4-9zm-3 14zm-4 3zm-12-1zm-1-14zm-4 1zm-1-3zm-9 3zm-5-3zm-7 8zm0-9zm-9 2zm-1-4zm-10 12zm-2 7zm-2-17zm-18 14zm-3-4zm-9 2zm0-10zm-1 6zm-3 4zm0 5zm-1-15zm-2 0zm-5 0zm-8 1zm-10 1zm-1 10zm-6-1zm-3-7zm-12 1zm-12 10zm-2-13zm-2 12zm-12-5zm-6-12zm-2 17zm-4-18zm-4 17zm-1-4zm0-6zm0-4zm-2 15zm-5 1zm-5 0zm-5-2zm-5-5zm-7 8zm-5-8zm-1-6zm-2-2zm-1 7zm-3 7zm-5-17zm-3 9zm0 4zm-12 3zm-8-13zm-2-3zm-5 16zm-4 1zm-5-2zm0-2zm-2-2zm0-8zm-8-1zm-4 7zm-2 24zm4-5zm6 11zm3-19zm0 13zm7-11zm1 14zm1-11zm2-5zm4 4zm6 4zm7-3zm1 8zm5 4zm3-9zm10 0zm4 8zm4-3zm0-12zm18 1zm1 18zm3-11zm0 6zm3-6zm3 6zm3-10zm4 7zm5-2zm6 0zm0-10zm11 18zm19-7zm1-4zm7-4zm9 12zm9-9zm3 2zm13 7zm6 1zm11-8zm19 6zm1-10zm6 5zm4 6zm7 1zm3-7zm1 7zm4-9zm18 2zm10 8zm3-13zm0 14zm4 0zm9 0zm1-7zm0 5zm0-10zm4 11zm12-17zm3 13zm3-9zm4 8zm5-11zm7 9zm1-5zm1 11zm7-13zm5 7zm12 8zm2-17zm31 16zm12-3zm7-5zm0 6zm10 6zm6-5zm31-10zm20 4zm3 11zm0 21zm-50-2zm-19-16zm-11 18zm-1-19zm-7 12zm-28-1zm-23 7zm-19-5zm-4-5zm-2 5zm-16 5zm-10-1zm-2-5zm-2-5zm0-5zm-1 12zm-10-5zm-3-7zm-4 2zm-4 16zm-6-7zm-5-11zm-3 7zm-6 4zm-6-4zm-33 11zm-11-1zm-5-17zm-18 7zm-12 11zm-1-4zm-2-9zm-12 0zm-4 3zm-4-2zm-1-9zm-2 18zm-7-13zm-1-4zm0-1zm-7 21zm-16-20zm-1 5zm-8 10zm-5 5zm-2-18zm-16-2zm-6 12zm-11 7zm-8-20zm-17 17zm-4 1zm-4 2zm-3-10zm-2-10zm-6 6zm-2 4zm-4 3zm-2 2zm-1 5zm-3-18zm0-1zm13 34zm18-10zm3 5zm7-5zm6 13zm17-6zm9-2zm2-8zm2 11zm3-4zm2-7zm4 17zm6 3zm6-8zm11 3zm11 4zm5-4zm5-14zm5 11zm11 7zm12 0zm8-16zm1 6zm4 5zm3 4zm1-8zm1 5zm21-8zm3 13zm2-13zm2 12zm10 0zm4-8zm4 6zm11 4zm8-2zm5-19zm11 17zm7-2zm8-13zm9 18zm1-12zm1 3zm10 5zm4 2zm2-17zm8 10zm4 7zm0-5zm10-7zm15-3zm15 5zm0-6zm6-2zm12 11zm8-11zm6 18zm25-1zm25-11zm5 13zm0-9zm11 10zm29-19zm3 3zm5 4zm10 9zm22-9zm3 31zm-23 2zm-11-14zm-4 12zm-9-8zm-25 0zm-15 8zm-9-12zm-36 16zm-16-3zm-17-5zm0 6zm-12-19zm-2 10zm-10 6zm-20-2zm-9 1zm-7-14zm-6 10zm-17 8zm-3-10zm-15 1zm-4-8zm-5 8zm-14-10zm-3 9zm-7-8zm-1 14zm-11-2zm-5 5zm0-18zm-2 5zm-8 2zm-1 10zm-4-2zm-1-4zm-3-4zm-3 10zm-1-11zm-2 9zm-4-12zm-5 16zm-1-12zm-5-5zm-4 14zm-10-16zm-5 10zm-4 5zm-2-8zm-2 7zm-5-13zm-3 6zm-5-1zm-2 12zm-2-17zm-2 16zm-6-6zm-12 9zm-14 0zm-4-7zm-2-4zm-13 7zm-29 1zm-10-10zm-1 11zm-2-14zm-25 9zm-1 6zm-2-13zm-1 4zm0 5zm-1 10zm4 11zm3-6zm7 9zm2-17zm10 18zm10-8zm4 0zm2 10zm0-15zm4 15zm17-6zm0-12zm7 15zm2-5zm6-10zm1 15zm10-15zm19 11zm1-13zm2 15zm3-12zm2 2zm4 11zm5-8zm12 3zm9 4zm4-5zm3-10zm18 6zm4 4zm8 4zm1 1zm0-13zm5 14zm2-9zm5 2zm3 9zm5-18zm3 3zm5-1zm16 11zm5-1zm2 2zm38-11zm12 17zm0-18zm1-1zm19 16zm20-5zm17 5zm4-7zm5 10zm0-6zm17 1zm6 4zm15-16zm2 12zm2-6zm2-3zm4 15zm35-1zm35-20zm10 3zm22 2zm13-2zm2 12zm-65 24zm-52-5zm-24-10zm-5 1zm-2-3zm-11 3zm-12 0zm-23 16zm-8-17zm-5 18zm-9-3zm-15-1zm-21 2zm-15-6zm-4 8zm-3-17zm-26 8zm-14 0zm-5 8zm-13-1zm0-4zm0-7zm-2-6zm0 4zm-16 7zm-2-5zm-5 2zm-14-7zm-5 11zm0 5zm-6 3zm-3-4zm-3-10zm-6 2zm-1 7zm-1 5zm-7-10zm-2 4zm-3-7zm0-6zm-14 2zm0-4zm-1 11zm-16-11zm0 6zm-13-5zm-4 6zm0 5zm-5 6zm-3-9zm-4 12zm-5 0zm-3-19zm-11 16zm-2-9zm-5 2zm-12-7zm-4 6zm-5 3zm23 20zm0 9zm5 1zm1-14zm7-6zm6 18zm2-8zm2-10zm1 16zm4 0zm6 1zm3-16zm2 12zm6 2zm18-7zm1 11zm6-5zm5-7zm2 13zm7-21zm0 16zm1-5zm3-3zm2 5zm1 8zm3-3zm0-3zm2 6zm2-11zm1-5zm4 11zm6-6zm1-6zm5 12zm7-11zm7 7zm1 9zm4-21zm3 2zm5 6zm2 2zm18-7zm4-1zm6 2zm6 0zm1 5zm4-5zm0 0zm1-1zm9-3zm21 11zm11 8zm8 1zm4-9zm11-3zm8-1zm3 8zm27-10zm8 4zm1-9zm2 14zm17-13zm2 13zm7 4zm24-17zm23 1zm11 13zm9-3zm8 6zm14-5zm13-11zm13 19zm4-19zm-14 21zm-8 5zm-3 14zm-1-13zm-3 12zm-7 0zm-7-16zm-5 18zm-3-5zm-14-10zm-26 0zm-2 6zm-5-3zm-7 10zm-41-4zm-4-6zm-6 8zm-7-9zm-18-8zm-25 4zm-1 5zm-8 3zm-19-11zm-25-1zm-4 7zm-9 8zm-5 1zm-6-3zm0-3zm-2-2zm-3 9zm-2-15zm-5 19zm-2-20zm-8 15zm-5-11zm0 12zm-7-16zm0 13zm-4-8zm-8 5zm-7-5zm-5 2zm-1-8zm-2 4zm-1 5zm-5 1zm-5-8zm-6 12zm-2-10zm-8 14zm-4 1zm-7-11zm-11 5zm-2 7zm-5-3zm-7-9zm-20-6zm-9 6zm-6-6zm-5 0zm-4 0zm-9 13zm-6 6zm7 1zm2 21zm10-4zm10-6zm3-11zm4 19zm9-15zm2 10zm4-7zm2 3zm2 8zm3 3zm4-13zm3 12zm2-19zm6 3zm0-1zm7 13zm4-10zm9 8zm2-7zm1-6zm4 4zm2 14zm0-10zm3-5zm2 12zm2-12zm0 4zm3 5zm1 5zm2-11zm6 8zm13 2zm8-9zm4 12zm3-18zm20 10zm9-10zm1 15zm6-2zm2-14zm18 16zm6-3zm8-7zm1 11zm18-1zm5-6zm25 9zm4-9zm5 3zm23-11zm5 8zm7-2zm6 8zm1-3zm22-8zm6 9zm20-9zm11-3zm2 5zm6 12zm20-9zm8 4zm6-8zm33-1zm55-3zm-48 26zm-3 3zm-50 1zm-6 4zm-15-13zm-11 2zm-6 10zm-11-12zm-4 17zm-2-4zm-11-3zm-4 3zm-19-4zm-1-4zm-3 13zm-1-16zm-9 9zm-29-6zm-8-5zm-5 12zm-43-12zm-18 5zm-6 9zm-13-10zm-6 0zm-7-5zm-6 8zm-5 0zm-1 7zm-2-14zm-4 6zm-19 1zm-2-5zm-4 6zm-14 5zm-4 6zm-1-15zm0-1zm-5-2zm-2 14zm-10-2zm-8-8zm-9 3zm-6 9zm-6 1zm-6-19zm-5 14zm-5-13zm-10 11zm-2-7zm-6 13zm0-4zm-3-4zm-3 7zm0-4zm-3-2zm-3 8zm-3-5zm-10-12zm9 30zm3-7zm2 9zm8-5zm3-6zm11-2zm3 15zm2-4zm16 2zm4-3zm1 4zm3-13zm1 17zm6-16zm3 14zm3 5zm10-9zm5 2zm5 1zm3 2zm6-5zm2 7zm2-18zm1-1zm7 9zm8 7zm0-15zm1 18zm20-6zm3-10zm11 7zm15 1zm13 9zm42-3zm8 1zm5-5zm9 0zm15-1zm7-3zm12-8zm4 19zm16-11zm2 8zm28 4zm13-14zm39-2zm29-2zm5 3zm14 4zm8 7zm3-13zm18 30zm-57 1zm-14-12zm0 2zm-28 14zm-1-6zm0 10zm-11-14zm-7 0zm-41-2zm0-5zm-17 8zm-5-7zm-5 5zm-26 13zm-6-15zm-3 8zm-28 0zm-4-11zm-4 12zm0-13zm-16 4zm-12 1zm-6-4zm-26 17zm-8-3zm-8-10zm-7 16zm-3-16zm-1 7zm-18-6zm-5 2zm-2 13zm-2-14zm-8-1zm-2 12zm-8-6zm-1-1zm-10 3zm-1-6zm-8-4zm-2-3zm-1 20zm-1-4zm0-13zm-4-2zm-3 10zm-15-2zm-8-9zm-12 5zm-3 12zm-4-17zm10 33zm7 4zm10-8zm2 6zm4-6zm2 12zm1-3zm4 4zm2-7zm13-7zm5 1zm7-6zm5 15zm5-17zm6 8zm2 11zm3-4zm4 0zm4-6zm0 8zm9-7zm16 2zm6-1zm3-11zm2 18zm0-8zm23 2zm22-9zm1 15zm0 1zm15 0zm5 2zm7-19zm22 15zm4 1zm9-1zm12-3zm0-2zm6 3zm7-9zm9 13zm21-14zm7 16zm14-18zm8-2zm38 12zm32-11zm3 11zm9-7zm0 3zm8 8zm20-12zm-4 29zm-35 0zm-24-2zm-7 7zm-16-17zm-17 14zm-29-13zm-31 20zm-37-13zm-46-1zm-10 5zm-4 1zm-3-3zm-14 4zm-14-7zm-11 5zm0-6zm-5 0zm-22 8zm-5-8zm0 7zm-12-7zm-2 12zm-14 1zm-4-1zm-7-15zm-10 7zm-8-5zm0-4zm-1 19zm-6-6zm-2-4zm-5-10zm-7 16zm-2 4zm1 19zm4-15zm4 16zm6-16zm3 4zm2-3zm18 6zm9 0zm2-3zm1-4zm1 3zm1 5zm1-9zm1-1zm8 3zm1 6zm4 2zm1-6zm0-5zm4 10zm4 0zm12 0zm15 11zm24-4zm17-7zm2-8zm10 9zm2-5zm28-5zm20 9zm6 6zm3-4zm10 7zm8-1zm8-17zm8 15zm26-11zm18-4zm12 20zm1-10zm29 4zm3-4zm1 1zm19-6zm-12 17zm-28 7zm-5-3zm-18 9zm-2 7zm-17-16zm-22-3zm-33 14zm-5 2zm-3 2zm-12-1zm-21-4zm-1-12zm-38 17zm-1-6zm-3 5zm-8-8zm-13 3zm-1 5zm-8-3zm-12-1zm-6 3zm-1-11zm-15 14zm-12-12zm-1 9zm-5-12zm-2-6zm-4 20zm-2-13zm-1-4zm-12 10zm0-10zm-8 13zm-2-9zm-1 12zm-5-5zm-6 8zm3 6zm5 1zm11 4zm3 9zm3-10zm7 0zm4 9zm7-10zm4 2zm6-11zm0 18zm4-6zm2-10zm6 5zm7 12zm3-17zm6 6zm13 3zm2-3zm14 8zm5 1zm5-1zm3-2zm14-11zm16 0zm23 3zm14-3zm4 15zm4-16zm9 9zm5-9zm7 8zm8-1zm44-8zm11 9zm-40 15zm-10 12zm-1-15zm-4 11zm-8-1zm-35-5zm-5-2zm-8 0zm-42 16zm-59-18zm-1 7zm-25 6zm-2 4zm-20 16zm13-11zm2 15zm60-5zm80 1zm14-2zm78 1zm14-10zm-168 23zm-45 11zm-15 2zm-12 5zm-6-9zm-9 10zm-9-16zm-5 4zm11 21zm12-5zm14 12zm24-6zm11 28zm-4 2zm-16-1zm-15 0zm-8-4zm20 31zm7-10zm32 9zm1 15zm-13 2zm-6 6zm-9-16zm-4-2zm-2 6zm-11-3zm-2-6zm-4 4z"/>
<path stroke="#764E9F" d="m2066 891zm44-6z"/>
<path stroke="#CC61B0" d="m1952 571zm57 22zm41-2zm-67 13zm-74 2zm-58-1zm-33 31zm160-12zm-57 56zm80-3zm61 5zm-19 11zm-30-9zm4 188zm-23-12zm-9 15zm-28-9zm-14 10zm-5 2zm-31 16zm44-8zm15 0zm22 5zm0 3zm15-5zm39 14zm-6 16zm-8-11zm-46-1zm-5 16zm-7-11zm-12-6zm-23 13zm-4-11zm0 4zm-30 7zm-17 16zm17 9zm70-15zm53 21zm-43 6zm-8-4zm-11 1zm-40 2zm16 17zm4 3zm12-6zm5 12zm-1509 68zm-7 33zm-18 51zm1327 162zm33-9zm105 2zm13 4zm28 0zm-27 10zm-15 5zm-78 10zm-7-14zm-13-5zm-44 0zm-3 14zm-63 22zm21-4zm33 1zm30-7zm10 13zm13-9zm55-2zm9 12zm31-8zm55 1zm-1 16zm-8 10zm-51-15zm-12 4zm-488 23zm266-1zm75-2zm64-1zm86 14zm48-11zm11 17zm-73 2zm-193 7zm-90 12zm-12-10zm-46-4zm-27 9zm-534 5zm-6-2zm-6-3zm-8 4zm-2-10zm-6 7zm0 4zm-68 22zm24 0zm3-5zm8-3zm3-11zm2 17zm4-3zm4-10zm2 12zm11-7zm4-9zm13 13zm2 0zm1-13zm2 13zm1-8zm1 11zm1-4zm4 2zm5-7zm558 11zm40-1zm18-8zm8-9zm19 16zm26-16zm29 3zm197-2zm10 19zm94 9zm-25-2zm-92-4zm-55 11zm-165-4zm-14 8zm0-1zm-8-15zm-6 11zm-9 6zm-7-9zm0 7zm-19-13zm-25 13zm-57-13zm-9 5zm-104 1zm-23 4zm-89 1zm-2 5zm-1 2zm-3-3zm-3-7zm-4 4zm-11 1zm-27-1zm-251-15zm-6 1zm-2 10zm0 2zm-2-4zm-16 10zm-9-18zm-5 16zm-4-15zm-2 19zm-1-10zm-2 8zm-7-10zm-4 8zm0-7zm-4-10zm-6 7zm-2 3zm-5 8zm-10-5zm-3 0zm-3-2zm-12 9zm-89 22zm9-1zm13-3zm8 0zm29-3zm1-4zm8 8zm3 3zm6-10zm14 2zm0 9zm0-5zm4 5zm3-14zm8 9zm2-3zm8-2zm15 5zm2-3zm2-2zm4 6zm4-4zm6-6zm10 8zm3-5zm4 5zm8 1zm9-12zm11 5zm6 6zm39-13zm126 15zm11 4zm2-6zm7 2zm37-17zm12 18zm16-4zm0 6zm4-11zm0-6zm0 11zm3-10zm2 11zm5-8zm2-4zm23-2zm5 11zm0 6zm4 0zm13-6zm77-12zm17 16zm78-3zm13 3zm21 4zm33-19zm10 4zm33 7zm11-8zm8 4zm17 1zm5-8zm14 14zm27 6zm19-21zm18 1zm39 1zm94 0zm9 1zm4 6zm47 12zm1-11zm38-6zm29 31zm-156-3zm-185 10zm-44-6zm-76 6zm-167-17zm-3 13zm-30-1zm-15 0zm-11-13zm-11 14zm-9-7zm0-9zm-7 21zm0-20zm-2 14zm-4-3zm-12-5zm-5 3zm-3-10zm-1 11zm0 7zm-1 3zm-5-7zm-2 2zm-8-7zm-7-4zm-5 11zm-12-3zm-5 8zm-3-6zm-1-4zm-2 2zm-2-10zm-3 13zm-2-12zm-6 12zm0-2zm-1-4zm-5-10zm0 20zm0-20zm-3 3zm-7 13zm-4 5zm-3-3zm-78-1zm-21-2zm-11 2zm-3-14zm-2 4zm-7 9zm-1-5zm-10 0zm0-9zm-2 3zm-25 5zm-12-6zm-26 9zm-8 6zm0-14zm-12 5zm0-9zm-12 4zm-3 7zm0-3zm-3-9zm-8 11zm-19 0zm-2 10zm-1-19zm-3 6zm-1-5zm-3 13zm-2-5zm-6-5zm-8 13zm-2-6zm-9-9zm-1 13zm-7-1zm-2-14zm-5 1zm-4 3zm0-3zm-15 18zm-6-3zm-1-3zm-3-9zm-2 12zm-6-3zm-12-1zm-1 4zm-19-9zm0 16zm4-3zm2 4zm9 13zm7 2zm0-9zm2-4zm6 15zm2-10zm4 5zm7-16zm0 6zm0 4zm4 3zm4 2zm8-11zm3 16zm5-15zm3-4zm2 9zm6-5zm8 4zm2-4zm2 2zm3 9zm4 4zm0-18zm3 17zm2-15zm7 9zm2-13zm3 2zm4 1zm4 6zm1-5zm1-4zm9 0zm0 20zm3-12zm5 3zm7-4zm1 4zm18-10zm7 12zm5-8zm4 7zm1-8zm7 1zm22 5zm6 10zm1-16zm10 13zm2-14zm10 11zm15 4zm26-10zm4 13zm4-7zm21 1zm14 4zm0-8zm5-9zm23 7zm11 12zm2-14zm2 4zm19 3zm0-1zm2-10zm5 14zm4-11zm1 13zm18-5zm10-5zm6 0zm2 2zm2-11zm4 17zm8-5zm1 4zm3-3zm2-6zm3 9zm0-14zm5 6zm0-7zm11 16zm5-14zm7 2zm2 15zm5-13zm2 14zm0-18zm1 7zm6 7zm1-10zm1-7zm10 0zm0 7zm73-7zm9 13zm149-8zm126 13zm25 1zm33-12zm279-7zm5 14zm-7 14zm-122 12zm-52-5zm-299-11zm-44 0zm-87 11zm-2 5zm-11-17zm-60-1zm-38 6zm-9 13zm-1-15zm-4 3zm-12 12zm-4-10zm-2-8zm-3 16zm-20-14zm-8 4zm-1 11zm-9-10zm0 7zm-3-7zm-2 8zm-6 2zm-1-14zm-1-4zm-1 11zm-1-7zm-5 3zm-4 8zm-3-1zm-1-8zm0 5zm-4-1zm-1 11zm-8-17zm-4 9zm-1 4zm0-10zm-11-5zm0 8zm-1 10zm-3-8zm-6-2zm-8-7zm-6 11zm-4-6zm-11-5zm-13 18zm0-7zm-6-11zm-5 7zm-6 3zm-5 5zm-7-17zm-3 10zm-8-4zm-12 3zm-2-4zm-4 9zm-8-12zm-10 6zm-6 8zm-3-14zm-6 17zm-8-11zm-5 9zm-7-9zm-5 7zm-7 2zm-6-1zm-6-2zm-4 2zm-16-12zm-9-3zm0 8zm-2-6zm-2 12zm-6 3zm-9-19zm-2 17zm-2-15zm-2 10zm-6-1zm-2-10zm-2 12zm-4-13zm-1 20zm-1-16zm-3-4zm-4 18zm-8 2zm-1-6zm-2-13zm-1 9zm-7 4zm-1-4zm-9 1zm-7-4zm-1 0zm-1-6zm0 11zm-4-2zm-7 1zm-3-5zm-11 14zm-5-14zm-1-3zm-8 3zm-2 12zm-12-14zm17 18zm3 4zm16-2zm3-1zm4 4zm9 6zm3-4zm3-2zm0 11zm10-1zm1-9zm3 13zm1-6zm0-8zm1 4zm1-4zm1 5zm8-10zm0 1zm2 11zm9-5zm2 2zm2-4zm4 1zm1 12zm2-10zm2-4zm1 12zm3-16zm7 0zm6 9zm9 3zm10-12zm2 7zm3 0zm2-4zm10 8zm6-5zm2 9zm2 6zm18-12zm1-6zm3 11zm6-1zm2-11zm11 11zm2-3zm3-2zm12-6zm4-2zm1 7zm13 1zm1 9zm8-10zm3 13zm9-7zm9-12zm4 18zm6-17zm3 2zm9-3zm2 6zm3 5zm4-1zm30 6zm19-5zm0-5zm2-5zm2 3zm2 4zm2-5zm2 11zm3-15zm0 16zm4-4zm2 0zm11-6zm3-5zm0 19zm4-7zm5-6zm3 4zm17 9zm1-8zm1 3zm4-4zm5-1zm1-4zm3 15zm7-13zm4-1zm14 3zm22 2zm290-10zm40 10zm139 9zm11-18zm34 15zm90-15zm69 14zm17 3zm41-15zm-125 28zm-124-10zm-21 6zm-95-6zm-26 7zm-73 8zm-18-5zm-80 3zm-46-10zm-42 6zm-10-9zm-13 11zm-20 5zm-8-16zm-39 1zm-7 3zm-1 9zm-1-6zm-10 7zm-5 5zm-10-18zm-4 11zm-7-1zm-2-12zm-1 17zm-1-5zm-8-6zm-5 8zm0-14zm0 20zm-2-1zm0-13zm-2 8zm-1-10zm-3 1zm-1 7zm-14-6zm-9 5zm0-4zm-4 2zm-1-3zm-6 3zm-6-8zm-2 7zm-3 13zm-5-7zm-2-9zm-3 8zm-7 7zm-2-11zm-12-7zm-12 16zm-17-7zm-10 7zm-6-3zm-46-15zm-4 21zm-8-11zm-2 5zm-2 1zm-12 4zm-12-12zm-20 11zm-7-18zm-8 7zm-2 10zm0-2zm-3 1zm0-6zm-3 0zm-1-5zm-7 11zm-2-12zm-4 6zm-7-8zm-23-3zm-1 17zm-10-15zm-7 14zm-17 5zm-6-5zm-3-12zm-4 3zm-3-5zm-20 31zm4-1zm6-9zm8 1zm30 7zm14 3zm13 6zm9-12zm2-4zm2 3zm4-3zm4 7zm6 6zm0-4zm2-10zm3 6zm2 12zm4-5zm1-5zm7-7zm6 5zm1 12zm0-18zm8 18zm7 2zm1-13zm2 4zm3-12zm13 8zm8 12zm0-14zm34-6zm1 8zm0 11zm15-9zm7-9zm7 6zm7 8zm6-4zm30-6zm25 8zm4 3zm1-6zm13 3zm11-12zm5 6zm5-2zm4 10zm2-13zm1 8zm4-4zm3 2zm5 1zm9 1zm3-9zm4 12zm1-4zm8-8zm9 9zm2-5zm21 3zm2 3zm37-8zm57 11zm32 4zm35-18zm303 17zm482-4zm32 6zm70 1zm-6 11zm-14 0zm-10-4zm-38-1zm-574 17zm-92-20zm-54 3zm-109 10zm-79-3zm-39-4zm-25 3zm-7 2zm-5-2zm-5 3zm-3 5zm-11-2zm-9 0zm-14-14zm-10 10zm-8 9zm-5-13zm0-6zm-4 6zm-8 3zm-7 3zm-8-9zm-16 15zm-7 1zm-2-19zm-17 3zm-16 12zm-2-8zm-3 9zm-10 2zm-5-8zm-6 7zm-11-13zm-2-4zm-5 1zm-3 12zm-8-1zm0-6zm-8-3zm-1 11zm0-5zm-5 9zm-4-4zm-22-1zm-17-10zm-8 4zm-1 5zm-17 4zm-4-17zm-16 18zm-34-19zm-27 16zm-11-15zm-13 34zm2 6zm2-3zm3-11zm17 1zm3-4zm46 18zm4-11zm2 11zm19-7zm3-3zm17-3zm5 0zm23 14zm15-14zm6-5zm8 10zm1-5zm9 4zm2 9zm1-18zm5 13zm5-7zm1 7zm27-11zm30 4zm3 7zm3-12zm9 10zm8 3zm8 0zm6-2zm1-14zm3 20zm4-10zm5 7zm2 4zm0-13zm6 8zm12 3zm1-13zm2 11zm3-10zm7 10zm2 3zm17-13zm3 10zm3-8zm2 8zm7-10zm0-7zm3 4zm1-3zm4 20zm5-20zm5 8zm3 10zm7-6zm3 7zm2-9zm2-4zm17-5zm11 4zm7-2zm41 11zm36-9zm107 8zm32-9zm100 0zm1 12zm104-3zm4-14zm7 12zm15-1zm57-11zm76 16zm5-15zm-48 38zm-218-15zm-74 19zm-92-8zm-36-2zm-55 10zm-2-13zm-6 10zm-22 3zm-56-6zm-5-2zm-6 8zm-7-4zm-3 1zm-2-16zm-7 14zm-5 3zm-4 1zm-2-16zm-14 4zm-21 0zm-1 6zm-6 2zm-7-10zm-3 12zm-3-17zm-1 12zm-3 4zm-4-7zm0-7zm0 13zm-4-5zm0-3zm-8 10zm-3-1zm-24-17zm0 7zm-14 14zm-5-17zm-3-2zm-5 6zm-3-2zm-23 11zm-2-3zm-3-4zm0-8zm-1 14zm-5-1zm0-14zm-1 9zm-1 10zm-20 0zm0-17zm-1-2zm-2 5zm-2 9zm-10-9zm-6 6zm-2 8zm-4-17zm-4 8zm-6-4zm-2-6zm0 16zm-1-6zm-5-7zm-4 12zm-13-8zm-3-4zm-11 15zm-4-12zm-34 6zm-45 6zm-5-18zm-10 6zm-22 2zm-2-5zm-1 31zm24-10zm8-2zm22 16zm10-16zm12 15zm1-12zm4 14zm3-7zm9 9zm1-19zm8 15zm1 5zm7-7zm2-3zm13 2zm0-3zm17-6zm7 2zm0 15zm3-7zm1 6zm3-5zm3-3zm6-6zm8 10zm3 5zm2-18zm2 15zm0-3zm3 6zm3-20zm2 17zm4-4zm16-14zm9 20zm0-16zm11 15zm0 2zm6-20zm9 16zm7-5zm7-7zm2 12zm2-10zm10 0zm12 0zm5 1zm6 3zm6 4zm7 3zm12-13zm4 13zm2-13zm3-2zm2-3zm34 14zm14-9zm6-3zm10 9zm3-5zm1 12zm6 0zm5-15zm13 3zm8-3zm51 8zm206-8zm117 1zm23 9zm52-3zm63-2zm11 2zm-283 22zm-161 3zm-75-12zm-3 16zm-6-11zm-12 4zm-8 11zm-1-5zm-1-6zm-18 4zm-5-13zm-3 2zm-5 11zm-10-12zm-12 10zm-4 8zm-1-18zm-3 3zm-7 12zm-1-3zm-15-5zm-4-9zm-3 4zm-1 7zm-22 4zm-1 3zm-16-4zm-1-7zm-8 5zm-1-12zm-2 3zm-2 17zm-2-16zm-4-3zm-19 4zm-4-5zm-6 19zm0-11zm-5 12zm-14-14zm-3 4zm-3-7zm-1 14zm0-4zm-1-10zm-9 12zm-8 5zm-3-3zm-1-5zm-3 7zm-1-5zm-1-12zm0 8zm-6 9zm-5-13zm-4 10zm-2 3zm-11 0zm-2-19zm-1 13zm-3-10zm-2 18zm-2-15zm-2 10zm-6-10zm-3 7zm-4 7zm-2-19zm-13 2zm-3 2zm-4 12zm-3-12zm-1 5zm-10-3zm-1 7zm0-4zm-2-5zm-2-3zm-9 16zm-1-17zm-1 17zm-1 2zm-8-10zm-4-4zm-14-5zm-7 13zm-6 1zm-1-15zm-2 17zm-9 1zm-2-18zm-8 0zm-9 37zm2 4zm1-7zm1-8zm2-2zm0 7zm4 8zm1-8zm0-5zm3 13zm3-12zm8 3zm12 10zm1-11zm4-4zm3 6zm3-5zm4-1zm10 12zm1-14zm1 5zm7 13zm2-8zm2 10zm16-12zm1-7zm1 8zm3-2zm0 4zm4 4zm1-13zm1 6zm1 7zm12-1zm5 2zm6 2zm2-8zm1 6zm10 4zm1-17zm2 7zm4-2zm3 11zm3-3zm2-12zm2 8zm4-2zm2-4zm2 11zm4-4zm4-8zm1-3zm1 15zm0-9zm2 8zm5-11zm1 14zm4-6zm4-11zm4 13zm3-9zm1 11zm4-15zm9 2zm3 2zm1-1zm7 8zm1 4zm1 3zm17-5zm1-4zm3 3zm3-7zm2-4zm0 16zm1-20zm2 12zm4-6zm6 11zm3-3zm4 3zm15-5zm5 9zm12-8zm6 2zm6-3zm11-11zm1 8zm6 3zm7-3zm7 8zm1-11zm8-5zm18 1zm14 12zm11 4zm1-10zm9 9zm7-9zm15-1zm2-3zm10 6zm2 29zm-4-8zm-5 12zm-1-14zm-4-7zm-5 4zm-6 12zm-12-3zm-4-1zm-7 9zm-4-1zm-5-7zm-4-12zm-1 5zm-32 0zm-13 7zm-15-11zm0 9zm-24 3zm-1 6zm-11-14zm-3 12zm-13-13zm-2 16zm-7-11zm-4-2zm-14 4zm-1-5zm-8-2zm-8-3zm-7 2zm-6 0zm-9 11zm-8-3zm-1 8zm-2-5zm-8-15zm-12 21zm0-6zm-10 5zm-14-16zm-3 6zm-1 2zm-2-7zm-3 0zm0 11zm-3-5zm-3-7zm-1-4zm-2 21zm-14-19zm-1 12zm-6 6zm-3-19zm0 11zm-17 0zm-5 1zm-4-13zm-2 4zm-8 17zm-4-5zm-1-7zm-7 12zm-9-12zm-2-5zm-3 2zm-4 0zm-4 0zm-7-3zm-1 10zm-1 4zm-4 3zm-3-19zm-3 9zm-3 5zm-7-15zm-11 12zm-2-3zm-8-9zm-2 2zm-1 7zm0-6zm-1 25zm9 8zm3-12zm0 14zm11-12zm0-4zm2 13zm4-13zm0 9zm18-6zm3 3zm5 13zm0-1zm1-10zm10-5zm4-1zm7 13zm4 5zm13-17zm3 2zm3 13zm8-18zm5 15zm3 3zm11 0zm6-4zm10 6zm13-20zm20 10zm2-8zm4 1zm1 16zm21-7zm10 9zm8-10zm3 4zm0 6zm0-14zm0 1zm3-4zm1 6zm8-1zm4 9zm22 1zm8-6zm2 6zm2-15zm2 16zm1-9zm5-1zm3-7zm9 6zm3-8zm9 20zm5-12zm21-4zm2 13zm4-16zm2 16zm19-15zm25 10zm17-10zm2 18zm3-14zm4 5zm1-3zm17 12zm12-21zm10 13zm-44 18zm-11-2zm-8-3zm-13-2zm-6 19zm-16-21zm-18 6zm-7-2zm-1-4zm-4 13zm-23 5zm-2-6zm0 3zm-1-10zm-6-4zm-8 3zm-4 15zm-6-12zm-2 9zm-1-6zm-5-4zm-6 5zm-61-5zm-21 5zm0-9zm-1 9zm-3 3zm-2-6zm-14 2zm-11 4zm-26-6zm-13-4zm-10 5zm-41-8zm77 22zm20 12zm23-10zm13-3zm20 12zm17-9zm18 0zm8 1zm3-3zm6 3zm3 3zm3-6zm3 6zm31 1zm301 408zm91-4zm148 18zm-49-10zm-4 4zm-191 8zm50 13zm137-4zm92 12zm-135 12zm27 26zm70 16zm-80 0zm-127 19zm89 12zm34 13z"/>
<path stroke="#52BCA3" d="m1330 1287zm15 32zm-162 9zm191 1zm51 9zm-19 23zm-52-10zm-25-6zm-3 2zm25 26zm78 28zm-20-9zm-53 24zm8 9zm70-6zm-109 19zm-15 3zm72 12zm45 35zm-44 0zm-42-7zm-6 11zm-75 15zm122 7zm56 3zm-133 47zm26 57zm-51-8zm24 17zm14 10zm32-5zm25 2zm45 5zm9-9zm290 38zm-87 0zm-215-12zm-8-4zm-11 4zm-40 9zm-32 2zm-12-6zm-44-11zm-50 36zm43-11zm41 10zm5-4zm6 1zm22-11zm17 10zm12-7zm24 16zm17-14zm26 3zm9 11zm197-6zm9 4zm2-2zm13-2zm14 2zm4 4zm8 0zm8-18zm8 0zm17 5zm21-2zm12 4zm200-4zm1 15zm-6 2zm-183 0zm-18 9zm-4-3zm0 5zm-6 4zm-2-10zm-1 7zm-4-13zm0 21zm-2-15zm-12 7zm-3-9zm-4-1zm-16 18zm-5-16zm-6 5zm0 4zm0-8zm0 8zm-8 2zm-6-3zm-11 6zm-3-7zm-2-12zm-2 5zm-27 6zm-2-10zm-28 1zm-22 10zm-14 9zm-17-8zm-141-5zm-6-2zm-10 15zm-18-2zm-5-5zm-104 3zm-5 0zm-12-5zm-32-1zm-43 32zm12-11zm23 5zm9-14zm4 4zm98-1zm44 14zm27-8zm27 2zm74 9zm4-2zm25-12zm18 12zm4-9zm4 4zm0-9zm1 14zm2-9zm0 3zm16 0zm7-5zm4-7zm1 11zm18-10zm3 9zm30 1zm7-12zm28 2zm2 6zm1 7zm22-13zm5 3zm5 1zm10 3zm7-3zm4 3zm8 12zm6-20zm20 1zm15 3zm8 34zm-23-7zm-13 9zm-4-1zm-16 2zm-5-9zm-4 0zm-2 1zm-3 2zm-38 1zm-8-3zm-12 8zm-11-7zm-1-11zm-2 18zm-8-10zm-1 7zm-1-15zm-3 12zm-22-2zm-3-7zm-14-5zm-8 0zm-20 16zm0-7zm-2 12zm-3-10zm-16 2zm-9-2zm-6 6zm-5 4zm-19-5zm-8 1zm-3-8zm-21 10zm-19-18zm-2 8zm-2 12zm-28-7zm-28-12zm-6 12zm-51-10zm-110 8zm-49-9zm-8 0zm-46 3zm-79 8zm-11-10zm-13-3zm22 39zm15-3zm65 5zm34-18zm2 15zm20 2zm3-12zm62 3zm62 8zm116-15zm9 11zm3-5zm4-4zm7-1zm3 14zm1-6zm8 1zm1 1zm2-6zm6 3zm2 4zm14-11zm7 16zm2-1zm13-16zm8-2zm13 15zm20-7zm5 4zm1-1zm5-11zm4 18zm5-6zm1 4zm5 3zm13-1zm8-8zm4 5zm16-1zm12 5zm3-6zm6-5zm3-2zm5 14zm9 0zm2-11zm39 2zm9-10zm1 0zm23 15zm8 3zm5-3zm17-12zm8-5zm3 4zm3 15zm4-7zm3-12zm3 32zm-23 5zm-4-15zm-10 5zm-3 14zm-4 2zm-14 0zm-1-7zm-1-6zm-7 12zm-3-4zm-1-13zm-5 18zm-6-2zm-4-12zm-10-4zm-4 11zm-3 6zm-5-20zm-11 15zm-9-12zm-2 9zm-1 4zm-22 3zm-1-6zm-5-7zm-5-6zm-34 2zm-2 9zm-12 8zm-5-11zm-10 2zm-7 2zm-2 3zm-2-10zm-8 6zm-1 4zm-9-14zm-6-1zm-21 9zm-3 5zm-7-11zm-5 10zm-24 5zm-7-16zm-12 8zm-12-10zm-26 13zm-16-3zm-131-6zm-13 16zm-75-15zm-25 1zm-30 3zm-4-6zm-49-2zm-8 11zm38 12zm21-1zm7 19zm137-12zm26 6zm1-12zm27 19zm2-8zm17 2zm5 1zm3-7zm18 0zm2 3zm0 4zm21 2zm4 1zm1-9zm2-6zm6 15zm7-7zm15 1zm3 5zm1-13zm3-4zm0 9zm2-4zm17 15zm3-3zm2-18zm7 4zm0 11zm0 5zm12-2zm5-9zm4 2zm1-10zm16 17zm3-15zm12 10zm4 4zm15-14zm28 17zm33-1zm15-13zm3 5zm6 4zm1 5zm5-17zm3 14zm16-6zm7 6zm4 1zm1-9zm16-6zm8 11zm3 6zm14-5zm3 2zm6-13zm4-3zm1 8zm9 9zm5 1zm7 2zm1-9zm5 4zm3-12zm2 3zm15 10zm3 2zm6-12zm10 31zm-13-13zm0 5zm-11 3zm-24-7zm-4 6zm-2-10zm-4 3zm-3 11zm-6-13zm-5 11zm-1 8zm-3-11zm-3-3zm-2 7zm0 6zm-5-2zm-12 3zm-10-14zm-1 14zm0-5zm-10-8zm-5 9zm-4 4zm-5-17zm-2 9zm-6 7zm-5-2zm-2-14zm-1 16zm-1-13zm-2 13zm-6-18zm-1 20zm-3-14zm0-4zm-1 13zm-12-15zm-1 14zm0 4zm-10 2zm-33-12zm-4-2zm-3 7zm-7-9zm-8 16zm-4-8zm-13 4zm0-12zm-6 2zm-26 7zm-4 4zm-5-17zm-4 7zm-13 2zm0 9zm-6 0zm0-17zm-7 12zm-2-9zm-30 0zm0 5zm-4 10zm0-14zm-2-4zm-9 5zm-5 6zm-18 2zm-1-13zm-20 13zm-1-12zm0 15zm-3-8zm-5 7zm-15-8zm-50 6zm-6 0zm-15-6zm-107 33zm5-9zm15 5zm47-13zm62 9zm1 4zm15-7zm1 8zm2-11zm3 4zm7 1zm2-4zm10-6zm27 2zm2 16zm23-4zm8 5zm6 1zm7-14zm16-2zm4 2zm4-6zm1 8zm18 7zm2-9zm3-1zm10 14zm6-9zm0-6zm0 13zm5-2zm23-1zm5-14zm6 13zm11 6zm5-10zm8-5zm1-4zm5 1zm1 17zm5-1zm11-12zm1-5zm11 2zm1 14zm10-15zm2 6zm8 6zm0 6zm2-7zm4 3zm1-5zm1 9zm0-18zm6-2zm8 12zm7 5zm2-15zm10-2zm2 14zm1 6zm5-6zm3-5zm1 4zm21 2zm1-11zm9 4zm4 2zm7 2zm0 6zm1 1zm4-5zm6-11zm2 10zm4 0zm4-4zm11-5zm3-2zm3 10zm12-5zm3-4zm0 14zm6-16zm6 4zm1 5zm3-2zm1-6zm5 12zm1 7zm5-11zm2 11zm18-6zm-18 15zm0 8zm-12-6zm-2-2zm-10-5zm-6 1zm-5 12zm-1-7zm-6 11zm-2-5zm-17-9zm-3 0zm0 7zm-4-12zm0 18zm-4-13zm-6 15zm-1-15zm0-2zm-3 4zm-1 11zm-19-11zm-5 10zm-16-5zm-2 4zm-8 4zm0-6zm-1-12zm-4 18zm-1-18zm-5-1zm0 12zm-7-14zm-3 16zm-3-2zm-4-11zm-3 9zm-3 8zm-5-7zm-1-11zm-1 4zm-9 12zm-6-15zm-17 4zm-8 11zm-3-4zm-6-3zm-5 3zm-3 7zm-13-14zm-2 0zm-2 9zm-3 5zm-7-20zm-1 13zm-15 3zm-2-12zm-1 11zm-4-12zm-5 11zm-4-14zm-10 18zm-7 2zm-2-18zm-1 15zm-6-4zm-3 5zm-13-12zm-3 11zm-6-6zm-2 7zm-1-16zm-2 13zm-10-6zm-4 0zm-6-3zm-8 6zm-4-13zm-15 7zm-9 12zm-9-7zm-2-1zm-3 7zm-1-5zm-13-12zm-6 0zm-3 1zm-14 7zm-12 2zm-9-5zm-3 6zm-5-4zm-14 0zm-7 1zm-1 8zm-11 3zm-2-3zm-92-5zm-43 10zm32 16zm7-13zm23 17zm39-1zm5 1zm12 1zm9-8zm1 5zm3 3zm20-8zm1 4zm4 0zm1-12zm3 12zm7-11zm3 12zm0-4zm1-4zm3-4zm2-1zm10 10zm3-14zm6 8zm14-9zm5 10zm3 6zm1-6zm7-5zm14-2zm0 14zm3 2zm4-3zm3-5zm3 2zm11-2zm18-1zm1 7zm10 2zm1-3zm4-1zm1-6zm3 0zm5-2zm2 10zm11-12zm4 7zm2 7zm1-16zm5 3zm7 0zm2 3zm9 11zm0-5zm7 3zm6-7zm17 9zm4-10zm8 5zm6-8zm12-4zm5 5zm3 6zm6-9zm5 8zm12 6zm3-4zm3-4zm2-7zm2 8zm2-9zm11 3zm3-3zm2 4zm6-6zm3 4zm4 14zm1-11zm3 7zm2 6zm4-19zm9 17zm10-19zm1 6zm1 10zm7-11zm2-4zm1 9zm9 2zm0-4zm3-6zm8 19zm2-8zm8 7zm4-10zm4 5zm23 6zm4-21zm4 5zm4 13zm6 0zm1-18zm3 16zm4 3zm1-3zm5-9zm2 4zm1-5zm14 5zm6-11zm8 16zm3 21zm0-13zm-5-1zm-13 8zm-4 2zm-6-7zm-4 14zm-12-1zm-2 4zm-1-8zm-5-2zm-4-3zm-13-8zm-6 0zm0 6zm0 14zm-2-6zm-1-11zm-6 17zm-4-19zm-1 5zm-2 7zm-3 4zm-7 3zm-3-7zm-15 4zm-16-11zm-1 13zm-9 2zm-11-2zm-2-19zm-2 16zm-1-3zm-3 6zm-5-4zm-8 3zm-3-16zm-5 4zm0 4zm-6 7zm-5-2zm-5-1zm-1 4zm-6-16zm-4 19zm-1-21zm-3 13zm-2-7zm-9 4zm-3-4zm-1-3zm-4 4zm-2 4zm-4 1zm0-8zm-1 17zm-3-21zm-21 11zm-7-11zm-1 5zm-2-3zm-5 18zm0-11zm-3 2zm-2 4zm-2-14zm-2 20zm-4-18zm-2-3zm-3 16zm-6-4zm-3-8zm-1 15zm-7 2zm0-12zm-10-4zm-8-5zm-7 0zm-13 0zm-6 2zm-3 14zm-5-7zm0-5zm-4 8zm0 5zm-3-3zm-1-4zm-1 11zm-7-20zm-2 9zm0-8zm-6 14zm-13-16zm-1 4zm-5-1zm-12 11zm-5-5zm-1-6zm-5 16zm-1-10zm-2 5zm-8-9zm-1 16zm-7-13zm-10 9zm-10 4zm-17-17zm-3 8zm-5-12zm-5 7zm-2 3zm-1 11zm-2-6zm-8-11zm0 9zm-22-9zm-3 3zm-1 8zm-10 1zm-6-9zm-4 0zm-65-5zm6 24zm38-3zm12 16zm3-16zm1 5zm6 13zm10-19zm3 7zm5 9zm10-4zm19 6zm9-9zm4-2zm1 4zm0 5zm1-15zm1 18zm6-15zm8 14zm19-9zm8 12zm10-9zm3-10zm3 10zm4 2zm5 7zm5-9zm3-7zm0 14zm3-9zm3 11zm2-7zm4 2zm1-14zm8 1zm1 15zm0-18zm16 15zm1-6zm5-9zm5 8zm7-2zm1 8zm2 7zm0-13zm1 4zm5-9zm2 10zm1-6zm8 0zm0 3zm1 8zm2 0zm11-10zm5-1zm4-6zm1 16zm2-7zm3-4zm7-2zm2 14zm2-6zm6-5zm6 7zm4-6zm5 4zm5-3zm11 5zm9-14zm1 9zm8 8zm5 3zm9-11zm6-5zm2 12zm17-13zm15 8zm7 4zm0 5zm5-13zm3 11zm11-4zm1-10zm10-2zm3 13zm9-13zm21 18zm5-16zm11 3zm4 11zm8-13zm1-5zm12 7zm10 2zm1-5zm1 13zm7-2zm0-12zm9 4zm3 12zm5-10zm2 7zm2-13zm5 8zm3 6zm10 1zm4-13zm12 9zm0-11zm1 16zm-1 8zm-9 9zm-6-3zm-4 6zm-4-5zm-3 7zm-1-10zm-7-9zm-8 5zm-5-4zm-3 15zm-10-7zm-4 2zm-7-3zm-7 4zm-3-11zm-1 6zm-13 4zm-3-3zm-2 7zm-1-12zm-6 7zm-15 1zm-9-3zm-12-7zm-4 8zm-1 8zm-2-7zm-4 1zm-1 1zm-4 6zm-2-16zm-7 17zm-3-19zm-5 1zm-2 13zm-1-7zm-9-4zm-2 7zm-4 2zm-6-1zm-3-7zm-4 9zm-4-13zm-3 13zm-6-7zm-5-6zm-17 10zm-4-3zm-4 6zm-3-8zm-5 13zm-5-9zm-11-3zm-9-6zm-1 12zm-6-8zm-11-4zm0 11zm-2 9zm-2-20zm-1 7zm-1 6zm-8-4zm-4 1zm-1-4zm-17 15zm-1-6zm0-12zm-25 10zm-3 8zm-2-13zm-10-7zm0 10zm-2 6zm-4-12zm-11 16zm-5-8zm-6 5zm-6-8zm-6-1zm-2 7zm-10-8zm-3-7zm0 10zm-7 1zm-9-12zm-5 6zm-2 4zm-1 4zm-2-13zm-1 8zm-15 10zm-13-10zm-2-6zm-1-3zm-1 15zm-4 2zm-8-11zm-1 11zm-7-17zm-5 17zm-4 2zm0-11zm-7-8zm-2 3zm-1 10zm-4 2zm-17 2zm-2-3zm-5 5zm-1-19zm-3 9zm-11-5zm0 10zm-5-7zm-3-7zm-7 19zm-11 8zm17 15zm1-14zm2 13zm4-14zm7-5zm2 20zm7-7zm5 4zm7-1zm4-16zm5 11zm12-10zm2 20zm0-7zm6-3zm4 6zm2-9zm13-3zm3 6zm14-11zm17 13zm4-2zm9-9zm14 10zm15-2zm8 8zm3-3zm11 6zm11-10zm2-11zm5 3zm2 5zm0 5zm5-3zm10-1zm1 6zm4 6zm6-18zm9 1zm11 17zm13 0zm10-17zm3 3zm9 6zm1 7zm3-8zm11-2zm10 0zm7 8zm5-18zm9 16zm5 3zm9-16zm7-2zm7 19zm6-17zm2 15zm1-6zm0-5zm6-5zm10 6zm15-1zm0-6zm5 1zm5 18zm3-1zm5-1zm3-4zm4 2zm7 4zm0-19zm4 18zm2-19zm3 14zm4-14zm1 9zm1 10zm4-7zm1 7zm1-3zm9-6zm7-2zm4-2zm3-2zm1-4zm8 2zm24 3zm1-4zm0 15zm4-16zm5 4zm7 16zm1-12zm10 4zm4 0zm0-11zm0 15zm4 1zm0-15zm4 6zm1-3zm5-3zm4 2zm2 14zm1-3zm2-11zm5 15zm0-19zm1 12zm8-2zm3-8zm11 9zm-11 18zm-2-3zm-8 6zm-3 7zm-5-11zm-1 13zm-1-10zm-3-3zm-1 13zm-5-6zm-4-5zm-1-6zm-3 18zm-9-6zm-4-3zm-4-8zm-5 7zm0 9zm-18-2zm0-5zm-5-3zm-20-6zm-1 8zm-1-7zm-4 6zm-1 11zm-6-19zm0 13zm-6-1zm-3-2zm-1-12zm-11 3zm-2 17zm0-14zm-5 15zm-10-1zm-2-19zm-12 11zm-5-8zm-4 10zm-6-3zm-4 9zm-17-6zm-7-10zm-7 17zm-1-13zm-6-4zm-4 14zm-7-5zm0 6zm-11-11zm-2 7zm-7 0zm-4-3zm-7 5zm-1-13zm-3 7zm-12-2zm-1-5zm-3 2zm-6 15zm0-6zm-5-3zm-4-12zm-1 6zm-2 6zm-6-6zm0-3zm0 15zm-4-13zm-7 12zm-6 4zm-1-10zm-1-3zm-7 11zm-1-14zm-4 0zm-16 11zm-3-8zm0-8zm-4 12zm-1 3zm-2-7zm-2 6zm0 3zm-15-9zm-5 7zm-4-10zm-12-4zm0 6zm-4 11zm0-8zm-3-6zm-5 8zm-3 3zm0-15zm0 5zm-3 7zm-11-8zm0 12zm-11-13zm-15 8zm-2-4zm-8 11zm-1-5zm-3 7zm-1-20zm-8 7zm-14-4zm-1 8zm-5-5zm-5 15zm-4-8zm-7-10zm-3 16zm-6-8zm-10 2zm-1 8zm-12-7zm-8 7zm-1-17zm-1 2zm-4 15zm-4-14zm-6 13zm-3-3zm-2-5zm-5-12zm-1 8zm-8 1zm-3 9zm-10-11zm-19 36zm24-15zm0 7zm4 1zm1 5zm20-9zm1 3zm2-6zm6 6zm5-11zm1 13zm5-1zm0-9zm2 7zm1 8zm3-3zm4-4zm14 4zm1-9zm1-3zm1-5zm7 8zm0-5zm3 18zm0-15zm6-3zm1 15zm4-14zm4 11zm4-2zm5 3zm4-6zm0-8zm5 2zm4 9zm0 6zm7-10zm1 3zm0 8zm10-13zm1 11zm2-14zm5 10zm5 5zm8-1zm3-12zm0 7zm2-3zm5-10zm5 1zm2 4zm2-3zm0 4zm1 11zm4-1zm2-15zm3 14zm0-5zm1 9zm4-1zm0-8zm3-5zm3 11zm1-7zm2-7zm1 14zm13-14zm1 12zm1 7zm4-5zm2-7zm7 10zm4-3zm3-3zm2-4zm3 10zm3 2zm8-15zm7 9zm4 0zm3-1zm0 6zm3-17zm4 17zm3-15zm0 4zm6-8zm4 19zm0-20zm5 18zm20-3zm1 5zm2-15zm2 10zm1-13zm2-2zm4 16zm2-10zm3-4zm7 14zm13 4zm9-18zm4 5zm12-2zm6 0zm3 14zm1-9zm5-6zm0 9zm1-3zm2 5zm4-1zm1 0zm1-6zm1 11zm6-16zm1 17zm1-9zm12-4zm2 10zm1 4zm3-10zm5-6zm7 4zm5 7zm1-13zm2 8zm5 4zm7-6zm1 12zm3-10zm3 5zm2-12zm2 6zm7-1zm6 10zm3 2zm2-13zm1-1zm6 13zm9-18zm1 10zm3 7zm3-9zm1-8zm1-2zm6 12zm4-4zm1-5zm5 12zm15 0zm7-6zm6 10zm14-9zm3-4zm3-6zm12 12zm4 1zm1 20zm-1-8zm-11-1zm-9 10zm-7 9zm-5-19zm0 11zm-3-6zm-5 1zm-1 4zm-1 6zm-6-12zm-6 2zm-18-2zm-10 8zm-11 6zm-1-12zm-6-7zm0 7zm-14 3zm-7-11zm0 10zm-3 9zm-5-19zm-1 21zm-2-16zm-7 4zm-1-5zm-2 3zm-4 9zm-2 3zm-3-5zm-3-13zm-1 17zm-1-12zm-6 9zm-6-9zm-6 8zm-11-6zm0 1zm-2-5zm-6-1zm-4 18zm-2-10zm-1 7zm0-12zm-2-3zm0 10zm-6-3zm-6-6zm-5 7zm-1 9zm-2-20zm-5 5zm-1 15zm-4-6zm-1-11zm-5 1zm-3 8zm-7-4zm-5 1zm-3-7zm-4 2zm-11 12zm-1-4zm-12-5zm-4-2zm-11-5zm-9 7zm0 9zm-4-8zm-15 7zm-2-5zm-3-5zm-6 10zm-2-12zm-4 14zm-10-13zm0 13zm-3-3zm-4 4zm-3-9zm-2 10zm-1-13zm-8 2zm-10 1zm-3 5zm-6 5zm-3-5zm0-9zm-3 7zm-6-5zm-3 13zm0-3zm-4-5zm-9-12zm0 10zm-13 5zm-11-4zm-21 1zm-25-10zm-3 14zm-5-10zm-1 14zm-3-8zm-3-5zm-3-3zm-2 3zm-12 10zm-4-2zm-7-2zm0 5zm-8-1zm-4-16zm-4 10zm-10 10zm-3-17zm-2 8zm-2 9zm-5-1zm-13-17zm-8 17zm-8-3zm0-10zm-2 0zm0 1zm-2 10zm-4-10zm0 4zm-3 5zm-15 11zm2 14zm5-10zm5 7zm4 0zm3-15zm2 17zm2-10zm3-6zm1 4zm5 8zm4 4zm28-18zm5 5zm1 14zm11-17zm16 1zm7 0zm1 13zm2-6zm5-4zm3 12zm0-14zm9 14zm3-6zm1 4zm3-11zm7-6zm4 18zm5-16zm3 5zm1 7zm0 7zm4-3zm10-17zm0 11zm1-7zm9 0zm11 6zm3-2zm0 11zm4-15zm0-4zm4 16zm3-4zm8 5zm4-14zm14 15zm15-15zm6 17zm4-14zm12 4zm2 4zm0-14zm4 1zm0 14zm4 0zm2 3zm1-11zm5 3zm10-3zm0-4zm1 10zm4-8zm4 12zm8-5zm5-6zm2 1zm2 10zm1 3zm1-13zm19 0zm10 10zm1-3zm5-10zm2 13zm25-12zm1 5zm8-5zm5 2zm9 1zm2 7zm2-1zm4-8zm8 0zm2-1zm6 4zm1-8zm9 3zm0 14zm2-19zm0 12zm1-12zm2 16zm1 3zm4-10zm3 7zm1-5zm0-9zm5 5zm1-7zm2 18zm14-11zm3-7zm2 5zm9 8zm1 8zm18-17zm24 16zm0-9zm3-5zm2 7zm4 7zm5-11zm0 11zm4 0zm0-15zm4 4zm8-3zm7 13zm3-2zm4-10zm16 12zm2-9zm5-5zm3 2zm0 11zm5-11zm4-4zm2 14zm14-16zm-1 25zm-30 0zm-4 15zm-4-3zm-1-13zm-1 10zm-4-13zm-5 15zm-1 3zm-3-17zm-1 4zm-1 9zm-2-13zm-4 2zm-2 15zm-12-9zm-8 3zm-2-8zm-3-4zm-5 17zm0-11zm-3 3zm-9 1zm-4-7zm-2 9zm-3-1zm-8 9zm-14-3zm0-5zm-4 5zm0-10zm-7 10zm-5-6zm-5 1zm-3 4zm-1-4zm-1 9zm-3-7zm-5-4zm-13 7zm-1-13zm0 6zm-3 3zm0-3zm-6-1zm-1 11zm-5-20zm-4 12zm-5 3zm-5 4zm-2-14zm-1 8zm-2-4zm-2-2zm-1 10zm-1-14zm-3 14zm-1 4zm-11-20zm-17 10zm-5 2zm-1-11zm-6 6zm-9-7zm-2 16zm-5-15zm-19 14zm-2-9zm-17-6zm-5 3zm-3 4zm-2-5zm-6 9zm-4-10zm-11 11zm-5 6zm0-6zm-3 3zm-2 3zm-16-8zm-4-6zm-2 16zm0-20zm-5 16zm-3-9zm0-7zm-7 19zm-11-10zm-12-4zm-2 12zm-8-5zm-5 4zm0-10zm-1 14zm-7-5zm-4-5zm-7 7zm-6 1zm0-4zm-2 1zm-1-15zm-2-1zm-5 8zm-3-4zm-4 9zm-10-1zm-2-8zm0 13zm-4-11zm0-1zm-5 16zm-3-15zm-5-1zm-4-4zm-2 6zm-1-3zm-14 5zm-1 8zm-7 4zm-4-6zm-3-2zm-4 8zm-13-5zm-12-12zm-10 8zm-8-2zm0-3zm-1 11zm-2 3zm-4-20zm-8 8zm-2 10zm-5-14zm-2-3zm-10 0zm-2 4zm-2-3zm3 28zm10 0zm4-4zm3 9zm11-12zm5 15zm11-12zm18 11zm2-11zm3-4zm3 17zm9-12zm13-5zm1 9zm10 1zm3 2zm9-13zm7 9zm10-4zm3 3zm5 1zm1-4zm1 12zm1-5zm5 5zm4 4zm3-20zm2 10zm2 0zm1-9zm1 16zm12-15zm10 15zm2-8zm3-5zm12 8zm5-5zm5 13zm2-10zm1 6zm3 3zm4-12zm27 10zm9-15zm11 7zm0 6zm1-10zm5 3zm6 10zm15-16zm0 18zm1-13zm3-3zm13 5zm5 2zm1 4zm5-9zm6-4zm3 5zm1 7zm3-1zm3-10zm2-3zm2 18zm1-14zm9-3zm4 14zm1-5zm5 3zm9-12zm4 3zm5 11zm2-4zm5 4zm0-10zm10 3zm7 7zm4 4zm3-13zm4-2zm2 11zm4-6zm2-5zm6-1zm1 17zm9-1zm3-20zm2 19zm5 1zm9-9zm3-7zm7 10zm2 6zm1-17zm4-1zm5 16zm6-4zm9-9zm0 8zm6-11zm9 5zm0-5zm4 16zm1-13zm0 8zm3 8zm2-9zm5 7zm1-8zm17 4zm2-10zm4 13zm2-6zm4-12zm1 6zm4 2zm3 11zm1-16zm2 11zm7-8zm5 3zm4 7zm0-16zm4 14zm0-10zm4 16zm2-10zm8-2zm5 11zm14-1zm-10 7zm-10 2zm-3 15zm0-10zm-9 7zm-7-6zm-5-6zm-2 15zm-4-1zm-1-15zm-1 12zm-6-3zm-21-9zm0 11zm-2 5zm-5-18zm-2 9zm-2 9zm-6-5zm-5-8zm-2 8zm-2-6zm-4-8zm-1 19zm-5-17zm-1 11zm-6-10zm0 12zm-2 4zm0-12zm-3-1zm0 10zm-4-5zm0-9zm-1 13zm-4-9zm-1 4zm-11 6zm-2-14zm-3 7zm-4 7zm-5-10zm0-5zm0 9zm-6-6zm-2 12zm-2-6zm-11 6zm-4-6zm-8 10zm-5-1zm-2-3zm-1-10zm-3 10zm0-9zm-4 10zm-7-9zm0-9zm-4 12zm0 5zm-4-9zm-1 13zm-7-16zm0 16zm-16-14zm0 9zm-3 1zm-1-10zm-16 11zm-8-10zm-1-3zm-2 7zm-1 7zm-5-11zm-6-7zm-7 1zm-1 10zm-11-7zm-5 5zm-1-7zm-1 14zm-4 4zm-1-14zm-5-2zm-9-1zm-11 14zm-4 2zm0-3zm-3-11zm-7 4zm-3-7zm-4 10zm-5-5zm-7-3zm-4-5zm-16 21zm-1-18zm-1 14zm-7 1zm-6-4zm-4-13zm-6 11zm-2-7zm-10 8zm-2-3zm-5 11zm0-3zm-1-4zm-11 6zm-4-17zm-14 6zm-2-9zm-13 9zm-2 3zm-3-6zm-9-6zm-6 6zm0-5zm-1 0zm-4 6zm-14 2zm-2 10zm-2-5zm-1-4zm-5-6zm-1 3zm-3-5zm-1 6zm-7 3zm-9-8zm-8-1zm-1 16zm-2-14zm-2 17zm-2-18zm-9 6zm-13 1zm22 27zm9 1zm2-16zm12 3zm11 0zm29 1zm6 12zm6-15zm11 11zm3 6zm3-14zm16 2zm4 10zm9 2zm8 0zm1-15zm4 17zm1-10zm5 3zm10-7zm6 13zm2-13zm4 8zm6-7zm2 10zm7-3zm7-4zm5-5zm1 10zm9-12zm2 8zm1 5zm10-1zm9-14zm14 3zm2 14zm4-4zm4 0zm3 1zm8-1zm8-5zm7 4zm4-7zm6 15zm0-1zm6-3zm25-12zm14-3zm2 18zm2-18zm2 18zm0-11zm21-9zm0 14zm5-13zm6 0zm16 5zm4-3zm1 12zm2-6zm2 9zm2-9zm1 5zm2-4zm5 9zm10-16zm4 10zm0-2zm5 8zm6-8zm4-2zm7 4zm11 5zm9-18zm6 19zm1-9zm1-7zm4 12zm3-4zm2-3zm2-5zm1 2zm5 0zm1 13zm5-9zm2-6zm5 9zm11-6zm8 9zm8-6zm0-7zm7 4zm6 1zm1-3zm7-4zm5 5zm16 33zm-16-7zm-9 11zm0-13zm-4 10zm-1 3zm-7 0zm-14-6zm-1 7zm-1-17zm-5 14zm-2-11zm-3 10zm-4-3zm-2-6zm-1 8zm-7-1zm0 6zm-4-19zm-2-2zm-6 8zm-23 6zm-8-6zm-12 10zm-7-1zm-1-13zm-3 14zm0-18zm-12 19zm-11-1zm-1-4zm-6-7zm0 9zm-11 5zm-7-1zm-6-19zm-7 4zm-20 10zm-15-10zm-5 10zm-12-5zm-3-3zm-15 2zm-2 1zm-6 11zm-12-8zm-9-4zm-5-4zm0 11zm-14 5zm-10-11zm-1-5zm-20 1zm-1 8zm-1-12zm-16 7zm-3 9zm-11 3zm-5-5zm-2-13zm-2 17zm-3-6zm-3-2zm-12 0zm-2 7zm-2-7zm-5 2zm-3-2zm-4-9zm-4 18zm-1-4zm-8-10zm-7-1zm-5-6zm-2 18zm-10 2zm-5-1zm0-19zm-2 14zm-7-9zm-25 4zm-5 8zm-12 3zm-1-2zm-1-5zm-4 3zm0-11zm-1 1zm-2 6zm-4-11zm-2 13zm-6 1zm-6-9zm-6-4zm-6 1zm14 24zm6-1zm4 8zm3 2zm8 5zm15-9zm3 0zm4-1zm9 7zm3-10zm3 9zm6-12zm6 7zm0-4zm11 14zm19-15zm10 14zm7-10zm3 9zm9-14zm4 2zm1 5zm3 5zm2-2zm1-13zm10 0zm3 10zm0-7zm4 10zm2-11zm11 6zm2 9zm2-12zm3 2zm4 6zm3-4zm0-6zm12-4zm9 18zm4-10zm3 5zm3 3zm1-15zm3 19zm1-6zm0-4zm2-2zm6 6zm2 6zm9-19zm5 7zm2 11zm2-9zm5 3zm12-2zm1-5zm3-5zm0 11zm7 1zm5 0zm5-12zm4 11zm2-4zm3 11zm8-5zm8 2zm16-1zm3 3zm8 0zm1-16zm3 12zm1-5zm3 12zm3-14zm5 6zm8 6zm1-14zm7 8zm4-13zm0 18zm17-2zm4-4zm5 3zm3-13zm4 10zm1-7zm6 11zm6 1zm4-7zm2 11zm0-17zm5 1zm0 4zm1 11zm3-4zm2-16zm4 15zm0-15zm1 19zm5-6zm1 0zm6-10zm0 14zm4-5zm1 7zm1-11zm2-7zm5 9zm1-7zm2 15zm5-12zm7 10zm5-16zm2 16zm0-10zm1 5zm9 7zm2-7zm1-3zm4 0zm3 7zm1-5zm11 4zm3-10zm2 5zm0 12zm-4 4zm-4 4zm0 5zm-9-10zm-5 12zm-6-11zm-4 4zm-4-3zm-1 6zm-6-2zm-7 7zm-3-11zm-6 7zm-5 2zm-4 6zm-3-1zm0 0zm-6-3zm-7-10zm-5-4zm-1 0zm-4 20zm-1-16zm-7 16zm-5-10zm-2 4zm-1-11zm-5 12zm-6 0zm0-13zm-3 14zm0-15zm-1 12zm-4-5zm0 2zm-1-7zm-3 2zm-1 4zm-4-4zm-3 10zm0-11zm-4 9zm-12-9zm-4 13zm-13 3zm-2-11zm0-7zm-5-3zm-16 19zm-6-19zm-1 11zm-42 5zm-2-11zm-3 9zm-3-4zm-10-8zm-7 0zm-2 16zm-5 1zm-21-18zm-3 16zm-3-6zm-5-9zm-1 16zm-6-12zm-7 8zm-12-2zm-1 6zm-13-14zm-12 5zm-2 10zm-5-12zm-4-3zm-1 6zm-7 9zm-3 2zm-3-8zm-2 6zm-1-9zm-2 6zm-2-16zm-1 18zm-16-14zm-3 8zm-3-12zm-10 16zm-6 3zm-1-12zm-5 14zm-8-6zm-5-9zm-12 11zm-2-8zm-13 9zm-2-8zm-4-9zm-7 17zm-2-8zm-6-4zm0 7zm-9-12zm28 22zm6 20zm3-8zm4-6zm1 10zm6-4zm6 6zm16-2zm0-14zm7 2zm1 12zm11-8zm6 1zm1 0zm1 1zm1 0zm4-1zm1 7zm3-4zm1-12zm4 9zm3-5zm4 13zm2-16zm3 8zm1-5zm2 10zm7 0zm2-9zm1 4zm0 7zm0-2zm1-13zm3 14zm5-4zm5-9zm6 4zm2-6zm4 14zm1-3zm1 9zm0-13zm10 11zm0-11zm10 10zm3-6zm6-7zm2 16zm3-4zm2-5zm6-4zm5 9zm5-6zm7-8zm0 11zm14-3zm12 7zm5-1zm0-10zm6 13zm3-16zm1 3zm8 11zm2-17zm1 11zm2-3zm6 9zm5 2zm2-4zm14 2zm0-11zm2-2zm2 9zm7 7zm5-14zm0-5zm7 19zm7-5zm0 4zm3-5zm12-11zm7 7zm5-5zm1 15zm4-20zm4 17zm3-7zm5 5zm2-12zm8 7zm5 6zm8-8zm4 7zm9-8zm7-4zm4 2zm11-2zm4 7zm2 5zm2-16zm3 12zm0-11zm4 4zm1 12zm4-2zm1 6zm5-8zm2-8zm3-2zm9 17zm3-18zm6-1zm2 9zm12-4zm-5 23zm-3 9zm-12-1zm0-5zm-9 6zm-6-1zm-1 4zm-1 2zm-2-19zm-11 0zm0 11zm-1 6zm-6-14zm-2 15zm-3 0zm-2-20zm-3 6zm-5 3zm0 8zm-8-8zm-2-9zm-6 12zm-1-7zm-10 2zm-1 12zm-4-11zm-13 12zm0-14zm-3 11zm-3-6zm-2 0zm-2-10zm-8 3zm-4 4zm-4-4zm-3 14zm-8-6zm-7-7zm-19 12zm-2-14zm-7 0zm-3 1zm-4-2zm-9 5zm-6 6zm-2 4zm-4-3zm-2-8zm0 12zm-2-7zm-3 9zm-5-6zm-3-2zm-11-5zm0 5zm-8-11zm-16 7zm0-2zm-15-3zm-6 17zm-3-20zm-1 7zm-17 1zm-8 5zm-4-5zm-2-1zm-1-5zm-30-2zm-4 21zm-4-4zm-1-3zm-11-9zm-2 14zm-2-8zm-3 3zm-9-9zm-2 6zm-5 2zm-1-1zm-2-5zm0 10zm-4 2zm-1-13zm0-4zm-2 13zm0 4zm-10 1zm-10-9zm-2 9zm-2-6zm-1-3zm-5-7zm-14 9zm18 21zm2-1zm2-8zm9 9zm4-2zm7-9zm1 6zm5 10zm11-4zm10 3zm0-6zm3 5zm2 6zm4-8zm3 2zm4 6zm0-7zm2-14zm12 20zm5-16zm1 14zm7 0zm1 0zm1-16zm15 10zm0 4zm6-8zm8-7zm4 8zm6-3zm31 4zm4 8zm17-11zm10-7zm6 0zm4 17zm2-10zm1 13zm4-11zm1-7zm2 18zm10 1zm10-18zm6 9zm7-8zm4 17zm3-19zm6 18zm5-6zm9 3zm6-8zm1-3zm4 4zm7 4zm2-7zm7 4zm8-4zm3-2zm5 5zm2-9zm0 4zm4 15zm0-17zm1 12zm11 5zm0-4zm3-12zm1 0zm1 12zm4 0zm4-2zm4 6zm6-3zm2-16zm3 5zm2-4zm2 10zm2-10zm4 5zm1-6zm3 17zm4-3zm6-10zm0-5zm9 7zm1 14zm1-11zm2 8zm0-4zm8-13zm15 2zm-27 25zm-2-4zm-3 19zm-2-11zm0-4zm-2 14zm-12-4zm0-14zm-3 3zm-1 16zm0-5zm-13-12zm-12 13zm-1 3zm-2-20zm-4 3zm-5 1zm-5-2zm-2 3zm-1 5zm-17 4zm-7 3zm-2-11zm-4 0zm-6-2zm-1 4zm-7-4zm0 15zm-18-11zm-2-5zm-19-3zm-18 2zm-5-1zm-2 11zm-6-3zm-2-8zm-1 3zm-1 13zm-10-15zm-2 17zm-4-6zm-6-11zm-1 14zm-2-5zm-6 9zm-4-1zm-1-10zm0-6zm-3 12zm-1-12zm-8 15zm-5-15zm-26 2zm-18 12zm-5-3zm-21-14zm-4 6zm-8 4zm-7 10zm-7-13zm-2-5zm-1 18zm0-18zm-8 9zm-1 4zm-5-13zm-2 5zm-5 8zm-9-5zm-5-7zm24 30zm13 2zm6 4zm10-9zm6 7zm0 6zm1-8zm12-7zm8 5zm4-6zm8-1zm12 2zm2 15zm11-5zm3 2zm1-12zm5 6zm3-8zm11-3zm2 12zm3 6zm2-14zm4 10zm1-4zm5 8zm13-13zm3 11zm9-16zm17 19zm2-13zm8-1zm3 5zm17-11zm12 8zm1-5zm5 2zm13-4zm27 8zm3-9zm6 9zm4-3zm0 15zm6-1zm4-7zm7 3zm9-14zm5 10zm9 3zm0-1zm6 2zm7-3zm2-6zm1 4zm1-10zm5-1zm1 8zm9-3zm0 3zm1 10zm-25 7zm-1 11zm-5 7zm0-13zm-6-6zm-4 11zm-9 1zm-1-4zm-6-2zm-1 9zm-3-16zm-2 8zm-9 1zm-5-3zm-1 9zm-3 3zm-4-18zm-3 6zm-8 4zm-5-2zm-2 4zm-2-4zm-3 0zm-6 6zm-12 3zm-2-13zm-2 12zm-4-6zm-8-5zm-1-5zm-12 1zm-3 18zm-4-13zm-6 3zm-3 6zm-7-13zm-4 18zm-6-12zm0-4zm-4 7zm-2-2zm-2-8zm0 11zm-4 5zm-2-3zm-1-12zm-1 6zm-13-8zm-2 13zm-1-5zm-6 7zm-2 5zm0-15zm-1 8zm-13 5zm-3 2zm-5-12zm-9-1zm-12 8zm-2-6zm-8 8zm-6-13zm-7 1zm-1 4zm-2 11zm-1-9zm-6-1zm0-11zm-2 19zm-3-6zm-11-6zm0 14zm-1-18zm-3-3zm-2 17zm-4-17zm4 24zm16-1zm4 4zm21-3zm0 11zm3-4zm2 11zm10-12zm2 10zm1-18zm4 17zm3-15zm1 7zm3-3zm8 6zm15 9zm3-19zm2 4zm0 6zm12-12zm4 2zm10 5zm1-6zm5 20zm7-13zm21 9zm1-14zm7 3zm2 4zm3-3zm8-7zm4 0zm1 4zm13 5zm6 5zm6-10zm5 6zm1 4zm11 5zm3-16zm8 4zm6-5zm8 11zm1-5zm3 12zm0-6zm4-14zm11 5zm3 4zm5-7zm1 7zm14-6zm12 12zm-12 12zm-4 3zm0 8zm-12-4zm-4-4zm-3-6zm-4 9zm-6-5zm-9 2zm-3 7zm-2-14zm-6 20zm-5-17zm-5 7zm-2-4zm-9 6zm-3 3zm-5-3zm-5-10zm0 18zm-8-5zm-2-12zm-3 8zm-1 4zm-8 5zm-5-1zm0-10zm-11 6zm0-4zm0-4zm-3 13zm-4-2zm0-11zm-6 0zm-6 9zm-6-8zm0-6zm-3 17zm-6-18zm0 10zm-10-1zm-1 3zm-1 2zm-13 2zm0-18zm-7 17zm-5-14zm-12 7zm-7 3zm-2 3zm-5-9zm-5-6zm-2 7zm-7-7zm21 22zm16 6zm7-7zm1 5zm2-1zm3 0zm9 2zm19 7zm6-2zm3-4zm0 13zm5-8zm1-11zm4 1zm2 7zm7 5zm2-9zm5 14zm2-10zm5-7zm0 4zm5 13zm2-4zm2 3zm0 0zm4-17zm1-1zm2 17zm1-16zm2 2zm1 5zm2 4zm5 2zm5 7zm9-11zm10 7zm4 4zm3-7zm0 6zm6-3zm4-17zm4 5zm5 2zm2-6zm4 16zm8-3zm1-2zm3 2zm0-5zm1-8zm4 6zm-21 18zm-4 8zm-18 9zm-9-8zm-8 3zm-16-6zm-4-9zm-3 6zm-7 0zm-12-6zm-4 15zm-10 0zm-9 1zm-6-11zm-4-1zm-18 0zm112 23zm19-2z"/>
<path stroke="#99C945" d="m1507 901zm424-12zm-117 26zm-8-9zm-74 11zm-113-15zm-192 18zm316 19zm79-7zm35 2zm49 31zm-440 1zm59 13zm-187 11zm-5 13zm91 17zm1 10zm130-8zm28-4zm131 12zm-16 8zm-133 12zm33 13zm156-7zm39 9zm113 3zm-210 12zm-22 7zm-49 2zm-301 17zm216-1zm148-2zm41 10zm76 26zm-83-16zm-24 15zm-379-11zm210 32zm222-9zm23 3zm12 12zm1-12zm8 9zm13-13zm14 9zm110 15zm-74-5zm-37 5zm-10 2zm-14 9zm-34-11zm-4 5zm-6-11zm-12 3zm-5 7zm-9 5zm-4-6zm-10 3zm-7 3zm0 4zm-7-4zm-9-5zm-49 3zm-4-8zm-34-2zm-79 0zm-152 11zm-62 16zm104 7zm42 0zm4-7zm22-6zm24 6zm44 9zm8-4zm2-13zm35 3zm10 4zm3 3zm12 7zm11-8zm20 5zm34 6zm11-12zm23 3zm1 7zm6-13zm1 13zm3-11zm22 8zm4-15zm2 5zm12 2zm6 7zm4-5zm77-5zm24 11zm384 22zm-421-12zm-9 1zm0 5zm-15-10zm-8 12zm-10-1zm-18 9zm-5-4zm-1-6zm-1-7zm-6 7zm-4 2zm-13 0zm-4 5zm-3-11zm-3 8zm-9-2zm-14-8zm-14-1zm-13-3zm-18 7zm-2 9zm0 4zm-19-11zm-1 11zm-26-3zm-7-9zm-1-4zm-6 1zm-12 0zm-3 1zm-1 9zm-5-4zm-7 5zm-21 2zm-19-15zm-35 17zm-22-14zm-1 10zm-22-9zm-18 6zm-130 25zm111-2zm65-2zm4 5zm6 0zm8 1zm6-12zm13 8zm7-12zm11 3zm7 10zm11 6zm1-17zm5 9zm2-10zm2 14zm16 0zm4-9zm15-2zm12 7zm4-6zm8 0zm4 14zm0-12zm2 5zm5-13zm0 4zm7 10zm1 6zm4-14zm1 7zm7-8zm0 14zm0-8zm2 3zm7 4zm5-4zm2-8zm2 10zm11-17zm4 12zm4 8zm9-1zm0-7zm3 5zm2-14zm8 6zm10 0zm4 9zm10-12zm3-1zm14 12zm1-13zm6 7zm3-6zm1 16zm6-5zm0-13zm4 12zm3-8zm20 0zm7-2zm0-3zm10 17zm6-4zm5 4zm13 2zm1-3zm250-7zm27 7zm12-9zm42 7zm4 3zm37-5zm32-5zm10 4zm2-12zm2 20zm9-10zm-13 21zm-1-2zm-19 4zm-7 1zm-7-1zm-1 3zm-8-14zm-18 5zm-11-4zm-6 7zm-2-5zm-10 3zm-5 2zm-12 5zm-9 4zm-18-5zm0 4zm-24 1zm-13-10zm-3 4zm-8-6zm-2 6zm-3 9zm-27-3zm-10-8zm-36 7zm0-3zm-9 6zm-3-15zm-4 8zm-11 5zm-74 0zm-16 0zm-20-8zm-1-5zm-3 8zm-9-2zm-10-11zm-4 0zm-4 2zm-19-1zm-3 0zm-16 2zm-1 14zm-3-16zm-5 6zm-12-2zm-1 7zm-2-10zm-3 15zm0-17zm-4 16zm-7-16zm-21 17zm0 4zm-9-15zm0 9zm-5-3zm-4-1zm-29-7zm-8-4zm-23 13zm-9 0zm-6-9zm-10 15zm-6-11zm-1 8zm-3-16zm-5 12zm-12 6zm-2-17zm-6 18zm-18 0zm-10-6zm-5 1zm-5 5zm-3-3zm-13 0zm-6-14zm-2 6zm-1 9zm-12-2zm-2-15zm-4 3zm-24 0zm-7 13zm-2 3zm-5-14zm-24-1zm0 15zm0-19zm-14 1zm-8 18zm-5-8zm-3-6zm-9 11zm36 27zm19-20zm5 9zm28-5zm1 8zm4 0zm12 7zm4 1zm1-6zm6-2zm8-13zm7 5zm17 0zm13-5zm5 10zm5-9zm2 14zm20 4zm7-10zm7-8zm8 16zm0-16zm2 12zm5-12zm15 11zm15 0zm13-8zm6 9zm33-2zm6 1zm4 1zm4 2zm4 4zm12-14zm21 8zm0-6zm12 11zm28-7zm12-1zm5-8zm0 18zm3 0zm9 1zm31-2zm8-12zm8 9zm25 2zm18-16zm2 19zm1-2zm5-13zm4 6zm3-10zm4 6zm5 12zm16-2zm38-6zm4-2zm8-8zm19 8zm12-1zm20 8zm14-17zm2 20zm5-7zm18 5zm2 3zm6-11zm0 4zm1-9zm2 1zm52 5zm3 7zm6-8zm3-9zm30 3zm30 5zm0 10zm17-3zm0-11zm2 6zm1 0zm-10 17zm-18-3zm-10-1zm-14 17zm-21-18zm0 19zm-1-6zm-4-3zm-3 8zm-4-12zm-7 12zm-13-18zm-4 0zm-1 11zm-6 9zm-2-3zm-17-10zm-24 6zm-23 7zm-19-15zm-5 14zm-3-3zm-4 4zm-14-9zm-3-11zm-5 17zm-3 3zm-4-8zm-5-7zm-8 13zm-23-19zm-1 5zm-5 15zm-11-11zm-27 0zm-3 0zm-1-6zm-27 5zm-1-5zm-6 13zm-21-15zm-17 6zm-22 0zm0 6zm-13-13zm-12 7zm-5 3zm0-9zm-27 2zm-8 0zm-7-1zm-2 11zm-8-5zm-8-6zm-3 19zm-31-6zm-2-7zm-2 9zm-8-10zm-11-4zm-4 13zm-3-11zm-5 13zm-8-13zm-13 3zm-3-8zm-5 18zm-5-5zm-28-2zm-15 4zm-5 1zm-15-15zm-2 4zm-13-2zm-6 5zm-1 4zm-5 0zm-1-6zm-5-1zm-16 10zm-11-9zm-20-6zm-19 13zm-3-6zm-15 6zm-9-13zm-5 3zm-5-1zm-8 9zm-5 0zm-1 5zm-16 20zm9-7zm5 1zm16 6zm5-14zm5 5zm3 11zm1-3zm6 4zm14-11zm17-3zm35 13zm3-14zm3 5zm19 2zm32-9zm5 20zm7-15zm21 12zm6-4zm15 6zm22-7zm36 2zm7-12zm34 0zm15 8zm17 2zm11-12zm7 10zm29 5zm4 6zm0-20zm2 20zm7-15zm34-3zm27 17zm0-12zm3 10zm11-9zm19 0zm4 7zm12-2zm9-5zm3-1zm21 1zm35 4zm14 8zm16 0zm4-14zm5 11zm14-6zm3-12zm12 5zm5 14zm4-18zm1 5zm21 13zm2-11zm1 7zm23-15zm1 7zm14 2zm0-3zm15-5zm0 9zm6-3zm2-6zm5 13zm12-1zm7-1zm9 4zm14 0zm8-5zm14-3zm17 0zm-2 32zm-2 2zm-6-17zm0 10zm-12 5zm-6-2zm-2 4zm-6-6zm-11-4zm-12 7zm-1-6zm-7-4zm-52-6zm-9 8zm-9 7zm-9-16zm-3 6zm-12 15zm-4-8zm-9 8zm-6 0zm-1-8zm-4-1zm-1-5zm-10-4zm-1 7zm-1 6zm-25-7zm-2-9zm-11 16zm-1 4zm-2-14zm-8 1zm-4 12zm-11-2zm-19-12zm-8 1zm-16 14zm-12-6zm-18 1zm-6-9zm0 5zm-9 10zm-7-8zm-6 5zm-2-14zm-2 17zm-10 0zm-7-20zm-58 6zm-23-2zm-81-5zm-29 1zm-8 0zm-36 10zm-4 10zm-12-6zm-1-12zm-23 3zm-23 10zm-3 4zm-33-10zm-12 4zm-1-4zm-17-3zm-6 5zm-12-10zm-9 7zm-58-4zm-16-3zm-13 10zm14 21zm14-8zm20-1zm3 13zm20-4zm23-10zm4 12zm12 3zm27-11zm67 5zm3 9zm44-6zm167 3zm2-14zm14 3zm3 12zm40 4zm17-9zm6-8zm6 6zm3 9zm16-19zm1 21zm3-11zm17-2zm13-1zm4 6zm4-12zm9 2zm19 2zm2-5zm0 3zm10 7zm8-10zm9 2zm4 14zm26-6zm20 3zm16-7zm5-6zm19 0zm16 16zm8-5zm16 8zm25-8zm1 5zm15 4zm3-17zm2 6zm18 1zm6-7zm0 17zm0-4zm2 5zm6-8zm15 3zm1-4zm10 5zm1 4zm5-15zm8 13zm5-2zm0-15zm1 10zm2 9zm1 17zm-3-13zm-2 7zm-1-4zm0 4zm-7 6zm-8-13zm-2 15zm-3-12zm-1-6zm-2 15zm-4-12zm-9 12zm-8-13zm-4 4zm-3 4zm-1 4zm-2-12zm-1 3zm-1 8zm-8-10zm0 17zm-3-15zm-4 9zm-1-7zm-12-5zm-4 2zm-2 13zm-9-12zm-13 8zm-15-6zm-3 0zm-1 8zm-1-6zm-1-9zm-5 7zm-8 11zm0 3zm-3-14zm-5 2zm-4 12zm-5-2zm-10-13zm-12 14zm-31-14zm-16 6zm0-9zm-23 5zm-17-3zm-6-2zm-2 4zm-6-3zm-20 8zm-27 5zm-1-8zm-9-3zm-9 14zm-11-15zm-4 14zm-5-7zm-71-2zm-198 11zm-8-1zm-49-19zm-3 15zm-7-6zm-6 6zm-5-7zm-13 2zm-45-11zm-8 7zm-18-2zm-5 3zm-3-2zm-5-3zm-1 16zm-4 2zm-5-18zm-3 12zm-4-1zm-1-5zm-35 6zm-7 28zm31-18zm4 1zm1 2zm9-5zm4 8zm4 6zm0-8zm0 4zm6-2zm21 5zm2-7zm2-5zm5 10zm42-3zm3 5zm14 6zm32-18zm3 1zm16 13zm20-10zm12 14zm18-14zm19-2zm39 11zm152-3zm7-8zm3 3zm5-5zm5 2zm12-4zm15 14zm13-4zm17-7zm2 3zm1 12zm1-5zm9-7zm26 7zm1-10zm10 8zm41 4zm11 2zm1-14zm11-3zm4 5zm16 6zm1-5zm1-4zm4 1zm3 17zm1-7zm5-12zm2 4zm4 12zm0-15zm1 8zm0 11zm4-13zm4-3zm4 5zm1 10zm5-3zm2-6zm1-11zm4 6zm14 3zm1 6zm1-13zm1 9zm1 6zm0-12zm5 9zm2-3zm7 6zm2-7zm1-5zm1 15zm0-19zm3 17zm2-3zm4 1zm1 4zm0-15zm2 6zm3 10zm3-5zm3-7zm0 4zm0-13zm2 19zm1-18zm5 3zm16 11zm8 6zm8-12zm1 10zm3-6zm4-7zm2 6zm6 3zm4 3zm3-10zm2 5zm5 5zm13-11zm8-6zm2 1zm1 4zm3-6zm1 7zm9-2zm6 2zm3 23zm-10-8zm0 18zm-5-3zm-4 4zm-1-6zm-9 5zm-6-12zm-7 11zm-1-6zm-3-2zm-1 6zm-8-7zm-3-8zm-1 10zm-6-7zm-2 16zm-3-3zm-8-2zm-2-10zm0 16zm-3-9zm0-5zm-4 3zm-5 3zm0-7zm0-1zm-2 3zm-2-7zm-1 21zm-13-11zm0 6zm-2-3zm-7-11zm-6 0zm-10-2zm0 11zm-1-8zm-7 6zm-2-3zm0 10zm-5 3zm-4-16zm-7-2zm-6 3zm-9 9zm-1-9zm-4 3zm-2 8zm-2-3zm-2-3zm-3 2zm-1 0zm-7-2zm-5 7zm-1-12zm-2 9zm-1 0zm-3 7zm-3-4zm-2-4zm0 1zm-3-3zm-6 3zm-10 0zm-71-4zm-3 2zm-14 10zm-6-6zm-11-8zm0-3zm-4 12zm-45-4zm-14 8zm-1-15zm-6-3zm-22 2zm-2-3zm-14 13zm-167 4zm-18-11zm-60-5zm-62 4zm-56 2zm-4 7zm-24-4zm-25 22zm0 10zm22-3zm5-12zm7-4zm17 1zm77 13zm21 0zm13-13zm147 18zm111-21zm9 4zm10 7zm11 10zm3-11zm9 10zm8-17zm7 17zm5-5zm4-11zm14 5zm21 5zm5-3zm11-4zm48-6zm11 14zm14 2zm0-9zm4-3zm4 14zm8-4zm4-1zm1-9zm9 4zm0-7zm2 7zm4 5zm5-12zm2 13zm4-12zm1 3zm0 12zm1-18zm6 0zm2 3zm1 15zm5-18zm1 18zm2-15zm8 2zm3 8zm3-3zm3 5zm2-5zm4 9zm5-4zm4-14zm13 18zm1-12zm13 4zm0 8zm7 2zm2-10zm7-1zm0 10zm3-6zm0 3zm5-12zm5 4zm0 6zm3-8zm1 13zm3-15zm3-4zm1 9zm4 10zm11-15zm6 5zm1-7zm0 17zm4-1zm13-9zm8 10zm10-2zm1-7zm1-7zm4 6zm0 5zm0 5zm2-17zm1 17zm2-7zm6-1zm3 8zm6 1zm3-12zm1 8zm2 4zm6-15zm4-2zm0 4zm5-2zm4-4zm6 18zm0-9zm2 24zm-2-9zm-3 6zm-2-9zm-2 20zm0-10zm-2-9zm-3 4zm-4 4zm-1 5zm-3-8zm-1 14zm-1 0zm-1-10zm-1-3zm-9 2zm-8 11zm-3-1zm-1-16zm-1 2zm0-1zm-2 5zm-5-1zm-1-6zm-2 13zm-5-16zm0 6zm-2-3zm-1 16zm-6-13zm-3 13zm-3-13zm-5 10zm-2-4zm-6 7zm0-18zm-1 6zm-2 4zm-3 8zm-4-1zm-6-2zm-1-7zm-4 7zm0 4zm-3-7zm-2-6zm-1 12zm-2-18zm-1 4zm-9-3zm0 11zm-1 6zm-1-2zm-8 2zm-2-15zm-6 8zm-3-6zm-1 15zm-1-8zm-4-12zm-3 13zm0-10zm-8 1zm-1 7zm0 0zm-2-5zm-5 12zm-5-10zm-7 7zm-4-9zm-1-5zm-1 10zm-2 9zm0-10zm-4-7zm-1 14zm-3-14zm-1 11zm0 4zm-5-19zm-5 14zm-3-3zm-17 9zm-4-6zm-4-3zm-2 8zm-5 2zm-2-13zm-1 7zm-1-13zm-6 6zm-12 10zm-8-12zm-6-4zm-1 5zm-3 11zm-1-15zm-3 17zm-7-11zm-3-9zm-66 14zm-3-3zm-7-9zm-2 19zm-14-13zm-22 12zm-5-10zm-4 7zm-5-11zm-8 0zm-14 10zm-104-4zm-19 2zm-39 4zm-26-15zm-263 1zm149 25zm24 13zm67-16zm49 14zm36-6zm15-4zm13 6zm2 4zm86 1zm7-12zm12-1zm0 10zm7-9zm9 0zm6 9zm8-11zm45-2zm10-2zm43 16zm23-13zm3 3zm4 9zm10-16zm20 0zm10 2zm4 18zm4-20zm8 4zm8 3zm0 13zm0-6zm3 4zm5-3zm2-9zm6 13zm10-9zm0 5zm1-10zm0 15zm9-4zm1-4zm4 2zm5-5zm2 4zm11-4zm0-4zm6 13zm3-9zm1 7zm4-9zm2 10zm7-13zm1 9zm4 8zm0-15zm12 0zm3-1zm5-5zm8 18zm1-10zm2-8zm2 12zm0-6zm8-4zm5 2zm9-4zm1 11zm0 3zm1 4zm2-3zm2-9zm6 13zm3 2zm4-20zm4 5zm3 9zm8-13zm6 14zm5-5zm0-10zm1 16zm2 3zm3-10zm0-7zm1 9zm6-1zm5-4zm1 4zm1 7zm0 2zm3-1zm1-3zm2-6zm1-2zm7-3zm3 12zm5-1zm-2 25zm-4-19zm-1 18zm-5-17zm-2 3zm-4 8zm0 7zm0-2zm-3-9zm-8-2zm-8-4zm-6-2zm-10 9zm-20-1zm0 0zm-2-1zm-3 12zm0-5zm-2-7zm-2 5zm-7 4zm-5-9zm-4-3zm0 3zm-1 4zm-1 6zm-1-17zm-1 13zm0-9zm-4 17zm-3-2zm-2-2zm-3-15zm-2 6zm0 5zm-14 1zm-2-5zm-2-9zm-10 12zm-1-3zm-5-2zm-3 2zm-2 0zm-4-5zm-2 3zm-5 7zm-1-2zm-2 4zm-1-11zm-4 2zm-3-7zm-1 3zm-5 4zm-8 12zm-3-2zm-4-17zm-1 18zm0-13zm-2 5zm-4 6zm-1-15zm-3 10zm-4 1zm-4-6zm-3 10zm-2 2zm-1 0zm0-16zm-3 1zm0 12zm-1-7zm-13 4zm0-4zm-1 10zm-2-14zm-2 9zm-2 4zm-2-14zm-5 4zm-2 10zm-11 1zm-6-6zm-4-12zm-2 7zm0-3zm-4-4zm-2 14zm-14-7zm-5 5zm-1-12zm-6 2zm-3 19zm-63-11zm-12 3zm-18-12zm-7 12zm-8-13zm-43 3zm-29 2zm-182 8zm-31-12zm-7 7zm-110 5zm5 24zm52-13zm8 3zm34 10zm10-9zm227-4zm41 3zm64 6zm21 5zm4 4zm9-20zm52 0zm2 13zm13-5zm4-8zm1 10zm10-3zm6-3zm6-2zm4 3zm3 9zm8-4zm17 2zm5-6zm4 0zm7 8zm1-7zm10-4zm3 16zm6-15zm0 6zm2 6zm3-7zm6-9zm3 21zm5-17zm3-1zm3-3zm1 11zm3-8zm2 2zm3 1zm1-4zm8 0zm0 15zm7-11zm3 3zm1 4zm1 7zm2-12zm6-7zm2 5zm6-2zm4 11zm2-14zm1 16zm1-13zm0 7zm3-2zm2 4zm5-6zm1 11zm0-2zm1-15zm1-1zm4 13zm7-9zm6 13zm1-7zm0-1zm5-1zm2 6zm3-9zm0 11zm9 3zm2 1zm2-12zm3 11zm4-1zm4-9zm3-4zm3 4zm1-4zm1 13zm2-4zm4-12zm9 5zm1 6zm6-7zm2 11zm6-3zm1-11zm3 8zm0-9zm1 18zm3 3zm-4 13zm-9-11zm-6 13zm-5-3zm-2 5zm-1-14zm-3-4zm-3 19zm-2-7zm-2-9zm-2 8zm-8-9zm-3 10zm-3-7zm0 3zm-7 11zm-10-12zm-1 4zm-2-6zm-3 7zm-1 6zm-2-10zm0-6zm-3 18zm-2-13zm-11 9zm-3 4zm-4 1zm-2-19zm-4 1zm-5 11zm-1-9zm-7-3zm-1 18zm-4-7zm-9 7zm0-12zm-5-5zm-5 8zm-3 1zm0 6zm-2-13zm-4-5zm-2 11zm-2 2zm-11 4zm-3-10zm-2 11zm-5-12zm-2 6zm-1 9zm-13-4zm-16 1zm-6-14zm-14 13zm-1-10zm-2 5zm-4 6zm-5-11zm-5-3zm-6 2zm-29 11zm-62-16zm-32 14zm-23-14zm-3 18zm-10 0zm-7-10zm-233 8zm-41-10zm-10-3zm-42 17zm-100-9zm-59 7zm25 15zm21 2zm32 4zm110-12zm72 2zm168 3zm28-11zm70 2zm43 0zm24 1zm26 4zm51 9zm0-9zm7 12zm0-15zm12 2zm0 9zm3-12zm12 14zm0-8zm7 8zm3-15zm4 8zm6 5zm5-2zm2-4zm17-1zm15-7zm1 19zm2-13zm3-3zm2 16zm4-14zm7 10zm0-10zm6 10zm6-6zm11 1zm0 4zm0 5zm5-19zm5 10zm2-9zm3 18zm0-16zm9 14zm6-3zm5-1zm1-6zm2-6zm7 12zm18-9zm5 0zm-45 17zm-8 4zm-1 4zm-4-6zm-3 7zm-2 4zm-4-9zm-10 0zm-12 6zm-10 4zm-2-8zm-26-2zm-1 13zm-20-4zm-1-8zm-1 6zm-10-6zm-4 15zm-10-9zm-6-6zm0 13zm-8-10zm-2-6zm-9-2zm-7 10zm0 3zm-3 5zm-1-15zm-1 12zm-3-10zm-2 15zm-23-11zm-28 6zm-1-11zm-10 6zm-73 1zm-65 5zm-43-2zm-166-2zm-73-5zm-38-6zm-60 15zm-33 2zm127 16zm52 3zm335-2zm56-12zm31 1zm3 10zm11-10zm7 15zm5-3zm8-1zm2-12zm8 17zm19-13zm7 2zm15-7zm-286 40zm-57-12zm-113 1zm-49 2zm-1-5zm-128-3zm-80 8zm-93 30zm9-4zm52-11zm55 15zm7-17zm123 19zm14-15zm296 11zm-205 13zm-111 3zm-228 3zm51 20zm101-8zm14 4zm52 6zm110 12zm-1 10zm-124-10zm-150 17zm-27 24zm29-13zm6-6zm54 14zm42 4zm79-10zm6 6zm75-11zm15 9zm-11 28zm-170-14zm-95 11zm-7-4zm194 23zm-162 8zm-32 11zm-12 2zm-24 8zm-86-21zm7 32zm107 9zm141-19zm76 13zm45-3zm28 4zm-407 24zm-23-2zm-15-10zm17 32zm194 7zm165-17zm3 4zm55 10zm34-6zm2-5zm-573 89zm7 13zm38-9zm400 0zm6 11zm-276 10zm-223 0zm287 20zm202-1zm-43 15zm-272 37zm64 1zm127-15zm4 2zm32-1zm35 17zm91-10zm-181 25zm-272 17zm342-5zm71 57zm-203 9zm-6 8zm-56 5zm-134 5zm-41-8zm171 24zm166 1zm-303 39zm42-4zm266-3zm49 12zm-6 27zm-20-10zm-45 1zm-106 7zm-79 1zm-38-19zm-31 31zm25 4zm218-7zm112 24zm-247 30zm197 2zm71-15zm-106 48z"/>
<path stroke="#CC3A8E" d="m1408 1406zm-3 19zm1-12zm9 6zm4-9zm5 17zm3-5zm4-1zm-13 17zm-3-6zm-2 8z"/>
<path stroke="#5D69B1" d="m2216 604zm-21 18zm11 2zm38-2zm5-5zm2 36zm-22 6zm-4-11zm-17 5zm-1-9zm-15 13zm-37-14zm-17 30zm27 5zm20-17zm14-1zm1 15zm17 5zm10 1zm31-15zm14 25zm-1 9zm-5-13zm-2 16zm-4-1zm-6-14zm-8 6zm0 5zm-12-3zm-3-9zm-10 9zm0 6zm-6-15zm-5 1zm-9-6zm-16 7zm-7-2zm-2-4zm-8 20zm-30-16zm-84 36zm4-8zm19 3zm8-5zm28 11zm26-15zm2 8zm16-10zm0 8zm11 10zm4-13zm5 5zm8 5zm9-7zm5-2zm4 3zm4 5zm9-2zm2-10zm0 15zm2-9zm1-9zm3 5zm13-6zm6 7zm0-4zm5-3zm5 2zm3 12zm1-9zm1 5zm2-4zm1 14zm2-3zm18 9zm-7 7zm-3 6zm-6-16zm-8 3zm-3 5zm-3 6zm-2-5zm-11-6zm-5 6zm-5-8zm-3 5zm-5 2zm-4-2zm-4 4zm-7-7zm-3-3zm-5-1zm-15 12zm-12-10zm-3 6zm-1 4zm-12-3zm0 5zm-10-12zm-4 13zm-2 5zm-7-16zm-9 5zm-3-3zm-4 6zm-4 0zm-1-3zm-10-1zm-6 8zm-6-12zm0 7zm-8 9zm-10-14zm-3 5zm-5 8zm-12-2zm-4 1zm-2-9zm-5-1zm-32 23zm7 9zm7-2zm12-2zm5 0zm0 6zm16-4zm17-12zm8 4zm13 3zm10 4zm12-6zm7 1zm4 4zm31-5zm3 10zm5-6zm4-10zm2 13zm22-3zm8-13zm4 10zm1 0zm2 2zm8 5zm7-17zm3 5zm5-1zm5 2zm8 6zm0-11zm2 3zm2 15zm3-14zm19 11zm5-12zm8 13zm3-14zm4 34zm-2 3zm-19-13zm0 11zm-5 4zm0-19zm-4-2zm0 14zm-3-3zm-5-1zm-1-3zm-1 9zm-1 1zm-7-1zm-5-6zm-1 4zm-6-2zm-3-7zm-4 7zm-2-4zm-6 11zm-3-6zm-5-5zm-2-8zm-3 7zm-9 3zm-8 3zm-2 3zm-4 2zm-12-13zm-9 9zm-8-13zm-3 1zm-6 17zm-4-19zm-1 6zm-1 15zm-15-18zm-6 9zm-4 5zm-15 1zm-4-13zm0 11zm-5-11zm-2 13zm-4-5zm-9 7zm0-14zm0 5zm-4 8zm-3-16zm-5 11zm-13-8zm-10 1zm-5-6zm-24 11zm-4 3zm-8-1zm-3 7zm-1-9zm-5 8zm-1-6zm-8-9zm-8 13zm-21 17zm21-5zm9-2zm13 13zm8-16zm1 10zm1-3zm7 2zm9 2zm3-8zm8 7zm4-3zm5 6zm1-6zm12-9zm15 13zm2-13zm2 6zm14 4zm2 10zm0-9zm11-2zm30-10zm2 13zm12 8zm2-10zm13 2zm4-11zm1 11zm4 0zm4-2zm2 3zm26-2zm3 9zm1-8zm1-13zm1 6zm1 10zm3-5zm3 9zm5-9zm10 4zm0-13zm1 17zm6-19zm10 0zm5 21zm4 0zm12-11zm4 9zm1-4zm1-8zm4-6zm4 1zm3 15zm13 16zm-4-3zm-2-2zm-2-6zm0 4zm-1 0zm-7-2zm-9 7zm-1-7zm-6 18zm-1-13zm-11 0zm-6 6zm-3 3zm-3-6zm-8 9zm-2-7zm-4-2zm-5-2zm-14 1zm-10-6zm-8 6zm-7-1zm-1 5zm-2-3zm-5 10zm-1-11zm-9 0zm-2-5zm-1 16zm-7-15zm-3 12zm-1-12zm-3-5zm-2 6zm-2 11zm-5-4zm-5-6zm0 14zm-5-20zm-5 14zm-2-14zm0 13zm-5-2zm-5 3zm-3-9zm-7 5zm-16-9zm0 12zm-2-13zm-1 11zm-20-4zm-8-4zm-9 11zm0-14zm-3 20zm-23-13zm-12-4zm-11-3zm-8 16zm-1-13zm-3 16zm-5-8zm-2-5zm-9 5zm-32 16zm6-5zm3-1zm1 17zm0-5zm10-1zm4 10zm2-16zm23 14zm2-12zm3-7zm9 13zm3 3zm4-3zm3-13zm0 16zm5-11zm1 1zm10-6zm1 21zm5-14zm23-1zm1 13zm10-8zm9 5zm2-4zm1-8zm3 9zm2-13zm2 15zm6 4zm10-13zm10 2zm3 7zm1-12zm2 14zm0 4zm3-1zm9-13zm4 12zm14-6zm2 6zm2-5zm17 0zm8-3zm3-6zm4 10zm8-4zm12-4zm0-5zm3 13zm2-4zm0-7zm9 3zm1 5zm2 5zm16-7zm7 11zm17-12zm1 12zm1-15zm6 11zm0-13zm1 17zm0-8zm4-9zm5 5zm1 6zm2-2zm8 3zm0-15zm6 33zm-3-5zm-5-6zm-11 11zm-4 4zm-2 0zm-4 3zm-1-17zm-5 4zm-1 5zm0-2zm-2-6zm-9-2zm-10 4zm-4-4zm-12 3zm-2 3zm-15 2zm-10 8zm-8-5zm-6 3zm-5-14zm0 17zm-6-7zm-3-4zm-8 4zm-17 6zm-1-9zm-13-6zm-1 18zm-6-2zm-2-8zm-2-3zm-5 11zm0-15zm-4 3zm-3 0zm-10 11zm-6 3zm-15-2zm-13-9zm-1-5zm-3 10zm-7-2zm-1-9zm-2 16zm0-2zm-4-13zm-3 10zm-3-10zm-6 5zm-13 0zm-11 1zm-3-6zm-18 9zm-1 3zm-3-9zm-2 11zm-2-18zm-4 8zm-2 10zm-8 1zm-41-18zm-5 12zm-92 20zm4-9zm37 17zm18 1zm3-6zm18 2zm12-1zm13-2zm21-3zm4 3zm1 2zm10 4zm12-12zm11 5zm6 9zm4-16zm4 16zm8-3zm4-3zm6-2zm3-3zm12 2zm9 8zm0-18zm2 12zm1 1zm3-1zm0 7zm1-14zm4 13zm4-16zm11 15zm0-14zm4 7zm9 1zm1 8zm11-14zm8-3zm0 16zm5-19zm4 11zm8 9zm5-11zm1-5zm7 12zm0-7zm12 10zm4-18zm2 14zm3-10zm4-1zm4 0zm6 3zm6 9zm3-12zm8 6zm3 4zm0-7zm5 13zm1-16zm12 12zm2-9zm7 12zm8-13zm6 10zm3-17zm0 6zm2 4zm10 7zm3-1zm15-1zm3-7zm7 11zm2-6zm2-4zm4-6zm7-2zm1 4zm3 6zm3 2zm1 5zm0 5zm-6 13zm-7-3zm-3 6zm-7-3zm-1 6zm-2-11zm-7 12zm-5-5zm-3-13zm-7-1zm0 6zm-3-1zm-1 10zm-1-6zm0 2zm-3 4zm-2-15zm-2 13zm-12-15zm-1 6zm-4 4zm-2-3zm-1 8zm-2 2zm0 4zm-4-14zm-2 9zm0-16zm-3 17zm-1 4zm-6-10zm-3 0zm-7-2zm0-8zm-15 4zm-2 10zm-5-6zm-9-4zm-11 7zm-3-8zm-1-2zm-1 4zm-3-4zm-1 17zm-5-6zm0 4zm-4-2zm-1 4zm-5-12zm-2 9zm0-10zm-21-6zm0 20zm-3-18zm-1 5zm-18-3zm-2 14zm-3-17zm-2 7zm-3 7zm-1-13zm-1 19zm-2-10zm-5-11zm-4 5zm-14 0zm-3 13zm-14-18zm-10 21zm-9-8zm-5-13zm-6 7zm-3 11zm-16-14zm-10 8zm-15 8zm-4-12zm-4-6zm-7 18zm-5-4zm-1 2zm-2-5zm-8 7zm-1-13zm-27 2zm-7 4zm-3-3zm-3-6zm-18 4zm-7 13zm-3-10zm-4-8zm-12 10zm-8 8zm-2-5zm-32-6zm-116 2zm87 26zm24-10zm6 11zm16 3zm35-2zm11-14zm5 4zm17 12zm0-6zm18-1zm3-11zm1 9zm4 1zm17-7zm4 0zm16 2zm5 14zm0-5zm16-16zm9 13zm2-5zm3-2zm4 0zm3 13zm8 0zm7-2zm14-2zm9 0zm6-12zm1 13zm29-16zm4 15zm5-12zm2 6zm8 6zm2 6zm7-1zm3-13zm1 14zm4-11zm2 3zm2-7zm3 5zm1 7zm10-1zm1-4zm5 3zm4-6zm6 4zm10-4zm0-10zm15 13zm2-10zm1 8zm2 8zm2-18zm3 13zm7-14zm1 5zm10-4zm0 10zm6-5zm3 5zm8-10zm2 18zm7-2zm3-8zm2 9zm4 0zm0-7zm3 6zm1-8zm4-9zm1 9zm5 0zm2-5zm3 15zm13-7zm7-4zm3-4zm4 7zm3-4zm8 11zm6-16zm10-1zm3 4zm1 7zm16 13zm-7 1zm-13-4zm-12 16zm-10-15zm-1 16zm-7 1zm-3 1zm-5 2zm-12-18zm-1 17zm-6-4zm-1-6zm-8 7zm-2-14zm-4 0zm-1 10zm-2 5zm-1-14zm-2 6zm-5 8zm-1-17zm-1 12zm-2 3zm-9-12zm-1 4zm-3-8zm-8 21zm-3-7zm0-4zm-4-3zm-7 1zm-1-2zm-9 5zm-12-3zm-8 13zm0-5zm0-15zm-3 1zm-14 10zm-22 5zm-6 2zm-2-16zm0 8zm-4 1zm-3-8zm-1 4zm-9 2zm-22-7zm-7 12zm-1-12zm-8 14zm-8 4zm-3-12zm-64-9zm-7 16zm-1-10zm-2 7zm-8-1zm-10 9zm-2-8zm-1-10zm-16 2zm-2-5zm-3 8zm-1 6zm-13-9zm-10 6zm-7-9zm-20 0zm-16-1zm-4 10zm-13 5zm-1-2zm-6 7zm-1-21zm-21 9zm-117 1zm-37 11zm-26-12zm-1 3zm-13 6zm176 14zm1 9zm14-1zm1-6zm12-6zm2 14zm15-5zm6-13zm13 18zm12-20zm1 6zm39 15zm10 0zm0-10zm3 4zm12-3zm10-4zm4 0zm4 12zm4-1zm3-6zm8-12zm1 10zm1 5zm1 5zm4-19zm5 8zm1 5zm1 6zm10-16zm17 0zm18 7zm1-7zm8-4zm4-1zm18 4zm12 2zm1 11zm2-15zm5 1zm2 11zm12 1zm2-7zm4 8zm2-3zm2 6zm2-15zm1 10zm5-1zm3-6zm7 3zm8 11zm11-3zm9-5zm1-8zm4 13zm18-7zm5-9zm3 7zm2 4zm4 5zm3-4zm11-4zm10-8zm4 18zm3-7zm2-3zm1 8zm2-5zm7-7zm3 8zm0-5zm1-8zm19 16zm5 4zm22-20zm3 3zm3 4zm0 5zm3 4zm8-5zm9 4zm6 3zm15-8zm-6 28zm-1-12zm-9 2zm-12 12zm-2-15zm0 12zm-3-9zm-10 4zm-4-9zm-27 14zm-6 1zm-2-12zm-1-1zm-1 16zm-3-8zm-1 7zm0-10zm-4-6zm-3 5zm-10 6zm-3 7zm-1-20zm-3 5zm-5-4zm-1 3zm-7 11zm-8-14zm-6 7zm-11-6zm-1 16zm-7 1zm-2-10zm-1-6zm-8 8zm-8-5zm-3 1zm-1-6zm-4 16zm0-10zm-5 11zm-3 0zm0-13zm-2 5zm-6-10zm-2 15zm-1-12zm-2-1zm-4 15zm-3 2zm-1-15zm-8 8zm-2-4zm0 9zm-1-18zm-2 21zm-5-21zm-1 4zm-3 3zm-2 3zm-7 8zm-4-3zm0-1zm-7 4zm-14 3zm-5-20zm-5-1zm-8 19zm-9-16zm-3 15zm-3 3zm-5-14zm-5 0zm-2 8zm-12-7zm-12-6zm-3 2zm-5 8zm-4 9zm0-5zm-6-3zm-3-6zm-27 13zm0-14zm-8 5zm-1-11zm-2 13zm-1-10zm-11 11zm-55 1zm-18-6zm-34 6zm-2-5zm-2 2zm-201 16zm161 11zm28-7zm10 7zm9-10zm4 7zm11-5zm15-5zm2 16zm16-20zm33 18zm6-3zm8 4zm16-17zm9 18zm2-8zm6-1zm5 7zm10-8zm1-9zm1 3zm11-3zm2 4zm1 16zm3-9zm5 3zm11-1zm4-9zm5-1zm7-2zm1 6zm6 2zm13-6zm32 3zm7 7zm1-6zm7-6zm1 5zm7-6zm4 18zm5-4zm8 6zm7-14zm2 3zm3 2zm0-8zm7-3zm6 20zm6-1zm8-10zm2-8zm1 17zm9-2zm18-9zm0 10zm9-13zm7 12zm14-6zm3-5zm8 8zm1-9zm4 3zm7-2zm1 8zm9 3zm1-5zm5-2zm13 0zm2 8zm2-15zm4 3zm1 9zm3-8zm3-2zm0 8zm4-6zm4 9zm1-10zm6 7zm4-9zm0 11zm1-11zm7 15zm3-16zm3-2zm4 13zm7-11zm3 12zm3-9zm-6 21zm-2 8zm-12-9zm-7 11zm-2-8zm-3 8zm-3 3zm-2-9zm-6 12zm-9-21zm-2 9zm0 8zm-18-15zm-20 11zm-1-6zm-7 10zm0-10zm-6 6zm-2 5zm-9 0zm-3-18zm-8 7zm-6 5zm-4-5zm0 5zm-4-5zm-4 5zm-4 5zm-9-6zm-2 5zm-3 1zm-4-6zm-18-5zm-10 3zm-16 7zm-12-10zm-3 12zm-10-13zm-8 6zm-4-7zm-27 14zm-11-7zm-13 4zm-13-10zm-6 2zm-36 8zm-15 3zm-12-10zm-6 7zm0-7zm-32 11zm-8-19zm-24 17zm-9 0zm-3 4zm-6-9zm-4-12zm-4 5zm-3 11zm-7-8zm-1-6zm-8 2zm-10 3zm-2 13zm-1-6zm-4-9zm-7 10zm-10 6zm-15-3zm-15-11zm-149 2zm59 13zm99 21zm42-8zm8-5zm2 8zm2-10zm14 5zm6 10zm8-11zm49 5zm16-11zm7 17zm9-4zm4-3zm4-8zm1 12zm7-4zm2 3zm8 0zm2-6zm6-1zm3-10zm5 17zm9-7zm5-1zm2-5zm15 7zm2-6zm34-3zm0 7zm7 12zm11-1zm9 0zm26-10zm15 11zm8-2zm10-8zm2-7zm1 9zm12-13zm20 17zm5-17zm6 13zm5-12zm2 16zm2-4zm4-2zm14-7zm13-4zm3 5zm5 16zm10-20zm4 14zm11 5zm1-14zm6 5zm5-4zm3-7zm13 12zm1-6zm2 11zm2 3zm1-11zm2 9zm0 3zm10-5zm17 1zm8-2zm1 4zm10 11zm0-8zm-11 20zm-10-6zm-3-4zm-4-10zm-3 19zm-1-18zm-8 12zm-7-5zm-1 5zm-3 7zm-1-17zm-11 6zm-9-3zm0 11zm-1 1zm-4-6zm0 8zm-15-5zm-10-8zm-5 0zm-4-7zm-28 12zm-25-12zm-6 17zm-2-6zm-5-2zm-9 4zm-4-3zm-5 0zm-26 11zm-13-7zm-19-6zm-9 1zm-3 9zm-2-15zm-12 4zm-29 12zm-10-12zm-3 9zm-6-14zm-3 18zm-2-14zm0 4zm-5 5zm-8 4zm-6-7zm0 5zm-2-16zm-5 11zm-3 7zm-4-19zm-6 12zm-7-9zm-2 8zm-2-7zm-4 13zm0-13zm-6 13zm-2-12zm-33 14zm-24 0zm-4-8zm-5 6zm-3-10zm-8 7zm-6 1zm-19 4zm-12-8zm-6-6zm-7 13zm-3-18zm-4 16zm-1-7zm-4-5zm-8 15zm-45-6zm-24 4zm105 11zm2 3zm0-8zm6 9zm9 3zm17-9zm6-2zm7 10zm6-2zm9 4zm8 6zm1-13zm10-5zm6 17zm7-11zm18 4zm7 5zm15-15zm2 6zm1 11zm2-17zm3 5zm1 13zm8-11zm3-8zm6 1zm3 0zm12 4zm1 3zm5 6zm27 6zm27-17zm10 5zm12 1zm10-10zm8 10zm2 6zm4-16zm0 17zm4-14zm8 14zm4-1zm17-2zm5 0zm1-3zm1-4zm15 10zm2-17zm17 12zm2-12zm12 17zm13-14zm17 1zm3 12zm14-15zm7 20zm9-8zm5-5zm6-2zm14 7zm11 3zm2 3zm10-19zm19 13zm0-12zm1 26zm-8 4zm-9 7zm-2-4zm-1-12zm-8 11zm-10-1zm-9 3zm-6 2zm-11-14zm-1 5zm0 10zm-4-3zm0-10zm-5-1zm-2 18zm-4-14zm-1 10zm-14-12zm-31-3zm-10 0zm-11 10zm-3 2zm-1-5zm-6 11zm-16-10zm-2 4zm-2 4zm-1-13zm-9-3zm-6 20zm-7-18zm-2 3zm-5 7zm-1 4zm-2-17zm-9 0zm-10 14zm-17 7zm0-8zm-4 6zm-22-15zm-2-4zm-19 18zm-7-1zm-9-17zm-2 14zm-5-8zm-21 5zm-8-6zm-8 4zm-10 8zm-15-8zm-6-5zm-16 17zm-39-15zm-14 11zm-7-16zm-35 14zm-1-11zm-6 2zm-4 2zm-20 0zm-5-6zm-49 0zm-13-2zm-79 43zm101-5zm83-15zm18 13zm1-11zm3 6zm5 5zm20-4zm5 3zm6-12zm3 6zm21 2zm8 2zm5-5zm7 4zm16 6zm3-8zm6 7zm5-4zm12-1zm5 7zm12-15zm3 16zm5-3zm42-4zm13-8zm4 14zm17-11zm18 11zm1-5zm3-7zm15 16zm0-15zm4-2zm0-3zm1 7zm5 12zm6-17zm0 13zm3-12zm16 5zm3-9zm1 14zm12 2zm8-11zm1 0zm1 16zm3-15zm0 6zm4-3zm11 7zm11-4zm0 5zm3-10zm3 12zm1-14zm8 11zm9-8zm15 9zm4-5zm22-7zm11 7zm1 8zm9 1zm15-19zm3 8zm1 4zm4-6zm5-6zm10 21zm-2 3zm-2 4zm-3 11zm-22 2zm-5-21zm-5 15zm-23-10zm-15 11zm-11-1zm-10-12zm-17 6zm-2-6zm-1 10zm-2-6zm-12-3zm-8-4zm-9 3zm-5 7zm-4-6zm-2 11zm-3-15zm-1 17zm-7-9zm0 13zm-27-3zm-2-3zm-3 2zm-22 0zm-3-15zm-3 7zm-7 9zm-14-14zm-3 12zm-10-6zm-19-1zm-4 4zm-10-7zm-18 4zm-14-5zm-15 12zm-2 1zm0-12zm-11 11zm-11-6zm-24 10zm-2-13zm-31 2zm-1-5zm-34 1zm-48-5zm-41 1zm-194 13zm264 9zm6-2zm20 5zm5-5zm37 3zm5 3zm12-4zm1 13zm3-5zm3 9zm2-4zm6-8zm32-5zm3-2zm1 5zm4-5zm2 9zm10-2zm1 11zm3 1zm32-8zm4-2zm0-7zm9 17zm4 1zm20-17zm11 2zm1 12zm8-13zm1 14zm5-3zm7-15zm1 11zm3 3zm6-11zm6 10zm1-3zm1-6zm11 1zm2-5zm3 11zm2-5zm3 8zm5-10zm13 1zm12-3zm7 2zm5 11zm2-5zm12 1zm23 10zm12-5zm14 0zm1-15zm9 15zm22 5zm2-8zm1-7zm12 8zm7 1zm4-14zm2 15zm4-7zm2-3zm-6 34zm-9-2zm-1-3zm-2-5zm-5 5zm-12-3zm-4 6zm-4-8zm-9 3zm-2 10zm-15-15zm-3 5zm-7 1zm-3 9zm-4-7zm-4-12zm-3 12zm-6-10zm-11 3zm-1 12zm-12-6zm-3-12zm-14 9zm0 1zm-2 2zm-3-10zm-4 2zm-1 15zm-19 0zm-2-16zm-12 8zm-2 7zm-15-3zm-2 5zm-2-8zm0-12zm-7-1zm-1 7zm-5-3zm-5 2zm-2 15zm-4-2zm-5-2zm-6 3zm-9-5zm-4-1zm-3-3zm-6-5zm-4 11zm-2-4zm-32 3zm-2-4zm-4-9zm-7 18zm-4-4zm-19-13zm-22 14zm-20-3zm-14-1zm-2 1zm-3-14zm-55 12zm-11-7zm-17 6zm-5-12zm-63 9zm-163 33zm118 1zm131-13zm29-2zm4 14zm2-2zm14 1zm9-11zm0 7zm17-5zm12-4zm22-1zm2-3zm8-2zm0 18zm8-14zm5 1zm3 12zm7 0zm3-11zm16 9zm23-14zm5 3zm3 6zm40 0zm9-10zm9 6zm2 6zm7-5zm6-3zm6 5zm2 10zm4-14zm6 8zm1 4zm6-12zm4 13zm4-7zm3-2zm3-9zm11 21zm17-17zm12 15zm1-9zm4-10zm2 12zm5-10zm0 18zm12 1zm5 0zm1-15zm7 2zm4 1zm5 5zm6-9zm5-3zm3 8zm2 5zm7-4zm3-1zm7 4zm1 2zm6-4zm2 9zm1-13zm13-4zm18-4zm-3 22zm0 4zm-3 10zm-2-9zm-3 2zm-12 10zm-34-12zm-5 5zm0-9zm-2 17zm-5-12zm-6 1zm-1 10zm-8-8zm-2 12zm-5-12zm-1-2zm-5 7zm-2-14zm-14 0zm-18 6zm-3 0zm-27 6zm-13-1zm-12-10zm-13 3zm-21 3zm-31-6zm-7 2zm-47 5zm-30-4zm-10 2zm-12 9zm0-8zm-4 11zm-10-1zm-6-10zm-56-3zm-254 6zm283 26zm187-2zm13 1zm20 6zm16-19zm14 12zm0-8zm12 10zm0 7zm16-5zm63-1zm7-9zm9 2zm13-2zm-29 25zm-18 4zm-18-6zm-23 14zm-7-2zm-7-10zm-26 8zm35 12zm11 6zm1-6zm4 1zm15-1zm61 6z"/>
<path stroke="#ED645A" d="m1261 829zm-8 27zm1-6zm4 4zm-2 9zm-5-3z"/>
<path stroke="#2F8AC4" d="m380 841zm1 0zm0 2zm0 1zm0 8zm1-10zm0 15zm2-3zm3 23zm-2-13zm-1 9zm0-3zm-2-10zm0 8zm-1 5zm-5 20zm5-9zm1 3zm1 9zm0-8zm1 1zm1-7zm0 13zm2-12zm0 1zm2-4zm2 10zm0 0zm13 28zm-8-3zm-1 6zm-4-9zm0-4zm-8-1zm-12 12zm-3 17zm6 4zm1-16zm6 18zm8-7zm1 10zm1-15zm5-4zm6 4zm2 4zm-3 13zm-9 2zm-5 0zm-7 7zm-2 7zm-4 3zm-1-17zm-1 5zm-2 3zm-9 21zm4 7zm1-10zm1-6zm2 19zm3-13zm1 12zm5-4zm4-7zm3 11zm10-6zm2 6zm2-17zm4 1zm6-2zm7 17zm12 8zm-3 13zm-2-11zm-10 12zm-2-12zm-1 9zm-1-6zm-2 11zm-5-11zm-2 7zm-3 4zm-2-11zm-2 0zm-4 4zm-9-12zm-4 9zm-1 6zm-5-11zm0 5zm-4-2zm-1-6zm-1 17zm-2-19zm-11 3zm-7 32zm4 0zm10-11zm22-2zm18 16zm1-13zm4 4zm4 5zm1 3zm1-11zm10 3zm2 7zm5 3zm737 17zm-11 6zm-5 2zm-734-4zm-3-14zm-6 19zm-4-17zm-11 15zm-14-11zm-9 13zm-18-17zm-7 16zm-1-4zm-14-14zm-20 32zm3-10zm14 1zm10 16zm16-7zm6 8zm1-12zm3-6zm25 8zm13 3zm0 6zm21 1zm740-20zm3 7zm-722 25zm-11 2zm-22-1zm-4-7zm-8-4zm-3 20zm-9-1zm-7-11zm-5 10zm-10-12zm-8-5zm-6 8zm-7-1zm-4 6zm-8 7zm0-19zm-16 8zm-7 8zm-1-17zm-2 19zm-1-8zm-2-4zm-1 6zm-5 7zm0-11zm-4-1zm-2-9zm0 18zm-2-8zm0 4zm-6 5zm-9-2zm-1 4zm-22 19zm11-2zm4-7zm8 6zm4-6zm14-3zm2 7zm13 0zm2-10zm2 10zm4 2zm4 2zm0-12zm1 9zm8 3zm3-6zm2 6zm3-16zm6 3zm6 15zm4-14zm0 8zm2 8zm1 0zm9-4zm4 2zm1-4zm4-3zm2 8zm14-1zm1-17zm11 19zm3-7zm6 4zm0-6zm1-12zm0 5zm4-4zm9 6zm50 12zm19 0zm676-19zm-735 23zm-7 2zm-11 2zm-2 5zm-3 3zm-3 4zm-1-7zm-4 1zm-3-3zm-4 11zm0-10zm-2 4zm-5-12zm-3 5zm-2-1zm-2 14zm-1-7zm-2 4zm-1 1zm-2-16zm-1 12zm-3-12zm-2 0zm-2 4zm-2 12zm0-2zm-1 3zm-8-14zm-3 9zm-2-9zm0 4zm-4 3zm-3 5zm-3 0zm-9-2zm-4-2zm0 4zm-5-13zm-2 7zm-11 2zm-2-12zm-5 3zm-5-3zm-1 5zm-5-4zm-7 0zm-2 5zm-2-4zm-3 4zm-4 13zm-15-18zm-23 26zm10-1zm21 6zm3-9zm2 6zm14 3zm2 5zm26-3zm10-1zm3 4zm5-8zm2 7zm5 5zm1-2zm0-7zm2-2zm3 0zm6 5zm9-13zm2 10zm1-4zm12 15zm1-18zm1 10zm5-3zm2-7zm3 5zm4 3zm2-4zm8 11zm3-2zm2-11zm20-3zm33 15zm1-5zm11-9zm-67 38zm-3-17zm-11 13zm-1-15zm-4 1zm0 5zm-1 3zm-11-6zm-14 0zm-2 6zm-5-9zm-2 13zm-3 7zm-1-20zm-8 14zm-4-4zm-3 4zm-11-4zm0 8zm-3-5zm-12-6zm-1-6zm-10-1zm-23 6zm-8 1zm-5-3zm-3 9zm-2-2zm-10-6zm20 21zm0 11zm2-13zm10-2zm1 2zm2 4zm5-4zm4 6zm1-8zm6 1zm6-1zm7 7zm6-2zm7 3zm3-4zm0 16zm11 1zm6-13zm8 13zm6-5zm3-6zm20-6zm3 0zm4 8zm1-4zm1 7zm-11 7zm-5 7zm-18-2zm-7-5zm-32 2zm0 7zm-2-6zm-10 3zm-8-1zm-2 0zm-11 0zm-5 1zm940 103z"/>
<path stroke="#CC3A8E" d="m1402 1413zm7 13zm17-4zm6 0zm-10 15zm-3 0zm-8-2z"/>
<path stroke="#24796C" d="m1784 218zm-59 17zm12 6zm29-12zm3 8zm3-12zm4 12zm2 4zm1-14zm3 3zm39 2zm0 9zm10-10zm0-8zm15 14zm32 1zm4 3zm72 17zm-28-11zm-2 4zm-7 0zm-8 11zm-1-7zm-1-6zm0-6zm-2 19zm-12-14zm0 14zm-6-16zm-1 5zm-8-9zm-14 15zm-12-6zm-1-7zm-37 6zm-4 4zm-6-9zm-3 18zm-2-19zm-12 10zm-4-1zm-1 7zm-4 0zm-2-3zm-6 2zm-2-6zm-8 1zm-7 2zm-7-5zm0-1zm-7 4zm0 5zm-1-10zm-9 4zm-1 5zm0-14zm0 5zm-14 10zm-4 25zm0-15zm5 15zm1-14zm5 5zm7 5zm0-5zm7-10zm4 17zm9-14zm12 0zm3 7zm3 0zm3 4zm2 5zm3-11zm9-2zm1 7zm3 1zm1-9zm15 9zm0-10zm1-2zm5 15zm2-5zm7-7zm8 7zm0-8zm2 5zm2 10zm2-9zm3-10zm2 14zm2-8zm2 9zm3-7zm20-2zm0-4zm2 18zm13-16zm1 14zm7-9zm8 10zm3-7zm10-10zm12 2zm8 10zm2 3zm6-16zm1 15zm14-14zm4 2zm2 13zm5-1zm10-10zm5 5zm4-9zm4 4zm11 12zm15 2zm27 18zm-10-2zm-3-8zm-12 12zm-5 2zm-3-4zm-4-17zm-1 19zm-4-7zm-1-10zm0 15zm-10-9zm-1 9zm-6-2zm-1-7zm-5 12zm-1-4zm-1-14zm-13 1zm-1 10zm-4-3zm-1-3zm-7 1zm-7-7zm-1 6zm-3 13zm0-14zm-5 7zm-7-8zm0 11zm-2-15zm-3 12zm-5 3zm-2-9zm-3 13zm-3-13zm-6-5zm-3 11zm-1-11zm-3 18zm-4-3zm-5-6zm0-9zm-1 4zm-5 6zm-15-11zm-1 5zm-4 3zm-6-5zm-3 17zm0-14zm0 9zm-3-16zm-2 16zm-2-5zm-2 7zm0-9zm-5 10zm-22-4zm-3-11zm-8 3zm-2 9zm-6 0zm-1-16zm-15 6zm-4 9zm-10-14zm-6 19zm-1-13zm-5-4zm-5 16zm-1-9zm-7 1zm-4 8zm-2-6zm-4-2zm-11 3zm-2-12zm-3 13zm-3-9zm-2 10zm-3-3zm-7-4zm-3 5zm-4-6zm-32 33zm16 2zm7-12zm6 2zm1-4zm6 5zm0-8zm5 0zm4 12zm4 4zm1-11zm1-4zm1-4zm3 9zm2-10zm13 9zm2-8zm9 15zm0-4zm1-12zm9 21zm14-2zm7-16zm0 18zm1-13zm9 2zm8 0zm2 8zm15-15zm1 15zm0-6zm4-2zm1 8zm2-10zm6 0zm0 13zm12-10zm6-5zm6 2zm1 10zm1-7zm12 6zm2-10zm5-5zm16 14zm0-9zm2 14zm3-11zm2-9zm3 16zm9-6zm2-11zm9 13zm6-10zm4-1zm3-2zm6 11zm2 7zm3-12zm2 9zm5-14zm3 8zm2 10zm3-9zm6-1zm0 8zm1-17zm3 17zm3-10zm2 12zm6-7zm22-11zm2 5zm16 14zm7-13zm4 12zm3-16zm1 17zm9-6zm5 7zm5-17zm12 16zm39 23zm-17-10zm-9 8zm-9-19zm-3 21zm-1-13zm-10 0zm0-4zm-5 1zm-4 2zm-1-6zm-4-1zm-1 20zm-12-20zm-1 14zm-2-5zm-20 3zm-6 6zm-1-2zm-3-12zm-4 0zm-14 4zm0 11zm-3-14zm-2 6zm-4-9zm-2 18zm-4-6zm-3 4zm-1-14zm-1-3zm-4 7zm0 11zm-4 1zm-3-2zm-2-9zm-3 11zm-2-18zm-29 0zm-6-2zm-1 2zm-1 3zm-6-3zm0 4zm-5 6zm-2-10zm-2 3zm-36-4zm-3 5zm0 10zm-4-5zm-1-6zm-4 4zm-2-3zm-3 15zm-6-12zm-1 9zm-5-3zm-2-12zm-8 13zm-9-5zm-6 3zm-2 6zm-3-12zm-5-6zm-6 14zm-3-14zm-12 2zm-2 8zm-7-4zm-1-7zm-2 17zm-5-2zm-12-6zm-3 8zm-2-3zm-4-13zm-4 3zm-7 10zm-5-9zm-8 10zm-2-12zm-12 15zm-8-12zm-30 11zm-3 0zm-4 10zm28 10zm10-13zm0 10zm4 2zm2-5zm1 7zm2-8zm7-8zm0 19zm10-15zm2 10zm3-6zm1-9zm3 9zm6 6zm0-9zm5-4zm5 9zm9 8zm0-17zm12 4zm2 6zm1-9zm4 18zm1-5zm20-4zm5-1zm4-1zm4-2zm0 9zm8-4zm2-10zm1 7zm3 9zm2-2zm2-4zm0-9zm5 2zm9 8zm4-12zm3 11zm8-8zm0 12zm2-5zm6 4zm4 5zm7-13zm6 0zm5 11zm3-19zm1 15zm3-7zm3-6zm6 8zm5-7zm0-3zm21 12zm7 8zm4-8zm5 9zm4-17zm9 8zm10-5zm18 12zm4-6zm5-8zm9 5zm0 9zm8-3zm2-15zm1 5zm9 10zm1-13zm4-2zm1 17zm6-2zm5-6zm5 1zm3 3zm5 3zm2-8zm5-8zm7 5zm0 10zm2-7zm7-2zm4-5zm1 7zm3-7zm8 18zm3-6zm1 6zm3-1zm0-8zm1-5zm2 15zm1-13zm6 12zm8 1zm5-10zm6 2zm5-7zm15 37zm-4-12zm-6-1zm-5 2zm-6-10zm-2 2zm-5 4zm0 4zm-1 10zm-1-20zm-7 9zm-11-5zm-2 1zm-13-5zm-9 11zm-7-9zm-3 16zm-8-5zm-17 1zm-1-3zm-3 3zm-2 3zm-10-10zm-3 9zm-2-10zm-3 13zm-8-12zm0 0zm-5 3zm-11-6zm-5 12zm-4 1zm-6-3zm-4-4zm-3-4zm-3 15zm-2-13zm-6 7zm-8-9zm-2 15zm0-7zm-1-5zm-3 11zm-1 1zm-1-17zm-7 2zm-1 12zm-4-11zm0 13zm0-9zm-1-10zm-3 8zm-4-9zm-8 18zm-13-15zm-10 8zm-4 8zm-1-6zm-7-10zm-2 12zm-3 2zm-9 1zm-3-11zm-1 12zm-2-19zm-4 11zm-3 9zm-2-11zm-1 5zm-2 4zm-3-12zm0 7zm-1 7zm-2-4zm-20-4zm-4-8zm-2 11zm-1 4zm-5-13zm0 6zm-1 7zm-1-10zm-4 8zm-2-15zm0 19zm-14-4zm-2-9zm-3-6zm-2 12zm-2 6zm-18-4zm-7-7zm0 11zm-1-18zm-5 4zm-4 15zm-6-14zm-1-7zm0 11zm-3-10zm-2 20zm0-15zm-6 3zm-2 11zm-4-19zm-5 8zm-3 2zm-2-3zm-1 8zm-2 3zm-4-15zm-4 4zm-8 10zm0-10zm0-7zm-3 1zm-5 10zm-2-6zm-21-6zm-16 11zm-6 27zm7-11zm10 5zm0 4zm9-1zm6 7zm6-5zm0-3zm6-1zm6-6zm2 11zm0 2zm3-9zm1 6zm0-15zm2 19zm0-16zm2 9zm1-12zm2 15zm1-4zm4 0zm2 8zm2-8zm1-5zm9-1zm2 9zm9-12zm2 15zm4-15zm0 9zm3-7zm20 7zm2 4zm10-2zm13 0zm4 0zm9-7zm1-4zm3 16zm6 2zm0-7zm11-11zm3 16zm1-11zm4 10zm2-14zm8 6zm13 3zm3 5zm4-16zm10 1zm2 5zm10 9zm12-8zm0-7zm5 12zm4-6zm1 13zm1-6zm5-6zm1-2zm1 3zm2-6zm3 9zm10-2zm4-3zm1 14zm2-16zm2 14zm1-6zm0-13zm3 15zm3-11zm3 12zm3-8zm0-5zm1 14zm5 2zm8-10zm1 11zm2-7zm3-2zm5-4zm4 4zm0-5zm2 15zm3-16zm1 12zm7-17zm8 4zm8 7zm2-6zm2 7zm6-12zm5 7zm9 6zm10-10zm8 15zm1-17zm0 5zm4 9zm3-14zm6 0zm2 12zm6-8zm2 15zm6-12zm2 11zm6-2zm7-10zm5-6zm2 17zm3-10zm4-1zm4-4zm0 8zm5-6zm11-1zm1 10zm2-6zm3 13zm1-20zm14 18zm6 0zm14 19zm-6 2zm-5-9zm-6 7zm-7-12zm-6 7zm-2-9zm-9 10zm-2 4zm-12-15zm-2 3zm-9 12zm-12-2zm-6 5zm-4-6zm-5 5zm-8-3zm-11 3zm-4 3zm-5-3zm-5-14zm-1 1zm-12 15zm-1-12zm-4-3zm-6 1zm-17 12zm-2-14zm-4 17zm-2-5zm-1-8zm-3 7zm-1-13zm-3 4zm-1 6zm-8-3zm-2 2zm-6-4zm-5 3zm-2-5zm-2 14zm-6-4zm-8-1zm-5 4zm-1-5zm-9-4zm-4 8zm0-8zm-7-2zm-1-6zm-6 17zm-11 3zm-10-1zm-6-5zm-3-5zm-1-8zm-6 10zm-18-8zm-2 3zm-3 14zm-4-8zm-30 3zm-3-10zm-4 5zm-17-2zm-11-7zm-1 11zm-3 2zm-1-5zm-1 1zm-7-1zm-6-1zm-3 8zm-4 2zm-11-3zm0-3zm-1 6zm-1-11zm-2 5zm-7 7zm-2-17zm0 12zm-6-5zm-4-9zm-2 10zm-10-7zm-7 10zm-4-10zm-9 12zm-20-3zm-3 4zm-1-12zm-2 6zm-6 5zm-4-4zm-1-11zm-10 14zm-6-1zm-3-2zm-25-10zm-13 18zm-21 13zm8-4zm1 9zm8 2zm3-3zm8-9zm8 0zm1 15zm9-8zm9-12zm2 12zm4-5zm1-3zm14-3zm1 15zm2-4zm3 2zm1 5zm4 0zm6-8zm3-4zm5-4zm7 8zm6-7zm4 12zm11-11zm8 2zm5-2zm8 13zm5-8zm7 4zm6 4zm1-6zm4 8zm1-8zm1-10zm9 17zm5-11zm4-6zm2 5zm2 6zm7-13zm4 18zm6-12zm1 6zm0-13zm5 6zm10 5zm10 6zm2-5zm2-9zm8 3zm1 8zm23-6zm2-7zm1 4zm1 7zm5-1zm5-7zm6 5zm8 7zm1 5zm2-7zm0-4zm11 3zm1-4zm4 4zm2 2zm4-8zm0 13zm8 1zm6-18zm4-3zm1 21zm3 0zm7-17zm4 12zm16-3zm8-5zm8 3zm6-7zm2 13zm2-15zm2 19zm1 0zm9-4zm5 3zm5-8zm5 6zm14 2zm1-16zm7 9zm5 1zm3-9zm16-3zm0 7zm1 12zm3-16zm1 10zm6-2zm6 4zm2-5zm15-2zm8 7zm11-14zm2 15zm10 3zm2-15zm0 5zm7 4zm7 6zm11-8zm15 2zm17-13zm7 19zm31 15zm-4 2zm-8 2zm-6-1zm-6-9zm0-4zm-6 16zm-3-11zm-1-5zm-1 14zm-6-15zm-19 14zm-6 1zm-7-18zm-12 19zm-11-7zm-5-3zm-11 3zm-3-8zm-5-4zm-12 21zm-2-7zm-7 1zm-1-7zm-9-4zm-32 5zm-18 5zm-2-9zm-9 12zm-3-17zm-1 10zm-8 4zm-7-7zm-3 3zm-4-6zm-17 6zm-3 10zm-6-4zm-6-6zm-4 8zm-7-14zm-10 8zm-4-4zm-17 6zm-8 0zm-4 5zm-2-17zm-2 18zm-13-15zm-9 0zm-1 6zm-10 3zm0-5zm-10-2zm-1 0zm-2 8zm-5-6zm-9 3zm-3-5zm-1-6zm-4 8zm-3 12zm-4-9zm-6 5zm-5-17zm-1 18zm-1-9zm-3-3zm-8-2zm0 11zm-3-14zm-3 13zm-2-14zm-1 5zm-2 16zm-1 0zm-1-17zm-5 0zm-3 11zm-1-13zm-10 18zm-2-3zm-2-11zm-2 12zm-5 0zm-1-15zm-3 16zm-5-17zm0 16zm-7 1zm-8-17zm-2 9zm-4 1zm-3-12zm-1 12zm-4-5zm0 11zm-4-10zm-5 10zm-4-6zm-2 9zm0-19zm-8 14zm-3-4zm-11 2zm-2-8zm-1 15zm-7-4zm-1 2zm-10-8zm-11-10zm-4 9zm-1 9zm-3-5zm-23-6zm-28 11zm-3-6zm-40 20zm20-9zm3 7zm30-9zm6 18zm20-14zm8 4zm6-1zm3 6zm3 6zm5-12zm4 4zm10-8zm12 8zm7-1zm5-8zm1 18zm2-10zm3-7zm1 4zm1 10zm7-1zm5 5zm3-9zm1-8zm5 2zm1-6zm2 9zm1-3zm10 3zm0 9zm7 2zm3-18zm2 12zm12-8zm1-1zm5 6zm1 5zm1 4zm0-20zm7 6zm4-2zm3 10zm6-3zm3-8zm3-2zm3 6zm11-1zm8 11zm4-12zm2 4zm2 8zm4-9zm10-7zm11 2zm8 9zm5-4zm1 3zm1-8zm5 0zm14 1zm17 7zm1-5zm3 4zm27 5zm5-8zm1 9zm2-6zm2-4zm2 8zm2-5zm4 6zm4-4zm15-1zm0 9zm9-8zm6-6zm3 16zm15-3zm4-11zm1-5zm8 2zm12-2zm0 17zm6-18zm2 16zm9-13zm5 7zm5 3zm14-1zm2 1zm16-7zm0 13zm4-6zm2-7zm9-2zm0 9zm2 5zm4-16zm5 13zm3-8zm6 1zm2-5zm4-1zm3 8zm3 7zm4-13zm2 15zm2-8zm10-1zm4-5zm5 12zm4-13zm4-5zm6 3zm5 9zm4-1zm12-9zm3 4zm6 5zm6-6zm2 9zm5 2zm2-10zm2 15zm1-6zm9 3zm3-6zm20 31zm-16-1zm-1-18zm-2 10zm-11-11zm-4 0zm-2 20zm-4-1zm0-20zm-2 13zm-5 8zm-1-15zm-4 8zm-2-6zm-8 10zm-13-12zm0 15zm-2-13zm-3 11zm-2-11zm-1 9zm-6-1zm-1-6zm-5 2zm-2-9zm-4 1zm-4-3zm0 9zm-3 9zm0-1zm-4-6zm-2-7zm-4 15zm-1-6zm-3-4zm-7 2zm-1 7zm-3 0zm-4-9zm-4 5zm-15-12zm-4 6zm-10 4zm-2-12zm-6 12zm-1 7zm-2-5zm-4 3zm-25-14zm-1 13zm-4-3zm-4-1zm-5-12zm-2 11zm-5 3zm-19 4zm-2-6zm-1 3zm0-5zm-6 3zm-22-1zm-4 5zm-2-11zm-5-7zm-1 20zm0-8zm-5-9zm-1 17zm-5-3zm-13-5zm-2 4zm-15-11zm-12 12zm-3-10zm-5-6zm-7 5zm-4 14zm-1-13zm-2-7zm-1 11zm-1 4zm-4-4zm-1 5zm-2-11zm-1 15zm-1-10zm-2 4zm-6 7zm-9-15zm-15 3zm-1 11zm-3-20zm-9 3zm-9 16zm-12-14zm-17-3zm-5 11zm-8 0zm-4-2zm-3-8zm-2 13zm-3-10zm-4 2zm0 5zm-2-2zm-3-8zm-2 7zm-1-6zm-4 0zm0 5zm-4-4zm-16 1zm-7-3zm-3 12zm-3-7zm-3 5zm-7 2zm-4-14zm-1 16zm-5-17zm-3 15zm-5-10zm-4 7zm-1 6zm-10-2zm-2 5zm-2-5zm-12-14zm-1 13zm-5-5zm-7 9zm-21-8zm-3 8zm-7-6zm-4 2zm-8-7zm-6 8zm-6-13zm-3-1zm-28 7zm-24-4zm-21 18zm12 9zm18-1zm1 9zm2-14zm39 13zm11-10zm5-6zm10 8zm4-3zm20 2zm7 5zm8-12zm12 16zm3-17zm2 20zm5-4zm9-13zm9 5zm8 7zm5-8zm1 4zm5-6zm1 15zm1-17zm3 3zm3 2zm12 2zm2-5zm1 14zm0-10zm5 10zm0-7zm4 8zm1-13zm2 11zm7-2zm3-16zm1 8zm6 11zm1-12zm4-4zm2 10zm1 0zm1-7zm1 14zm3-12zm5 12zm1-13zm3-6zm7 13zm2-11zm7 5zm4 13zm0-20zm2 3zm18-2zm10 18zm18-5zm4-3zm12 5zm12 3zm8-4zm3-9zm3 4zm4-11zm4 19zm9-1zm4-12zm0 9zm2-14zm1 10zm6-4zm10 12zm7-4zm0-4zm3-5zm3 0zm5 6zm2-10zm3 16zm1-11zm6 14zm1-8zm4 1zm4-14zm3 7zm1 10zm4-6zm0 9zm1-14zm1 13zm9 2zm3-6zm3 3zm5-7zm1 7zm0-12zm3-3zm0-1zm14 12zm7-4zm5 3zm1 4zm5-16zm9 19zm7-7zm9-3zm13 1zm2 5zm1-1zm19-10zm1 7zm1-11zm2 16zm2-15zm6 11zm8-1zm5 3zm2 3zm1-5zm0-5zm5 13zm2-11zm2 3zm1-5zm2 9zm7-14zm27 18zm0-13zm10 0zm3-6zm10 11zm1-5zm4-1zm2 12zm0-18zm2 5zm4-4zm1 13zm1 4zm11-8zm3-4zm5-1zm3 4zm2-7zm4 16zm8-7zm19 22zm-7-3zm-2-5zm-2 9zm-2-13zm-4 20zm0-20zm-1 15zm-4-9zm-2-6zm-2 19zm-6-18zm-6 4zm-7 13zm-3-11zm-5 8zm0 5zm-3-1zm-9-3zm-1-9zm-3 13zm-2-16zm-5 12zm-2-3zm-2-6zm-3 3zm-8-3zm-1 7zm-1-4zm-9 4zm-1-11zm-4 9zm-12-7zm-3 2zm-8-1zm-1 11zm-5-7zm-2-9zm-1 6zm-9 1zm-6 9zm-1-4zm-4 8zm-4-21zm-3 15zm-3-6zm-3-3zm-1 9zm-17-14zm0 10zm-2 8zm-3-5zm-2-5zm-2-9zm-18 16zm-9-15zm-1 9zm-7-10zm-3 3zm-4 7zm-1-9zm0 14zm-6-6zm-3-9zm-1 14zm-1-9zm-5 13zm-3-17zm-4 10zm-1-10zm0 20zm-7-6zm-6 4zm-4-3zm0-6zm-11 4zm-8 6zm-8-14zm-10 2zm-3 8zm-4-9zm-5-3zm-20 8zm-1-6zm-9-3zm-16-1zm-12-2zm-5 19zm-5-7zm0-11zm-4 9zm-1 8zm-1-12zm-4-4zm-2 5zm-12-1zm-2 14zm-17-13zm-1-7zm-9 19zm-3-19zm-4 20zm-4-10zm-1 7zm-4-15zm-8 0zm-2 14zm-7 4zm-4-4zm-1-16zm0 5zm-2 4zm-6-7zm-2 4zm-2-6zm-5 12zm-2 9zm-1-19zm-3 4zm-6 6zm-9 1zm-2-7zm-2 9zm-1 4zm-4-19zm-2 8zm-4 11zm-1-11zm-2 12zm-22-14zm-3 8zm-6-6zm-3-4zm-12 11zm-1-4zm-4 7zm-18-14zm-16 0zm-4 8zm-4 8zm-8-18zm-23 9zm-3-6zm-6 8zm-21-9zm-56 2zm-5-1zm21 17zm3 8zm9 2zm5 0zm9-9zm14 4zm21 2zm11-7zm15 13zm2-6zm24 8zm1-5zm8 0zm4 11zm11-8zm2 6zm2-8zm0 6zm14 1zm12-7zm9-1zm1 5zm7 2zm0-8zm6 11zm0-12zm14-8zm1 21zm11-11zm13-3zm6 6zm5 7zm2-3zm0-17zm12 19zm2-17zm1 7zm2-2zm1 13zm2-9zm20 7zm10-10zm12-2zm5-1zm0 12zm1-10zm11 12zm2-3zm1-9zm6 13zm4-3zm10 2zm2-12zm0-5zm5 2zm1 10zm1 4zm0-13zm13 7zm2 5zm13-14zm1 16zm12-2zm8-5zm1-11zm3 12zm4-2zm1-11zm2 21zm14-21zm7 20zm1-13zm1 7zm9 2zm2-2zm4 7zm7-2zm3-6zm7 8zm10-15zm9 13zm7-4zm6-11zm1 0zm1 4zm3 11zm3 2zm4-10zm2 1zm2-12zm3 8zm5-5zm5 18zm4-10zm0 7zm8-5zm6 4zm9-10zm3 9zm6-10zm4 3zm1 6zm12-13zm40 18zm5-6zm11-4zm14-3zm2-3zm3 13zm3 3zm10-12zm5-5zm19-1zm5 18zm4-3zm10-1zm3 2zm5-18zm19 1zm3 14zm5 6zm6 6zm-9 12zm-9-10zm-2 5zm-6-7zm-1-5zm-4 19zm-3-8zm-1-6zm-2 10zm-4 1zm-4-1zm-4-5zm-6-7zm-4 14zm-1-17zm-2 20zm-14-13zm-4 5zm-1-12zm-5 2zm-15 12zm-4-6zm-6-8zm-2 6zm-5 14zm-1-14zm-1 4zm-2 11zm-4-5zm-11-12zm-8 6zm-6 3zm0-12zm-2 7zm-2-3zm-22 6zm-12-11zm-14 4zm0 12zm-6-15zm-1 10zm-4 8zm-5-19zm-2 6zm-7 0zm-6-1zm-8 13zm-2 2zm-3-15zm-6-2zm-4-2zm-3 10zm-3-10zm-7 18zm-3-10zm0-8zm0 14zm-6-6zm-3-8zm-5 13zm-4 2zm-8-4zm-2-3zm-2 7zm-3-15zm-2 7zm-3 10zm-1-14zm-2 3zm-2-3zm-1 11zm-8 0zm-12-10zm-3 10zm-11-9zm-3-6zm-12 14zm-2-9zm0 14zm-9-9zm-2 10zm-6 1zm0-21zm-1 15zm-7 1zm-1-10zm-3 11zm-4 1zm-16-5zm-11-13zm-1 15zm-13-7zm-1-1zm-6 10zm-2-16zm-3 16zm-14 0zm-6-14zm-6 13zm-6 2zm-4-9zm-12 9zm0-8zm-7-7zm0 13zm-12-1zm-6 0zm-4 0zm-16-10zm-7 16zm0-4zm-5 0zm-1-10zm-3 11zm-1-13zm-10 4zm-10 1zm-7 6zm-13-4zm-2-4zm-9 12zm-3-13zm-3 3zm-10 5zm-4 2zm-8-16zm-2 17zm0-11zm-5 14zm-13-16zm0 5zm-20 10zm-18-12zm-31 10zm-15 0zm-4-12zm26 35zm13-1zm8-7zm6 9zm9-1zm12-1zm7-14zm6-3zm7 9zm1 10zm12-17zm6 9zm21-7zm22 10zm7 5zm8-19zm0 5zm3 2zm16-3zm9-2zm3-1zm6 4zm7 10zm5-2zm0-4zm3 4zm8-4zm6 3zm0 5zm0-14zm13-1zm2 2zm5 5zm0 0zm4-3zm4-7zm1 9zm1 11zm6-12zm0-6zm2 15zm2-13zm3 11zm2 5zm22-20zm3 13zm20 2zm0-12zm5 15zm12-8zm4 10zm5 0zm4-2zm2-15zm15 2zm2 10zm18-5zm2-6zm3 10zm14-4zm0-3zm8 7zm3-5zm9 12zm8-17zm4 0zm5 0zm1 17zm7-13zm1 3zm1 10zm6-18zm5 6zm5 7zm0-15zm3 12zm3-7zm2 0zm0 3zm7-7zm12 7zm0-8zm1 16zm4-2zm3-2zm6-12zm0 14zm2-3zm5-6zm0 5zm3-3zm2 12zm2-9zm1-8zm1 15zm0-11zm16 1zm2 0zm2 6zm4-7zm1 4zm3 3zm0-10zm3 14zm8-10zm2 13zm1-8zm4 7zm6-4zm13-15zm3 9zm5-9zm2 16zm1-7zm4-4zm1-6zm12 1zm3 13zm9-5zm7 12zm6-12zm4-6zm2 5zm11-7zm2 14zm25-6zm1-6zm3 18zm2-7zm21-2zm1 3zm2-7zm2 7zm3-6zm15 4zm3-3zm3 4zm6-11zm2 7zm23 19zm0 10zm-14-14zm0 12zm-1 5zm0-20zm-4 9zm-3 5zm-4-2zm-18 1zm-6 6zm-8-12zm-18-2zm-12 8zm-15-3zm-1-3zm-1 13zm-4-10zm-4 4zm-4-14zm-7 18zm0-7zm-16-4zm-1-7zm-13 15zm0 5zm-2-5zm-1-12zm-8 6zm-5 1zm-2 5zm-4 3zm-2-15zm-11 0zm-6 6zm-8-8zm-3 1zm-2 11zm-6-4zm-2 6zm-1-9zm-12-2zm-16 6zm-16 0zm-5 9zm-6-17zm-9 3zm-6 7zm0-5zm-5 4zm-5-1zm-1-6zm-1 3zm-29 5zm-4 1zm-2-2zm0-5zm-2 4zm-4 6zm-3 2zm-4-18zm-1 10zm-2 8zm-1-6zm-2 9zm-1-20zm-6 14zm-1 5zm-7-1zm-2-17zm0 9zm-9-4zm-12-1zm-2-6zm-2 8zm-7 4zm-1-7zm-3 6zm0 5zm-6 4zm-3-15zm-1 13zm-5-9zm-2 3zm-4-11zm0 13zm-3-11zm-15 17zm-4-13zm-1 8zm-3-9zm0 13zm-15-1zm-6-17zm-3 1zm-6 16zm-1-11zm-3 2zm-10-5zm-10 5zm-4-6zm-8 8zm-6-7zm-1 16zm-2-13zm-1 9zm-4 1zm-1 4zm-1-14zm-3 10zm-6 1zm-2-6zm-5-9zm-2 8zm-5 3zm-5-2zm-5 8zm-4-11zm-1-9zm-1 12zm-13 7zm-6-10zm-8 0zm-7 0zm-2 7zm-20-10zm-15 2zm-13 1zm-7 7zm-43-3zm-3-10zm-3 5zm-2 0zm-4 3zm-2-8zm-15-1zm-5 16zm-6 3zm-27-18zm37 28zm0 8zm10-1zm3-2zm5-12zm32 11zm31-4zm22 12zm3-16zm15 8zm13-3zm7-1zm4 12zm0-11zm19-10zm3 0zm2 5zm5 6zm4-8zm1 10zm1 7zm2-3zm6-17zm2 8zm0 5zm8 8zm1-17zm5 7zm0 8zm1-16zm9 14zm8-16zm0 17zm3-15zm1 14zm1-5zm5-12zm10 12zm4 1zm0-5zm8 10zm2-17zm15 7zm2 3zm4 3zm5 7zm7-21zm12 1zm10 20zm2-17zm3 7zm9 4zm12 6zm1-14zm2 3zm1-10zm2 7zm3 3zm3 7zm2-9zm2-1zm6-5zm2 3zm4 6zm2-9zm1 5zm2 12zm4-8zm2 9zm5-20zm6 16zm5 2zm7-7zm1-11zm1 16zm1 5zm18-7zm6 2zm13-14zm2 13zm1-15zm14 7zm1 6zm2-10zm13 4zm1 8zm6-12zm0 14zm14-5zm11-4zm0 6zm4-12zm4 10zm3 1zm0-13zm13 18zm6-7zm10 1zm5-12zm0 4zm3 5zm4 1zm0-5zm2 15zm4-11zm0 9zm3-14zm1 17zm4-10zm3-3zm0 10zm1-6zm2 7zm6-16zm9 16zm5-18zm2 15zm3 3zm5-10zm6-8zm14 8zm4 4zm6-8zm0 8zm1 4zm1-8zm2 4zm2-11zm1 11zm5-11zm2 6zm3 4zm2 5zm9-13zm1-2zm4 10zm9-12zm1 11zm3-10zm2 15zm6 2zm4-11zm7-2zm0 9zm3 5zm3-14zm3 4zm1-4zm3-2zm6 11zm1 6zm4 1zm3 11zm-1 4zm-3 4zm-9 2zm-10-2zm-1-10zm0-7zm-10 16zm-2-3zm-10-5zm-3-7zm-1 19zm-9-3zm-1-17zm-2 13zm-1-4zm0-10zm-3 8zm-4 4zm-3 4zm-7-7zm-5 5zm-20 7zm-5-4zm-4-17zm-4 19zm-2-4zm-3 1zm-2-4zm-4 4zm-8 1zm-11-8zm-2 12zm-9-3zm-6 2zm-4-12zm0-6zm-7-2zm-1 9zm-3 7zm-1-5zm-8-2zm-4 11zm-3-9zm-3 6zm0-14zm-11 6zm0-4zm-1 5zm-3 3zm-10 6zm-3-2zm-6-17zm-6 4zm-1-3zm-1 12zm-3 4zm-16-7zm-2 11zm-3-3zm-2-15zm-5-3zm-3 14zm-2-12zm-5 1zm-7 16zm-1-15zm-3 9zm-1 4zm-5-1zm-9 0zm-8-7zm-4-7zm0 12zm-1 3zm-5 3zm-10-3zm-1-10zm-2 6zm-8 5zm-1-18zm-3 14zm-2 6zm-4 1zm-11-15zm-4 7zm-2-7zm-6 11zm-7-17zm-4 15zm-2 4zm-2-15zm-3 10zm-2 4zm-2-16zm-4 11zm-9 7zm-3-16zm-2 3zm-1 6zm-2-7zm-4 8zm-1-5zm-3-9zm0 18zm-2-9zm-2 7zm-1-11zm-1 6zm-5 8zm-2-7zm-13-6zm-5-3zm-8 17zm-1-18zm-2 9zm-5 2zm-2-9zm-3 9zm0-6zm-9 4zm-4-3zm-2 12zm-10 1zm-2-13zm-5 10zm-3-10zm-2-3zm-3 11zm-1-8zm-2-3zm-3 1zm-7-1zm-9 6zm-9 6zm-29-1zm-3-11zm-7 3zm-3-2zm-1 12zm-6-13zm-4 14zm0-14zm-2-3zm-1 9zm-17-7zm-17 17zm-2-9zm-7-6zm-18-6zm-1 12zm-5-12zm-18 19zm-4-17zm-1 1zm-25 3zm-1-6zm-1 11zm-3 4zm-38-15zm28 26zm28-2zm3 13zm3-3zm14 3zm5-2zm6 2zm41-2zm30-9zm36 11zm2 6zm12-17zm5 15zm12-14zm3 6zm3 6zm9-12zm2 12zm1 3zm4-20zm1 10zm3 1zm1-6zm4 4zm9 9zm1-16zm2 17zm1-10zm5 0zm1 6zm2-11zm10 1zm1 3zm1 1zm6 5zm7 6zm4 0zm4-1zm1-8zm3-1zm3 5zm3-4zm2-7zm13-4zm0 15zm2 3zm6-16zm7 15zm6-14zm2 5zm10-8zm1 13zm1 5zm4-10zm5 10zm3-18zm18 12zm10 6zm3-3zm0-5zm1-4zm1 14zm5-11zm2-9zm9 21zm0-6zm3-11zm1 12zm0-4zm3 6zm2-3zm11-5zm7 6zm6-1zm0-5zm15 1zm3-10zm8 3zm3-3zm4 7zm4-2zm3-4zm1 7zm19 9zm2-16zm1 9zm8 2zm10 2zm3-9zm10 1zm6-2zm3-4zm2 20zm1-13zm8 13zm0-21zm4 13zm3-11zm4 6zm4 7zm1-11zm4 14zm3 0zm3-16zm3 12zm5-10zm13 3zm3 14zm11-17zm1 5zm5 5zm6-2zm17 2zm3-8zm5 8zm0-9zm8-4zm5 1zm4 8zm1 8zm3-5zm17-4zm26 10zm15 2zm27-12zm10 11zm-18 11zm-6 7zm-3 1zm-3 4zm-8-19zm-6 16zm-3-4zm-6 4zm-46-11zm0 12zm-10-19zm-9 4zm-8 6zm-3-2zm-7 4zm-6 8zm-9-12zm-6-1zm-2 7zm-13-4zm-3-2zm-2 7zm-8-2zm-4-11zm-1 6zm-1 13zm-19-17zm-8-3zm-12 10zm-2-9zm-26 14zm-2 4zm-7-9zm-6-9zm-9 3zm-10 9zm-1-8zm-10-3zm-6 6zm-4 2zm-1 4zm-5 5zm-9 0zm-5-7zm-3 7zm-1-11zm-3-9zm0 4zm0 0zm-4 11zm-8-7zm0 11zm-3-5zm-6-3zm-4 0zm-1-4zm-8 5zm-4-2zm0-4zm0-4zm-6 11zm-10-4zm-3 7zm0-11zm-10-5zm-3 3zm-2 10zm-11 4zm-4-15zm-1 17zm-8-8zm-3-5zm-9-2zm-3 1zm-8 8zm-1 3zm-9-8zm-7 2zm-1-4zm0 9zm-2-15zm-7 6zm-2 15zm-1-17zm-2 11zm-5 1zm-8-14zm-5 0zm-4 16zm0-18zm-5 19zm-1-17zm-3 16zm-6-18zm-3 13zm-3-13zm-3 13zm-1-6zm-1 8zm-1 3zm-11-17zm-14 11zm-9 3zm-9-9zm-9 9zm-5 2zm-29-12zm-1 13zm-1 3zm-42-13zm-14-5zm-1 9zm0-5zm-58 23zm4-5zm27 6zm4-1zm32-4zm19 12zm3-4zm5 7zm2-5zm3-6zm4 5zm4-11zm3 5zm17 14zm13-17zm4 0zm8 3zm7-3zm3 14zm14-7zm21-6zm4 5zm0 7zm9 2zm10-2zm1 3zm14-12zm3 5zm0 1zm1-10zm5 16zm0 0zm1-7zm1-10zm3 10zm8-3zm1-9zm2 13zm4-1zm5 0zm14 2zm9-5zm4 4zm1 0zm1 3zm8 2zm1-9zm14 4zm8-8zm13 3zm2-8zm5 6zm5 5zm4-1zm1-11zm1 14zm7-5zm0-4zm1 14zm7-19zm6 6zm9 15zm6-7zm2-1zm1-13zm4 11zm2 2zm6-1zm3-7zm1 4zm0-3zm4-6zm1 17zm5 4zm4-9zm0-4zm0-5zm2 18zm4-6zm4-15zm1 5zm2 14zm0-10zm8-2zm6-1zm25-2zm8-3zm1 18zm6-6zm1-11zm5 1zm4 16zm14-11zm1 7zm21 2zm1-12zm7 6zm8 9zm5-17zm6 18zm4-4zm5-10zm4-1zm4 12zm3-16zm4 15zm27-11zm6 2zm5 1zm14-8zm10 18zm14-19zm25 16zm21 0zm12 1zm17 6zm-19 10zm-20 0zm-4-9zm-14-1zm-8 14zm-3-5zm-7 5zm-9-4zm-3-5zm-6 8zm-8-7zm-20 7zm-33 3zm-7-10zm-26-1zm0 0zm-7 14zm-3-7zm-3 7zm-22-11zm-3 3zm-6-4zm0 11zm-6-17zm-2 12zm-4 2zm-3-4zm-13-9zm-12-1zm-21 6zm-10 13zm-2-21zm-8 11zm-2-7zm-2 9zm-5-1zm-1-11zm-2 7zm-4-4zm-1 13zm-8 0zm-7-16zm-14 12zm-4-7zm-2 9zm-1-8zm-7-6zm-6 10zm-9-10zm-19 20zm-7-7zm-2-9zm-13-5zm-7 2zm-7 2zm-13-2zm-14 8zm-20 1zm-8 0zm-1-9zm-2 16zm-8-13zm-10 10zm-1-10zm-13 10zm-7 3zm-9 3zm-24-20zm-4 12zm-1-4zm-5-1zm-2 13zm-1-12zm-16 8zm-11-7zm-2-7zm-3 18zm-19-6zm-1-7zm-4 10zm-13-6zm-25-5zm-8 12zm-3-16zm-2 3zm-13 2zm-22-6zm18 26zm4-3zm27 9zm8-2zm8-5zm2 5zm7 7zm10-10zm4 0zm9-3zm9 0zm25 6zm5-7zm1 11zm21 6zm10-17zm6 17zm3-4zm7 2zm0-9zm17 8zm19-13zm4 2zm62 12zm11 0zm1-6zm6-5zm12 2zm20 6zm1-11zm14 6zm2-9zm21 18zm1-8zm2-9zm1 18zm3-6zm4-2zm4-10zm8 7zm17-8zm3 13zm4-1zm7 4zm25-16zm3 16zm25 2zm21-11zm6 13zm2-5zm12-14zm16 0zm5-1zm3 16zm22-13zm4 11zm4-10zm13 3zm6-4zm4 4zm8-1zm10 4zm8-3zm7 2zm0 11zm3-20zm37 5zm6 7zm11-9zm10 12zm2-16zm6 3zm-11 31zm-39-4zm-12 9zm-25-1zm-16-13zm-6 5zm-1 0zm-11 3zm-25-2zm-9-2zm-1 11zm-18 3zm-8-12zm-1 10zm-12-10zm-1-6zm-10 18zm0-12zm-38-4zm-29 1zm-17 2zm-20 0zm-2 7zm-21 1zm-23-3zm-4 0zm-2-4zm-3 7zm-5 1zm-3-2zm0-8zm-6 6zm-14-7zm-11 1zm-4 9zm-5 4zm-15-18zm-4 8zm-6 11zm-30-2zm-10-4zm-1-5zm-5 5zm-7 5zm-11-12zm-4 3zm-5-3zm-13-4zm-3 2zm-9 4zm-7 11zm-4-3zm-13-12zm-8 12zm-2-4zm-12-2zm-5 5zm-12-1zm-5-15zm-4 11zm-10-7zm0-4zm-21 3zm-2 17zm-10-7zm-5 4zm7 11zm0 13zm3 0zm5-17zm7 8zm6 2zm3-4zm4-2zm4 12zm2-18zm6 9zm40-3zm8 3zm7-2zm12-4zm16 4zm5 7zm9 1zm5 1zm0-8zm9-9zm1 16zm6 4zm11-9zm10 8zm10 1zm7-11zm8 7zm3-5zm8-5zm11 11zm10-9zm0-4zm4 4zm12-5zm11-3zm11 9zm6 6zm3-11zm2 15zm2-18zm4 16zm5-2zm14 3zm9-5zm14 6zm3-1zm8-12zm9 1zm1-2zm0 9zm17-9zm11-1zm14 14zm39-4zm11 5zm16-15zm2 3zm6 0zm13 8zm1-15zm30 20zm17 0zm3-19zm4 12zm-23 24zm-18-12zm-8 12zm-11 1zm-52-8zm-6 2zm-21-6zm-12 14zm-12-4zm-5-6zm-15-1zm-11 2zm-23-7zm-8 15zm-5-2zm-22-14zm-4 3zm0-2zm-7 8zm-7 6zm-5-8zm-8-8zm-8 15zm-6-15zm-22 9zm-7-5zm-10-3zm-21 7zm-4 13zm-5-11zm-8 9zm-6-12zm-27 14zm0-14zm-5-2zm-1 4zm-8 8zm-22-1zm-36-1zm-3-13zm-15-1zm-9 16zm-10 4zm-11-21zm-15 5zm-3 4zm13 28zm29-6zm1 12zm2-19zm48 0zm15 15zm4 0zm8 0zm6-4zm8 7zm4-8zm30-9zm14 8zm9-7zm8 5zm20 11zm5-18zm3 16zm26-5zm28-13zm8 9zm15-1zm13 9zm0-12zm9 7zm8 6zm17-16zm2 13zm2-8zm5-1zm3 12zm9-7zm40-11zm1 18zm17-2zm7-15zm33-1zm-162 32zm-18-10zm-8 7zm-43-3zm-17 7zm-2-10zm-17 8zm-5-9zm-23 17zm-32-17zm-10 15zm-19-10zm-11 9zm-1-4zm-4 0zm-1 8zm-5 2zm-24-10zm-57-3zm45 27zm52 20zm-538 77z"/>
<path stroke="#E58606" d="m2028 646zm18 56zm-163 38zm-158 27zm10-16zm13 12zm65 0zm27-13zm-9 41zm-9-14zm-28 14zm-31-20zm-31 5zm-6 4zm-67 29zm15-2zm22-8zm11 9zm50-10zm18-1zm3 14zm24-12zm11 7zm6 2zm21-1zm8 1zm3-15zm6 20zm1-15zm0-6zm2 21zm9-16zm9 3zm5 3zm47 21zm-4 0zm-29 0zm-17 9zm-5-2zm-15-15zm-1 12zm-5-6zm-1 9zm-3-3zm-2-8zm-1 4zm-3-8zm-4 4zm-12 9zm-3-3zm-10-10zm-10 1zm-3 4zm-7-5zm-8 18zm-8-8zm-4-2zm-10 9zm-13-1zm-41-16zm-37-1zm-18 0zm-6 7zm-33 31zm38-15zm64 4zm12-4zm14 1zm4 9zm29-1zm12 7zm11-4zm1-8zm20-1zm4 4zm6 1zm3 0zm0-7zm1 17zm2-15zm23 12zm1-3zm2-13zm8 14zm0-14zm0 7zm7-3zm7 10zm3-4zm4 6zm2-15zm7 14zm8 8zm0 16zm-11 2zm-2-16zm-1-3zm-1 9zm-1 10zm-8-8zm-22-10zm-7 2zm-17 11zm-5 0zm-3-14zm-10 3zm-9-2zm0 8zm-1-4zm0-1zm-9 3zm-10 2zm-1-9zm0 12zm-5-1zm0 1zm-10-12zm-11 6zm-7 2zm-4 5zm-2-10zm-12 14zm-10-18zm-8 7zm-2-4zm-6-2zm-31 14zm0-15zm-30 16zm-10-3zm-27 14zm72-4zm10 1zm3 9zm5-8zm1-2zm33-1zm5 17zm11-4zm13-3zm6 9zm5-13zm10 1zm4 5zm9-9zm2 6zm1 8zm2-6zm13 6zm13-12zm3-4zm2 13zm33 4zm11-9zm4-5zm5 17zm10-15zm22 4zm-3 15zm-28 0zm-8-3zm-16 20zm-4-17zm0 5zm-2 4zm-40 5zm0-16zm-5-1zm0 6zm-5 12zm-5-15zm-4 5zm-17-8zm-2 21zm-7-11zm-4 1zm-8-7zm-8 14zm0-12zm-2 15zm-4-12zm-7 5zm-3-12zm-3-2zm-6 1zm-7 18zm-8-10zm-1 12zm-17-8zm-3-7zm-8-3zm-5 5zm-6 10zm-4-12zm-15-4zm-1 4zm-14-6zm-11 2zm-7 1zm-7-1zm-8 7zm-1 6zm-5-6zm0 8zm0-3zm-14-2zm-3 6zm-2-16zm-2 15zm-5-17zm-1 18zm-18 2zm-25-19zm-2 7zm-15 3zm-5 7zm-13-14zm-13 9zm-102 26zm102-2zm13-6zm7-1zm12 2zm11-9zm4 12zm2 7zm7-8zm10 5zm1-14zm0 8zm16-10zm5 11zm5 2zm2-5zm2 12zm7-8zm4-11zm3 17zm1-15zm2 12zm4 2zm23 3zm1-13zm6 3zm18 0zm7 2zm8 5zm7-12zm4 2zm33 4zm4 0zm3-7zm3 0zm6 16zm7-20zm1 3zm1 16zm8-5zm12-13zm2 17zm4-16zm3 4zm8 6zm9 6zm6-11zm1 8zm2-3zm8-12zm14-1zm2 18zm7 0zm11-16zm18 5zm11 5zm1-11zm7 6zm2-6zm11 1zm1 0zm10 3zm40-2zm-7 22zm-20 9zm-9 7zm-27-13zm-14 12zm-19-4zm-6-2zm-2 9zm-15 0zm-1-16zm-1-3zm-14 19zm-1-21zm-2 18zm-8-3zm-2-9zm-7-1zm-2 7zm-4 9zm-3-15zm0 14zm-5-3zm-6-4zm-1 6zm-2-7zm-8-5zm-3 10zm-4 2zm-10-13zm-2 5zm-12-3zm-7 11zm-2-18zm-17 9zm-1 5zm-2-8zm-4 2zm-5-2zm-42 13zm-16-1zm-21-9zm-1-10zm0 4zm-6-3zm-8 9zm-4-6zm-7 16zm-1-5zm-13-15zm-9 21zm-8-5zm-8-8zm-10-3zm-30 14zm-11-15zm-26 11zm-25-13zm-8 2zm-6 10zm-4-1zm0 7zm-59 21zm51-19zm37 3zm17 8zm14-1zm13 0zm7-5zm0 14zm7-5zm4-2zm9 9zm3-1zm3-5zm3-8zm3 7zm10 3zm17 3zm5-1zm6-3zm19-16zm8 4zm2 3zm0 8zm5-6zm7-6zm26 18zm4-11zm7 8zm7 0zm1-12zm4 11zm33-12zm3 3zm3 6zm2-8zm6 11zm1-13zm4 5zm3-2zm6-6zm2 8zm1 7zm3-13zm15-3zm13 7zm7 0zm14 1zm5 3zm2 7zm2-12zm9 2zm1 6zm3-4zm0 4zm1 7zm24-3zm11-14zm3 12zm2-3zm4-13zm33 19zm27-13zm17 5zm-42 25zm-24 2zm-5-14zm-4 14zm-8-15zm-11 15zm-16-7zm-4-1zm-5 3zm-4 2zm-1-5zm0-6zm-4 3zm-2 14zm-9-11zm-3 9zm-7-10zm-22 0zm-7 5zm-2-2zm-3 4zm-2 4zm-5 1zm0-14zm-9 11zm-6 5zm-4-1zm-9 0zm-1-14zm-6 9zm-22 1zm-12 1zm-2-2zm-4-1zm-19-4zm0 6zm-4-1zm-1 5zm-2-18zm-12 19zm-7-2zm-6-16zm-12 2zm-10 2zm-2 4zm-4-6zm-31 1zm-2 3zm-9 10zm-5-18zm-1 15zm-4-9zm-1 13zm-4-7zm0 7zm-10-9zm-8-3zm-17-4zm-9 0zm-1 13zm-7-15zm-16 6zm-61 2zm-27 9zm-6-9zm0 25zm4 1zm34-13zm24 4zm9 16zm1-19zm6 9zm24-9zm11 1zm11 0zm25 6zm5 7zm1-15zm2 14zm7-13zm21 7zm10-8zm4 17zm4-17zm6 11zm8-7zm8 13zm4 1zm5-14zm3 3zm19-2zm33 13zm5-10zm4 0zm5-6zm9 3zm2 3zm23-6zm4 16zm5-16zm2 6zm2 6zm8-7zm5 4zm3-2zm6 6zm2-5zm2 3zm11-13zm2 15zm0-4zm6 9zm11-1zm6 0zm3-13zm3 8zm1-6zm1-4zm0 14zm1-10zm3-1zm3 5zm5-13zm6 1zm7 17zm11-8zm10 7zm1-13zm2 4zm55-5zm12 7zm18-4zm-35 31zm0-7zm-25-7zm-6 11zm-8-6zm-7 1zm-11 14zm-14-5zm-1 4zm-3 1zm-3-21zm-1 4zm0 17zm-8-19zm0 2zm-3 3zm-12 9zm-1-10zm-3 11zm-2-15zm-3 12zm-1-13zm-1 13zm-13 2zm-5-14zm-4 4zm-1 7zm-3 3zm-1-10zm-2 13zm-4-16zm-5 8zm0-4zm-3 8zm-2-6zm-14 1zm-2 4zm-4 7zm-5-18zm-11 13zm-5-11zm-27-2zm-1 16zm-3-18zm-7 16zm-1-5zm-2-8zm-3 1zm-14 15zm-5-7zm-9-5zm-6 6zm0-4zm-17-3zm-13-1zm-15 6zm-4 2zm-7 2zm-11-13zm-7-2zm-3 12zm-2-9zm-1-4zm-3 4zm-6-4zm-1 9zm-3-8zm-13 1zm0 11zm-2-8zm-4 11zm-58-16zm-2 10zm-25 6zm-2-3zm-13-6zm-37 0zm-26 36zm0-7zm6-3zm37 6zm11-15zm4-1zm7 14zm27-11zm10 7zm8-3zm23-6zm1 6zm17 10zm3 2zm4-16zm10 11zm0-9zm3-3zm13 7zm5 0zm2 11zm2-8zm5 2zm12-2zm3-4zm10 2zm13 7zm10-1zm2-15zm2 14zm1-5zm10 1zm5 0zm2 8zm8-11zm3-9zm18 11zm0 8zm29 2zm1-19zm9 4zm1 6zm3-4zm9 8zm8-7zm1-6zm4 18zm1-10zm4 3zm4-5zm4-2zm18-4zm3 8zm0-10zm2 15zm1-7zm9 2zm2 8zm7-16zm4 16zm4-7zm2 3zm2 0zm7 1zm2-11zm1 15zm1-11zm1-7zm8 9zm7 9zm17-19zm9 15zm9-11zm8 15zm18-13zm4-5zm11 11zm6-12zm3 0zm15 16zm2-8zm17-6zm3 9zm2-8zm5 11zm27 12zm-25 4zm-11 10zm-2-13zm-1 8zm-1-12zm-32 2zm-1-3zm-10 1zm-16 11zm-2-12zm0 8zm-1 12zm0-10zm-6-11zm-13 15zm-11-1zm-3-12zm-23 6zm-5 10zm-1-4zm-5-13zm-8 16zm-12-1zm-3-2zm-1 6zm0-6zm-3-2zm-10-5zm-6 5zm-6-12zm-4 15zm-9-12zm-1 11zm0 6zm-1-16zm-2-2zm-2 3zm-3 2zm-4 13zm-1-7zm-2-11zm-11 3zm-11 14zm-5-19zm-6 14zm-7 7zm-4-5zm-41-4zm-3-7zm-6-3zm-1 12zm-13-7zm-24 0zm-6 2zm-12 2zm-12-8zm-6 17zm-13-15zm-6 9zm-40-2zm-1-5zm-8 12zm-6-18zm-24 15zm-7-9zm-21 4zm-16 8zm-5-1zm-13-12zm-4 8zm-10 7zm-4-1zm-7-20zm-14 12zm-8 1zm-50 28zm62-6zm4-12zm4 0zm8 3zm6 7zm19-9zm1 3zm6-3zm10 8zm47 5zm8 1zm0-6zm5-2zm7-1zm5-3zm8 3zm1 6zm26-11zm3 8zm0-9zm1-1zm5 10zm1 10zm4-2zm6-1zm4-2zm21-8zm19 4zm13 0zm3-11zm3 17zm9-3zm0-11zm0-1zm20 19zm5-18zm10-3zm8 9zm5-7zm7 13zm12-10zm2 13zm4-5zm19 6zm2-14zm5 4zm1 6zm11 3zm1-16zm0 16zm5-18zm2 7zm15 8zm4-2zm1-8zm4 5zm3 7zm1-12zm4 7zm1-4zm6-1zm6 12zm2-17zm2 17zm7-3zm5 0zm7-9zm5 10zm13 0zm1-7zm3 9zm15-6zm12-4zm1-3zm2 13zm10-6zm5 5zm3-3zm1-9zm2 13zm6 0zm38-19zm10 20zm14-15zm13 6zm5 2zm36-13zm9 41zm-5-3zm-3-6zm-23 10zm-23-17zm-4 15zm-12 2zm-9-8zm-13-6zm-9-5zm-14 2zm-7 18zm-8-21zm-18 8zm-7 6zm-4-14zm-19 11zm-7 3zm-8-9zm-3 13zm-6 0zm-9-6zm-13-4zm-1-5zm-1 9zm-2-3zm-3-2zm0-5zm-2 10zm-3-4zm-8 4zm-4 0zm-5 7zm-2-18zm-4 10zm-7-4zm-4 1zm-9 11zm-1-8zm-10-2zm-12 2zm0-2zm-3-4zm-10-5zm-14 13zm-5 4zm0-6zm-6-3zm-3 8zm-16-8zm-2 11zm-3-2zm-1-14zm-4 8zm-7 4zm-13-3zm-1-11zm-28 15zm-5-11zm-1-5zm-13 10zm-3-7zm-10 3zm-3 5zm-15-3zm-14-1zm-1 13zm-12-16zm-38 15zm-10-11zm-1 4zm-8-4zm-50 0zm-18-8zm-31 11zm-8 2zm-7 0zm-16-5zm-27 19zm35 4zm4 6zm42-4zm10-6zm3-5zm13 12zm47-1zm7-6zm11-5zm13 10zm6 4zm3-9zm22 2zm23 13zm14-12zm21 3zm6 2zm3 5zm1-15zm2 7zm4 4zm4-7zm5-4zm12 5zm14 0zm2 5zm0 8zm2-18zm14 1zm3 14zm18-18zm4 13zm11-9zm4 6zm9-7zm4-3zm0 15zm2 3zm4-8zm1-2zm14-4zm4-2zm0 4zm4 7zm7-8zm2 8zm11 6zm7-7zm3-1zm7-2zm6 4zm9-13zm1 7zm1 5zm1 7zm1-16zm6 4zm3 10zm4-11zm1 12zm4-12zm7-4zm20 2zm1-2zm1 13zm14-5zm2 7zm2-12zm7 7zm1-6zm4 15zm2-2zm6 2zm10-3zm2-9zm2-7zm6 16zm5-2zm3-10zm9 9zm26-9zm16 5zm2-5zm4-3zm8-1zm5 7zm7-9zm11 10zm8 3zm2-13zm10 7zm23 36zm-46-16zm-8-3zm-30 7zm-3 7zm-14 2zm-18-13zm-5 4zm-1-9zm-6 13zm-2 5zm-1-13zm-6-4zm-4 10zm-1 4zm-5 0zm-3 3zm-12-4zm-7 3zm-1-12zm-4 5zm-1 5zm-1-9zm-1 13zm-1-3zm-4 5zm-9-20zm-5 20zm-10-20zm-4 8zm-7-3zm0 11zm-1-5zm-3 4zm0 5zm-12-8zm-3-7zm-4 8zm-1 6zm-12-6zm-10 6zm-8-4zm-6-9zm-12 4zm-25 3zm-2-14zm-10 5zm-5 0zm-15 12zm-36-10zm-14-6zm-8 5zm-1 0zm-4-1zm-6 0zm-8 10zm-16-11zm-3 10zm-33-12zm-11 8zm-2 7zm-8-14zm-5 5zm-4 13zm-1-10zm-4-8zm-6 12zm-3 6zm-1-9zm-3-5zm-1 9zm-2 4zm-1-16zm-4 1zm-21 16zm-11-10zm-8-6zm-2 3zm-4 4zm-3-11zm-11 0zm-17 7zm-38 6zm-5 29zm2-20zm10 18zm34-17zm16 19zm2-13zm0-5zm26 5zm1-6zm43 19zm2-12zm17-9zm3 11zm2-10zm6 14zm1 2zm26-13zm3 5zm8-7zm8 19zm57 0zm25-17zm9 11zm1-8zm16 2zm12-6zm6 18zm1-7zm5 6zm8-11zm1 1zm4 3zm13-11zm33 9zm4-5zm0-6zm7 9zm3-9zm4 7zm1 14zm15-3zm2-14zm10 13zm5 1zm7-7zm12 8zm3-7zm2-8zm2 7zm2 8zm8-16zm1 2zm5 5zm3 2zm0 5zm14 3zm14-9zm0-11zm18 11zm5-8zm6-3zm1 20zm10-2zm21-15zm1 13zm11 5zm24-6zm7 4zm13-3zm11 27zm-14-20zm-3 6zm-5-7zm-27 16zm-46 4zm-3-11zm-2-4zm-5 3zm-5 1zm-7 11zm-11-13zm-3-3zm-2 3zm-2 8zm-5-7zm-2 11zm-13-18zm-2 12zm0 5zm-1-15zm-3 16zm-1-18zm-12 15zm-5 3zm-2-5zm-18 3zm-4-10zm-5 0zm-20 9zm-5-11zm-2 13zm-13 2zm-1-18zm-35-2zm-3 13zm-7 2zm-4-12zm-6 1zm-10-2zm-15 19zm-12-2zm-9-6zm-9 3zm-11 0zm-11-16zm0 13zm-9-12zm-10 8zm-15 12zm0-6zm-3-5zm0-10zm-6 2zm-7 4zm-13 3zm-13 4zm-5 0zm-7-4zm0-9zm-4 4zm-5-1zm-16 8zm-9-9zm-4 6zm-2 2zm-9 3zm-9-9zm-15 5zm-11-1zm-27-5zm-1-3zm-3 8zm-3-5zm-3-3zm-5 4zm-18 2zm0 9zm-14-10zm-7 3zm-18-5zm-8 3zm-5 7zm-28-8zm-2-2zm51 27zm3 7zm13-10zm16 7zm1 8zm6 0zm3-7zm2-9zm3-3zm2 19zm2-7zm11-2zm2-3zm10-4zm4 2zm3 12zm6-15zm3 10zm2-10zm9 15zm11 1zm4-2zm7-9zm7 12zm1-8zm1 2zm16-8zm19-3zm4-2zm7 2zm2 12zm3-3zm6-11zm1 4zm4 4zm15-5zm12-4zm1 13zm10 2zm7-7zm5 2zm9-8zm30 9zm25 9zm24-11zm26 1zm1 4zm20-12zm4 12zm0-13zm8 0zm10 17zm7-3zm7-12zm35 15zm5-5zm5-6zm2 11zm3 2zm24-1zm11-14zm1 11zm4-11zm9 9zm4-12zm6 16zm1-17zm11 2zm17 0zm9 14zm3 3zm3-20zm7 9zm2 9zm16 2zm1-14zm21 8zm4-7zm34-4zm-85 30zm-10-7zm0-3zm-12 6zm-2 0zm-4-2zm-3 11zm-2 4zm-2-8zm-5-1zm-13 7zm-6 0zm-2 2zm-3-4zm-4-5zm-4-1zm-43 6zm-11-3zm-1-9zm-14-4zm-11 19zm-4-1zm-4-7zm-3-3zm-7-7zm-13 15zm-4-16zm-17 10zm-23 2zm-5-12zm-5 6zm-7 6zm0 4zm-3-14zm-59 3zm-9 2zm-37 9zm-40-7zm-16-6zm-41-1zm-3 11zm-26 2zm-7-15zm-12 9zm-1-5zm-2-3zm-1 13zm-4-1zm-6 3zm-2-4zm-4 9zm-1-5zm-1-6zm-12 4zm-3-11zm-6 6zm-2 9zm-13 1zm-6-4zm-6-11zm-3 4zm-1 12zm-15-20zm22 34zm8-10zm16 8zm3 3zm6 3zm3 1zm29-15zm8 10zm2-3zm17 12zm10-6zm4 1zm15-6zm9 8zm27-4zm14 0zm37 5zm21-2zm15-10zm64 11zm4-16zm13 2zm2 15zm30-6zm8 8zm15-7zm7-6zm3-2zm17-5zm1 14zm6 4zm13-17zm5 14zm2-9zm3 14zm6-11zm4-1zm1 11zm16-1zm1-6zm10-3zm1-10zm18 19zm2-18zm2 13zm9-5zm13 8zm5-6zm0 6zm3-15zm4 4zm2 3zm14 3zm24 6zm-61 8zm-36 0zm-2 14zm-20-11zm-12 2zm-7-3zm-47 2zm-7 10zm-8-12zm-19-6zm-13 5zm-1-4zm-15 3zm-33-4zm-42 8zm-23 9zm-23 3zm-25-15zm-7 12zm-152-10zm-57-5zm-2 3zm-3 8zm14 12zm38 1zm73-4zm5 15zm11-1zm3-12zm41 3zm34 10zm18-7zm11-6zm31 4zm36-1zm9 5zm11-6zm3-4zm32 18zm11-15zm56 0zm23 15zm24-1zm2-17zm30 28zm-48-1zm-111 9zm-11 2zm-23-2zm-48-12zm-66 1zm-21 7zm-17 8zm-87-17zm-41 18zm-3-16zm-4 16zm-7 10zm7 3zm42 5zm1-6zm2-8zm54 10zm7 0zm40 3zm29-2zm21-8zm3 12zm26-6zm28-9zm0 20zm10-1zm6-9zm55 9zm52-1zm22-18zm38 6zm42-5zm1 15zm86-8zm13-4zm17 20zm-133 16zm-24-2zm-26-7zm-30 8zm-17-1zm-41 1zm-7-3zm-98 3zm-8-12zm0 15zm-5-14zm-9 3zm-10-10zm-31 0zm0 13zm-5 8zm-5-2zm-31-18zm-1 4zm-51 8zm-67-10zm-29 15zm0 6zm86 16zm25-2zm19-9zm10-6zm26 16zm8-9zm1-2zm6 11zm19-15zm7 9zm41 7zm5-11zm5 12zm2 1zm5 1zm2-3zm5-9zm5-3zm4 13zm5 2zm7-17zm14 7zm5 5zm51 0zm20-6zm19 4zm5-3zm30-7zm13 15zm26-14zm2 16zm3-8zm25-7zm15 6zm5 8zm-55 5zm-21 18zm-40-16zm-55 8zm-5-2zm-3 5zm-23-7zm-9 3zm-1 2zm-16 3zm-11-1zm-14-3zm-27 0zm-8-11zm-1 8zm-12 4zm-24 3zm-3-4zm-4-9zm-26-2zm-1 11zm-47-1zm-5 3zm-14-12zm-6 15zm0-9zm-95 31zm64-9zm25 7zm14-12zm10-3zm28 9zm2 9zm4-16zm17 5zm6 13zm1-18zm2 14zm2-7zm14 1zm7 4zm5 2zm34-6zm3 1zm1 4zm6-10zm12 0zm7 2zm8 3zm4 7zm3-13zm3 12zm1-16zm2 18zm6-2zm1-6zm25-3zm38 2zm12 11zm4-5zm5-2zm18 1zm18-8zm19 13zm86 0zm-5 2zm-43 18zm-22 3zm-2-20zm-4 6zm-3 0zm-3-3zm-8 3zm-7 0zm-14 7zm-8-3zm-17 6zm-1-4zm-7 7zm-18-8zm-19-12zm-3 15zm-8-8zm-18 8zm0-7zm-18-7zm-22 2zm-11-2zm-16-1zm-2 18zm-5-7zm-2 10zm-14-14zm-4 8zm-6-12zm-9 10zm-4 0zm-7-4zm-2 7zm-13-12zm-7 8zm-6-4zm-1 13zm-19-9zm-11 3zm-4-6zm0-5zm-9 16zm-6-13zm-2 11zm-8-10zm0-4zm-1 10zm-3-8zm-51-2zm50 33zm24 3zm9-7zm10 10zm24-5zm26-3zm14 3zm6 2zm19 1zm17 2zm3-7zm7-10zm26 2zm8 8zm21-12zm11 9zm3 7zm10-7zm1-8zm8 12zm2-8zm9-5zm2 17zm2-2zm2-2zm6 6zm6-3zm23-8zm5 5zm3 4zm7-6zm8-4zm3-9zm1 20zm16-9zm6-8zm12 16zm1-6zm27 0zm13 4zm4-13zm36 28zm-12 10zm-19-11zm-19-1zm-20-6zm-13 0zm-11 19zm-5-16zm-8 6zm-9 1zm-1-7zm-5 4zm-10 9zm-29-15zm-18 10zm-26-1zm-13-7zm-3-2zm-24 7zm-5 6zm-3-14zm-1 16zm-3-3zm-8-4zm-1-8zm-8 11zm-4 0zm-9-6zm-57 1zm-2-6zm0 17zm-33-8zm-15 8zm-1-10zm-4 2zm-2 1zm-5-6zm-5-6zm8 27zm22 12zm4 1zm1-9zm11-8zm25 16zm32-17zm27 12zm3 1zm4 5zm4-19zm20 8zm5 1zm30 6zm2-9zm10 3zm4-4zm2 5zm40-8zm11-2zm7 21zm33-10zm3 10zm21-12zm17-6zm13 15zm2-10zm6 8zm34 17zm-15 6zm-19 3zm-15-6zm-26-7zm-12-3zm-4 10zm-19 1zm-29 0zm-19-11zm-3 3zm-4 13zm-12-2zm-8-1zm-9-16zm-3 18zm-7-2zm-1-14zm-2 9zm-10-6zm-1 9zm-17-8zm0 12zm-4-14zm-26 14zm-1-19zm-40 10zm-25-5zm-14 3zm-28 10zm-5-6zm-24-6zm-4 17zm1 13zm12 6zm11-1zm0-6zm3-7zm3 10zm48-15zm14 18zm19-6zm4 5zm3-6zm1 8zm7-15zm7 9zm10-10zm4-4zm1 10zm3-4zm0-3zm2 13zm15-3zm2-6zm2 12zm19-13zm10 11zm3-16zm2 12zm6-13zm3 9zm8-6zm4 3zm15 2zm2-5zm4 8zm20 3zm8-11zm0 17zm1-16zm5 10zm12-6zm10 8zm14-11zm1 12zm16 2zm8-6zm11 5zm13-8zm11 7zm23 0zm6-1zm-44 18zm-62-12zm-5 17zm-3-8zm-7 8zm-3-7zm-8 0zm-40-2zm-1 11zm-2-13zm-20 8zm-8-6zm-4-8zm-7 4zm-3 9zm0 2zm-32-3zm-14 4zm-9-12zm-11 15zm-6-18zm-30 16zm-17-5zm-15 4zm-22 3zm-10-16zm-6 5zm-7 10zm-28-8zm-55 25zm4-4zm12 2zm41 10zm9-1zm3-18zm2 15zm3 2zm13-11zm3-8zm22 9zm25 9zm48-14zm5 2zm12 12zm21-15zm7 13zm8-12zm0 6zm19 8zm3-7zm2 1zm7 3zm10-8zm5-1zm9-1zm4-1zm0 6zm5-6zm15-4zm1 7zm9 4zm4 9zm18-20zm26 14zm6-2zm24-4zm2 12zm5-1zm17 4zm-11 18zm0-8zm-3 3zm-5-7zm-4-3zm-4 10zm-21-8zm-3 3zm-1 7zm-6-4zm-5-2zm-4-7zm-3 16zm-2-7zm-19-1zm-2 6zm-4-12zm-11 5zm-2 7zm-6-11zm-3 14zm-5-7zm-1-13zm-10 4zm-8 15zm-7-14zm0 13zm-10-10zm-15-4zm-17 13zm-25-17zm-9 6zm-51 7zm-19 2zm-2-8zm-5 12zm-45-3zm-9-14zm-11 16zm-12-9zm-11 7zm-4-16zm-5 4zm-5 4zm-13 9zm16 9zm9-2zm56 0zm18 19zm2-16zm6 16zm27 0zm16-21zm14 17zm3 4zm2-21zm41 15zm24-14zm12 2zm12 0zm8 12zm4-3zm22-10zm5 15zm11 4zm12-19zm3 8zm3 3zm2 3zm12 4zm18 0zm2-13zm3 6zm5-4zm2-8zm9 1zm6 17zm4-17zm7-2zm4 19zm5-16zm-39 28zm-3 5zm-16 4zm-7-2zm0-9zm-6 6zm-22-3zm-6-6zm-17 2zm-17-2zm-7 14zm-20-9zm-8 8zm-1-16zm-4 19zm-10-7zm-14-9zm-44 3zm-22 11zm-3-12zm-15-5zm-12 1zm-33 11zm-3-6zm-15-6zm-45 1zm8 35zm27 3zm13-9zm8 5zm28-9zm7 6zm4 3zm3-13zm31 10zm18 1zm7 2zm1 5zm4 0zm10-14zm4 13zm8-10zm16-8zm1 16zm34-16zm3 18zm15-5zm6-7zm9 5zm2-9zm8 10zm1 4zm12 1zm6-5zm24-11zm3 4zm12-3zm4 15zm17 12zm-9 1zm-10-1zm-10-1zm-17 9zm-1-10zm-11-2zm-19 1zm-21-2zm-9 7zm-8 5zm-22 7zm-3-15zm-1 10zm-11 0zm-3 5zm-15-3zm-5 3zm-8-19zm-2 17zm-15-2zm-16-11zm-14 15zm-14-8zm-8 4zm-4 4zm-7-9zm-17 1zm-2-7zm-10-5zm-48 16zm-5-9zm-9 6zm21 24zm9-12zm8-4zm16 14zm6-12zm5-1zm46 4zm4-1zm21-4zm11 4zm7 12zm4 5zm9-21zm2 16zm12-10zm13-5zm8 17zm13-16zm3 14zm13 2zm2-15zm9 4zm16-4zm19 16zm6 0zm3-16zm1 13zm2-15zm18 6zm4-4zm45 20zm-14 7zm-7-8zm-24 1zm-12 9zm-11-3zm-2-4zm-3 12zm-2-12zm-11 11zm-14-6zm-9-2zm-4-4zm-1 6zm-4-1zm-4 14zm-16-9zm-17 5zm-6-15zm-17 0zm-8 1zm-86-2zm-17 1zm-3 21zm66 17zm7-7zm3-11zm6 13zm12-7zm32 13zm5-3zm5-5zm21-10zm0 6zm1 9zm3-7zm13 4zm4 7zm3-4zm6-16zm10 9zm0-5zm10 11zm6-13zm42 2zm29 11zm6-10zm2 6zm-29 22zm-14 9zm-36-11zm-18 4zm-26-7zm-7 10zm-23-4zm-11-6zm-15 11zm-21-14zm-57-2zm84 29zm14-3zm42 16zm60-18zm0 0zm7 0z"/>
<path stroke="#99C945" d="m1336 899zm201-11zm200 5zm144-2zm-72 23zm-448-9zm417 34zm-14 8zm-217 8zm122 17zm182 15zm6-12zm-546 47zm16 9zm174-11zm89 34zm-305 10zm352 1zm149 28zm-14 3zm-72-15zm-33-1zm-114 17zm-166-17zm-43 2zm-19 8zm269 26zm117-4zm92-1zm44 31zm-14-16zm-8 0zm-13 10zm-7-13zm-63 17zm-3-1zm-3-3zm-16-4zm-355 5zm-4-9zm-50 31zm382-14zm26 2zm33-2zm22 0zm5 8zm19 3zm8-11zm3 12zm25 7zm22-17zm7 9zm-23 10zm-7 8zm-33-3zm-29 2zm-34 7zm-25-9zm-61 13zm-7 1zm-2-4zm-25-6zm-9 3zm-32 5zm-59-6zm-74 31zm24-1zm20-10zm23 12zm25-10zm19 10zm17-2zm1-6zm9-9zm5 2zm11 13zm2-5zm17 0zm1-7zm3-3zm8 3zm3 4zm8-7zm26 4zm6-3zm22-2zm5 12zm5 3zm4-7zm4-4zm29 5zm5-10zm11 7zm10-5zm40-1zm20 10zm5-6zm10-4zm20 6zm13-9zm31 9zm387 32zm-3-4zm-387-5zm-29-7zm-6 9zm-4-11zm-26-1zm-21 12zm-7 3zm-9 2zm-6-4zm-1-3zm-1-5zm-22 1zm-7 0zm-6 10zm-5-10zm-6 13zm-6-3zm-1-11zm-10 15zm-11-4zm-3-10zm-8 15zm-5-13zm0 10zm-6 3zm-1-15zm-2 13zm-13-7zm-20-1zm-3-8zm-35 15zm-5-6zm-3 3zm-15-10zm-55 15zm-13-13zm-1 10zm-3 4zm-5-17zm-3 16zm-11-2zm-4-12zm-1 0zm-4 1zm-16 7zm-1 4zm-38-7zm-4 5zm-7 5zm-10-3zm-118-17zm97 26zm5 15zm9-8zm13-1zm6-10zm8 5zm6-5zm18 19zm5-15zm3-5zm1 14zm12-9zm5 11zm5 5zm4-11zm7 2zm14-5zm6 11zm33-1zm9-11zm9-6zm1 0zm7 16zm12 2zm2-5zm1-8zm3 15zm1-3zm4-16zm0 18zm7 0zm2-19zm13 1zm7 2zm5 8zm4 3zm7-5zm14-5zm28 9zm23 7zm7-16zm1 17zm5-2zm2-3zm5-9zm4 4zm2-6zm10-3zm31 8zm11 0zm8-8zm13 9zm12-2zm6 2zm12 4zm14 4zm7-5zm2-11zm9 12zm6 4zm1-17zm12 0zm165 10zm12 8zm138-6zm39-1zm7 5zm8-2zm5-1zm1 6zm20-19zm-14 22zm-22 13zm0 6zm-16-4zm-9-16zm-43 8zm-3 10zm-9-17zm-18 8zm-9 5zm-25-12zm-8 3zm-15 9zm-8-2zm-3-7zm-15 8zm-5-1zm-22-9zm-6-1zm-3-2zm-3 16zm-25-2zm-5 0zm-24-1zm-9-6zm-4 4zm-5 7zm-59 2zm-11-16zm-4 2zm-32-6zm-5 19zm-38-13zm-2 5zm-5 0zm-6 1zm-1-5zm-3 13zm-2-11zm-4-3zm-10-2zm-2 14zm-3-4zm-3-5zm-8-2zm-3 0zm-6 2zm-3-3zm-5 4zm-8 2zm-6 1zm-19-9zm-11 8zm-1-8zm-4-2zm-3 8zm-1 1zm-22 6zm-19-1zm-15-11zm0 8zm-2-14zm-3 15zm-13-1zm-11-8zm0 10zm-5 0zm-19-9zm-1-7zm-1 17zm-7-13zm-31 7zm-1 3zm-14-1zm-10-6zm-20 14zm-19-12zm-5 12zm-37-3zm-2-11zm-1-5zm-8 24zm2-3zm30 14zm1 4zm26-3zm20-16zm16 7zm15 1zm0-4zm2 15zm17-8zm2-6zm8 10zm2-8zm1-4zm3 18zm1-7zm5 1zm13-4zm11 9zm10-1zm3-5zm34-13zm4 15zm1-7zm48 10zm16-11zm6 11zm1-14zm5 14zm18-2zm13 3zm25-15zm6 12zm5 2zm10 1zm4-5zm14 0zm4-8zm2 11zm5-9zm4-3zm2 12zm3-7zm13 5zm0-9zm8-6zm20-1zm7 21zm14-15zm2 15zm17-1zm6-17zm2 14zm2-5zm6-2zm5 9zm40-9zm14 2zm3-11zm20-1zm6 13zm8-12zm5 1zm0 10zm12 9zm6-5zm1-15zm12 1zm4 3zm2-2zm11 0zm20 7zm14-9zm1 8zm17 8zm6 4zm3-20zm1 7zm7-6zm12 2zm5 7zm1-5zm26-5zm6 1zm18 8zm8-7zm7 16zm11-10zm3-6zm7-2zm-8 36zm-4-1zm-2-9zm-16 11zm-1-6zm-17 7zm-7-6zm-31 9zm-9-11zm-6-9zm-6 16zm-7 0zm-16-9zm-10-3zm-7 14zm-5-13zm-9-3zm-7-2zm-14 9zm-17 8zm-8-15zm-1 5zm-11-2zm-2 16zm-2-10zm-1-9zm-5 16zm-1-3zm-4-1zm-13 4zm-5-14zm-14 12zm-5-7zm-16 0zm-13-3zm-6-4zm-17 11zm-10-10zm-1 7zm-11 5zm-5 3zm0-17zm-7 17zm-15 2zm-14-1zm-4-11zm-1-7zm-7 15zm-4 0zm-2 4zm-8-5zm-1-12zm-17 2zm-11 6zm-16 6zm-12-17zm-15 19zm-21 2zm-9-5zm-1-13zm-3 3zm-9 14zm-1-19zm-4 19zm-5-3zm-2-6zm-2-5zm-19-2zm-8 6zm-3 2zm-4 9zm-1-20zm-22 12zm-13-12zm-2 5zm-4-3zm-9 11zm-22-7zm-23 9zm-21-8zm-19 1zm-18 10zm-15-6zm-34 8zm-4-7zm-8 6zm-9-13zm-19-3zm-16 16zm89 3zm52 0zm6 11zm9-3zm17-4zm27 9zm52-13zm38 13zm6-11zm7 12zm6-11zm22 10zm42-7zm5 8zm1-11zm5 4zm1 12zm0-18zm9 2zm3 4zm7 3zm20 5zm3-15zm16 15zm29-14zm6 8zm4 3zm0 7zm12-15zm3 13zm1-3zm8-13zm2 6zm4 5zm23-12zm9 4zm9 12zm7-3zm23-1zm9-9zm19 0zm9-1zm4 10zm0-9zm24 2zm12-4zm12 16zm25-15zm5 16zm8-9zm19-7zm17 2zm2 6zm52-4zm14 8zm39 13zm-1 12zm-3 2zm-5-16zm-1 10zm-2-11zm-6 6zm-4-4zm-7-4zm-8 15zm-1-15zm-6 12zm-9-13zm-2 3zm-20 18zm-13 0zm-7-14zm-4 10zm-1-10zm-13-4zm-28 1zm-7 12zm-20-14zm-3 10zm-11-9zm-22-1zm-30 13zm-2-11zm-6 10zm-23 2zm-10-16zm-18 12zm-2 7zm-5-10zm-3 8zm-3 3zm-4-3zm-2-14zm-7 10zm-8 6zm-2-19zm0 5zm-7 3zm-4-1zm-6 9zm-11 5zm-2-4zm-7-7zm-20 4zm-8-6zm-26 9zm-12-1zm-114-16zm-84 10zm-19-5zm-43 14zm-62-14zm-20 14zm-25 2zm-26-9zm-31-11zm-6 42zm13-6zm15-13zm15 10zm61-5zm20 13zm29-12zm34 8zm31-1zm52-14zm126 9zm24 1zm15-4zm2-6zm0 20zm3-10zm7 6zm0-10zm5-4zm23 2zm12 13zm2-6zm13-10zm4 13zm0-12zm14 1zm17 7zm1 7zm3-6zm17 1zm5 1zm9-6zm1-3zm9 1zm2 5zm12-3zm19 5zm3-10zm15 12zm2-5zm27-9zm7 13zm51-14zm5 6zm7 8zm10-4zm9-9zm6 8zm17-6zm2 15zm28-11zm15-4zm5-3zm2 21zm1-13zm4 11zm5-11zm2 9zm1-5zm6 8zm3-4zm20 5zm8 22zm-3-17zm-3-1zm0 10zm-2 3zm-3-10zm-5 1zm-3-4zm-2 5zm-2-3zm-12 2zm-2 11zm-6-7zm-10 0zm-12 5zm-4 0zm-1-5zm0 5zm0 4zm-2-3zm-3-8zm-2 4zm-6-5zm-3 9zm-3-13zm-3 17zm-2-19zm-3 4zm-7 2zm-6-4zm-1-4zm-5 12zm-2-12zm-5 9zm-1 5zm-3-7zm-2 14zm-1-19zm-1 14zm-10 2zm0-14zm-2 0zm0 12zm-2-14zm-5 4zm-4 0zm-9 9zm-1-12zm-7 11zm-4-12zm-6 10zm-3 8zm0-17zm0 18zm-12 0zm-12-9zm-1 9zm-4-2zm-4 2zm0-6zm-4-3zm-14-2zm-1 7zm-8-3zm-5 7zm-6-10zm-1 5zm-31-4zm-24-9zm-7 8zm-9-6zm-7-3zm-8 2zm-14 5zm-4 10zm-2-8zm-9 7zm-6-12zm-1 4zm-2-7zm-5 5zm-4-3zm-4 15zm-27-18zm-5 2zm-4 14zm-8-5zm-6 5zm-2-11zm-3 14zm-10-6zm-82 6zm-98-18zm-10 18zm-8-21zm-13 5zm-21 16zm-10-16zm-4 7zm-7-1zm-23-5zm-74 12zm-6-18zm-8 2zm-7 17zm-7-7zm0-11zm-4 12zm-11-13zm-6 8zm1 32zm10-6zm14 3zm75 5zm1-6zm7-2zm14 2zm46 2zm180 5zm61-15zm5 1zm11 1zm13-1zm7 7zm3-7zm1-5zm38 14zm9-11zm1 7zm33-10zm28 8zm3 1zm30-5zm6 14zm10-11zm3 10zm18-8zm5 10zm1-6zm4 3zm3-9zm4-8zm1 8zm3 12zm1-6zm10-13zm3 7zm1 8zm0 4zm1 0zm3-19zm5 14zm5 1zm3-7zm1 5zm0 4zm6-13zm2-3zm6-2zm3 19zm2-8zm1 8zm7-17zm3-3zm11 10zm7 7zm4-7zm0-10zm7 5zm1 13zm4 3zm6-5zm1-16zm2 4zm5 15zm4 2zm1-10zm2-6zm3 12zm1-12zm0 7zm8 3zm1 5zm6-12zm3 12zm0-15zm0 12zm3-15zm8 0zm4 19zm6-16zm5 3zm1 7zm5 3zm2 2zm4 0zm0-16zm4 16zm0 1zm7-2zm1-7zm1-10zm4 7zm5 7zm1-15zm3 12zm4-6zm1 13zm0-18zm2 3zm1 5zm2 9zm11 23zm0-7zm-4-12zm0 14zm-2-6zm-5-6zm-1 7zm-4-7zm-1 14zm0-14zm-4-3zm-6 14zm-1 4zm-1-8zm-1-5zm-8-5zm-3 6zm-10-4zm-1 8zm-1 10zm-6-6zm-2-14zm-3 21zm0-20zm0 16zm-4-14zm-1 18zm-1-15zm0 9zm-6-1zm0-11zm-2 14zm-2-11zm-1-5zm0 7zm-1 6zm-3-11zm-4 5zm-2 4zm0-1zm-1 10zm-4-18zm-1 12zm-6 3zm-1-15zm-1 0zm-9 18zm-2-10zm-3 8zm-1-19zm-16 7zm0 10zm-1-4zm-4 8zm-1-17zm-2 13zm-17-14zm-3 10zm-2-11zm-2 9zm-4 1zm-1-5zm0 8zm-5-1zm-5-4zm-4 3zm0-11zm-4 15zm-1-6zm-2 10zm-7-16zm-2 4zm-14-9zm-4 15zm-1-8zm-8 2zm0-7zm-7 14zm-1 4zm0-6zm-1-8zm-2 0zm-4 11zm-3-16zm-9 17zm-4-14zm-7 1zm-4-3zm-5 10zm-3-1zm-2-5zm-51 14zm-5-4zm-21 4zm-9-18zm-9 17zm-19-19zm-6 9zm-15-5zm-16 15zm-3-8zm-12 9zm-13-13zm-132 10zm-34-6zm-107-3zm-5-6zm-5 3zm-11 16zm-11-21zm-4 16zm-9 5zm-46-16zm-29 2zm-12-2zm-32-3zm-6 1zm57 36zm45 3zm14-16zm73 10zm12-1zm36 7zm4-9zm55 0zm40-2zm107 5zm2-4zm5-2zm5 3zm20-11zm3 14zm8 5zm4 0zm0-5zm20-1zm1 5zm1-12zm22 1zm17-2zm11 0zm4-5zm1 15zm11-9zm6 14zm4-12zm3 8zm2-3zm20-9zm2 7zm4 9zm3-13zm5 11zm7-1zm1 1zm15-16zm2 19zm1-2zm3-1zm6-4zm18 0zm3 6zm6-10zm2 4zm10-13zm1 4zm4 14zm1-1zm1 2zm6-19zm3 16zm0-11zm3-3zm2 18zm4-17zm3 9zm4-2zm6-10zm3 13zm3 7zm5-18zm2-3zm13 5zm3 15zm1-20zm2 16zm4-16zm1 4zm5 8zm8-1zm0 5zm13-11zm4-3zm9 4zm6-6zm1 12zm5-5zm4 4zm1 5zm5 1zm2-4zm3-11zm7 16zm1-17zm2 9zm4-10zm7 8zm2 8zm2-15zm4 6zm3-2zm12 0zm2-4zm0 20zm6-19zm1 10zm7-2zm6 5zm3 26zm-8-11zm0 2zm-3 6zm-5-13zm-13 18zm0-12zm-1-6zm-5 1zm-1 17zm0-7zm-12-14zm-3 0zm-2 0zm-8 19zm-6-13zm-9 8zm-3-5zm-3-2zm0-4zm-14 12zm-2-11zm-1 5zm-3-2zm-2-4zm-2 11zm-14-3zm-6 4zm0 1zm0-15zm-3 7zm-4 11zm-10-5zm-1 3zm-1 4zm-7-21zm-3 20zm0-12zm-3 2zm0 7zm-3-9zm-1 9zm-1-4zm0 8zm-5-4zm-7-3zm-9-14zm0 14zm-1 7zm-1-2zm0-16zm-3 9zm-5-7zm-2-4zm-26 4zm-2 11zm-4-8zm0 5zm-4 0zm-2 7zm-3-18zm-1 4zm-11-2zm-7 11zm-4 1zm-2-11zm-1-4zm-2 14zm-7-3zm-8-12zm-2 12zm-1 8zm-6-14zm-4-3zm-18 14zm-4-8zm-29-7zm-12 12zm-46-3zm-3-4zm-6 7zm-1-11zm-5-2zm-7 3zm-4 8zm-6 0zm-19-1zm-5 10zm-13-13zm-8-1zm-7 2zm-9 0zm-95 10zm-74-11zm-45 12zm-63-16zm-96 15zm-3 0zm5 6zm0 9zm43-4zm90-5zm10 12zm118 6zm45-12zm70 8zm24-15zm26 12zm1-11zm4-1zm26 16zm10 1zm92-8zm3-11zm7 1zm5 13zm13-10zm15-3zm5 3zm4 12zm3-10zm6 10zm2-7zm2-4zm1 4zm2 6zm3-11zm3 16zm6-9zm2-6zm6 7zm5 6zm5 0zm0-18zm5 15zm3 4zm12-6zm7-8zm1 13zm4-4zm4-10zm1 5zm8 8zm3-2zm7-10zm12 2zm0-7zm8 11zm2-4zm1-5zm6 16zm5-5zm5-5zm1 6zm1-10zm6 0zm1 5zm9-1zm1 6zm0-13zm4 12zm10 4zm15-10zm11 6zm2-13zm4 19zm1-10zm2 12zm1-7zm11-11zm12 1zm3 17zm9 0zm5-14zm3 8zm3 4zm13 15zm-6 4zm0-14zm-6 0zm-1 1zm-3 9zm-18-9zm-1 12zm-3 2zm-4-11zm-2 14zm-1-12zm-2-4zm-5 8zm-6 2zm-9-9zm-1 9zm-3-5zm-4-5zm-2 5zm-7 4zm-5 7zm-4-19zm-9 16zm-4 4zm-8-12zm-5 8zm-7-9zm-3 4zm-2-10zm-3 5zm-5 3zm-6-6zm-2 15zm-4-11zm0 8zm-1-12zm-2 5zm-4 8zm-3 0zm-11-10zm-1 13zm-2-8zm-2 7zm-1-17zm0 13zm-11-10zm-3 4zm-4 5zm-3 6zm-4-10zm-2-9zm-3 18zm-4-6zm-1 7zm-2-15zm-2 11zm0-16zm-14 1zm-7 16zm-2-11zm-2 10zm-7-2zm-6 6zm-1-10zm-6 3zm-1-10zm0 13zm-2-3zm-16-6zm-8 13zm-1-10zm-1-4zm-7 6zm-4 5zm-7-14zm-28 2zm-6 12zm-4 4zm-9-14zm-31 14zm-1-7zm-34 5zm-24 0zm-5-10zm-7 7zm-96-7zm-251-1zm-29-3zm-3-2zm-1 12zm-84 27zm32 1zm50-21zm213 6zm183 8zm6 1zm34 1zm2 3zm23-14zm6-5zm14 14zm5-1zm0 8zm13-6zm4 4zm17-3zm15-10zm5 2zm6-8zm3 11zm10-8zm3 5zm3-7zm7 15zm11-4zm4 1zm22-12zm0 5zm11-5zm4 4zm3-1zm3 7zm3 4zm1-9zm4 2zm1 8zm4-15zm3 12zm0-13zm1 19zm6-6zm2-1zm1-8zm1 6zm2 3zm2-12zm7 18zm4-13zm2 7zm2-12zm2 19zm1-10zm5 5zm3 4zm0-15zm7 11zm4 1zm6-4zm2 8zm0-19zm8 12zm5 6zm1-9zm9-10zm1 14zm0-9zm8 5zm5 11zm1 0zm4-12zm2 8zm3-6zm9-11zm5 4zm7 7zm4-8zm3 13zm0-5zm1-7zm5-3zm1 11zm2-6zm6 14zm8-3zm1-1zm3-12zm0 15zm7-2zm0-13zm3 5zm4 12zm5-8zm5 3zm6 1zm4-8zm-17 29zm-4-3zm-3-12zm0 17zm-5-9zm-8-2zm-1 6zm-3 3zm-8-12zm-2 12zm-2-7zm-3-8zm-7 14zm-1-6zm-4 3zm-1-10zm-1 4zm-1 3zm0 9zm-16-14zm-6 5zm0-9zm-5 21zm-12-3zm0-12zm-5-2zm-7-1zm-1 6zm-3 3zm-1 0zm-8-5zm-7 9zm-4-6zm-7-8zm-6 0zm-8 0zm-3 9zm-1-6zm-5-1zm-13-2zm-5 18zm-1-17zm-2 9zm-8-7zm-1 8zm-2-8zm-2-3zm-3 12zm-8-4zm-4-5zm-2-4zm-1 15zm-5-6zm-4 1zm-26-2zm-7-1zm-83 3zm-10-9zm-25 13zm-3-14zm-3 18zm-64-15zm-215 8zm-34-2zm-6-10zm-96 1zm-57 39zm126 2zm5-2zm111 2zm138-5zm43 4zm70-10zm66 3zm41 4zm21-4zm12-2zm3-3zm8 13zm13-18zm17 13zm4-4zm1-4zm0-4zm20 3zm8 11zm3-15zm7 17zm6 0zm18-11zm3-7zm6 2zm2 13zm3-4zm3-9zm6 9zm5 7zm11 0zm2-17zm0 5zm6 10zm1-11zm3 10zm7-5zm1 1zm8-8zm1 4zm13-7zm2 3zm-68 33zm-9-5zm-11 5zm-15-12zm-7 7zm-8-1zm-12-6zm-4-2zm-8-1zm-10 8zm-1 4zm-13 9zm-11-8zm-2-5zm-6 9zm-3-16zm-4 7zm-1 5zm0 8zm-24-6zm-1-9zm-18 13zm-14-9zm-6 10zm-106-11zm-9-1zm-7 7zm-3-6zm-176-9zm-59 16zm-36 3zm-123 0zm-71-17zm-58 14zm49 19zm5 1zm43-5zm51 8zm69-12zm253 11zm18-2zm44-2zm25-7zm2 13zm42 0zm87-8zm1-5zm5 3zm16-2zm24-5zm4 3zm13-3zm-153 23zm-3 12zm-110-14zm-5 7zm-8 1zm-3 8zm-4 1zm-275-7zm-87-9zm-32 10zm-7-6zm-116 14zm163 12zm38-8zm66 6zm6 14zm52 0zm261 2zm-312 5zm-37-6zm-133 17zm-55-6zm24 12zm29 10zm19 10zm108-19zm53 15zm1-6zm-197 18zm-15 18zm74 10zm41 8zm73-17zm95 37zm-192-15zm-103 1zm59 20zm75 15zm142 5zm-8 0zm-108 10zm-44 10zm-196-11zm-38 9zm-35 3zm79 12zm2-8zm19 2zm3-2zm142 3zm112 5zm49-9zm43 26zm-4 8zm-68-9zm-16 4zm-248-8zm-114 15zm-1-16zm72 36zm23-7zm239 12zm73-17zm47 4zm6 3zm3 16zm-274-2zm-45-2zm33 62zm-154 1zm250 19zm-81 23zm-124 3zm-202-6zm-15-8zm155 30zm95 7zm162-19zm-335 34zm37 13zm53 16zm210-8zm-194 27zm-54-6zm-54 27zm51-13zm301 8zm84 31zm-11-20zm-418 34zm22-6zm52 3zm327-3zm-267 40zm22 7zm15-2zm272 24zm-257-6zm-81 6zm253 48zm-25 7zm-152 4zm143 34zm-44 0zm-8-8zm-41 38zm-66 21z"/>
<path stroke="#ED645A" d="m1257 859z"/>
<path stroke="#764E9F" d="m2100 879zm-7 12z"/>
<path stroke="#5D69B1" d="m2247 591zm-7 11zm-3 3zm-15 9zm-8 19zm4-12zm24 5zm18 4zm-24 20zm-5-9zm-26 13zm-31-16zm-3 21zm-42 18zm13-9zm29-2zm1 12zm3-16zm14-1zm10 17zm4-5zm15-7zm38 14zm22 14zm-2 9zm-1-9zm-12 3zm-2-3zm-10-8zm-5 4zm-3 6zm-11 7zm-5 0zm-1-15zm-11 14zm-19 0zm-1-7zm-27-13zm-5 13zm-16-5zm-3-3zm-22 15zm-35-11zm-13-6zm0 37zm10-5zm25 0zm7-1zm1 7zm1-16zm0 11zm23 2zm0-3zm4-11zm1 5zm13 2zm5 11zm7-17zm1 11zm7-6zm0-4zm5 2zm13-3zm0 11zm6-11zm1 5zm0 12zm21-3zm1-14zm8 11zm4 1zm6-3zm6 7zm1-3zm13-3zm4-1zm7 1zm0 8zm7-14zm3 17zm-1 3zm-21 16zm-10-19zm-7 16zm-7-18zm-1 21zm-20-1zm-1-6zm-2-4zm-3-3zm-6 14zm-2-12zm-1 4zm-3 5zm-8 2zm-4-3zm-1-6zm-4 4zm0-5zm-2-9zm-7 3zm-3 10zm-2 4zm-1-5zm-3 6zm-5-10zm-2 3zm-6 6zm-8-2zm-3-16zm-4 6zm0 11zm-4-16zm-3 10zm-5-9zm-1 11zm-7 2zm-4 3zm-6-18zm-1 19zm-1-11zm-1-3zm-1 6zm-2 10zm-21-6zm-4 3zm-6-6zm-1 6zm0-15zm-16 3zm-4 6zm-6 9zm0-15zm-6 12zm-36 19zm16-15zm18 10zm6 1zm5-10zm6 5zm5 2zm0 11zm1-4zm4 3zm4-15zm4 7zm3-10zm12 19zm4-19zm6 1zm2 14zm0-15zm3 4zm3 3zm6-6zm9 2zm5 17zm2-17zm3 6zm18 12zm11-21zm1 6zm1 8zm2-9zm1-4zm0 9zm8-9zm2 13zm10-5zm4 5zm3-11zm1 8zm7-7zm3 4zm8 2zm2 2zm8-7zm1 10zm17-6zm17 4zm3-10zm3 13zm8-4zm1-9zm2 3zm0 0zm11-1zm6 28zm-6-1zm-2 8zm-1-11zm-15 10zm-3-8zm-5-1zm-12 3zm-3-1zm-10 8zm-8-16zm-6 5zm-4 7zm-1-7zm-5 13zm0-4zm-10-3zm-7 0zm-5-13zm-2 19zm-3-7zm-12 9zm-5-15zm-7 15zm-2-19zm-4 9zm-3 3zm-1-9zm-3-3zm0 12zm-23-3zm-5 7zm-2 3zm-4-1zm-3-13zm-1 11zm-4 1zm-2-4zm-14-14zm-2 17zm-6 1zm-1-12zm-2 8zm-2 5zm-5-13zm0 5zm-8-9zm-5 8zm-7-2zm-9 8zm-5 3zm0-6zm-15-3zm-6-4zm-3 13zm-9-5zm-6 3zm-28 3zm-9 18zm7-10zm3-2zm7-5zm6 9zm6 11zm8-15zm2 4zm4 5zm2-14zm4 14zm17 0zm2-5zm5 12zm7-19zm1 5zm4-3zm2 2zm6 8zm10 0zm6-9zm1 16zm2-1zm7 1zm5-8zm0 4zm2 1zm2-15zm3 1zm15-4zm1 5zm6 7zm1-9zm8-3zm1 7zm1 8zm2-4zm15-4zm1-5zm19 7zm7 7zm0-10zm5-4zm7-2zm1 6zm3 7zm3 2zm6 1zm1-10zm8-2zm7 4zm4 6zm5-13zm5 3zm13 9zm8-1zm8 3zm8-9zm13 7zm4 4zm0-3zm6-13zm3 15zm2-10zm2 10zm-1 16zm-1 6zm-12-11zm-2 14zm-1-8zm-5-8zm-5 0zm-3 13zm-20-14zm-4 4zm-4-6zm-8 0zm-5 11zm-2 7zm-11-15zm-3 17zm-1-12zm-3 0zm-1 5zm-8 2zm-2 5zm-11 1zm-2-9zm-6-9zm-1 4zm-2 7zm-2 7zm-4-12zm-1-8zm-4 17zm-4-16zm-14 19zm-10-4zm-5-3zm-10-1zm-13 4zm-1-8zm-6 9zm-11-18zm-3 3zm-13 2zm-9 2zm-8-5zm-2 17zm-8-11zm0 11zm0-9zm-4 11zm-16-9zm-2-2zm-6 9zm-1-18zm-2 15zm-11-3zm-5 2zm0-14zm-2 9zm-6 6zm-3 5zm-12-15zm-4-3zm-1-1zm-3 18zm-17-17zm-6 38zm13-7zm10 3zm17-8zm7 14zm7-11zm0 8zm4-12zm4 1zm12 11zm1-5zm19 1zm5-9zm2 6zm0-9zm7 0zm2 6zm2 12zm1-9zm7-8zm3 12zm24-7zm12 10zm8-11zm1 11zm4-15zm3 6zm5-7zm5 14zm10-10zm4 2zm6 6zm15-11zm9 18zm3-11zm1-10zm2 14zm8 5zm4-19zm1 8zm4 8zm1-9zm6-2zm12-5zm2 11zm4-11zm7 4zm6 6zm2-8zm11 13zm1-6zm1 11zm5-17zm3 15zm3-6zm12-3zm8 6zm6-8zm1-7zm7 7zm5-1zm1 13zm5 13zm0 6zm-5 5zm-3-6zm-10-13zm-7 4zm-5 13zm-14-5zm-4-3zm-7-2zm-11-3zm-31-3zm-4 1zm-8 3zm-5-4zm-1 13zm-2-10zm-3-4zm-12 19zm-11-3zm-12-1zm-6-13zm-8 5zm-16 3zm-3-6zm-6 12zm-1-8zm-3 1zm-3-10zm-5 20zm-1-21zm-1 8zm-2 10zm-2-1zm-5-16zm-5 13zm0-5zm-7-7zm-2 9zm-15 3zm-9 0zm-15-10zm-6 16zm-7-15zm-5-5zm-13 11zm-3 7zm-3-18zm-1 6zm-4-4zm0 8zm-19-1zm-19-7zm-19 5zm-1 1zm0 8zm-20-6zm-86 18zm9 3zm21 1zm6-1zm43 12zm20-20zm1 20zm1-7zm1 4zm1-15zm5 17zm4 1zm12-20zm5 14zm7-4zm14 1zm9 7zm1-6zm16-4zm7 8zm16-12zm0-4zm7 7zm3 13zm1-4zm5-11zm3 14zm2-7zm16-12zm4 11zm2-9zm6 5zm3-6zm9 1zm6 15zm0-15zm6 1zm0 16zm3-7zm9-1zm0-4zm8-7zm0 3zm11 6zm2 7zm1-16zm7 5zm1 13zm0-5zm2-12zm0 18zm4-4zm6-6zm2 0zm5 7zm12-2zm2 3zm10-3zm6-12zm7 7zm3 5zm5-7zm1 12zm9-8zm2-4zm2-5zm5 18zm6-6zm1-4zm13-1zm1 9zm1-15zm12 6zm1 8zm9-15zm4 11zm11 0zm4 4zm1-9zm11-1zm6 32zm-8 1zm-14-7zm-2 7zm-1-7zm-7-6zm-3-6zm-5 14zm-1 0zm-6 4zm-16-13zm-5 1zm-1 5zm-3 5zm-2 5zm-3-3zm0-12zm-11-2zm-8 2zm-2 4zm-13 5zm-5-2zm-1 5zm-14-16zm-4-2zm-4 0zm-4 1zm-7 13zm-1-9zm-6 16zm-9-11zm-2-6zm-4 1zm-4-4zm-3 11zm-15-9zm-2 5zm-13-3zm-19 6zm-2 4zm-1-11zm-7-1zm-3 2zm-1 15zm-1-4zm-5 3zm-1-13zm-5 1zm-14 8zm-4-9zm0-5zm-9 6zm-7 6zm-34 5zm-3-3zm-1-14zm-7 13zm-1 5zm-7-3zm-2-7zm-10-3zm-8 6zm-2-9zm-15 8zm-3 2zm-12-5zm-5 13zm-5-9zm-10 0zm-7 8zm-16-19zm-2 6zm-8 9zm-7-9zm-22 2zm-71 23zm48 9zm13-3zm21-2zm3 5zm1-4zm3-5zm20-3zm5 9zm13 5zm3-16zm2-5zm8 5zm13 5zm4-1zm3 3zm15-11zm0 9zm7-7zm2 13zm5-7zm8 4zm8 6zm2-13zm5-1zm4 15zm6-1zm9-19zm3 15zm0-11zm1 9zm2-6zm9 2zm6 0zm9-7zm0 13zm0-5zm3 2zm11-12zm8 17zm9-4zm4-2zm6 10zm0-5zm11-10zm0 9zm9-7zm1-5zm15-3zm12 19zm10 2zm0-13zm4 8zm1 5zm3-21zm3 6zm3 8zm1-10zm0-4zm1 8zm8 9zm4 3zm3-18zm13 5zm3 11zm8-18zm1 11zm0-9zm6 2zm1 13zm5-2zm2-13zm1 13zm9-3zm3-5zm6 6zm7-9zm2 2zm4-1zm1 9zm8 7zm6-6zm8-4zm3-6zm4-3zm1 19zm20-17zm5 12zm2-9zm0 12zm3-7zm4-8zm20 3zm-3 23zm-6 9zm-1-10zm-1 12zm-3-6zm-5-6zm-3 11zm-9-15zm-1 14zm-7-4zm-1-4zm-2 10zm-2-16zm-2 8zm-5-2zm-7 1zm-3-3zm-8-2zm-1-4zm-5 19zm-8-10zm-2-10zm-2 11zm0-3zm-11-2zm-3 2zm-3-4zm-4 14zm-1-11zm-1-4zm-9 1zm-10 13zm-3 4zm-2-10zm-1-4zm-1-7zm0 18zm-10-14zm-6 13zm-4-14zm-1 15zm-1-7zm-5 10zm-5-16zm0 15zm-5-5zm-4 3zm-5-8zm-10 7zm-9-10zm-3 9zm-4 0zm0-4zm-2-12zm-11 21zm-5-10zm-8 3zm-6 6zm-1-20zm-3 8zm-2 10zm-1-16zm-1 6zm-17 9zm-1-16zm-6 14zm-9 3zm-6-14zm-5 12zm-2 4zm-4-20zm-4 1zm-16 5zm0-4zm-13 14zm-7 1zm-1-5zm0-5zm-7-2zm-12 2zm-19 14zm-4-7zm-2-3zm-2 9zm-3-15zm-1 11zm-13-3zm0 5zm0-13zm-9 10zm-2-13zm-4-2zm-27 21zm-23-14zm-9 4zm-9 7zm-2-11zm-4 3zm-7 6zm-10 3zm-25-13zm20 18zm6 9zm1 10zm8-9zm2 4zm4 1zm13 3zm7-11zm25-6zm12 16zm2-6zm4-2zm7-6zm2 14zm29-17zm2 16zm4-15zm2 17zm2-14zm11 9zm10 2zm11-5zm2 6zm7-18zm2 7zm10 9zm3 4zm3 0zm2-13zm11 5zm1 8zm1-17zm4 10zm6-3zm10 11zm14-10zm0-6zm6-1zm4 10zm4-1zm0-5zm2-4zm4-2zm18 18zm8-15zm2 15zm1-18zm7 8zm5 10zm5-19zm6 19zm4-6zm2-10zm16 0zm1 16zm13-7zm10-6zm9 13zm5-19zm5 2zm2 9zm9 4zm3-10zm4 15zm2-3zm4-4zm4-13zm0 16zm7 3zm3-12zm3-4zm1 13zm3 3zm2-9zm3 4zm1-15zm1 20zm2-11zm11 2zm2 2zm2 8zm2-9zm2-1zm1 8zm4-2zm2-3zm6 2zm3-10zm11 15zm3-7zm18-2zm3-4zm4-7zm-1 34zm-4-12zm-7 0zm-14 3zm-3 17zm-1-15zm-2-5zm-6 19zm-6-18zm-3 19zm-2-20zm0 14zm-3-11zm0 14zm-4-14zm-8-4zm-3 3zm-17 13zm-9-15zm-5 13zm-4 3zm0-13zm-6 11zm-7-11zm-5 5zm-9 10zm-3-4zm-16-14zm-1 18zm-5-13zm-4 13zm0-16zm-5 12zm-2-12zm-2 12zm-6-2zm-14-4zm-9 5zm-5-13zm-15-1zm0 14zm-14 3zm0-5zm-11-5zm-1 7zm-19-8zm-2 14zm-10-13zm-4 2zm-8 5zm-5-1zm-9-12zm-7 0zm-3 18zm-5-2zm-8-14zm-3 3zm-3 11zm-14-13zm-5 10zm-2 0zm-1-11zm-22 1zm-4 9zm-6-8zm-7 7zm-9-5zm-23 11zm-12 0zm-5-12zm-8 1zm-24 9zm-6-8zm-2-5zm-27 1zm-6 16zm-4-6zm-22 5zm-79-8zm10 13zm52 17zm46-12zm3-7zm2 9zm23 5zm2-9zm0 14zm10-16zm3 9zm0 4zm5-2zm27 4zm29-9zm17 7zm6-14zm15 5zm7 13zm4-10zm2-10zm4 12zm19 9zm0-11zm8-1zm16 7zm15 0zm6-16zm16 12zm4 9zm20-1zm21-13zm0-7zm1 20zm7-13zm1 8zm2-13zm14 9zm3-5zm1 8zm4-6zm0-4zm4 5zm3-4zm8 10zm3-15zm6 7zm3 6zm3-9zm0 8zm9 2zm4-2zm5-9zm2 5zm3 9zm1-5zm8-9zm0 15zm2-9zm14 6zm0-13zm6 7zm6-8zm3 8zm4 11zm6-20zm0 7zm1 13zm7-1zm2-15zm9 7zm1-10zm2 3zm3 9zm3-3zm10 5zm12 5zm3-10zm4 9zm1-12zm3 6zm13-3zm7 5zm3 5zm6-2zm2 2zm-4 7zm-3 14zm-6-10zm-2 11zm-5 0zm-1-10zm-4 10zm-5-8zm-4-9zm-11 12zm-1-6zm-19 4zm-1-11zm-2 15zm-15-16zm-4 12zm-3 6zm-2-7zm-1-1zm-6 5zm-5-16zm-4 10zm-1 9zm-5-16zm-5 9zm-9 6zm0-11zm-5 4zm0 8zm-2-16zm0 12zm-3-15zm-5 18zm-3-18zm-1 17zm-4-12zm-1-4zm-4 3zm-4 3zm-9 5zm-1-9zm-18 13zm-10-14zm-5 3zm-7 12zm-15-12zm-20 6zm-24 5zm-3-13zm-6 5zm-4-1zm-2 7zm-28-10zm-1 4zm-11-8zm0 10zm0-7zm-7 12zm-7-11zm-15-2zm-4 4zm-7-1zm-2-3zm-12 19zm-4 0zm-4 0zm-12-8zm-12-3zm-14 1zm-3-3zm-7-1zm-15 13zm-6-13zm-6 8zm-5-9zm-5 2zm-3 0zm-2-5zm-6 8zm-2-10zm-3 18zm-21 1zm-23-5zm-11-12zm-211-2zm46 25zm170 7zm14 0zm2-7zm1 16zm7-5zm0-8zm17 11zm8 2zm4-9zm2-4zm10 4zm7 5zm11-3zm4 6zm3-14zm12 0zm1 10zm4-3zm29-4zm0-8zm8 0zm3 5zm8 4zm10-3zm5-4zm22 14zm2 4zm4-18zm9 5zm5 4zm2-3zm22 7zm25-14zm4 14zm7-5zm11 11zm7-3zm0-15zm2 10zm9 2zm9-6zm7 7zm4-13zm4-2zm1 10zm6 7zm3-3zm2-14zm2 9zm4-9zm0 12zm6 0zm4 1zm12 6zm0-5zm3-12zm7 1zm6 7zm2 9zm4 0zm0-7zm7-5zm3 5zm8 7zm1-15zm6-5zm2 18zm6-17zm3 10zm10-8zm17 14zm4-2zm8-11zm7 14zm8-11zm1-7zm3 5zm2 16zm7-8zm1-8zm7 2zm2-1zm2 5zm5-9zm1 4zm1 2zm19-6zm5 9zm4 0zm-1 19zm-1-6zm-2 15zm-2-16zm-10 0zm-3 20zm-9-9zm-2-4zm-6-3zm-4-3zm-2 10zm-3-12zm-5 14zm-4-2zm-2 3zm-15-13zm-1 10zm-7 9zm-3-11zm0 9zm-6-9zm-5 0zm-3-8zm-3 10zm-19 3zm-8-10zm-34 8zm-8-13zm-2 6zm-4-6zm-5 0zm-3 11zm-6 5zm-25 2zm-6-10zm-4 5zm0-8zm-13 9zm-16 2zm-15-2zm-7 6zm-31-7zm-11 1zm-7 0zm-13-12zm-7 12zm0-5zm-7-4zm-4 11zm0-5zm-11-3zm-1 4zm-7 7zm-7-8zm-2 1zm-5 8zm-4-2zm-11 3zm0-4zm-17 4zm-26-6zm-7-9zm-11 9zm-21 5zm-22-18zm-22 7zm-7-6zm-180 15zm178 8zm10 12zm2-16zm8 0zm10 5zm2 9zm18-10zm8 7zm10 10zm7-7zm22-14zm5 12zm12-3zm31 12zm1-1zm3-19zm1 5zm2 5zm8-1zm1-4zm5 0zm14-4zm13 9zm3-1zm3-4zm0 6zm9 8zm14-3zm2-11zm6 11zm9-4zm1-3zm11-5zm18 10zm22-9zm11 6zm7 9zm4-13zm9 6zm17 1zm5-7zm4 12zm20-11zm10-2zm10 11zm9-7zm30-4zm3 12zm7-17zm6 14zm4-2zm8-5zm7-2zm0-3zm2 14zm6 0zm3-16zm1 9zm4-7zm3 15zm6-14zm2 10zm17-12zm2 7zm6-3zm6 11zm4-9zm4-8zm5 34zm-4-13zm0 18zm-2-2zm-17-5zm-15-8zm-2 4zm-4-5zm-11 1zm-9 9zm-12 5zm-20-3zm-10-7zm-29 6zm-4-10zm-12 1zm-12 16zm-21-12zm-1 4zm-4-1zm-6 7zm-2-18zm-1 20zm-2-2zm-12-9zm-22-3zm-4-3zm-4 9zm-23-8zm-8 12zm-6-6zm-6-2zm-24 2zm-36-1zm-1 5zm-8-9zm-1 11zm-4 5zm-6-6zm-23-9zm-27 10zm-7-6zm-4-10zm-8 21zm-64-1zm-8-7zm-22-8zm-163 6zm216 32zm15-15zm21-1zm11 15zm1-17zm5 3zm4 3zm10-4zm13 11zm5-3zm13 2zm9 5zm8-16zm4 12zm5-6zm7 8zm2-13zm12 11zm1-12zm0 14zm1-10zm25-1zm5 4zm8-8zm10 1zm5 14zm2-9zm8 2zm6-9zm3 3zm11 10zm6 2zm5 1zm7-16zm14 10zm7-2zm1-10zm1 8zm2 8zm9-2zm6 5zm6-18zm3 13zm5-5zm11-7zm3 16zm20 0zm3 0zm10-13zm2 16zm5-20zm1 5zm8-6zm7 5zm20 10zm9-6zm1-7zm17 13zm1 5zm8-10zm5-2zm9-4zm15-1zm19 13zm2-16zm5 18zm-4 15zm-15 3zm-3-2zm-2-12zm-7 5zm-3 12zm-5 2zm-10-12zm-2 12zm-2-5zm-17-7zm-3 2zm-7 5zm-10-9zm-2 11zm-6-10zm-25-1zm-18-1zm-5 9zm-4 5zm-14-1zm-4-14zm-1 10zm-6-1zm-9-3zm-2 0zm-3-9zm-6 3zm-4 5zm-4 11zm-4-12zm-14-2zm-22 0zm-9 2zm-7 2zm-5-9zm-1 6zm-3 5zm-9 2zm-10 4zm0-11zm-7 8zm-6-3zm-4-9zm-8 11zm-6 2zm-3-8zm-16 12zm-6-1zm-8 0zm-10-12zm-6-1zm-20 16zm-11-19zm-13-2zm-6 1zm-33 4zm-21 4zm-22 4zm-21-4zm-40 9zm-9-18zm-108 3zm-14-2zm-21 13zm15 26zm47 2zm97 0zm54-8zm3-4zm26-5zm3 10zm1-12zm26 0zm4 13zm11-6zm6 7zm1-3zm9 1zm2 7zm3-7zm11-6zm1 5zm3-11zm16 14zm24 4zm8-19zm5 18zm6-16zm9 5zm2 9zm6 5zm1-20zm1 10zm14-8zm12 12zm10 2zm6-8zm1 11zm5-20zm8 18zm0-4zm4 1zm6 0zm5-1zm9-2zm1-3zm6 10zm17 1zm3-15zm1 4zm2 9zm13-8zm6 11zm8-16zm2 16zm1-19zm1 11zm1-3zm3-9zm6 8zm24 3zm18-8zm7-2zm4 6zm3 10zm0-4zm1-9zm11-5zm8 11zm8 8zm1-13zm1 7zm6-6zm5-7zm4 9zm2 11zm2-16zm7-2zm7 1zm2 8zm2 0zm8-10zm9 4zm0 16zm3-7zm-5 14zm-3 6zm-2 7zm-2-3zm-9 5zm-3-13zm-5-5zm0 18zm-5-2zm-1-4zm0-9zm-3 10zm-1-14zm-6 1zm-3 4zm-6-5zm-8 0zm-4-1zm-30 2zm-3 9zm-4-2zm-5 0zm-18-3zm-8 4zm-8 8zm-5-2zm-12-16zm-4 7zm-1 3zm-21-8zm-5 0zm-1 13zm-1-6zm-1-7zm-5 7zm-4-2zm-23 7zm-9 0zm-6-8zm-4-1zm-1-6zm-12 9zm-17 7zm-12-9zm-2-7zm-4 15zm-4-7zm-20-4zm-2 2zm-10-2zm-19 8zm-45-4zm-2-7zm-5 14zm-4-15zm-5 14zm-25-4zm0 8zm-1-16zm0 12zm-29-1zm-12-9zm-25-4zm-32 42zm70-17zm12-1zm7 7zm37 4zm3-9zm14 15zm6-9zm7 0zm19 5zm11-4zm6 4zm9-4zm44-5zm4-5zm2 3zm6 11zm4-14zm15 4zm2 7zm4-5zm2 5zm2-11zm11 10zm1 9zm8-17zm5 17zm7-3zm4-9zm2-6zm6 10zm9-5zm2 12zm5-4zm5-7zm0 9zm11-1zm2-5zm2-8zm16-1zm7 0zm5 11zm5 5zm1-4zm2-6zm5 3zm5-2zm4-7zm19 17zm1-9zm5-8zm3 15zm5-14zm1 10zm4-8zm3-1zm1 15zm3-1zm0-17zm2 7zm0-5zm5 16zm11-9zm6-7zm5 5zm4 0zm5 10zm7-15zm14 3zm13 5zm-8 14zm-4 4zm-1 7zm-3-12zm-4 19zm-5-17zm-17 2zm-4-1zm-3 3zm-5 13zm-10-12zm-6 6zm-7 4zm-26-6zm-13 6zm-31 2zm-1-18zm-25-3zm-7 8zm-8-3zm-2-3zm-101 15zm-11-14zm-4-3zm-4 4zm-44 10zm-7-5zm-1-7zm-2 18zm-17-10zm-2-9zm-3 5zm-113 3zm74 16zm42 5zm171-2zm32 8zm19-14zm9 21zm20-11zm4 7zm36-6zm3-11zm23 10zm25-9zm27 27zm-92 1zm-1-7zm-2 2zm-7 18zm-32 0zm-12 1zm-9-10zm81 23zm27-11zm38 7zm-93 20z"/>
<path stroke="#CC61B0" d="m2012 568zm-178-6zm16 59zm5 30zm-2-3zm-24 18zm11 12zm140-16zm27 193zm26 21zm-64-1zm-8-3zm-60 20zm7-5zm8 10zm0-16zm13 1zm4 1zm6 6zm2 3zm12-11zm3 17zm8-5zm6-12zm7 9zm10 10zm11-18zm16 15zm21-7zm2 33zm-13-8zm-10-10zm-11 3zm-62-4zm-30 1zm-15 4zm-10 7zm18 13zm8 4zm58-8zm4 15zm45-8zm14 2zm-27 19zm-51 10zm-27-5zm-15 3zm-8-3zm25 12zm-1476 180zm1265 126zm28 13zm13-2zm63-5zm43 4zm11-2zm31 12zm51 7zm-13 13zm-107 0zm-12-6zm-64 3zm-11-13zm-21 31zm12 5zm29-14zm25 5zm9 4zm10 1zm31-4zm12-6zm104 5zm-8 16zm-30 1zm-24-2zm-35 17zm-41-11zm-13 25zm81-4zm17 13zm17 25zm-22-4zm-7 2zm-149-11zm-3-2zm-41 1zm-22-7zm-71 19zm-16-19zm-10 21zm-3-10zm-24-11zm-29 3zm-2 5zm-173 11zm-28-3zm-371-1zm-6-1zm-1-5zm-7-6zm-2 5zm-8-5zm-2 17zm-1-3zm-8-8zm-4 8zm-10 0zm-54 20zm11-3zm0 7zm12-1zm18-2zm11-3zm4-6zm3-1zm2 4zm7-1zm4-9zm2 19zm3-12zm8 3zm1 5zm7-8zm1 13zm3-9zm3 0zm4 6zm494-7zm55-5zm10-5zm66 18zm12-4zm12 6zm47-18zm76 7zm174 7zm2 5zm-76 4zm-97 0zm-22 9zm-67-8zm-53 11zm-18-10zm-10-4zm-6 8zm0 6zm-12 0zm-33-9zm-12-4zm-13 4zm-64 3zm-29 8zm-28-1zm-91-9zm-14 3zm-10 3zm-53 8zm-3-2zm-10 1zm-236-3zm-3 3zm-1 0zm-2-20zm0 10zm-3 8zm-6-1zm-5-13zm-4 7zm-9 5zm-2-9zm0 4zm-8-1zm-9-10zm-25 0zm-2 6zm-4 5zm-2-8zm-8 4zm-9 13zm-1-12zm-12 0zm-7 10zm-74 22zm7 3zm20-9zm4 0zm5-2zm1 2zm1 6zm17-3zm7 6zm1-7zm12-14zm1 10zm2 4zm1-6zm4-7zm1 3zm6 5zm4 7zm4-6zm10 4zm2-12zm4 3zm12-1zm15 14zm2-6zm5 7zm9-1zm6-15zm3 2zm2 8zm17-6zm18 4zm22 8zm7-2zm10 4zm151-4zm3-5zm16 8zm3-6zm8-11zm17 3zm2 14zm9 1zm4-20zm10 7zm6 13zm2-10zm5 0zm5-5zm1 6zm10-8zm3 7zm1-10zm9 2zm1 4zm11 3zm13-2zm32-7zm9 9zm27-6zm11 5zm70-1zm82-8zm2 3zm14 16zm19-15zm11-1zm0 8zm0-4zm35-2zm10-2zm40 5zm4 3zm37 9zm91-16zm13 10zm92-4zm47 1zm-65 12zm-126 14zm-190-9zm-46 2zm-29 10zm-24-2zm-30-16zm-166 5zm-4-2zm-4 4zm-4 2zm-13-7zm-2 9zm-3-6zm-4 16zm-1-21zm-1 16zm-10-11zm-10-2zm-5 15zm0-9zm-13-2zm-6 4zm-7 8zm-6 1zm-1-9zm-2 10zm-3-2zm-9-6zm-2-13zm-1 6zm-4-3zm-5 5zm-2-7zm-1 19zm-1-15zm-4 6zm-4 0zm-4-8zm-3 12zm-8-5zm-3 0zm-6-5zm-3 5zm-2 11zm-2-8zm-86-11zm-10 3zm-12 15zm-4-2zm-16 0zm-14-1zm-2 3zm-5-17zm-1 15zm-3-14zm-2 8zm-3-10zm-11 14zm-6-12zm-13 0zm-1 6zm-4-3zm0-7zm-5 10zm-3 6zm-3-4zm-3 1zm-25-11zm-16 4zm-5 7zm0-4zm-5 8zm0-15zm-5 5zm-2 5zm-13 0zm-5-3zm-1 6zm-3-8zm-2 7zm-3-11zm-8 13zm-3-4zm-3-5zm-3 3zm-5 8zm-1-4zm-6-12zm-4 6zm-3 11zm-2-3zm-18-7zm-7-3zm-3 4zm-6-3zm-5-2zm-4 10zm-1 7zm3 1zm8 15zm1-10zm8-3zm3-2zm1 20zm5-13zm4 10zm2-4zm14-1zm4-2zm4 0zm3 7zm4-2zm0-11zm4 11zm1-6zm2 9zm3-18zm0 11zm5 7zm6-8zm0-8zm4 12zm4-2zm5 4zm1 2zm4-1zm5 3zm2-8zm0-5zm2 12zm3-3zm2-5zm3 1zm1 6zm3-4zm1-10zm7 0zm10 9zm2-10zm8 3zm22 0zm0 10zm4-4zm0 3zm4-16zm8 12zm7 9zm11-4zm1-12zm42-1zm8-3zm2 13zm17-6zm2-8zm3 5zm5 2zm13 2zm19 6zm5 0zm10-1zm2 3zm9-4zm15 7zm1-4zm8 0zm1-6zm0 1zm4-8zm5 15zm2-15zm0 4zm2-1zm2 8zm3-3zm2 4zm1 5zm4-14zm1 0zm1 4zm4 6zm5-14zm9 6zm1 5zm0-8zm3 11zm4 0zm0 5zm1-21zm2 0zm4 7zm4 3zm2-5zm2 5zm1 9zm2-11zm3 11zm6-7zm1 0zm29-10zm38 4zm21-6zm170 4zm85 4zm66-8zm0 2zm108 9zm7 7zm204 0zm6 25zm-45-1zm-13-18zm-17 16zm-51 3zm-95-11zm-87 2zm-95 6zm-194-4zm-5-6zm-51 2zm-10-4zm-49 5zm-7 7zm0-14zm-3 10zm0-13zm-2 7zm-1-3zm-4-2zm-2-2zm-5 8zm-6-9zm-1 21zm-1-2zm-4-11zm-3 4zm-1-10zm-1-1zm-1 8zm-3 5zm0-3zm-2-2zm-2-6zm-4 0zm-6 15zm0-3zm0-9zm-1 8zm-4 7zm-1-18zm-4 3zm-1-5zm-10 12zm-5-9zm-8 9zm-4-10zm-1 11zm-2-13zm-15 13zm-1-8zm-2 7zm-17-8zm-4 6zm-3-9zm-7 13zm-6-2zm-1-5zm-11 5zm-11 6zm-20-4zm-7 3zm-4-4zm-10 7zm-4-3zm-8-15zm-2-3zm-5 8zm-1 13zm-16-11zm-9 7zm0-14zm-10 9zm-18-1zm-19-6zm-30 6zm-1-11zm-4 7zm-4-5zm-10 4zm-4 1zm0-5zm-14 6zm-9 13zm-2-7zm-1-11zm-2-1zm-3 5zm-1 1zm-1 11zm-2-15zm-3-3zm-3 8zm-4-3zm0 8zm-3-14zm-4 5zm-1 11zm-3 2zm-4-2zm-7 4zm0-13zm-4 13zm-1-4zm-1-6zm-13 4zm-1 5zm-4-9zm-3 8zm-5-14zm-6-2zm21 22zm1 1zm6 18zm4-15zm11-6zm5 16zm1-15zm3-1zm3 9zm11-8zm6 8zm3 1zm2 9zm1-5zm0-12zm3 6zm2 10zm6-2zm3-15zm7 13zm3-14zm11 5zm4 13zm2-3zm1-12zm2 14zm3-15zm1 2zm5 16zm2-19zm7 3zm12 12zm27 4zm8-20zm3 17zm12-4zm2-11zm11 8zm11-6zm2 13zm4-5zm1-7zm7 4zm16-7zm1 17zm4-16zm6 11zm3-2zm7 0zm3 3zm1-3zm5-7zm12 14zm2-13zm7 5zm4-3zm11-3zm4 14zm0-8zm1-3zm3-3zm1 7zm6 3zm1-11zm3-2zm2 17zm4-9zm16-7zm5 0zm1 3zm8 12zm5-13zm4 2zm1 9zm2-14zm1 7zm1 3zm5-11zm2 13zm0 3zm3 2zm2-10zm0 11zm1-4zm2 0zm3 5zm7-15zm3 9zm1 4zm1-12zm3-5zm1 16zm23-10zm3-7zm4 13zm1-13zm5 17zm21-10zm90-5zm17 13zm4-1zm131-13zm64-2zm33 10zm65-3zm147 10zm3-5zm3-10zm2 18zm356 18zm-306 5zm-89-10zm-29 8zm-144-7zm-297-7zm-87 4zm-1 0zm-14 4zm-6-10zm-5 3zm-4 13zm0-10zm-5 1zm-2 6zm-15 5zm-2-9zm0-10zm-3 1zm-1 1zm0-4zm-1 13zm-3-11zm0 15zm-2-6zm-3-2zm-5 6zm-1-13zm-7 15zm-1-15zm-3 13zm-5 3zm-4-16zm-7 18zm-7-18zm-1-1zm-4 3zm-4-3zm-4 12zm-12 1zm-10-5zm-5 1zm-4 3zm-4-11zm-26 13zm-2 6zm-15-7zm-11-8zm0 8zm-2-8zm-2 12zm-2 3zm-4-12zm-5 5zm-7-12zm-5 8zm-11-6zm-2 16zm-1-7zm-4-12zm-1 4zm-3 10zm0-15zm-2 19zm-8-11zm-1-7zm-2 11zm-10-10zm-9 9zm-1 1zm-4 2zm-5 7zm-12-5zm-5-15zm-10 1zm-4 4zm-6 4zm-2-6zm-5 7zm-4 3zm-1 7zm-3-17zm-2 9zm-1-4zm-8 10zm-2-12zm-1-6zm-16-1zm-5 8zm-18 1zm-16 4zm1 19zm13 1zm8 2zm10-12zm2 5zm15 6zm14-5zm17-5zm8 7zm5 3zm3 7zm9-19zm6 18zm4-17zm8 4zm4 1zm11 7zm5-10zm9 16zm5-13zm2 6zm1-11zm6-1zm5 20zm4-18zm6 12zm10-10zm2-4zm2 5zm4 4zm0 8zm6-7zm13 2zm23 8zm9-18zm7 10zm1-6zm0-5zm11 8zm7-3zm22 11zm5-14zm1 15zm33-4zm5-13zm9 5zm4 11zm0 4zm6-1zm1-5zm0-15zm2 4zm24 12zm4 0zm15-14zm1 9zm2-3zm7 13zm134-9zm26 0zm124 6zm46-17zm165 0zm28 0zm72 9zm335-5zm41 8zm36-3zm37 4zm13 19zm-35-8zm-415 0zm-13 15zm-194-7zm-102 3zm-125-9zm-51-3zm-29 11zm-19 5zm-37-15zm-10 18zm-5-5zm-15-8zm-2-7zm-8 7zm-1-5zm-5 3zm0-3zm-3 9zm-2-6zm-1 12zm-4-11zm0 9zm-4-4zm0-12zm-5 0zm-2 15zm-7 6zm-7-8zm-1-5zm-2 10zm-8-15zm-4 15zm-22 0zm-6 3zm-12-8zm-12 2zm-9-6zm-1-5zm-2 14zm-17 2zm0-12zm-9 5zm-12-6zm-5 11zm-4-7zm-4 5zm-6 3zm-40-9zm-2-4zm-13-2zm0 5zm-10 7zm-12-4zm-5-12zm-1 7zm-19 6zm-2-7zm-5 4zm-2 4zm-5-1zm-18-11zm-23 5zm-16 11zm-1-13zm-31 6zm-5 9zm-15-8zm15 13zm3 6zm4 3zm1 9zm21-10zm58-2zm1-8zm8 5zm15 15zm0-7zm2-9zm7 10zm4-14zm9 20zm1-6zm11-3zm1 9zm11-16zm6-4zm11 1zm10 2zm12 17zm12-9zm3 5zm2-14zm1 15zm0-9zm4 7zm9 0zm4-7zm7 4zm5-5zm6 5zm4-2zm13 7zm3-11zm17 12zm3 2zm0-16zm2 7zm0-11zm5 6zm15 4zm0 4zm5-5zm1 10zm0-3zm3-6zm4-5zm6 8zm7 6zm0-12zm12 10zm1-1zm2-8zm2-5zm9-4zm5 12zm6 6zm4-5zm6 1zm38 6zm118-2zm24-7zm64-3zm15 11zm9-9zm27 11zm20-17zm126 1zm116 13zm30-5zm2 3zm17-13zm23 7zm22-9zm297 13zm6-13zm45 16zm18 0zm-379 5zm-316 2zm-15 8zm-25-3zm-7 3zm-7 8zm-98-8zm-35-1zm-88 8zm-7 1zm-1-9zm-16 7zm-4-8zm-1 13zm-18-3zm-7-13zm-3 0zm-1 16zm-3-21zm0 3zm-2 5zm-5 7zm-1-10zm-8 13zm-6-13zm-5-1zm-5 3zm-5 2zm0-9zm-2 2zm-2 17zm-2-17zm-4 6zm-6 12zm-5 1zm-1-4zm-9-15zm-5 10zm-5 1zm-4 7zm-7-7zm-1-10zm-15-1zm-6 15zm-8-14zm-1 10zm-3-11zm-5 14zm-5-10zm-6 15zm-10-16zm-5 2zm-6-3zm-5 16zm-9-1zm-1-11zm-10 1zm-3 8zm-8-2zm-11-6zm-9 5zm-43 5zm-1-4zm-7 1zm-7 3zm-9-11zm-7-5zm-5 10zm-1 5zm-39-10zm-2 5zm-3-13zm-16 18zm-4-11zm-2 8zm-10-10zm22 24zm6 7zm3-10zm0 6zm1 6zm11-8zm7-3zm8 5zm26 3zm7 7zm9-4zm5-12zm7 4zm1 12zm0-19zm1 14zm6-9zm1 15zm1-12zm1 8zm4-1zm6-5zm0-8zm6-2zm0 20zm2-12zm18 11zm2-10zm3-6zm2 6zm6-5zm3 2zm12 7zm1-8zm9 4zm13 2zm4-1zm4 1zm1 6zm3-8zm7 8zm3-4zm2-8zm5-5zm4 17zm4-17zm1 7zm0 10zm2-3zm2-3zm11 5zm6-8zm4 6zm4-1zm12-4zm4 10zm5-14zm4 3zm6 1zm6 5zm4-5zm8-3zm6 14zm16-21zm21 6zm2-6zm3 19zm2-1zm6-17zm5 3zm11 4zm7 8zm1-6zm10 5zm3-3zm12-10zm5 3zm71 10zm65-10zm346 12zm7-2zm8-9zm-419 31zm-82-8zm-1 14zm-5-11zm-5 0zm-6-7zm-5 0zm-1 14zm-3 3zm-4-3zm-4-11zm-32 13zm0-12zm-7 9zm-1 4zm-10-18zm-1 18zm0-14zm-8 4zm-6 5zm-14-9zm-8 7zm-17-5zm-2 3zm-3 8zm-11 0zm0-18zm-7 0zm-1 7zm-2 9zm-6-2zm-8-1zm-9-7zm0 4zm-4-2zm0-5zm-4 5zm-1 4zm0-11zm0 19zm-5-21zm-7 17zm-2-4zm0 5zm-8-2zm-10-9zm0 7zm-6-14zm-4 16zm0-8zm0 6zm-4-2zm-5-7zm-2 7zm0 9zm-1-16zm-2 3zm-1 11zm-8-9zm-5-5zm-5 6zm-3 4zm0-14zm-1 8zm-1 11zm-12-8zm-13-2zm-2 3zm-1-13zm-5 2zm0 7zm-7-9zm-3 3zm-4 12zm-2-6zm0-8zm-7 1zm-1 15zm-1-7zm-3 7zm-3-8zm-14-9zm-4 17zm-1 1zm-3 3zm-1-8zm-2-2zm-2-5zm-1 9zm-9 1zm-4-16zm-5 17zm-3 0zm-7-6zm-12 8zm-18-6zm-1-5zm-6 12zm-6-10zm-16 30zm2-8zm2-3zm3 10zm2-12zm0 7zm3-11zm11 13zm3-5zm12-5zm2 17zm9-13zm3 11zm3-4zm4-10zm1 4zm0-8zm3 6zm6 10zm1-15zm4 7zm1 4zm2 5zm10-7zm4-9zm2 0zm2 16zm0-16zm4 4zm4 7zm7-13zm0 6zm2 13zm2-18zm1 7zm1 0zm7 11zm7 0zm3-6zm8-13zm0 4zm4 8zm1-10zm1 3zm2 8zm5-11zm2 15zm3-11zm2-4zm3-1zm24 2zm1 6zm7-9zm2 17zm3-5zm1-6zm2 7zm4 0zm1-7zm4-6zm6 13zm0 8zm1-4zm0-8zm4 10zm0-11zm1-7zm0 2zm5 2zm1 4zm4-7zm2 4zm5-4zm3 12zm1-12zm3 8zm1 4zm2-14zm0 21zm16-20zm1 11zm3-3zm6-8zm6 3zm4 1zm10 11zm1-3zm6-4zm1-8zm14 8zm2-9zm1 16zm6-3zm3-11zm7 15zm6-16zm2 14zm6-12zm1 18zm7-8zm15 7zm8-2zm4-12zm10 0zm24-2zm12 8zm7 6zm-43 21zm-13-1zm-16-2zm-6 7zm-8 0zm-19 0zm-11-16zm-6 10zm-5-10zm-14 14zm-6-18zm-16 5zm-13 11zm-4-7zm-6 9zm-2-10zm-2 4zm-1-10zm-9 15zm-3-4zm-6-4zm-6 8zm-1-3zm-8-10zm-1 7zm-5-11zm-19 12zm-13-13zm-1 10zm-2-6zm-5 9zm-9 0zm-1 4zm-2-7zm-2 8zm-1-12zm-10 15zm-4-13zm-3-4zm-5 8zm-26 1zm-1-13zm-5 8zm0-7zm-4 2zm-4 18zm-4-13zm-3 7zm-7-6zm-2-7zm-3 16zm-2-7zm-3-3zm-3 7zm-1-11zm-3 12zm-4 4zm-6-9zm-5-10zm-1 8zm-1 3zm-10 6zm-3-11zm-4 14zm-1-20zm-6 9zm-2 5zm-4-12zm-2 0zm-3 4zm0 8zm-5 1zm-1-2zm-1-11zm-2-1zm-10 14zm-1-7zm3 15zm8-2zm7 5zm5 15zm3-9zm8 5zm1-13zm1 7zm8 1zm2-7zm10-4zm1 14zm7-8zm1-1zm3 16zm2-19zm6 9zm3-7zm6 0zm8 17zm7-2zm6-17zm4 4zm5 3zm27 4zm4-8zm5 1zm3-3zm4 2zm1 7zm7 8zm3 1zm1-20zm1 4zm4 3zm9 3zm5-3zm6 8zm24-10zm1 7zm30-8zm5 0zm1 9zm2-11zm1 16zm7-11zm7-6zm17 19zm6-3zm8-13zm14 9zm1-13zm8 2zm7 11zm29 2zm6-1zm10 1zm6 4zm8-6zm9-5zm7 6zm19 1zm4-16zm11 15zm5 0zm-17 14zm-6-5zm-7 3zm-15 6zm-31-9zm-16 0zm-12 12zm-12-5zm-17 5zm-8 4zm-3-9zm-8 9zm-2-6zm-3-12zm-2 8zm-3-1zm-2 4zm-2-5zm-2 1zm-20 6zm-2-12zm-2 8zm-3 11zm-6-11zm-2 10zm-2-15zm-3 17zm-3-12zm-2-9zm-1 11zm-4 10zm0-5zm-6 0zm-10 5zm-4-21zm-3 16zm-3-11zm-8 11zm0-5zm-7 8zm-4 2zm-6-6zm-5-15zm-8 14zm0-10zm-12 8zm-5-8zm-21 15zm-19-4zm-27-11zm72 28zm44 2zm11-5zm2-7zm3 7zm9-1zm349 404zm264-4zm53 10zm-179 15zm-9 6zm-70-4zm3 12zm10 2zm203 31zm-1-6zm-145 12zm24 14zm10-4zm39-5zm22 34zm-126-9zm-43 6zm201 17z"/>
<path stroke="#DAA51B" d="m1922 386zm-451 118zm69 0zm26 0zm-16 12zm-33 9zm-14-1zm-16-8zm-5-9zm-31 25zm4 14zm21 2zm1-13zm3-5zm8 0zm11 9zm9 0zm24-10zm1 9zm1 4zm3-7zm2 9zm41-15zm6 2zm1 14zm28-14zm22 5zm15-6zm1 11zm-32 14zm-15 13zm-17-16zm-5 9zm-33-1zm-6-7zm-5 0zm-1 18zm0-10zm-2 10zm-2-15zm-4 11zm-4 2zm-3-5zm-1-8zm-3 7zm-3-10zm-1 17zm-6-13zm0-4zm-6 3zm-1-5zm-1 13zm-1-6zm-16 5zm-2-3zm-12 8zm-9-18zm-7 15zm-2 2zm-12-12zm-3 1zm-1 7zm-5 14zm1 16zm16 0zm11-11zm9-5zm2 12zm3-9zm1 6zm6 4zm24-5zm9 3zm3-9zm4-1zm2 11zm9-16zm12 2zm3 13zm4-7zm1 4zm17-3zm18 11zm7-3zm29-9zm2-5zm1-1zm1 18zm32-14zm3 12zm277-15zm-283 22zm-8 16zm-51-15zm-13 9zm-4-5zm-7-3zm-1 5zm-2-9zm-41 6zm-4 4zm-5-10zm-1 9zm-2-5zm-13 5zm-4-10zm-2 19zm-8-17zm-4 0zm-5-1zm-1 11zm0-5zm-4 0zm-1 9zm-2 2zm-2-4zm-5-1zm-4 7zm-1-14zm-2-7zm-4 1zm-5 19zm-9-5zm0-9zm-16 13zm0-5zm-1-9zm-27 31zm3-4zm2-4zm7-3zm0 17zm5-8zm7 0zm7-6zm6 14zm8-14zm0 9zm0-3zm5 9zm9-12zm4-1zm1 13zm6-10zm8-7zm3 9zm5 1zm0 4zm4-6zm1-11zm4 0zm0 13zm12-12zm9 19zm6-9zm1 9zm1-14zm4-1zm1 8zm30 0zm12 7zm28-6zm16-11zm33 6zm18 7zm15-13zm12 20zm-17 15zm-18-10zm-3-4zm-15 9zm-12 1zm-3-13zm-9 14zm-31-6zm-5-4zm-6 13zm0-10zm-5-6zm0 18zm-2-13zm-28-1zm-4 12zm-3-17zm-1 13zm-12-1zm-4-9zm-3 18zm-5-18zm-2 8zm-4 4zm0-15zm-1 6zm-1 2zm-5-7zm-1 18zm-5-10zm-9-4zm-1 7zm-6-11zm-3 11zm0 7zm-5-14zm-16 9zm-4 1zm-3-7zm-10 2zm-2-9zm-5 2zm-5-2zm-6 2zm0 16zm-8-8zm-5 8zm0-14zm-3 3zm-2 11zm-4-19zm-1 5zm-2 16zm-30 17zm2-4zm18-7zm0 10zm7 1zm6-11zm2 13zm3-11zm9 1zm1-6zm9 17zm5-13zm1 9zm1-15zm8 8zm6 12zm1-10zm0-7zm4 6zm0 11zm1-15zm1-5zm7 3zm8 17zm4-13zm4 1zm12 3zm3-10zm2 4zm5 15zm7-13zm4 8zm4 1zm12 2zm5-16zm1-2zm3 18zm2-8zm7 4zm0-11zm8 11zm6-9zm1 14zm1-18zm0 8zm2 12zm12-3zm9 1zm1-6zm19 4zm1 0zm5-2zm1-12zm1 1zm18 0zm20 4zm0 10zm4-9zm22-4zm5-4zm22 13zm4 6zm3-14zm172-5zm-141 37zm-16 3zm-29-9zm-16-10zm-22 17zm-3 3zm-11-16zm-18 4zm-2 8zm-3-1zm-1 5zm-2-11zm-5 12zm0-5zm-13 4zm-1-7zm0-9zm-2 16zm-7-5zm-3 5zm-4-13zm-4-2zm-23 3zm-6 9zm-5 2zm-6-17zm-4 4zm-11-4zm-3 14zm-15-15zm-11 6zm-3 8zm-4-9zm-4 8zm-1-8zm-6 4zm-2-4zm-6 13zm-3-14zm-6-5zm0 13zm-6 2zm-15-15zm0 11zm-10 6zm-12-7zm-6 9zm-8-3zm-5-6zm-10 3zm-3 5zm-4-1zm-5-10zm-27 18zm15 5zm5 4zm1 9zm1-6zm7-4zm12-9zm3 9zm0 10zm3-1zm8-5zm1-4zm2-11zm12 6zm7-6zm0 18zm2-4zm2 2zm1-6zm2-4zm10 13zm6-14zm3 15zm7-9zm21-2zm4 2zm0-8zm5 14zm5 3zm3-10zm1-7zm0-3zm2 21zm2-10zm7-11zm13 1zm5 6zm2 11zm9-9zm14 8zm1-10zm3-4zm0 5zm3 2zm1 10zm1-6zm11 0zm2 4zm1-11zm1-6zm13 3zm3 14zm3-18zm7 7zm0 12zm15-10zm0-7zm1 14zm7-15zm13 3zm4 11zm8-5zm2-3zm6-1zm3 14zm4-3zm8-10zm0 5zm31-4zm12 3zm29 29zm-24-14zm-4 15zm-8 2zm-4-9zm-11 3zm-18-8zm-14 9zm-4 4zm-1-17zm-2 9zm-3-6zm-7-4zm-21 19zm-2-16zm-18 4zm-1-4zm-3 3zm-6-3zm-2 8zm-11-5zm0 7zm-10-13zm-1 13zm-8-5zm-7 9zm-19-2zm-4-1zm-13-7zm-13-3zm-2-6zm-10 7zm-4 2zm-1-7zm0 11zm-1 8zm-4 0zm-6-15zm-5 8zm-1 5zm-8 2zm-3-9zm-8-6zm-6 3zm-6 4zm-19 6zm-16-13zm-3 6zm-4-10zm-2 13zm-9-6zm-3-7zm-1 17zm-1-13zm-3 9zm-1-8zm-5 5zm-14-6zm-42 36zm25-2zm4-16zm1 12zm7-8zm10 12zm1-9zm4 9zm6-18zm3 10zm2 7zm5 1zm1-18zm4 9zm16 10zm0-17zm0 1zm5-3zm4 2zm13 11zm7-5zm4 13zm5-8zm4-8zm3 4zm11 7zm1-5zm3-1zm4 1zm1-9zm5 2zm1 11zm8 5zm3-19zm3 11zm11 0zm12-7zm3 8zm2-13zm2 12zm5-10zm7 12zm1-14zm2 11zm4-7zm4 0zm2 10zm5 6zm5-4zm4 1zm11-15zm4 19zm12-9zm11-6zm2 10zm9 5zm1-6zm6-7zm3 1zm1 8zm8-15zm26 12zm49-11zm10-2zm10 16zm17-15zm6 12zm11 22zm-3-13zm-19 17zm-12-13zm-13 14zm-28-4zm-9-4zm-2 8zm-2-11zm-6-8zm-14 14zm0 2zm-9 4zm-4-14zm-12 10zm0-16zm-9 16zm-11-3zm-2 6zm-2-8zm-1-10zm-3 16zm-1-12zm-19 13zm-10-1zm-1-13zm-2 6zm-4-6zm-2 13zm0-8zm-12 1zm-2 4zm-3-5zm-4 3zm-2-12zm-2 4zm-4 9zm-1 6zm-3-13zm-3 6zm-1 9zm-2-6zm-2-4zm-1-3zm-5 2zm-4 11zm-5-19zm-1 10zm-8 6zm-1-4zm-6 6zm-3-16zm-3 7zm-3-2zm-13-8zm0 6zm-4-7zm-11 16zm-5-12zm-6 7zm-3-6zm-4 2zm-7 2zm-1-6zm-9 6zm-3 7zm-5-15zm-16 13zm-17 1zm-1 4zm-27-17zm-4 5zm-3 10zm-4 3zm-8-13zm-6 11zm-7-13zm-4 16zm-5 20zm13-6zm3-8zm5-5zm0 20zm4-20zm1 18zm1-1zm5-3zm4 7zm1-8zm5-1zm8-4zm2 12zm4-1zm12-2zm1-6zm1-6zm2 8zm3-5zm1-4zm8 13zm1-10zm12-7zm8 0zm3 15zm1-14zm1 7zm11-3zm2-3zm1 15zm13-12zm3 5zm20-2zm2-5zm9 12zm9-4zm4 8zm9-7zm4 3zm9-4zm3-6zm6-3zm10 13zm0-4zm3-9zm2 15zm3-16zm2 20zm4-3zm6-14zm4 1zm7 6zm2-4zm3-2zm5 3zm1 4zm8 9zm4-21zm4 6zm3-6zm1 9zm2 10zm8-15zm8 17zm1-5zm1-10zm12 1zm3 13zm25 0zm3-4zm8-8zm6 5zm1 6zm14-5zm2-5zm6 3zm9 4zm18-3zm9-10zm4-3zm15 12zm8-5zm0-5zm16 13zm4 6zm8 10zm-22 5zm-44-13zm-14 2zm-32 12zm-33-3zm-2 8zm-5-17zm-11 1zm-11 8zm0-6zm-7-4zm-7 18zm-3-8zm-1-2zm0 7zm-2-17zm-9 21zm-8-11zm-3-10zm-2 12zm-3 7zm-8-9zm-12 2zm-16-5zm-2 7zm-7-2zm0-7zm-5 10zm-3-6zm-19-3zm-17-5zm-8 7zm-1 13zm-6-20zm-12 16zm-6-12zm-3 14zm-1-16zm-1 15zm-5-13zm-16 4zm-1-5zm-5 0zm-2-4zm-1 4zm-7-1zm-4 12zm-2-6zm-1 8zm-1-14zm-6 5zm-2 6zm-5 1zm-2-8zm-1-1zm-1 8zm-5-8zm-4 3zm-9 10zm-4-6zm-12-3zm-2-9zm-1 14zm-10 0zm-4 2zm-5 4zm0-8zm-5-9zm-3 11zm-2-6zm-14 12zm0 21zm6-8zm2 4zm0-7zm4-7zm4 2zm1 13zm15-13zm5 16zm2-20zm2 18zm1-11zm6-4zm2-2zm8 6zm4-2zm7 16zm9-11zm6-1zm2-6zm9 6zm2 12zm19-14zm12 12zm9 2zm10-7zm17 3zm2-11zm18 8zm6 1zm14 0zm3-4zm24 7zm9 0zm3-3zm10-15zm5 2zm14 14zm2 4zm12 0zm4-19zm3 19zm2-8zm0 3zm2-9zm6-6zm3 3zm20 3zm21-5zm16 19zm19-5zm10-10zm14 5zm7-4zm24 12zm3-7zm9-8zm4 15zm3-3zm9 5zm1-12zm25 18zm-51 4zm-8-1zm-4 10zm-5-9zm-41 10zm-28-13zm-14 7zm-9 0zm-23-9zm-5-2zm0 6zm-4-4zm-3 10zm-2 8zm-1-18zm-8 10zm-8 5zm-3-11zm-9 14zm-23-9zm-14 4zm-6 0zm-5 5zm-22-11zm-1-8zm-4-1zm-1 19zm-5-18zm-3 8zm-7-9zm-8 11zm-8 8zm-7-10zm-1 5zm-3 5zm-1-8zm-1-12zm-4 10zm-3 10zm-3-16zm-3-3zm-2 13zm-13-12zm0 4zm-10 5zm-5-8zm-5 15zm-2-1zm-9-11zm-2 8zm-2-4zm-10 3zm-4-8zm-5-5zm-4 19zm-1-18zm-9 6zm-6 12zm0-18zm-5 20zm-4-11zm-3-8zm-3 8zm-2 0zm-1-3zm0-5zm-10 4zm-24 12zm-12-15zm-5 10zm10 23zm5-6zm4-1zm4 9zm9-1zm2-7zm16-6zm14 19zm5-11zm1 11zm2-15zm13 5zm6-5zm4 15zm3-20zm1 10zm4-4zm3 7zm5-10zm3 0zm4 17zm7-6zm0-9zm9 10zm5-7zm2 3zm2-11zm3 17zm0-10zm11 0zm13 10zm8-18zm9 4zm3 7zm13 3zm1-11zm34 5zm2 7zm12-3zm3-12zm6 1zm11 15zm17-3zm12-1zm1 9zm6-7zm1-14zm4 5zm22-4zm11 12zm35-8zm11 9zm22-12zm15 18zm7-6zm5-9zm9 10zm0-9zm30-6zm7 3zm4 7zm11 8zm-8 22zm-10-14zm-7 1zm-21 12zm-38-17zm-3 10zm-4 3zm-3 8zm-1-9zm-1-9zm-51 3zm-6 15zm-5-15zm-22-2zm-3-3zm-12 13zm0-13zm-3 7zm-4-4zm-2 5zm-11 6zm-3-10zm-4 13zm-9 2zm-3-17zm-18-3zm-2 16zm-5-1zm-2-10zm-13 5zm-28 1zm-5-3zm-12 11zm0-15zm-5-3zm-2 12zm-10-6zm-2 2zm-10 4zm-10-9zm-1 1zm-3 7zm-7-7zm-12 3zm-36-8zm-2 16zm-9-4zm-3-6zm-8 12zm-19-9zm-2 4zm-9 7zm-1-20zm-6 18zm-7 1zm-3-5zm-4-14zm0 17zm-1-3zm-5-5zm0-8zm-6 17zm-1 12zm3 0zm2 13zm0-19zm3 7zm1 7zm10-8zm17 4zm3 4zm1-9zm15 14zm5-5zm6-13zm10 13zm0-12zm6 9zm4 7zm14-14zm12-5zm3 11zm10-4zm1-6zm6 4zm2 10zm5-14zm4 13zm4-12zm3-2zm1 8zm6 2zm6 6zm1-8zm15-6zm4 8zm4-2zm1 10zm8 1zm2-7zm8 1zm0-5zm16 2zm4-4zm1 14zm1-8zm2-3zm4-6zm8 4zm2-5zm4 14zm10-17zm4 3zm10 13zm1 0zm3 1zm0-13zm3 7zm4-9zm13 9zm34-1zm5 3zm11 5zm13-9zm2 6zm19-4zm8-10zm29 12zm1-3zm26 6zm14 3zm6-4zm10-4zm9-1zm13-1zm31-6zm-37 21zm-21-2zm-30 18zm-2-15zm-24 11zm0 4zm-35-5zm-9-2zm-4 5zm-5-13zm-4-3zm0 21zm-4-14zm-25-6zm0 17zm-17-7zm-39 2zm-1 4zm-7-6zm-18-5zm-6 3zm-14-4zm-9 9zm-1-8zm-3 4zm-2-6zm-3 7zm-4-1zm-1 4zm-3-10zm-1 9zm-3-2zm-1-10zm-7 12zm-3-3zm-6 3zm-1 5zm-20-17zm-20 9zm-2 3zm-2 6zm-21-11zm-23 7zm-2 3zm-8-4zm-3-13zm-1 8zm-5 0zm-1-3zm-2-6zm-3 19zm-4 0zm0-3zm-10-9zm0 13zm-6 1zm-8-4zm-3-6zm0-11zm-5 13zm-6 2zm-9 0zm-9-12zm-2 3zm-2 35zm9-8zm4 9zm2-5zm2-13zm4 2zm4 4zm21 10zm32-12zm4 9zm3 3zm4-3zm5-13zm0 14zm24-5zm2 10zm10-2zm2-4zm1-12zm2 3zm2 11zm6-5zm9 5zm3-7zm8-6zm7-1zm2 12zm2 6zm4-16zm6-2zm6-3zm2 14zm9 3zm4-9zm0 8zm13-8zm22 6zm3-11zm9 15zm7-9zm19-5zm0 16zm1-4zm4-10zm3 4zm16-3zm14 13zm9-7zm7 1zm22 7zm10-15zm50 4zm1 6zm14-7zm18 1zm1 11zm17-6zm7-3zm13-5zm31 23zm-16-8zm-16 19zm-6 2zm-16-3zm-4-14zm-4 1zm-12-1zm-7 10zm0-11zm-11 8zm-11-6zm0 13zm-20-7zm-6 6zm-2 3zm-43 0zm-17 1zm-9-12zm-20 4zm-11-8zm-7 7zm-14-9zm-9 4zm-8 12zm-12-12zm-7-7zm-10 13zm-21 8zm-1-20zm-4 8zm-2-3zm0 15zm-2-8zm-5-11zm-6 13zm-5-3zm-1-8zm-7 5zm0 7zm-10-11zm-4 0zm-3 4zm-1 1zm-5 6zm-9 2zm-1-17zm-1 5zm-9 0zm-22-5zm-1 7zm-1 9zm-3-9zm-12 0zm-4-8zm-4 12zm-5-9zm-2 4zm-5 0zm-6-4zm-7 2zm-6-1zm0 12zm-11 0zm-9 5zm-4-4zm-7-10zm-2 10zm0-14zm-15 12zm9 9zm2 13zm6-8zm2 6zm12-12zm16 3zm0 6zm7 4zm2-9zm6 1zm13 10zm10-10zm19-6zm9 4zm8-1zm6 3zm4-6zm0 12zm1-8zm3 13zm0-7zm2-10zm1 21zm5-2zm5-3zm1-5zm0-10zm1 13zm2-4zm2 9zm1-18zm2 3zm1 14zm2-7zm4-3zm0 7zm2 5zm2-19zm11 12zm13 4zm3-2zm0 4zm3-14zm2 9zm3 7zm8-13zm6-2zm2-4zm3 4zm4-4zm6 18zm12-11zm23 3zm16 0zm3-3zm5-6zm0 15zm4-18zm21 5zm19 8zm16-1zm4 0zm21-8zm14 12zm5-7zm12-5zm27 11zm7-6zm11 9zm8-9zm14-3zm26 25zm-13 1zm-24-3zm-15 2zm-15-1zm-1 4zm-3 7zm-7-4zm-6-5zm-8-6zm-7 7zm-5-5zm-16 3zm-9-4zm-4 11zm-84-5zm-1-11zm-3 4zm-1 4zm-16 7zm-6-1zm-2-13zm-9 7zm-5-5zm-25 15zm-19-6zm-4-7zm-2-5zm-1 13zm-1-7zm-3-3zm-8 4zm-2-5zm-1-1zm-1 3zm-4 4zm-8-6zm-1 7zm-7-2zm-7 3zm-10 9zm-16-3zm-3-7zm-5 4zm-15-3zm-11-4zm-4 10zm-26-11zm-2 8zm-3-6zm-7 7zm-12-10zm-10 11zm-11 4zm-8-15zm3 25zm9-5zm4 9zm2-7zm1 7zm3-9zm3 13zm16-8zm2 9zm3-10zm2 14zm8-9zm5-9zm9-2zm5 8zm11-1zm1 7zm2 7zm1-11zm3 9zm14-19zm6 4zm6 15zm1-8zm2-9zm5 12zm2-9zm4-1zm9 13zm7 4zm2-15zm0 7zm4-4zm4-7zm0 11zm9 8zm2-5zm2-4zm1 9zm14-15zm3 3zm3 8zm24 0zm29-10zm9 0zm23-4zm6 1zm6-4zm2 6zm36 10zm1-4zm30-6zm25 4zm15 1zm38-10zm2 19zm3-2zm4-3zm27-9zm14 11zm-1 9zm-32 12zm-3-5zm-2 8zm-14-11zm0 0zm-9 6zm-5 4zm-2 3zm-20-13zm-11 7zm-25-5zm-1 5zm-25-11zm-1 17zm-28-21zm-28 11zm-12-8zm-10 16zm-2-11zm-2-7zm-4 19zm-1-11zm-44 2zm-6-8zm-5 1zm-4-3zm-1 7zm-4 13zm-7-9zm-8-4zm0-8zm-2 13zm-17 4zm-8 1zm-5-14zm-7-3zm-4 15zm-5-4zm-4-2zm-4-5zm-4-3zm0 18zm-11-13zm0 14zm-1-21zm-3 12zm-7-2zm-1 10zm-7-7zm-3 3zm-1 4zm-7-7zm-1-11zm-1 7zm-10 0zm-4 1zm-2-2zm-6 5zm-2 4zm-2-3zm-3-5zm-8 2zm0 4zm-4-15zm-5 4zm-5 25zm4 5zm11 6zm3-8zm9 11zm10-7zm7-12zm6 7zm3-7zm3 18zm9-14zm4 2zm1 13zm2-17zm3 3zm5 10zm8-3zm7-5zm10 5zm11 2zm1-12zm4 3zm0-7zm5 14zm2 3zm9-5zm2-11zm5 0zm4 1zm5 18zm4-3zm7-16zm2 15zm5-12zm4 8zm26 5zm4-12zm6-3zm6 11zm6-2zm13-1zm1-6zm19 2zm16 8zm14 4zm11-5zm15 2zm1-6zm33 11zm15-8zm4 1zm7 8zm5 0zm2-8zm6-3zm4-4zm14 8zm7-2zm5-11zm3 3zm2-3zm2 15zm11-8zm4-1zm23 33zm-57-17zm-7 4zm-9-5zm-1 19zm-4-3zm-2-8zm-35 4zm-13-1zm-28-9zm-4 3zm-11-1zm-11 10zm-32 1zm-13-10zm-2 13zm-25-5zm-5-1zm-19-4zm-5 6zm-49-7zm0 3zm-2-8zm-12 16zm-5 0zm-2 2zm-2-16zm-2-4zm-2 11zm-12-2zm-9-7zm-9 12zm-4-12zm-5 7zm-13-8zm-17 6zm0 8zm-4-3zm-9 3zm-2-15zm0 21zm-6-2zm-3-15zm-1 10zm-4 1zm-6 16zm11-2zm3-6zm2 13zm4-1zm12-6zm7 0zm4-2zm5 6zm1 5zm2 3zm13-10zm4 1zm3 7zm11-11zm3 1zm5 9zm9-3zm9 4zm3 1zm3-16zm10 4zm10-6zm6 4zm10-2zm1 19zm25-14zm15 1zm7 1zm16 7zm27-5zm17-9zm14 6zm1-4zm6 5zm52-1zm8 3zm12 0zm0-8zm5 3zm2 4zm25-10zm25 8zm7 11zm12-10zm39-5zm-78 19zm-23 14zm-7-3zm-31-8zm-24 17zm-6-11zm-30-8zm-19-1zm-2 6zm-34 7zm-9-14zm-16 10zm-32 3zm-7-12zm-2 7zm0 10zm-11-2zm-23 3zm-4-7zm0-12zm-9 10zm-2 0zm-5-1zm-2-7zm-9 16zm-3-6zm0-10zm-2 18zm-2-15zm-5 5zm-4-6zm-1 14zm0 1zm-2 1zm-3-4zm-1-14zm-4 6zm-1 5zm-7 8zm-15-6zm-7 1zm-12-4zm-6 3zm16 8zm3 9zm7 9zm3-4zm1 0zm12 0zm0 4zm1-17zm7 15zm1-13zm2 6zm2 11zm8-4zm3-3zm3-1zm13 0zm5 6zm4-17zm4 1zm7 10zm67-7zm6 9zm9 3zm1-10zm2 3zm24 7zm1-3zm30 6zm1-12zm3 11zm4-15zm2 15zm9-4zm5-9zm3 2zm0 8zm4-11zm8 9zm1 5zm6-14zm11 0zm25 6zm3-12zm63 30zm-46 2zm-4-3zm-3-3zm-21 9zm-11-12zm-38 5zm0 5zm-8 2zm-12-6zm-14 7zm-30 4zm-8-3zm-11-8zm-14 13zm-9-12zm-5-4zm-4 5zm-3 5zm-1-9zm-18 13zm-8-8zm-4 8zm-15-8zm-4 8zm-7 3zm-1-8zm-10 0zm-3 2zm-28-6zm-2 11zm0-14zm-12 8zm-2-3zm-10 8zm-5-11zm9 16zm4-1zm4 1zm1 6zm5 9zm1-6zm4-4zm3 4zm7-6zm5 2zm4 9zm35 4zm41-17zm13 6zm5-8zm12 17zm43-13zm28 9zm46-8zm36-2zm-99 20zm-61 5zm-4 9zm-7-10zm-16 0zm-3 13zm-1-16zm-3-1zm-3 7zm-12-8zm-4 14zm-29-15zm-1 19zm-8-18zm-18 3zm-6 6zm0 18zm29 13zm7-1zm38-1zm5-15zm5 1zm2 10zm10-4zm53-6zm38 7zm-184 27zm4 18zm22 4zm1-3zm-1 10zm-2 7zm-5 5zm-5-3zm-5 12zm0 11zm1-6zm9 2zm1 9zm0 2zm5 0zm33-7zm7 3zm8 16zm-13-6zm-2 5zm-4-4zm-4 6zm-1 9zm-4 3zm-4-3zm-3 6z"/>
<path stroke="#52BCA3" d="m445 1121zm-140 103zm1084 71zm25 16zm-56-7zm-7 3zm4 26zm72-8zm2 17zm-68 5zm-10 15zm-9 36zm-1 13zm0 6zm40-1zm-35 28zm-85 4zm-11 1zm126 17zm1 21zm-8 2zm-23-9zm-1 7zm-13-10zm-40 7zm-21 19zm14 0zm38 7zm33 7zm6-14zm57 13zm23-20zm1 2zm-36 27zm-80 0zm-8-4zm-67 33zm67-3zm73-2zm10 12zm-85 15zm-30-8zm-24 6zm102 40zm-96 7zm111 16zm38 2zm24-7zm299 34zm-17 1zm-25 4zm-283-11zm-41 9zm-103-12zm55 32zm47-12zm14 10zm6-9zm8 8zm240 2zm5-4zm12 3zm2-10zm1 6zm0-6zm10 9zm7-6zm2 7zm31-4zm4 10zm3-16zm3 8zm1-10zm4 11zm1-3zm11 8zm1-8zm19 0zm21 6zm182-10zm2 16zm-36 4zm-36 3zm-121 4zm-30-4zm-16 2zm-8 0zm-8 10zm-1-6zm-3-4zm0 11zm-4-16zm-5 8zm-5 3zm-5-3zm-6-6zm-4-7zm-4 10zm-2 10zm-6-20zm-1 4zm-8 16zm-5 0zm0-11zm-6-5zm-24 16zm-6-15zm-1 16zm-5-13zm0-7zm-12 15zm-8 1zm-6 0zm-5 2zm-6-7zm-28-5zm-126 9zm-1 4zm-40-9zm-19-10zm-87 20zm-69-1zm-44-2zm-91 6zm72 8zm46 10zm111 1zm2-8zm34-6zm65 10zm28-15zm35 13zm3-11zm8 9zm33 8zm15-4zm18 4zm24-18zm12 16zm5-11zm1 5zm5-6zm7-2zm0 0zm2-4zm10 16zm15-9zm2-5zm10 2zm3 12zm3-9zm3 9zm2-4zm8 4zm2-7zm3 9zm13 2zm7-19zm3 8zm4 6zm13 4zm10-2zm1-5zm3-7zm2 13zm5-6zm29-2zm3-4zm6 3zm5 4zm35 5zm29 8zm-63 12zm-4-5zm-10-10zm-2 5zm-6 3zm-12-4zm-3 6zm-6 2zm-11 3zm0-15zm-11 4zm-15 15zm-11-9zm-5-1zm-14 1zm-42-4zm-7-8zm-6 3zm-8 16zm-8-8zm-4-4zm-16 7zm-8 3zm-22-9zm-1 12zm-18-11zm-5-4zm-10-5zm-2 18zm-29-8zm-2-7zm-1 15zm-20-7zm-3 10zm-26-5zm-223 3zm-24 2zm-5 0zm-81-2zm11 19zm43 5zm17-21zm29 14zm4-8zm40 8zm5 6zm42-19zm40 5zm32 10zm30-4zm22-3zm15 6zm3 2zm4 2zm7 2zm6-7zm1 4zm11-2zm6 0zm6-12zm4-1zm8 13zm6 2zm17-9zm3 8zm5-2zm4 2zm7-8zm8 6zm2-3zm0-9zm7 13zm9-11zm9 5zm8-9zm5 10zm23 9zm29-8zm2-4zm14-6zm6 14zm8 5zm11-9zm13 3zm17-1zm2 5zm2-16zm2 13zm21-12zm5 4zm5 8zm9-9zm7 10zm13-8zm3 30zm0-13zm0 6zm-10 11zm-9-18zm-6 7zm-2-10zm-6 11zm-4-9zm-12 6zm-4 10zm-11-16zm-7 6zm-19 5zm-24 2zm-9-1zm-6-1zm-2 4zm-3-1zm-1-12zm-7-3zm-9 8zm-6 2zm-3 3zm-5-6zm-7 12zm0-13zm-4 11zm-12-4zm-9 1zm-10 4zm-2-13zm-4 9zm-5 4zm-8-16zm0 9zm-15 8zm-6-11zm-1 10zm-5-8zm-30-10zm-2 8zm-5-3zm-1-5zm-15 2zm-4 3zm-2 12zm-1-6zm-6-4zm-2 5zm-5 4zm-2 4zm-5-1zm-3-15zm-4 12zm-14 4zm-9-11zm-7 3zm-4-3zm-6 9zm-10 2zm-1-13zm-17 1zm-108 1zm-4 5zm-29-15zm-8 16zm-3 3zm-5-12zm-153 11zm85 24zm47 0zm37 0zm1-14zm30 10zm54 4zm19-1zm22-15zm15 7zm6-10zm6 6zm28-5zm9 12zm11 3zm10-10zm6 4zm20-1zm0-7zm5 2zm4 10zm10 3zm10 0zm0-13zm13 6zm12 10zm1-14zm5 7zm7 6zm3-18zm9 11zm18-8zm3-2zm18 16zm22-2zm1-15zm1 19zm1-2zm10-17zm3 12zm5-5zm5 12zm16-7zm6-11zm3-1zm0 10zm1 3zm5-2zm4 2zm11 5zm7-10zm2-10zm4 15zm0-4zm3-3zm4-1zm1 14zm0-11zm27 0zm20 8zm3-14zm7 17zm0-12zm0-6zm3-1zm1 4zm6 11zm17-10zm-3 33zm-6-13zm-5 13zm-1-14zm-10 6zm-4 4zm-9 4zm-2 3zm-7-11zm-13 4zm-6 4zm-4-16zm-1 16zm0-8zm-11 9zm-1 2zm-1-4zm-16-12zm-10 7zm-4-2zm-12 1zm-4-6zm-2 15zm-3-18zm-2 14zm-11-6zm-1 6zm-7-4zm-2 4zm-2 4zm-2-9zm-3 6zm-5 3zm-7-18zm-1 8zm-2-3zm-11 4zm-12-5zm-6 15zm-20-19zm-24 4zm-4 6zm-3-8zm-1 17zm-10-8zm-4-4zm-7 9zm-1-14zm-3 8zm-20 8zm-13-13zm-13 9zm-9 1zm-10-13zm-9 1zm0-3zm-4 16zm-27-7zm-5 8zm-16-13zm-10-4zm-11 10zm-20 9zm-39-2zm-22-16zm-31 17zm-66-20zm-10 21zm-7-17zm15 39zm0-16zm10 9zm11-2zm22-5zm50 12zm7-8zm6 6zm15-9zm3 2zm3 10zm1-7zm4-2zm3 7zm4-5zm19-4zm16 12zm6-21zm9 13zm2-11zm6 17zm5-1zm1-14zm0 6zm39 4zm4 0zm28-2zm8-11zm0 14zm2-10zm14 14zm15-12zm1 14zm3-14zm5-6zm3 7zm7-1zm3-4zm1 16zm3-9zm7-7zm4-1zm31 19zm2-8zm6-5zm4 2zm3-4zm7 12zm2-14zm1 10zm0 4zm9-11zm6 6zm0-3zm6 10zm0-16zm4-4zm1 8zm7 1zm6 10zm2-13zm4 1zm7 10zm0-10zm0 14zm1-20zm7 16zm4-9zm3 9zm1-10zm3 13zm3-3zm15-2zm1-8zm4-2zm4 15zm2-10zm1-3zm5 12zm1-12zm16 10zm2-11zm10 14zm5-20zm2 21zm3-9zm2 6zm1-12zm8 14zm3 1zm5-3zm17-12zm2-3zm7 1zm2 6zm6-7zm-13 30zm-4 2zm-3-6zm-3 5zm-7 3zm-4 3zm-1-17zm-1 11zm-12 0zm-11-10zm-4 4zm-14 3zm-3-6zm-7 9zm-4-8zm-3-2zm-1 9zm-3-11zm-5 6zm-1-6zm-4 5zm-1 16zm-9-8zm0 7zm-1-17zm-1-2zm-10 5zm-2 9zm-2-5zm-10 5zm-18 6zm0-11zm-5 9zm0-15zm-1 10zm-5-10zm-3 4zm-2 11zm-3-11zm-4-3zm-32 3zm-10-1zm-2-7zm-4 21zm-16-5zm-3-6zm-2-3zm-1-6zm-2 19zm-11-8zm-6 9zm-2-13zm-7 7zm-3-4zm-15-5zm0 6zm-4 5zm-9-8zm-2-6zm-5 12zm-1-8zm-10 2zm-1-2zm-4 1zm-3-2zm-10 5zm-3-10zm0 13zm0-4zm-2 10zm-4-13zm-4 5zm-3-12zm0 18zm-9-8zm-20 6zm-3 1zm-9-13zm-15 5zm0 7zm-5-9zm-2 9zm-2-10zm-8 0zm-3 7zm-4 0zm-32 0zm-3-13zm-2 21zm-12-6zm-2-10zm-4 15zm-11-16zm-11 6zm-5-3zm-52-6zm-18 1zm-4 8zm-20-6zm-12 8zm-15 25zm86 1zm3-4zm12-6zm15 2zm0 4zm2 5zm3-11zm1 7zm6-13zm0 3zm1 12zm0-6zm6-3zm13 14zm10-8zm5-8zm3 3zm8 8zm0-11zm6 13zm6-10zm4 11zm4-3zm2-12zm7 11zm3 0zm2-14zm3 6zm14 6zm2-5zm12 4zm3 6zm0-14zm6 5zm7-3zm2-4zm8 4zm0 6zm2 4zm6-11zm4-3zm2 7zm1 10zm3-2zm0-12zm4-1zm9 7zm7 9zm7-10zm3 2zm4 10zm5-11zm2-4zm0 15zm2-3zm1-9zm14-3zm0 8zm5-5zm3-3zm1-3zm1 18zm6-11zm2 2zm1 3zm5-2zm1 5zm5-7zm3-2zm10-1zm3-3zm12 15zm1-14zm6 13zm1-18zm7 6zm4 6zm5-9zm0 5zm13-1zm5 0zm1 10zm2-7zm14 2zm19-6zm15 4zm3-8zm15 4zm10 0zm1 5zm6-10zm1 7zm6 4zm8 4zm5-7zm8 2zm0 5zm2-13zm1 14zm9-9zm1 6zm3-12zm3 4zm8 3zm6-4zm26-5zm13 8zm10 15zm-9 6zm-2 12zm-10-2zm-2-6zm-3 7zm-3 2zm-1-21zm-4 11zm-9-6zm-1 9zm-8-5zm-13-4zm-11 10zm-4-6zm-7 9zm-4-2zm-3-16zm-10 9zm-7-9zm-5 15zm-5 5zm-9-12zm0-7zm-3 17zm-14-9zm0 10zm-5-10zm-5-2zm-7-2zm-7-2zm-5 7zm-12 3zm-4 4zm-16-10zm-3 6zm-2-6zm-5 10zm-4 2zm-7-18zm-6 14zm-5 0zm-5-12zm-4 5zm-5 9zm-1-8zm-4 4zm-9-7zm-5 2zm-3-4zm-3 10zm-3-6zm0 4zm-12 3zm-8 0zm-6 6zm0-7zm-1-8zm-9-3zm-4 12zm-2-14zm-3 3zm-1 13zm-2-15zm-2 8zm-3 10zm-3-10zm-5 11zm-3-1zm0-5zm-1-7zm-2 5zm-2 3zm-1-5zm-2 9zm-4 1zm0-8zm-1-5zm-3-3zm-2 6zm-5 8zm-11-17zm-8 0zm-4 17zm-5-9zm-4-8zm-7 4zm-5 3zm-2-7zm-2 15zm-1-4zm-3-4zm-17-9zm0 9zm-12 2zm-6-7zm-5 12zm-3-2zm-5 7zm-5-2zm-11 1zm-7-19zm-3 4zm-6-3zm-2 15zm-1-11zm0 7zm-4-11zm-2 16zm-25-7zm-1-8zm-15-1zm-1 4zm-8-2zm-4 10zm-65 25zm19-14zm22 12zm6-4zm8 7zm8-12zm2 12zm5 2zm2-9zm29-6zm2-4zm0 15zm6-13zm2 18zm4-6zm3-9zm15-2zm11 13zm4-2zm8-10zm1 11zm2-3zm1 5zm2-13zm1 4zm1 7zm15 5zm11-20zm17 11zm1 9zm2-11zm3 9zm0-11zm10 8zm5-10zm7-1zm15 16zm1-18zm8 12zm3-9zm5 9zm2-11zm9 3zm2 3zm9 2zm5 4zm10 0zm2-13zm13 8zm1 1zm1 4zm8-13zm1 4zm10 6zm4-3zm3-5zm6 5zm10 9zm4-14zm1 10zm5-13zm7 1zm0 15zm4-6zm7-12zm9 5zm2 4zm1 6zm3-3zm1 6zm6 0zm0-12zm26-1zm3-3zm1 13zm4-12zm1 16zm5 2zm9-9zm7-8zm11-2zm18 19zm7-14zm9-7zm2 15zm5 1zm4-1zm4-6zm4-7zm2 16zm7-2zm8 4zm13-5zm13-4zm1 9zm5-18zm2 8zm2 10zm7-6zm6-11zm0 10zm4 0zm4-4zm21-2zm-13 17zm-3 3zm-2 16zm-5-9zm0 7zm-4 0zm-3 2zm-3-13zm-4 12zm-2-7zm-2 7zm-6-14zm-15-5zm-11 12zm-1-10zm-1 6zm-4 11zm-4-1zm-3-6zm0-9zm-3-3zm-4 17zm-1-14zm-19 16zm-9-1zm-14-15zm-11 12zm-8 4zm-16-10zm-2 9zm-1-5zm-8 1zm-2 4zm-6-6zm-2-9zm-1 4zm-5 11zm-5-5zm0-7zm-8 10zm-11 1zm-2-11zm-3-2zm-13 11zm-5-8zm0 5zm-7 5zm-30-10zm-1 7zm-5-7zm0-6zm-3 9zm-11-3zm-3 1zm-1-6zm-29 15zm-2-17zm-7 3zm-1 6zm-5 4zm-1-8zm-12-3zm-5-2zm-2 11zm-2-6zm-2 9zm-4-8zm-6-4zm-1 8zm-8-4zm-6 2zm-5 7zm-3-7zm0-1zm-3-5zm-10 14zm-3-8zm0 6zm-3-10zm-4-3zm-2 0zm-1-2zm0 20zm-8-14zm-2 6zm-5 5zm-8-14zm-6 3zm-6 0zm-18 14zm-2-10zm-4 4zm-5 2zm-3-4zm-5 5zm-3 2zm-6-12zm-7 7zm-2-11zm-4 9zm-3 6zm-1 3zm-7-15zm-6-5zm-1 8zm-1 11zm-8-15zm-11 3zm0 11zm-6-7zm-4 7zm-2-11zm-3 7zm-4 5zm-3-7zm-9-10zm-43 14zm24 24zm0-10zm7 2zm1 9zm1 1zm10-10zm3 6zm1-9zm0-8zm6 5zm2 6zm7 10zm4-12zm4-4zm0-3zm10-1zm5 20zm1-11zm6 0zm19 4zm2-8zm3-3zm1 13zm6-9zm10 10zm1-8zm4 9zm2-13zm0 11zm4 4zm1-5zm4 3zm0-5zm7 4zm14 2zm0-5zm4 1zm3 6zm5-15zm5 11zm2-17zm5 3zm4-3zm3 5zm3 6zm4 7zm2-3zm4-4zm1 5zm10-8zm16 10zm9-13zm2 13zm8-11zm3 10zm0-6zm3 5zm6-8zm0 13zm14-13zm9 6zm9 6zm11-5zm2-8zm2 5zm6 7zm2-10zm9 5zm1-6zm10-6zm10 2zm5 7zm7 1zm5 9zm2-13zm5 11zm0-17zm1 13zm6-3zm6-8zm3 14zm2 0zm5-14zm2 5zm3 4zm4 4zm7 3zm3-6zm5-14zm0 19zm23-18zm3 20zm5-21zm0 8zm3 0zm2 6zm4-6zm1-8zm2 9zm1 12zm2-16zm1 16zm9-1zm6-7zm4-10zm8 15zm4-17zm7 7zm7 3zm5 1zm1-10zm5 9zm3-11zm2 7zm19-1zm6 11zm8-14zm11 0zm3 8zm6-3zm1 7zm6-5zm6-7zm4 18zm12-5zm3-9zm3-4zm-7 32zm-8-9zm-6-1zm-5 10zm-15-7zm-2 14zm-5-10zm-4-7zm-2 6zm-11 7zm-4-13zm-2-1zm-9 10zm-23 3zm-4-10zm-12-1zm-4-3zm-6 7zm-13 2zm0 4zm-4-2zm-7 0zm-3 6zm-2-12zm-2 12zm-8-12zm-2 5zm-2 10zm-2-13zm-3-1zm-1 8zm-5 4zm-2-12zm-2 14zm-4-21zm-6 7zm-2-7zm-6 12zm-7 5zm-2-15zm-2 1zm-1 5zm-2 7zm-3 4zm0-9zm-3-7zm-4 7zm-2 6zm-12 1zm-13-13zm-5 14zm-2-11zm-10 7zm-13 7zm-10-7zm-7-12zm-6 5zm-5 13zm-2 1zm-9-20zm-3 16zm-2-15zm0 7zm-13 8zm-1-12zm-8 14zm-2-5zm-9-11zm-19-3zm-17 10zm-4 2zm-1-10zm-3 18zm0-9zm-1 10zm-7-10zm-12-3zm-8-8zm-2 3zm0 5zm-2 7zm-4-5zm-4 11zm-1-10zm0 3zm-1 7zm-1-15zm-6 4zm-2-7zm-10 16zm-1-12zm-8 1zm-14-3zm-2 13zm-9-4zm-10 5zm-2-17zm-1 13zm-3-14zm-3 15zm-13 0zm-2 4zm-10-18zm-1 6zm-4-4zm-4 1zm-1 11zm-2-14zm-2 18zm-1-9zm-6 4zm-3-2zm-2-2zm-9-8zm-12 12zm-4-12zm-3 8zm-10-4zm-1 12zm-9 19zm1-7zm3 12zm6-21zm1 4zm5 15zm2-13zm10 4zm4-8zm0 3zm1 0zm5 9zm5-7zm7 2zm13-8zm7 3zm2 17zm2-15zm1-5zm3 19zm0-8zm16 1zm1-5zm2 3zm7-2zm19 12zm14-18zm4-3zm1 8zm5 13zm9-21zm5 1zm5 1zm7 11zm2-7zm7 3zm7 12zm1-15zm16 7zm10 5zm1-15zm3 4zm1 11zm21-12zm0 13zm11-10zm19-4zm2 4zm1-2zm9-5zm4 8zm4-2zm15 8zm4-7zm4-2zm3 12zm12-16zm10 15zm7-7zm7-6zm0 8zm11-3zm2 3zm4-1zm2-4zm5 8zm6 2zm1 3zm4-21zm3 5zm2 15zm21-19zm4 11zm3 6zm3-7zm3-11zm1 5zm1 8zm4-5zm0 12zm9-16zm2 14zm11-16zm5 10zm10-9zm4 1zm0-4zm7 13zm24 7zm1-13zm4 0zm12 1zm23 2zm0-7zm12 10zm4-13zm11 3zm2 13zm4-1zm1-3zm4-1zm1 4zm1-10zm3 13zm5-6zm3-7zm1 5zm0 9zm16-17zm-21 21zm-1 6zm-4 2zm-7-8zm-3 0zm-4 1zm0 8zm-1 4zm-11 0zm-1 4zm-11-8zm-5-6zm-53-1zm-2 4zm-8 9zm0-11zm-1-5zm-1 20zm0-12zm-4-3zm-3 5zm0-10zm-5 10zm-6 4zm-1-6zm0 10zm-11-16zm-4 18zm0-14zm-2 6zm-9-7zm-6 6zm-4 0zm-1-4zm-9 5zm-4 0zm-1-11zm-2 7zm-6 8zm-1-1zm-8-6zm-4 9zm-1 3zm-1-8zm-8-13zm-11 0zm-8 0zm-1 18zm-3-12zm-3 9zm-3 2zm-5-17zm-2 7zm-1 12zm-5-6zm-3-3zm-1 8zm-13 2zm-7-4zm-9 3zm-5 1zm-9-8zm-5 4zm0 5zm-2-18zm-2 12zm-8 6zm-17-12zm-3-1zm-3 7zm-1 6zm-3-12zm-18-7zm-2 16zm-1-5zm-3 6zm-3-7zm-4-8zm-1 13zm-7 0zm-2-10zm-1 2zm-2-7zm-3 14zm0-9zm-4 9zm-14-8zm-6 12zm-1-6zm-2-5zm-4 8zm-2-5zm-1 8zm0-11zm-1-4zm0-5zm-3 7zm-4 7zm-1-7zm-4 4zm-5 5zm-4-8zm-2 5zm-1-7zm-2 8zm-8-5zm-1 8zm-1-12zm-7 6zm-8-7zm-1 17zm-9-18zm-3 9zm-9 2zm-10 4zm-5-15zm-8 17zm-11 1zm-6-6zm-1-6zm-5-9zm-1 0zm-4 7zm0 11zm-1-6zm-2 6zm-5 0zm-15-8zm-1-6zm-2 17zm-5-1zm-3-4zm-7 4zm-2-6zm-3-3zm-14-4zm-13 31zm10-16zm11 1zm4 4zm1 9zm3 6zm5-11zm1-5zm5 10zm2-8zm2 3zm1 12zm7 0zm0 0zm1-7zm2-6zm1 10zm4-16zm4 3zm7 9zm3-5zm4-1zm0 10zm0-18zm5 4zm1 11zm7-7zm1 8zm0-12zm1 9zm4-4zm6 7zm14 3zm1-1zm7-18zm3 8zm17 10zm4 3zm0-7zm9-4zm3-7zm5-3zm8 3zm10 13zm8-1zm3 5zm10-3zm1-16zm15 6zm11 8zm6-12zm10 4zm5 5zm3-11zm3 7zm1-6zm8 12zm2-5zm7 2zm10-3zm4 0zm4 4zm4-11zm4 7zm4-4zm0 5zm4 0zm3-8zm1 9zm6-6zm8 6zm4-8zm0 13zm4-9zm3 14zm8-6zm9 7zm2-10zm16-3zm1-2zm4-3zm6 18zm1-18zm1 12zm7 3zm15-7zm1 9zm1-6zm3 4zm5 2zm9-6zm0-14zm5 17zm2-16zm0 9zm3 5zm7-5zm1-4zm2-5zm0 5zm1 8zm1-7zm3-3zm5-4zm8 9zm0-4zm1 13zm1-10zm3 3zm2 8zm1-15zm3 7zm4-10zm0 11zm3 9zm3-14zm1-6zm1 13zm2-8zm2-3zm4 2zm3 5zm8 11zm3-5zm6-12zm1 8zm2 6zm6-6zm0-6zm6-3zm7 1zm1 5zm3-8zm5-1zm0 0zm9 15zm0-15zm1 20zm2-10zm4 6zm3-14zm0 16zm5-18zm4 12zm0-4zm4 8zm1 3zm3-12zm1 8zm3 2zm1-9zm2 4zm7-5zm1 9zm30-3zm-8 9zm-5 12zm-4 7zm-1-5zm-6 6zm-6-3zm-10-17zm-5 4zm-3 8zm-2 5zm-36-1zm-16 3zm-2-17zm-2 13zm-10-15zm-8 16zm-2-8zm-4-8zm-3 3zm0 16zm-5-10zm-5-7zm-6 19zm-19 0zm-4-19zm-20-2zm-10 13zm-3 3zm-11-15zm-12 11zm-1-5zm-8 4zm-1 8zm-11-1zm-22-16zm-16-1zm-35 13zm0-3zm-4 10zm-3-20zm-2 10zm-5-7zm-6 5zm-5 11zm-7-9zm-6-11zm-3 8zm-2-7zm-2 9zm-6-1zm-3 7zm-2-11zm-3-5zm-2 9zm-17 0zm-7-6zm0 8zm-2 10zm-1-21zm-1 6zm0 9zm-4-6zm-2-6zm-12 1zm-4 9zm-1-9zm-1 16zm-9-18zm-1-1zm-4 4zm-1 0zm-4 15zm-2-11zm-2-8zm-7 6zm-2 6zm-2-6zm-4 7zm-4 3zm-4-2zm-1-1zm-4-12zm-10 18zm-5-17zm-3 12zm-4 0zm0-4zm-3 7zm0-13zm-4 9zm-8-14zm-7 5zm-3-5zm-3 17zm-3-17zm-1 21zm-7-15zm-3-6zm-5 5zm-11 12zm-1-12zm-1-5zm-11 17zm-2-14zm-3 13zm-3-4zm-4 3zm-10-7zm-14 8zm-1-6zm-17 1zm-2-8zm8 23zm25 0zm2 17zm13-10zm7-9zm10-2zm3 11zm1 1zm13-6zm1 11zm10-8zm1 11zm0-4zm5 0zm4-9zm11 12zm0-11zm2-8zm10 20zm1-4zm1-16zm5 4zm9 10zm5-1zm3-13zm9 8zm8-2zm4 9zm1-6zm3-4zm1 13zm6-7zm5-7zm1 12zm1-15zm2 18zm8-16zm3 13zm3-8zm1 9zm9-1zm4 1zm2-12zm4-2zm3 18zm2-17zm3-2zm1 9zm4-8zm2 8zm3 3zm1-12zm0 0zm3 15zm1-12zm1 7zm3 1zm3-1zm3 7zm1-13zm2 5zm3 6zm5 0zm11-4zm0 6zm7-7zm7 7zm7-4zm11-5zm5-4zm5 0zm15 5zm5-7zm13-2zm5 16zm7-17zm8 5zm6 3zm8-8zm12 18zm1-13zm5 13zm0-5zm1-9zm26-4zm9 17zm0-10zm3-8zm7 7zm4 3zm3-8zm0 14zm10 1zm3-14zm0 5zm5 1zm4 2zm1-9zm2 19zm3-14zm1-3zm3 5zm3 9zm4-12zm2-6zm3 0zm6 12zm0-6zm4-4zm0 14zm0 5zm1-12zm3 6zm15-8zm3 6zm1-5zm2 11zm1-8zm1-9zm4 5zm0 3zm0 6zm5-7zm9-7zm4 8zm7 4zm7-2zm4 0zm2 1zm9-10zm0 7zm7 4zm5 2zm0-15zm3 15zm26-16zm-3 31zm-29-7zm-5 8zm-4 2zm-4-4zm-7 8zm-3-4zm-5 8zm-2-19zm0 7zm-3 11zm0-6zm-4-13zm-3 13zm-21 4zm-13-14zm-8 15zm-1-7zm-4 7zm-2-9zm-4 7zm-7-14zm-13 18zm-1-17zm-6-1zm0 18zm-9-6zm-1-11zm-3 6zm-3 8zm-16-3zm-5-11zm-2 11zm-12-4zm-1-6zm-3 7zm-8-1zm-3 2zm-7-9zm-10-1zm0 4zm-7 0zm-1 7zm-2 2zm-5-2zm-1 6zm-4-8zm-8 1zm-5-2zm0-10zm-4 16zm-4-3zm-4 5zm-36 2zm-1 1zm-5-19zm-13 16zm-1-8zm-1 6zm-4-13zm-9 6zm-11 4zm-2-12zm-1 8zm-2 8zm-4 3zm-9-6zm-11-10zm-3 15zm-4-1zm-1-5zm0-12zm-5 2zm-3 5zm-5-3zm-5 7zm-1-6zm-10 2zm-7 0zm-1-2zm-2 5zm0-4zm-1 11zm-3-17zm-3 16zm-1 4zm-6-18zm-5 3zm-1 10zm-2-7zm-14-4zm-7-3zm-5 16zm-1-16zm-6 4zm-2-5zm-3 5zm-2 14zm-7-1zm-8-4zm-7-13zm-4 5zm-4 13zm-10-16zm-2-3zm-6 16zm-4-3zm-5-14zm0 17zm0-12zm-8 9zm-1-4zm-3 3zm-10-6zm-5 0zm-1 8zm-3 3zm-5-17zm-1 18zm-2-10zm-1 4zm-3-9zm13 22zm10-3zm5 13zm4 2zm6-12zm7-3zm8 11zm2 9zm3-2zm1-13zm5-2zm3 12zm1-10zm0 4zm5-9zm3 4zm0 14zm6-1zm13-12zm1 5zm7-7zm9 12zm2-15zm1 19zm6-16zm3 15zm7-14zm5-5zm2 14zm7-3zm6-6zm9 12zm2-2zm2-9zm1 15zm3-21zm6 2zm5 0zm5 2zm3-4zm5 7zm8-6zm4 17zm7-13zm3 5zm4-2zm0 12zm6-9zm2-6zm17-2zm0 5zm2 7zm3 3zm0-16zm0 10zm23 8zm0-7zm6-12zm18 17zm8 3zm4-18zm0 7zm4-3zm3 1zm2 10zm5-8zm1-10zm5 1zm6 3zm6 3zm4 12zm3-8zm3-6zm4 3zm4 9zm3-2zm4-1zm2-6zm7 1zm5 12zm0-2zm9-9zm3-9zm2 4zm12 9zm3-9zm2 13zm1-3zm4 6zm1-18zm1 6zm4 6zm2 0zm3 2zm8-10zm1-4zm6 15zm4-17zm0 19zm4-20zm1 19zm5-17zm3 3zm0 14zm4-6zm3-5zm4-5zm2 1zm7 10zm4 3zm3-15zm7 15zm1 0zm1-3zm11 7zm11-6zm6 5zm5-7zm0-10zm3 7zm10 8zm18-16zm4-2zm4 11zm2-9zm1 16zm1 5zm-4 19zm-1-20zm-1 13zm-7 3zm-4-6zm-14-1zm-5-7zm-13 11zm-5-4zm-4-5zm-5-2zm-1 5zm-7 1zm-2 12zm-1-14zm-2 13zm-8-6zm-3 0zm-3 4zm-2-7zm-3-9zm-1 15zm-2-12zm-4 4zm-1-8zm-2 20zm-10-3zm-3-3zm-1-4zm-1-3zm-24 2zm-5-2zm-3-3zm-9 6zm-8-2zm-5-2zm-2 12zm-1-9zm-16 12zm-4-17zm0 8zm-4-6zm-16 9zm-8-8zm-2 5zm-2 8zm-5-15zm-10 11zm-7-4zm-8-10zm-1 4zm-3 13zm-7-10zm-7 10zm-2-15zm-11-4zm-1 11zm-3-11zm-2 12zm-12-6zm-3-6zm-2 7zm-1 8zm-5 1zm-5-15zm-2 11zm-5-2zm-3 1zm-2 9zm-11 1zm-1-20zm-1 17zm-13-10zm-3 2zm0-1zm-2 5zm0-12zm-1 15zm-22-1zm-12 4zm-9-16zm-13 4zm-2 7zm-1-4zm-3 8zm-5-11zm-2 13zm0-6zm-3-6zm-3 3zm-3-2zm-6 2zm-9-5zm-1-4zm-5 10zm-5-5zm-1-8zm-6 8zm-1-7zm-1 12zm-7-10zm-2-3zm-1 17zm-12-7zm-10 0zm-4 10zm-8 0zm-4 1zm-11-7zm-3 5zm3 3zm6 2zm18 12zm11-2zm2-8zm2 10zm11 1zm5-10zm12 3zm3 5zm9-3zm4 4zm1-2zm3-6zm5 9zm1-14zm14 8zm1 12zm15-8zm5-11zm1 11zm2 5zm10-18zm1 3zm1 10zm2-10zm1 8zm2 5zm5-1zm7 6zm11-20zm11 12zm7 5zm9-7zm0 9zm1-4zm16 4zm9-15zm4 12zm0 3zm11-19zm1 5zm4-2zm7 11zm1 5zm4-13zm2 10zm3 4zm6-17zm14-1zm4 4zm4 9zm14-6zm10 5zm8-11zm4 9zm12-4zm5 3zm16-7zm4 12zm8-7zm5 7zm4 3zm1-16zm1 8zm7 9zm2-5zm7-9zm3 9zm1-15zm5 18zm0-8zm3-4zm4 2zm4 3zm9-9zm8 14zm5-9zm8-4zm15 4zm1-3zm3 12zm8-11zm4 2zm2 6zm1 6zm3-14zm0 0zm5-2zm0 3zm1 1zm6-6zm1 9zm2-1zm0 7zm1 2zm1-4zm0-12zm18-2zm8 8zm-4 13zm-1 17zm-10-4zm-11-4zm-8 12zm-6-6zm-2 5zm-1-15zm-7 8zm-6-8zm-1-1zm-3-4zm-6 9zm-4-8zm-1 9zm0 8zm-3-10zm-10 12zm-3-11zm-2 8zm-20-8zm-12 10zm-8-6zm-4 1zm0 0zm-2-5zm-3 10zm-5-1zm-2 3zm-9-16zm-4 1zm-5 1zm-2-6zm-5 7zm-2 12zm-2-6zm-4-12zm-6 18zm0-12zm-5 8zm-16-10zm-1-6zm-7 3zm-7 18zm-7-14zm-11 9zm-2 4zm-1-17zm0 10zm-12-1zm0-7zm-1 3zm0 7zm-19-13zm-8 16zm-3-15zm0 4zm-1 14zm-5-17zm-7 2zm-4-1zm-12 10zm-1 5zm-1-5zm-10-4zm0-8zm-3-2zm-1 7zm-7 7zm-2-15zm-1 9zm0 8zm-4 4zm-5-11zm-3 11zm-2-6zm-3-14zm0 16zm-2-12zm-12 10zm-4 2zm-3-2zm-6-8zm-1-4zm-11 6zm0 12zm-2-4zm-3-9zm-11 9zm-3-4zm-1 5zm-13-16zm0 10zm-6-2zm-11 1zm-2-10zm-21 15zm-2-16zm-1 10zm-10 3zm-4-5zm-3 6zm-3 6zm-18-20zm-2 8zm29 22zm2 6zm2 3zm4-4zm19-12zm12 1zm2 16zm1 1zm2 0zm9-8zm5-10zm0 9zm10-7zm17 15zm4-2zm4 1zm16-16zm9 18zm3-18zm1 15zm2-10zm5 14zm3-6zm1 1zm4-6zm7-9zm2 17zm3 2zm1-18zm1 3zm2 8zm1-4zm7-2zm5-4zm1 19zm1-4zm2-16zm20 3zm6 11zm2 4zm3-8zm2-4zm11-7zm2 3zm19 8zm0-10zm5 18zm7-9zm3-2zm2-3zm2 14zm1-18zm21 2zm1 12zm2-5zm8-8zm1 5zm2 8zm4 0zm4-1zm5-11zm0 13zm2-8zm1-8zm3 4zm4 5zm1-4zm2 3zm2 11zm5-3zm0-11zm6 7zm14 5zm2-4zm10 8zm2-16zm1-1zm1 10zm2-8zm21 13zm4-16zm4-3zm3 6zm0 9zm6 6zm12-15zm3 7zm6-1zm8-1zm1-11zm16 10zm5-4zm1 0zm12 10zm2-9zm6 9zm-17 11zm0 13zm-14-11zm-6 6zm-2-11zm-3 15zm-3-10zm-5 6zm-5-11zm-7-1zm-5 0zm-12 5zm-12 14zm-9-17zm-2 8zm-1-9zm-2 0zm-4 13zm-2-13zm-10 11zm0-1zm-4 4zm-1-9zm-12 7zm-5-4zm-10-2zm-6 7zm0-5zm-9 3zm-6 1zm-2-5zm-6 6zm-1-5zm-5 5zm-1 6zm0-10zm-10 1zm-7-5zm-5 13zm-5-4zm-3-14zm-7 2zm-2-3zm-4 17zm-2-8zm-12 1zm-17 10zm-3-13zm-16 1zm-4 4zm-4 6zm0-2zm-5-13zm-2 6zm-2 7zm-15-13zm-8 1zm-2 9zm0-14zm-4 6zm-5 5zm-1-10zm-1 3zm-4 0zm-1 11zm-4-10zm-2 8zm-4 3zm-5-10zm-4 5zm-1 0zm-3 2zm-1-12zm-2 8zm-12 9zm-3-10zm-3 12zm-7-20zm-1 15zm-7-4zm-2-9zm-6 5zm-1-4zm-5-1zm-4 8zm-4 8zm-10-4zm-2-6zm-4 2zm-2-7zm-2 6zm-5-9zm-8 4zm16 26zm19-3zm13 6zm15-6zm0 10zm1-15zm0 18zm7-16zm0 16zm1-13zm1 16zm11-13zm2-3zm4 0zm6 1zm4 4zm3-4zm0 7zm2-10zm0 1zm2 8zm32-11zm5 2zm12 15zm11-12zm0-3zm1 5zm12 9zm1-9zm2 6zm1 7zm3-6zm6-11zm6 2zm7 10zm2-7zm3-8zm3 14zm3-10zm0-4zm5 19zm7-16zm12 10zm5-11zm2 2zm13 9zm1 4zm0-10zm9-3zm7-5zm2 15zm5-10zm3-1zm3 3zm2-4zm5 8zm5-3zm4 4zm4 1zm0 2zm13-14zm2 20zm1-13zm6 12zm10-4zm13-11zm1 11zm1 4zm1-10zm7 0zm3 10zm2-20zm7 17zm5-5zm1 1zm3-8zm4 14zm5-1zm2-12zm6 9zm3-7zm5-3zm5 12zm0 2zm3-2zm11-8zm3-6zm3 7zm2-4zm5 1zm7-6zm-25 33zm0 8zm-3-5zm-4 5zm-3-20zm-6 9zm-4 4zm-3-4zm-7 12zm-10-20zm-1 11zm-1-3zm-4-4zm-8 4zm-9-1zm-2 11zm-3-12zm-13 0zm-9 4zm-3-3zm-1-7zm-2 9zm-4 8zm-3-9zm-3 3zm0 7zm-3-9zm-20-6zm-5 17zm-3-8zm-2 6zm-3-16zm-3 4zm0 4zm-7-2zm-5 6zm-3 4zm0-17zm0 5zm-7-2zm0 5zm-1-7zm-5 5zm-4 13zm-5-9zm-9-9zm-20 16zm-6-1zm-2-4zm-1 7zm-2-19zm-10 0zm-6 5zm0 11zm-2-7zm-3-2zm-7-1zm0 7zm-3 0zm-2-5zm-4-2zm-4 13zm-3-2zm-15-5zm-9-13zm-2 20zm-5-9zm0 8zm-10-17zm-2 12zm-10-1zm-2-8zm-3 10zm-1-15zm-3 12zm-2-9zm0 3zm-5 3zm-9-5zm-7-1zm-5 11zm-3-14zm-2 10zm-1 9zm-3-17zm-3-1zm-4 0zm-7 0zm-4 1zm-4-2zm-4 1zm26 22zm17 8zm1-3zm23 13zm4-18zm1 18zm4-20zm1 10zm4 4zm1-2zm4 3zm5-14zm11 9zm0 7zm1-12zm3 15zm13-20zm5 1zm9 17zm8 1zm9-7zm2 4zm3 5zm10-13zm0-6zm2 18zm3-16zm4 4zm5-7zm3 11zm4 5zm11-2zm5 6zm9-19zm9 9zm1-11zm1 5zm6-3zm10 8zm10-10zm4 2zm4 15zm7-16zm2 12zm1 8zm0-16zm11 4zm5 8zm3-16zm2 10zm1 6zm21-5zm2-9zm4-1zm10 6zm0-6zm9 10zm1 7zm8-10zm3-9zm6 2zm0 16zm5 1zm6 1zm6 0zm5-13zm9 4zm7 13zm-9 17zm0-17zm-4 5zm-4 7zm-1 6zm-2-3zm-3-15zm-4 17zm-6-6zm-1-11zm-4 17zm0-13zm-3 15zm-1-17zm-1-4zm-3 4zm-25 0zm-7 9zm-8-5zm-4 3zm-6-3zm0 0zm-13 9zm-5 3zm-2-4zm-12 0zm-1-16zm-5 6zm0-5zm-7 13zm-13-1zm-3 4zm-2-8zm-1-4zm-2 10zm-2 4zm-12-8zm-16 10zm-2-7zm-1-8zm-2 13zm-3-10zm-1-6zm-7 9zm-1 4zm-3-15zm-6 5zm-6-4zm-6 0zm-6 2zm-10-3zm-8 17zm-10 0zm0-9zm-4 7zm-16-7zm-6 2zm0 7zm-8-17zm-5 15zm-2-12zm-5-1zm-4 10zm-4-6zm-3 7zm-12-9zm17 20zm19 3zm14 2zm19 2zm15 10zm11-10zm0-4zm4 9zm9-6zm1 4zm0-11zm11 9zm3-6zm3-5zm5 16zm1-4zm2-6zm4-2zm1 6zm9 3zm5-10zm2 16zm5-17zm1 11zm8-4zm24 4zm2 5zm5-2zm6 4zm4-18zm3 10zm22 8zm8-5zm12-9zm2-6zm7 17zm4-3zm1-7zm3 14zm8-8zm2-8zm5-5zm6 20zm3-9zm13-2zm2-6zm7 2zm-15 36zm-20 1zm-10-4zm-1-9zm0 5zm-5 4zm-5-4zm-4 9zm-1-17zm0 16zm0-7zm-10-7zm-1-6zm-5 0zm0 8zm-2 9zm-7-3zm-8 4zm-15-16zm-14-1zm-1 5zm-3 12zm-3-15zm-1-3zm-7 3zm-18 16zm-7-7zm0-8zm-6 17zm-5-14zm-3-2zm-3 13zm-3-11zm-6 11zm-3-18zm-5 21zm-2-12zm-2-7zm0 12zm-3-7zm-2 7zm-10-8zm-2 7zm-1-4zm-2-2zm-2 9zm-2 4zm-3-15zm-5 6zm-10-9zm15 23zm6 1zm8 8zm10 3zm4-7zm0-4zm5 17zm0-5zm2-10zm5 8zm9-3zm2-7zm1 3zm6 9zm3 0zm4 4zm14-19zm10 16zm2-7zm5 0zm10 4zm6 1zm9-5zm3 9zm1-9zm11 10zm0-6zm4-2zm12 5zm2-8zm7 6zm3-4zm10-5zm4 12zm0-3zm2-12zm9 14zm3 3zm2-8zm2-11zm13 5zm-13 31zm-7-6zm-1-8zm-1 12zm-2-7zm0-6zm-3 7zm0 7zm-1-11zm-25 13zm0-10zm-2 5zm-9 3zm-2-11zm-5 16zm-12-12zm-5 5zm0-4zm-4-6zm-10 6zm-5-8zm-1 19zm-9-16zm-9 0zm-5 7zm-1-5zm-15-1zm67 20zm25-2zm3 2zm15-2z"/>
</g>
<g stroke="#000" stroke-width="4.3" fill="none">
<path d="M134 95.4V2583H2447" stroke-linejoin="miter"/>
<path d="M122.6 108.3H134M122.6 494.2H134M122.6 880.1H134M122.6 1266.0H134M122.6 1651.9H134M122.6 2037.8H134M122.6 2423.7H134M306.4 2583V2594.4M739.5 2583V2594.4M1172.6 2583V2594.4M1605.7 2583V2594.4M2038.8 2583V2594.4"/>
</g>
<text class="t" text-anchor="end" x="113.5" y="120.7">30</text>
<text class="t" text-anchor="end" x="113.5" y="506.6">20</text>
<text class="t" text-anchor="end" x="113.5" y="892.5">10</text>
<text class="t" text-anchor="end" x="113.5" y="1278.4">0</text>
<text class="t" text-anchor="end" x="113.5" y="1664.3">-10</text>
<text class="t" text-anchor="end" x="113.5" y="2050.2">-20</text>
<text class="t" text-anchor="end" x="113.5" y="2436.1">-30</text>
<text class="t" text-anchor="middle" x="306.4" y="2628.4">-30</text>
<text class="t" text-anchor="middle" x="739.5" y="2628.4">-20</text>
<text class="t" text-anchor="middle" x="1172.6" y="2628.4">-10</text>
<text class="t" text-anchor="middle" x="1605.7" y="2628.4">0</text>
<text class="t" text-anchor="middle" x="2038.8" y="2628.4">10</text>
<text class="a" text-anchor="middle" x="1288" y="2669.8">umap-Dim.1</text>
<text class="a" text-anchor="middle" transform="translate(47.1 1340) rotate(-90)">umap-Dim.2</text>
<text text-anchor="middle" x="1290" y="62.5" style="font-size:55.4px">leiden_clus</text>
<text class="l" x="1916.0" y="529.4">6</text>
<text class="l" x="2120.0" y="853.4">9</text>
<text class="l" x="2133.5" y="962.4">2</text>
<text class="l" x="1487.5" y="922.4">7</text>
<text class="l" x="1221.0" y="906.4">10</text>
<text class="l" x="1688.0" y="1181.4">1</text>
<text class="l" x="392.5" y="1106.4">8</text>
<text class="l" x="2061.0" y="1424.4">4</text>
<text class="l" x="2139.0" y="1504.4">12</text>
<text class="l" x="1375.0" y="1480.4">11</text>
<text class="l" x="969.7" y="1655.9">5</text>
<text class="l" x="1406.7" y="2141.9">3</text>
<circle cx="2549.1" cy="944.2" r="8.9" fill="#E58606"/>
<text class="g" x="2607.5" y="958.9">1</text>
<circle cx="2549.1" cy="1016.2" r="8.9" fill="#5D69B1"/>
<text class="g" x="2607.5" y="1030.8">2</text>
<circle cx="2549.1" cy="1088.2" r="8.9" fill="#52BCA3"/>
<text class="g" x="2607.5" y="1102.8">3</text>
<circle cx="2549.1" cy="1160.2" r="8.9" fill="#99C945"/>
<text class="g" x="2607.5" y="1174.8">4</text>
<circle cx="2549.1" cy="1232.2" r="8.9" fill="#CC61B0"/>
<text class="g" x="2607.5" y="1246.8">5</text>
<circle cx="2549.1" cy="1304.2" r="8.9" fill="#24796C"/>
<text class="g" x="2607.5" y="1318.8">6</text>
<circle cx="2549.1" cy="1376.2" r="8.9" fill="#DAA51B"/>
<text class="g" x="2607.5" y="1390.8">7</text>
<circle cx="2549.1" cy="1448.2" r="8.9" fill="#2F8AC4"/>
<text class="g" x="2607.5" y="1462.8">8</text>
<circle cx="2549.1" cy="1520.2" r="8.9" fill="#764E9F"/>
<text class="g" x="2607.5" y="1534.8">9</text>
<circle cx="2549.1" cy="1592.2" r="8.9" fill="#ED645A"/>
<text class="g" x="2607.5" y="1606.8">10</text>
<circle cx="2549.1" cy="1664.2" r="8.9" fill="#CC3A8E"/>
<text class="g" x="2607.5" y="1678.8">11</text>
<circle cx="2549.1" cy="1736.2" r="8.9" fill="#A5AA99"/>
<text class="g" x="2607.5" y="1750.8">12</text>
</svg></body></html>
